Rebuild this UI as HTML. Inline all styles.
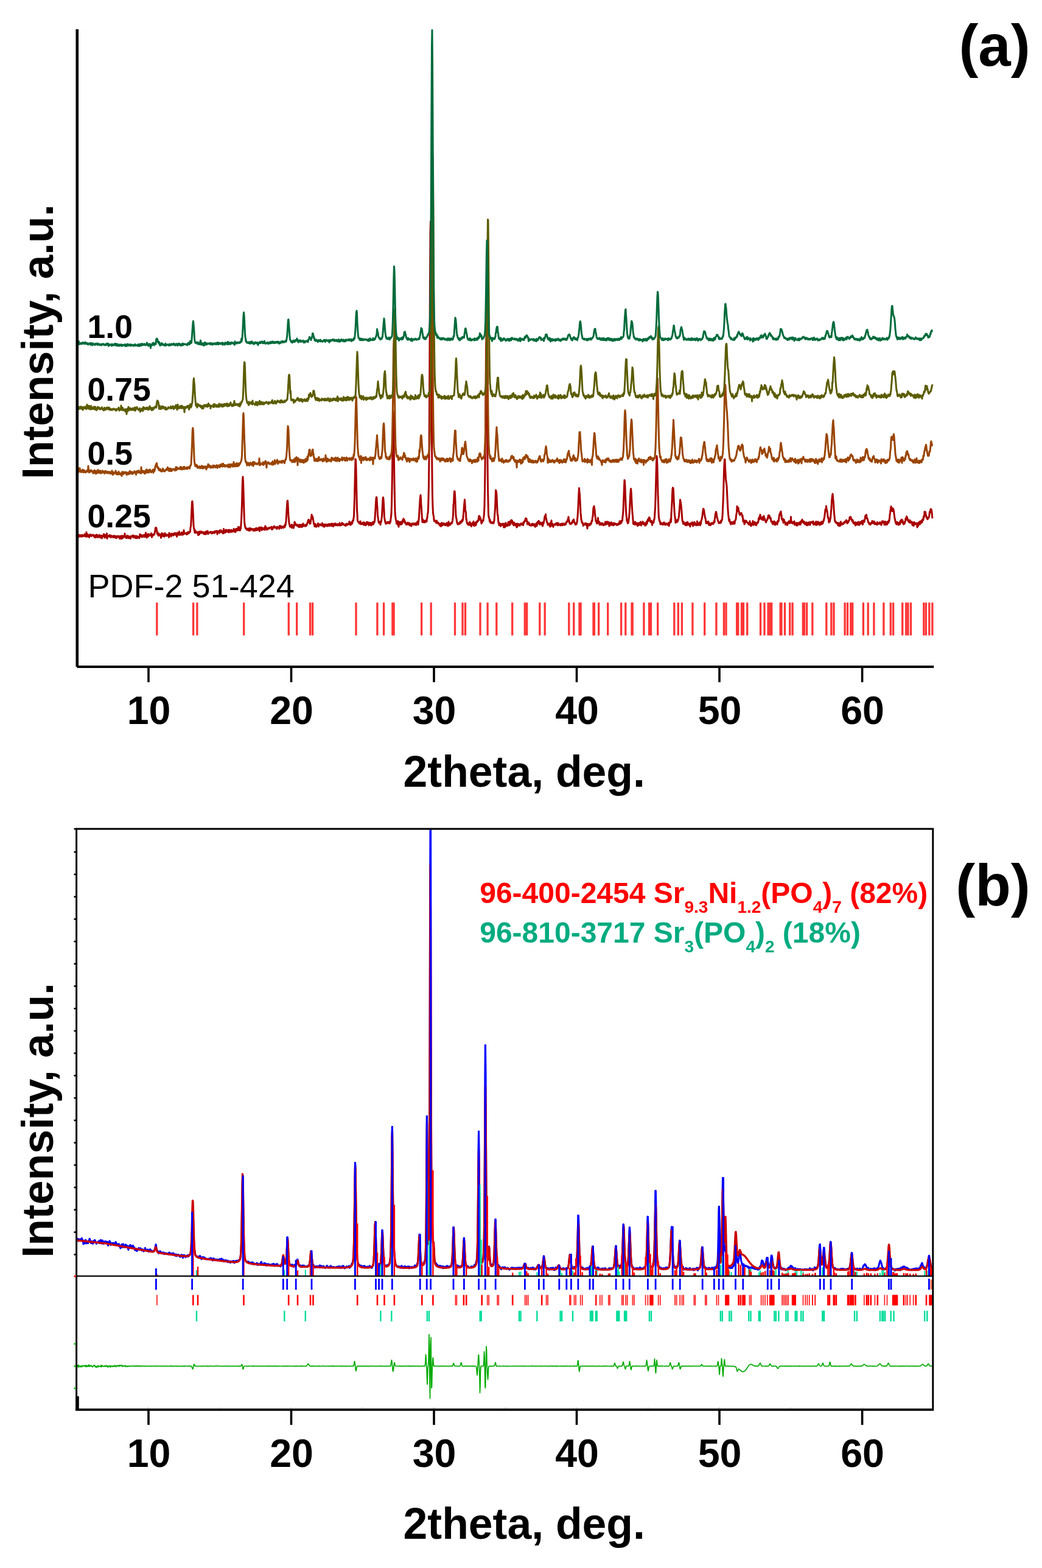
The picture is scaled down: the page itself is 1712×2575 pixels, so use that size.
<!DOCTYPE html>
<html><head><meta charset="utf-8"><title>XRD patterns</title>
<style>html,body{margin:0;padding:0;background:#fff;} svg{display:block;}</style>
</head><body>
<svg width="1712" height="2575" viewBox="0 0 1712 2575">
<rect x="0" y="0" width="1712" height="2575" fill="#ffffff"/>
<g stroke="#ff3535" stroke-width="3.3">
<line x1="257.8" y1="989.5" x2="257.8" y2="1043.5"/><line x1="317.6" y1="989.5" x2="317.6" y2="1043.5"/><line x1="323.9" y1="989.5" x2="323.9" y2="1043.5"/><line x1="400.7" y1="989.5" x2="400.7" y2="1043.5"/><line x1="474.3" y1="989.5" x2="474.3" y2="1043.5"/><line x1="487.7" y1="989.5" x2="487.7" y2="1043.5"/><line x1="509.6" y1="989.5" x2="509.6" y2="1043.5"/><line x1="513.6" y1="989.5" x2="513.6" y2="1043.5"/><line x1="585.0" y1="989.5" x2="585.0" y2="1043.5"/><line x1="619.9" y1="989.5" x2="619.9" y2="1043.5"/><line x1="630.6" y1="989.5" x2="630.6" y2="1043.5"/><line x1="644.9" y1="989.5" x2="644.9" y2="1043.5"/><line x1="647.1" y1="989.5" x2="647.1" y2="1043.5"/><line x1="692.6" y1="989.5" x2="692.6" y2="1043.5"/><line x1="708.2" y1="989.5" x2="708.2" y2="1043.5"/><line x1="747.5" y1="989.5" x2="747.5" y2="1043.5"/><line x1="760.0" y1="989.5" x2="760.0" y2="1043.5"/><line x1="764.5" y1="989.5" x2="764.5" y2="1043.5"/><line x1="789.0" y1="989.5" x2="789.0" y2="1043.5"/><line x1="801.1" y1="989.5" x2="801.1" y2="1043.5"/><line x1="815.8" y1="989.5" x2="815.8" y2="1043.5"/><line x1="841.7" y1="989.5" x2="841.7" y2="1043.5"/><line x1="862.3" y1="989.5" x2="862.3" y2="1043.5"/><line x1="865.7" y1="989.5" x2="865.7" y2="1043.5"/><line x1="886.8" y1="989.5" x2="886.8" y2="1043.5"/><line x1="895.2" y1="989.5" x2="895.2" y2="1043.5"/><line x1="934.8" y1="989.5" x2="934.8" y2="1043.5"/><line x1="942.8" y1="989.5" x2="942.8" y2="1043.5"/><line x1="952.0" y1="989.5" x2="952.0" y2="1043.5"/><line x1="954.1" y1="989.5" x2="954.1" y2="1043.5"/><line x1="975.0" y1="989.5" x2="975.0" y2="1043.5"/><line x1="976.4" y1="989.5" x2="976.4" y2="1043.5"/><line x1="983.7" y1="989.5" x2="983.7" y2="1043.5"/><line x1="998.7" y1="989.5" x2="998.7" y2="1043.5"/><line x1="1020.6" y1="989.5" x2="1020.6" y2="1043.5"/><line x1="1027.8" y1="989.5" x2="1027.8" y2="1043.5"/><line x1="1038.0" y1="989.5" x2="1038.0" y2="1043.5"/><line x1="1039.2" y1="989.5" x2="1039.2" y2="1043.5"/><line x1="1057.9" y1="989.5" x2="1057.9" y2="1043.5"/><line x1="1066.6" y1="989.5" x2="1066.6" y2="1043.5"/><line x1="1069.5" y1="989.5" x2="1069.5" y2="1043.5"/><line x1="1080.7" y1="989.5" x2="1080.7" y2="1043.5"/><line x1="1107.8" y1="989.5" x2="1107.8" y2="1043.5"/><line x1="1114.3" y1="989.5" x2="1114.3" y2="1043.5"/><line x1="1120.4" y1="989.5" x2="1120.4" y2="1043.5"/><line x1="1137.9" y1="989.5" x2="1137.9" y2="1043.5"/><line x1="1157.7" y1="989.5" x2="1157.7" y2="1043.5"/><line x1="1176.9" y1="989.5" x2="1176.9" y2="1043.5"/><line x1="1189.4" y1="989.5" x2="1189.4" y2="1043.5"/><line x1="1193.0" y1="989.5" x2="1193.0" y2="1043.5"/><line x1="1210.7" y1="989.5" x2="1210.7" y2="1043.5"/><line x1="1212.7" y1="989.5" x2="1212.7" y2="1043.5"/><line x1="1218.5" y1="989.5" x2="1218.5" y2="1043.5"/><line x1="1221.4" y1="989.5" x2="1221.4" y2="1043.5"/><line x1="1227.7" y1="989.5" x2="1227.7" y2="1043.5"/><line x1="1249.5" y1="989.5" x2="1249.5" y2="1043.5"/><line x1="1256.0" y1="989.5" x2="1256.0" y2="1043.5"/><line x1="1262.1" y1="989.5" x2="1262.1" y2="1043.5"/><line x1="1265.0" y1="989.5" x2="1265.0" y2="1043.5"/><line x1="1267.7" y1="989.5" x2="1267.7" y2="1043.5"/><line x1="1282.2" y1="989.5" x2="1282.2" y2="1043.5"/><line x1="1283.9" y1="989.5" x2="1283.9" y2="1043.5"/><line x1="1289.5" y1="989.5" x2="1289.5" y2="1043.5"/><line x1="1297.7" y1="989.5" x2="1297.7" y2="1043.5"/><line x1="1302.1" y1="989.5" x2="1302.1" y2="1043.5"/><line x1="1319.3" y1="989.5" x2="1319.3" y2="1043.5"/><line x1="1321.5" y1="989.5" x2="1321.5" y2="1043.5"/><line x1="1325.6" y1="989.5" x2="1325.6" y2="1043.5"/><line x1="1334.8" y1="989.5" x2="1334.8" y2="1043.5"/><line x1="1357.8" y1="989.5" x2="1357.8" y2="1043.5"/><line x1="1365.8" y1="989.5" x2="1365.8" y2="1043.5"/><line x1="1370.0" y1="989.5" x2="1370.0" y2="1043.5"/><line x1="1388.1" y1="989.5" x2="1388.1" y2="1043.5"/><line x1="1392.5" y1="989.5" x2="1392.5" y2="1043.5"/><line x1="1397.8" y1="989.5" x2="1397.8" y2="1043.5"/><line x1="1400.7" y1="989.5" x2="1400.7" y2="1043.5"/><line x1="1418.4" y1="989.5" x2="1418.4" y2="1043.5"/><line x1="1426.2" y1="989.5" x2="1426.2" y2="1043.5"/><line x1="1435.9" y1="989.5" x2="1435.9" y2="1043.5"/><line x1="1451.9" y1="989.5" x2="1451.9" y2="1043.5"/><line x1="1463.3" y1="989.5" x2="1463.3" y2="1043.5"/><line x1="1467.6" y1="989.5" x2="1467.6" y2="1043.5"/><line x1="1482.7" y1="989.5" x2="1482.7" y2="1043.5"/><line x1="1488.7" y1="989.5" x2="1488.7" y2="1043.5"/><line x1="1491.9" y1="989.5" x2="1491.9" y2="1043.5"/><line x1="1496.5" y1="989.5" x2="1496.5" y2="1043.5"/><line x1="1517.8" y1="989.5" x2="1517.8" y2="1043.5"/><line x1="1521.4" y1="989.5" x2="1521.4" y2="1043.5"/><line x1="1526.8" y1="989.5" x2="1526.8" y2="1043.5"/><line x1="1531.9" y1="989.5" x2="1531.9" y2="1043.5"/>
</g>
<polyline fill="none" stroke="#a80000" stroke-width="3" stroke-linejoin="round" points="127.0,881.0 127.5,876.6 128.0,878.3 128.5,879.0 129.0,878.5 129.5,881.5 130.0,879.8 130.5,880.9 131.0,878.6 131.5,879.2 132.0,880.6 132.5,879.1 133.0,879.1 133.5,881.2 134.0,879.0 134.5,881.1 135.0,878.4 135.5,878.8 136.0,880.3 136.5,880.1 137.0,880.7 137.5,879.4 138.0,879.3 138.5,878.7 139.0,877.2 139.5,878.9 140.0,880.9 140.5,879.4 141.0,879.8 141.5,881.3 142.0,874.0 142.5,880.1 143.0,878.8 143.5,881.2 144.0,877.6 144.5,879.2 145.0,878.9 145.5,879.2 146.0,878.9 146.5,882.4 147.0,879.4 147.5,879.6 148.0,877.8 148.5,877.9 149.0,878.8 149.5,878.1 150.0,880.6 150.5,879.1 151.0,879.3 151.5,879.7 152.0,878.7 152.5,878.2 153.0,879.0 153.5,879.8 154.0,879.9 154.5,878.9 155.0,882.3 155.5,880.6 156.0,881.1 156.5,882.3 157.0,878.9 157.5,882.7 158.0,880.5 158.5,881.5 159.0,878.1 159.5,879.1 160.0,880.3 160.5,880.2 161.0,882.5 161.5,879.8 162.0,880.7 162.5,879.9 163.0,878.6 163.5,879.9 164.0,880.6 164.5,882.9 165.0,882.2 165.5,879.7 166.0,879.3 166.5,880.5 167.0,879.8 167.5,884.0 168.0,881.8 168.5,880.5 169.0,879.9 169.5,879.2 170.0,880.6 170.5,877.1 171.0,880.2 171.5,880.1 172.0,882.9 172.5,878.3 173.0,882.1 173.5,880.4 174.0,881.9 174.5,879.8 175.0,881.5 175.5,876.0 176.0,884.5 176.5,879.8 177.0,880.8 177.5,880.8 178.0,880.2 178.5,880.9 179.0,881.1 179.5,880.6 180.0,878.7 180.5,881.5 181.0,879.1 181.5,881.0 182.0,882.6 182.5,879.4 183.0,881.0 183.5,881.5 184.0,881.2 184.5,880.6 185.0,881.3 185.5,882.3 186.0,879.9 186.5,881.1 187.0,882.4 187.5,880.6 188.0,879.7 188.5,882.5 189.0,882.4 189.5,882.8 190.0,881.5 190.5,880.6 191.0,883.7 191.5,883.3 192.0,882.7 192.5,880.9 193.0,881.8 193.5,880.4 194.0,880.2 194.5,881.8 195.0,882.2 195.5,882.5 196.0,881.9 196.5,884.6 197.0,880.4 197.5,883.6 198.0,881.3 198.5,883.2 199.0,880.6 199.5,885.0 200.0,883.9 200.5,879.7 201.0,883.8 201.5,882.2 202.0,883.3 202.5,882.0 203.0,881.8 203.5,880.0 204.0,881.2 204.5,881.8 205.0,876.3 205.5,880.4 206.0,881.8 206.5,882.4 207.0,881.1 207.5,883.7 208.0,881.0 208.5,882.5 209.0,879.6 209.5,880.5 210.0,883.2 210.5,881.4 211.0,880.4 211.5,883.8 212.0,883.8 212.5,881.1 213.0,883.0 213.5,882.8 214.0,881.4 214.5,884.5 215.0,881.2 215.5,880.4 216.0,881.4 216.5,881.1 217.0,880.7 217.5,880.8 218.0,879.3 218.5,882.0 219.0,879.3 219.5,882.7 220.0,882.1 220.5,880.5 221.0,880.5 221.5,880.1 222.0,881.0 222.5,883.5 223.0,881.4 223.5,880.3 224.0,883.4 224.5,880.3 225.0,880.4 225.5,883.8 226.0,881.8 226.5,882.5 227.0,881.6 227.5,881.5 228.0,881.7 228.5,881.8 229.0,883.8 229.5,879.0 230.0,877.3 230.5,880.2 231.0,878.5 231.5,880.7 232.0,878.8 232.5,880.5 233.0,882.0 233.5,879.7 234.0,879.4 234.5,881.5 235.0,879.3 235.5,880.2 236.0,880.1 236.5,878.5 237.0,881.6 237.5,878.7 238.0,881.4 238.5,880.7 239.0,878.6 239.5,874.8 240.0,881.3 240.5,879.6 241.0,883.1 241.5,878.6 242.0,881.6 242.5,877.6 243.0,879.5 243.5,881.3 244.0,877.1 244.5,880.2 245.0,878.2 245.5,877.8 246.0,878.6 246.5,878.9 247.0,878.9 247.5,878.7 248.0,878.3 248.5,875.8 249.0,881.2 249.5,882.3 250.0,879.9 250.5,878.8 251.0,877.7 251.5,879.4 252.0,879.2 252.5,877.2 253.0,877.6 253.5,877.9 254.0,875.6 254.5,872.9 255.0,870.5 255.5,866.8 256.0,866.3 256.5,866.7 257.0,867.5 257.5,870.9 258.0,874.9 258.5,877.1 259.0,873.9 259.5,875.8 260.0,879.6 260.5,879.1 261.0,879.2 261.5,876.6 262.0,878.7 262.5,879.5 263.0,879.3 263.5,877.6 264.0,877.8 264.5,883.3 265.0,878.9 265.5,880.5 266.0,875.4 266.5,877.8 267.0,880.3 267.5,876.9 268.0,878.7 268.5,880.6 269.0,877.1 269.5,878.9 270.0,881.2 270.5,876.6 271.0,875.6 271.5,879.9 272.0,877.7 272.5,878.3 273.0,878.4 273.5,880.0 274.0,877.9 274.5,879.6 275.0,879.3 275.5,878.2 276.0,879.7 276.5,878.6 277.0,878.0 277.5,882.4 278.0,875.2 278.5,876.4 279.0,876.6 279.5,877.4 280.0,878.2 280.5,877.6 281.0,881.1 281.5,877.1 282.0,876.3 282.5,877.8 283.0,877.2 283.5,877.1 284.0,879.1 284.5,878.2 285.0,879.3 285.5,876.1 286.0,878.5 286.5,877.6 287.0,876.7 287.5,875.3 288.0,877.4 288.5,875.8 289.0,878.5 289.5,878.1 290.0,878.1 290.5,881.3 291.0,879.2 291.5,874.7 292.0,878.1 292.5,877.6 293.0,877.5 293.5,876.5 294.0,878.5 294.5,873.1 295.0,875.2 295.5,878.0 296.0,877.3 296.5,878.3 297.0,876.4 297.5,876.2 298.0,878.0 298.5,874.5 299.0,874.4 299.5,878.2 300.0,875.2 300.5,878.0 301.0,877.0 301.5,877.5 302.0,870.7 302.5,875.2 303.0,875.6 303.5,876.4 304.0,876.1 304.5,876.4 305.0,875.6 305.5,876.4 306.0,876.6 306.5,875.3 307.0,877.7 307.5,877.2 308.0,874.4 308.5,876.5 309.0,876.4 309.5,873.5 310.0,875.8 310.5,874.6 311.0,875.2 311.5,874.2 312.0,874.2 312.5,872.5 313.0,866.2 313.5,864.5 314.0,857.1 314.5,846.4 315.0,835.1 315.5,824.2 316.0,823.2 316.5,828.8 317.0,838.1 317.5,849.6 318.0,862.1 318.5,867.8 319.0,868.0 319.5,870.9 320.0,874.9 320.5,873.8 321.0,871.2 321.5,874.3 322.0,875.1 322.5,874.7 323.0,873.9 323.5,873.9 324.0,873.7 324.5,873.9 325.0,875.3 325.5,878.6 326.0,878.8 326.5,874.9 327.0,873.1 327.5,877.7 328.0,874.8 328.5,874.8 329.0,872.8 329.5,875.1 330.0,874.2 330.5,875.2 331.0,872.9 331.5,875.2 332.0,873.4 332.5,873.9 333.0,874.2 333.5,874.3 334.0,874.3 334.5,876.7 335.0,874.1 335.5,874.0 336.0,874.1 336.5,874.5 337.0,877.6 337.5,876.2 338.0,874.0 338.5,872.9 339.0,876.4 339.5,874.8 340.0,875.2 340.5,876.4 341.0,871.9 341.5,873.8 342.0,874.9 342.5,876.6 343.0,874.4 343.5,874.6 344.0,874.4 344.5,874.4 345.0,874.6 345.5,873.5 346.0,873.3 346.5,873.7 347.0,875.1 347.5,875.9 348.0,874.4 348.5,873.7 349.0,875.9 349.5,874.9 350.0,875.1 350.5,873.8 351.0,873.4 351.5,874.6 352.0,873.7 352.5,875.5 353.0,872.5 353.5,874.2 354.0,873.8 354.5,872.2 355.0,873.1 355.5,872.1 356.0,873.1 356.5,873.2 357.0,877.3 357.5,872.0 358.0,874.4 358.5,872.7 359.0,873.9 359.5,872.8 360.0,872.1 360.5,875.3 361.0,874.8 361.5,870.7 362.0,872.9 362.5,872.6 363.0,870.8 363.5,873.3 364.0,873.7 364.5,873.0 365.0,873.6 365.5,875.4 366.0,872.2 366.5,874.6 367.0,875.9 367.5,868.6 368.0,872.3 368.5,874.6 369.0,873.1 369.5,874.9 370.0,874.6 370.5,873.7 371.0,870.1 371.5,873.6 372.0,872.1 372.5,872.6 373.0,870.6 373.5,873.0 374.0,872.4 374.5,870.8 375.0,871.6 375.5,874.1 376.0,874.2 376.5,869.9 377.0,872.7 377.5,871.5 378.0,871.1 378.5,872.2 379.0,873.9 379.5,872.5 380.0,870.3 380.5,871.7 381.0,872.2 381.5,873.1 382.0,871.4 382.5,871.6 383.0,871.7 383.5,872.3 384.0,868.6 384.5,873.2 385.0,871.6 385.5,871.1 386.0,869.5 386.5,871.3 387.0,873.8 387.5,870.0 388.0,868.4 388.5,871.3 389.0,870.6 389.5,870.4 390.0,868.2 390.5,870.9 391.0,871.0 391.5,865.3 392.0,870.0 392.5,870.7 393.0,868.0 393.5,865.9 394.0,868.7 394.5,871.1 395.0,867.5 395.5,868.3 396.0,861.9 396.5,854.3 397.0,842.1 397.5,829.1 398.0,806.1 398.5,790.1 399.0,782.9 399.5,790.2 400.0,806.2 400.5,823.0 401.0,840.0 401.5,855.8 402.0,860.6 402.5,864.3 403.0,865.8 403.5,867.7 404.0,866.7 404.5,867.6 405.0,869.5 405.5,868.6 406.0,870.1 406.5,868.6 407.0,868.3 407.5,870.4 408.0,868.9 408.5,867.9 409.0,871.4 409.5,868.9 410.0,869.8 410.5,871.3 411.0,867.3 411.5,868.7 412.0,870.5 412.5,868.7 413.0,868.5 413.5,868.9 414.0,868.6 414.5,868.6 415.0,869.6 415.5,869.1 416.0,871.4 416.5,869.4 417.0,871.3 417.5,869.1 418.0,871.4 418.5,868.6 419.0,870.6 419.5,869.0 420.0,871.1 420.5,867.6 421.0,868.0 421.5,869.2 422.0,867.2 422.5,870.7 423.0,868.3 423.5,869.3 424.0,870.0 424.5,869.3 425.0,867.4 425.5,866.5 426.0,866.0 426.5,872.4 427.0,867.2 427.5,867.1 428.0,868.9 428.5,866.2 429.0,865.8 429.5,868.4 430.0,870.6 430.5,866.7 431.0,867.8 431.5,867.9 432.0,869.5 432.5,869.1 433.0,867.2 433.5,869.2 434.0,867.9 434.5,868.9 435.0,870.3 435.5,864.6 436.0,863.9 436.5,865.7 437.0,865.8 437.5,867.7 438.0,867.7 438.5,870.0 439.0,869.5 439.5,867.9 440.0,867.3 440.5,868.4 441.0,868.0 441.5,866.7 442.0,868.3 442.5,866.6 443.0,867.1 443.5,867.0 444.0,866.3 444.5,866.2 445.0,867.2 445.5,866.9 446.0,865.3 446.5,869.4 447.0,869.4 447.5,869.3 448.0,868.6 448.5,866.7 449.0,865.5 449.5,865.4 450.0,864.3 450.5,866.3 451.0,864.3 451.5,866.8 452.0,866.8 452.5,865.8 453.0,865.8 453.5,866.4 454.0,867.3 454.5,866.0 455.0,868.8 455.5,865.1 456.0,865.5 456.5,865.6 457.0,866.0 457.5,866.5 458.0,867.0 458.5,865.7 459.0,868.4 459.5,863.4 460.0,866.4 460.5,866.0 461.0,864.0 461.5,863.8 462.0,866.0 462.5,867.4 463.0,866.2 463.5,865.5 464.0,865.1 464.5,864.7 465.0,864.8 465.5,866.1 466.0,866.6 466.5,865.7 467.0,863.8 467.5,865.3 468.0,865.6 468.5,860.9 469.0,862.7 469.5,859.2 470.0,855.9 470.5,847.4 471.0,838.9 471.5,830.8 472.0,823.2 472.5,822.1 473.0,827.0 473.5,837.9 474.0,847.9 474.5,852.3 475.0,858.9 475.5,860.7 476.0,863.1 476.5,865.0 477.0,864.2 477.5,863.8 478.0,862.7 478.5,865.8 479.0,866.6 479.5,861.6 480.0,865.2 480.5,864.1 481.0,862.6 481.5,866.8 482.0,865.0 482.5,867.1 483.0,862.8 483.5,862.9 484.0,857.0 484.5,862.4 485.0,859.1 485.5,860.4 486.0,862.0 486.5,861.2 487.0,862.4 487.5,861.9 488.0,863.5 488.5,862.9 489.0,861.7 489.5,864.4 490.0,863.8 490.5,862.8 491.0,862.4 491.5,865.7 492.0,861.7 492.5,862.8 493.0,864.4 493.5,864.8 494.0,864.2 494.5,861.7 495.0,865.4 495.5,863.6 496.0,861.7 496.5,865.2 497.0,863.6 497.5,861.1 498.0,859.9 498.5,863.3 499.0,862.6 499.5,863.9 500.0,863.6 500.5,862.3 501.0,863.9 501.5,863.5 502.0,861.7 502.5,864.1 503.0,863.2 503.5,862.3 504.0,862.6 504.5,860.2 505.0,859.0 505.5,858.2 506.0,855.0 506.5,856.4 507.0,853.3 507.5,853.9 508.0,856.6 508.5,857.8 509.0,860.1 509.5,856.6 510.0,859.8 510.5,855.4 511.0,853.2 511.5,850.9 512.0,845.3 512.5,846.7 513.0,847.7 513.5,851.7 514.0,849.4 514.5,853.4 515.0,856.1 515.5,860.2 516.0,861.0 516.5,862.1 517.0,864.6 517.5,862.2 518.0,860.3 518.5,862.9 519.0,865.0 519.5,865.2 520.0,862.4 520.5,862.7 521.0,863.0 521.5,863.4 522.0,862.3 522.5,859.5 523.0,864.7 523.5,864.7 524.0,862.6 524.5,861.7 525.0,861.6 525.5,860.9 526.0,860.8 526.5,862.1 527.0,861.5 527.5,862.9 528.0,861.8 528.5,861.2 529.0,861.9 529.5,858.9 530.0,863.0 530.5,862.1 531.0,864.4 531.5,861.8 532.0,862.2 532.5,861.1 533.0,865.3 533.5,862.8 534.0,864.1 534.5,861.9 535.0,863.2 535.5,861.0 536.0,861.4 536.5,861.9 537.0,863.9 537.5,863.3 538.0,863.4 538.5,863.9 539.0,861.0 539.5,861.4 540.0,862.2 540.5,863.1 541.0,860.4 541.5,861.8 542.0,863.6 542.5,862.3 543.0,862.0 543.5,860.5 544.0,861.6 544.5,863.1 545.0,863.5 545.5,859.7 546.0,862.6 546.5,861.5 547.0,860.7 547.5,864.6 548.0,862.9 548.5,860.4 549.0,860.5 549.5,862.2 550.0,859.8 550.5,861.6 551.0,862.6 551.5,860.0 552.0,862.1 552.5,862.4 553.0,860.9 553.5,862.3 554.0,862.7 554.5,862.4 555.0,860.8 555.5,862.9 556.0,861.3 556.5,862.0 557.0,861.8 557.5,861.7 558.0,858.8 558.5,863.1 559.0,862.3 559.5,861.8 560.0,862.4 560.5,861.0 561.0,861.3 561.5,862.2 562.0,858.5 562.5,860.4 563.0,860.6 563.5,861.0 564.0,860.7 564.5,860.3 565.0,861.7 565.5,862.4 566.0,862.0 566.5,862.7 567.0,862.0 567.5,863.3 568.0,863.4 568.5,860.5 569.0,860.0 569.5,860.3 570.0,860.6 570.5,862.1 571.0,861.7 571.5,861.2 572.0,860.0 572.5,860.3 573.0,860.5 573.5,861.0 574.0,856.4 574.5,860.9 575.0,861.1 575.5,859.3 576.0,862.2 576.5,861.1 577.0,860.9 577.5,857.4 578.0,860.5 578.5,859.3 579.0,858.9 579.5,854.8 580.0,855.0 580.5,855.0 581.0,850.3 581.5,847.7 582.0,833.0 582.5,818.2 583.0,794.9 583.5,774.5 584.0,753.9 584.5,755.0 585.0,767.7 585.5,790.2 586.0,815.4 586.5,836.9 587.0,844.0 587.5,855.3 588.0,855.9 588.5,856.8 589.0,858.0 589.5,858.5 590.0,857.9 590.5,859.2 591.0,859.9 591.5,858.4 592.0,855.9 592.5,860.7 593.0,858.9 593.5,860.7 594.0,858.8 594.5,860.6 595.0,859.8 595.5,859.7 596.0,860.1 596.5,860.7 597.0,857.8 597.5,862.1 598.0,861.8 598.5,860.8 599.0,858.1 599.5,861.6 600.0,860.4 600.5,862.7 601.0,859.8 601.5,860.2 602.0,861.8 602.5,857.4 603.0,859.9 603.5,860.2 604.0,857.2 604.5,859.1 605.0,860.8 605.5,860.9 606.0,862.7 606.5,861.7 607.0,858.5 607.5,861.5 608.0,860.9 608.5,860.4 609.0,858.6 609.5,862.9 610.0,862.7 610.5,860.5 611.0,858.9 611.5,858.3 612.0,858.2 612.5,861.0 613.0,857.1 613.5,860.9 614.0,858.6 614.5,858.6 615.0,857.8 615.5,856.2 616.0,851.0 616.5,843.2 617.0,835.5 617.5,826.0 618.0,818.3 618.5,816.4 619.0,817.6 619.5,827.3 620.0,834.1 620.5,845.8 621.0,849.8 621.5,852.6 622.0,857.5 622.5,858.7 623.0,856.6 623.5,857.6 624.0,856.8 624.5,859.4 625.0,861.7 625.5,858.4 626.0,857.6 626.5,856.1 627.0,850.6 627.5,847.6 628.0,837.0 628.5,828.5 629.0,819.2 629.5,816.8 630.0,819.9 630.5,828.0 631.0,838.2 631.5,848.9 632.0,852.7 632.5,854.8 633.0,857.9 633.5,857.4 634.0,860.2 634.5,859.9 635.0,858.4 635.5,858.9 636.0,859.1 636.5,857.5 637.0,857.3 637.5,858.6 638.0,857.3 638.5,858.4 639.0,859.4 639.5,857.5 640.0,858.2 640.5,859.4 641.0,855.5 641.5,857.1 642.0,852.0 642.5,848.1 643.0,843.0 643.5,829.3 644.0,805.0 644.5,775.1 645.0,735.1 645.5,694.6 646.0,675.3 646.5,684.3 647.0,715.3 647.5,758.3 648.0,792.7 648.5,819.0 649.0,839.9 649.5,846.5 650.0,851.1 650.5,854.2 651.0,854.9 651.5,859.8 652.0,858.1 652.5,859.1 653.0,859.6 653.5,861.7 654.0,855.7 654.5,860.2 655.0,865.2 655.5,859.6 656.0,861.2 656.5,860.6 657.0,857.3 657.5,860.3 658.0,859.6 658.5,861.5 659.0,856.9 659.5,860.7 660.0,859.8 660.5,860.1 661.0,859.0 661.5,854.3 662.0,856.8 662.5,854.2 663.0,851.8 663.5,853.9 664.0,853.2 664.5,857.1 665.0,857.9 665.5,856.2 666.0,860.0 666.5,859.6 667.0,860.0 667.5,860.0 668.0,861.8 668.5,859.3 669.0,861.1 669.5,858.3 670.0,861.0 670.5,859.8 671.0,858.8 671.5,860.5 672.0,859.0 672.5,862.2 673.0,859.0 673.5,862.9 674.0,861.8 674.5,860.7 675.0,861.5 675.5,860.9 676.0,863.9 676.5,861.3 677.0,859.7 677.5,861.1 678.0,860.0 678.5,860.4 679.0,859.6 679.5,861.3 680.0,861.6 680.5,860.3 681.0,861.4 681.5,859.8 682.0,860.1 682.5,859.4 683.0,861.9 683.5,862.3 684.0,859.7 684.5,861.0 685.0,857.5 685.5,857.5 686.0,860.0 686.5,856.0 687.0,861.5 687.5,857.3 688.0,853.3 688.5,847.7 689.0,838.7 689.5,830.3 690.0,821.0 690.5,816.8 691.0,812.9 691.5,818.2 692.0,830.2 692.5,835.4 693.0,844.1 693.5,852.5 694.0,857.6 694.5,853.6 695.0,853.4 695.5,856.2 696.0,857.7 696.5,856.2 697.0,856.4 697.5,855.2 698.0,858.0 698.5,855.7 699.0,855.0 699.5,855.5 700.0,856.8 700.5,854.2 701.0,856.6 701.5,851.0 702.0,850.6 702.5,844.2 703.0,842.6 703.5,836.6 704.0,817.5 704.5,795.7 705.0,748.7 705.5,673.1 706.0,573.0 706.5,464.5 707.0,381.6 707.5,363.6 708.0,426.1 708.5,529.5 709.0,639.1 709.5,726.2 710.0,780.7 710.5,815.6 711.0,832.2 711.5,842.2 712.0,846.0 712.5,847.3 713.0,853.9 713.5,855.9 714.0,854.8 714.5,854.8 715.0,856.3 715.5,856.4 716.0,856.2 716.5,858.4 717.0,858.0 717.5,854.9 718.0,857.9 718.5,859.5 719.0,859.4 719.5,858.9 720.0,858.1 720.5,859.8 721.0,859.8 721.5,860.5 722.0,862.4 722.5,860.0 723.0,861.6 723.5,860.8 724.0,864.2 724.5,861.0 725.0,864.1 725.5,858.9 726.0,858.6 726.5,861.1 727.0,860.3 727.5,862.4 728.0,861.8 728.5,861.8 729.0,859.5 729.5,860.6 730.0,861.9 730.5,859.9 731.0,860.8 731.5,862.5 732.0,860.7 732.5,861.1 733.0,862.6 733.5,861.5 734.0,858.7 734.5,861.0 735.0,860.8 735.5,861.3 736.0,864.1 736.5,862.4 737.0,856.8 737.5,859.7 738.0,861.9 738.5,860.8 739.0,862.4 739.5,860.9 740.0,861.8 740.5,859.0 741.0,859.7 741.5,859.8 742.0,858.2 742.5,859.3 743.0,857.1 743.5,855.0 744.0,850.7 744.5,845.3 745.0,828.3 745.5,826.5 746.0,814.4 746.5,806.7 747.0,806.7 747.5,811.8 748.0,821.9 748.5,835.8 749.0,846.8 749.5,850.7 750.0,851.6 750.5,856.4 751.0,858.4 751.5,860.1 752.0,860.3 752.5,861.2 753.0,859.1 753.5,859.2 754.0,860.4 754.5,859.0 755.0,859.5 755.5,860.1 756.0,856.8 756.5,856.9 757.0,859.0 757.5,856.4 758.0,857.5 758.5,855.0 759.0,854.1 759.5,856.6 760.0,854.8 760.5,854.0 761.0,849.0 761.5,843.6 762.0,837.6 762.5,830.1 763.0,825.6 763.5,820.5 764.0,827.5 764.5,836.4 765.0,840.7 765.5,840.8 766.0,853.5 766.5,852.8 767.0,857.9 767.5,859.0 768.0,860.7 768.5,859.0 769.0,859.5 769.5,862.0 770.0,862.1 770.5,859.1 771.0,860.2 771.5,859.6 772.0,857.0 772.5,862.4 773.0,859.9 773.5,860.9 774.0,861.2 774.5,864.4 775.0,862.2 775.5,859.9 776.0,858.8 776.5,861.4 777.0,861.1 777.5,860.1 778.0,856.3 778.5,863.3 779.0,861.8 779.5,860.8 780.0,862.7 780.5,863.3 781.0,860.0 781.5,857.7 782.0,862.2 782.5,859.6 783.0,857.0 783.5,857.8 784.0,857.4 784.5,855.3 785.0,856.1 785.5,854.4 786.0,855.3 786.5,850.2 787.0,847.3 787.5,848.8 788.0,847.8 788.5,850.6 789.0,853.4 789.5,850.8 790.0,853.2 790.5,856.4 791.0,859.7 791.5,856.3 792.0,858.4 792.5,855.5 793.0,854.8 793.5,854.3 794.0,855.4 794.5,850.8 795.0,848.2 795.5,842.1 796.0,830.2 796.5,804.9 797.0,766.1 797.5,709.9 798.0,640.4 798.5,577.4 799.0,549.5 799.5,571.4 800.0,628.8 800.5,696.1 801.0,756.0 801.5,799.2 802.0,823.3 802.5,844.5 803.0,848.7 803.5,850.3 804.0,852.1 804.5,856.4 805.0,853.6 805.5,854.9 806.0,858.5 806.5,857.4 807.0,859.0 807.5,858.3 808.0,858.4 808.5,857.6 809.0,859.3 809.5,858.9 810.0,858.8 810.5,857.6 811.0,859.4 811.5,856.6 812.0,855.1 812.5,848.4 813.0,841.0 813.5,835.1 814.0,821.9 814.5,804.9 815.0,806.2 815.5,808.5 816.0,814.0 816.5,825.1 817.0,837.3 817.5,846.4 818.0,845.6 818.5,853.0 819.0,858.9 819.5,857.8 820.0,862.6 820.5,858.9 821.0,860.5 821.5,860.3 822.0,860.9 822.5,864.3 823.0,860.4 823.5,862.4 824.0,861.0 824.5,860.6 825.0,862.2 825.5,861.7 826.0,861.0 826.5,859.9 827.0,861.9 827.5,865.9 828.0,863.4 828.5,862.3 829.0,860.6 829.5,866.0 830.0,859.4 830.5,864.6 831.0,858.8 831.5,862.5 832.0,861.7 832.5,862.1 833.0,861.5 833.5,863.8 834.0,863.5 834.5,863.2 835.0,857.5 835.5,860.0 836.0,861.4 836.5,862.3 837.0,856.6 837.5,862.4 838.0,859.7 838.5,860.5 839.0,856.1 839.5,855.0 840.0,854.1 840.5,854.8 841.0,855.3 841.5,854.9 842.0,860.4 842.5,860.3 843.0,859.1 843.5,857.8 844.0,862.8 844.5,858.0 845.0,859.8 845.5,859.7 846.0,860.5 846.5,862.2 847.0,862.8 847.5,862.1 848.0,859.9 848.5,863.5 849.0,866.0 849.5,862.8 850.0,865.1 850.5,860.1 851.0,860.5 851.5,860.5 852.0,860.7 852.5,862.6 853.0,861.9 853.5,861.0 854.0,863.3 854.5,861.5 855.0,860.7 855.5,860.6 856.0,859.6 856.5,861.1 857.0,860.1 857.5,861.0 858.0,861.5 858.5,861.3 859.0,859.6 859.5,862.5 860.0,857.4 860.5,859.5 861.0,857.8 861.5,857.5 862.0,855.4 862.5,854.3 863.0,855.5 863.5,851.3 864.0,853.6 864.5,851.6 865.0,851.9 865.5,855.8 866.0,856.2 866.5,861.1 867.0,856.7 867.5,860.2 868.0,860.7 868.5,858.8 869.0,860.5 869.5,858.9 870.0,862.5 870.5,862.5 871.0,862.0 871.5,861.9 872.0,863.3 872.5,863.0 873.0,862.6 873.5,860.6 874.0,863.0 874.5,860.3 875.0,862.1 875.5,860.1 876.0,861.3 876.5,862.7 877.0,861.1 877.5,862.9 878.0,860.9 878.5,864.0 879.0,861.3 879.5,865.3 880.0,862.5 880.5,861.3 881.0,859.7 881.5,860.5 882.0,863.7 882.5,858.5 883.0,857.4 883.5,859.3 884.0,859.8 884.5,856.5 885.0,855.3 885.5,856.2 886.0,856.7 886.5,859.4 887.0,861.4 887.5,859.3 888.0,858.9 888.5,858.8 889.0,858.3 889.5,860.9 890.0,858.8 890.5,862.0 891.0,860.6 891.5,864.0 892.0,862.4 892.5,857.1 893.0,859.9 893.5,857.1 894.0,855.1 894.5,852.1 895.0,847.8 895.5,848.3 896.0,848.4 896.5,844.5 897.0,849.7 897.5,852.0 898.0,854.4 898.5,857.6 899.0,858.3 899.5,859.1 900.0,862.1 900.5,859.4 901.0,860.4 901.5,860.5 902.0,860.1 902.5,860.5 903.0,863.4 903.5,860.1 904.0,865.0 904.5,859.1 905.0,857.9 905.5,860.4 906.0,854.7 906.5,863.3 907.0,862.1 907.5,859.9 908.0,861.2 908.5,861.0 909.0,865.3 909.5,861.7 910.0,861.9 910.5,862.3 911.0,861.8 911.5,861.5 912.0,860.3 912.5,861.6 913.0,861.8 913.5,859.5 914.0,861.6 914.5,859.7 915.0,859.1 915.5,858.5 916.0,862.3 916.5,862.9 917.0,860.7 917.5,859.3 918.0,860.2 918.5,861.1 919.0,861.3 919.5,862.1 920.0,861.2 920.5,863.0 921.0,860.5 921.5,862.1 922.0,862.4 922.5,862.0 923.0,862.2 923.5,859.8 924.0,862.7 924.5,860.6 925.0,861.1 925.5,859.8 926.0,861.8 926.5,860.6 927.0,860.2 927.5,862.2 928.0,860.0 928.5,861.5 929.0,861.0 929.5,861.2 930.0,859.8 930.5,857.1 931.0,857.8 931.5,856.4 932.0,856.8 932.5,855.2 933.0,852.7 933.5,852.9 934.0,848.7 934.5,853.3 935.0,854.3 935.5,858.3 936.0,859.5 936.5,860.3 937.0,860.8 937.5,860.6 938.0,859.8 938.5,858.8 939.0,860.0 939.5,858.2 940.0,858.8 940.5,855.7 941.0,855.4 941.5,854.6 942.0,857.2 942.5,853.0 943.0,854.4 943.5,857.5 944.0,858.2 944.5,859.6 945.0,859.2 945.5,861.6 946.0,860.1 946.5,860.8 947.0,860.9 947.5,859.5 948.0,857.6 948.5,852.6 949.0,849.0 949.5,840.7 950.0,832.1 950.5,818.7 951.0,809.9 951.5,801.5 952.0,808.8 952.5,811.3 953.0,822.1 953.5,831.0 954.0,843.4 954.5,846.2 955.0,853.8 955.5,854.4 956.0,858.1 956.5,857.3 957.0,859.5 957.5,858.8 958.0,862.0 958.5,863.4 959.0,861.7 959.5,862.0 960.0,861.3 960.5,860.6 961.0,860.4 961.5,859.1 962.0,859.7 962.5,862.0 963.0,860.3 963.5,862.1 964.0,859.6 964.5,864.3 965.0,868.0 965.5,860.8 966.0,863.7 966.5,861.7 967.0,863.2 967.5,860.6 968.0,860.1 968.5,862.8 969.0,861.7 969.5,861.8 970.0,861.9 970.5,860.3 971.0,859.1 971.5,859.6 972.0,855.4 972.5,856.3 973.0,855.1 973.5,849.4 974.0,847.8 974.5,839.5 975.0,833.8 975.5,833.0 976.0,831.2 976.5,834.6 977.0,836.9 977.5,843.7 978.0,847.8 978.5,852.1 979.0,856.0 979.5,855.4 980.0,857.4 980.5,859.6 981.0,859.8 981.5,858.9 982.0,856.2 982.5,850.4 983.0,857.8 983.5,858.5 984.0,857.2 984.5,856.9 985.0,861.8 985.5,861.8 986.0,858.7 986.5,860.4 987.0,861.1 987.5,860.2 988.0,861.8 988.5,860.5 989.0,859.1 989.5,860.5 990.0,861.8 990.5,859.8 991.0,862.2 991.5,862.7 992.0,862.0 992.5,861.9 993.0,860.9 993.5,861.7 994.0,859.7 994.5,857.0 995.0,859.0 995.5,861.6 996.0,860.4 996.5,856.9 997.0,857.8 997.5,857.1 998.0,856.8 998.5,858.6 999.0,860.8 999.5,860.2 1000.0,860.1 1000.5,857.6 1001.0,864.1 1001.5,859.3 1002.0,861.1 1002.5,862.3 1003.0,861.4 1003.5,862.3 1004.0,857.7 1004.5,859.8 1005.0,860.1 1005.5,859.4 1006.0,858.8 1006.5,862.4 1007.0,859.2 1007.5,862.7 1008.0,862.4 1008.5,860.5 1009.0,859.0 1009.5,860.2 1010.0,861.5 1010.5,860.0 1011.0,859.8 1011.5,861.0 1012.0,860.5 1012.5,860.8 1013.0,860.8 1013.5,862.5 1014.0,860.2 1014.5,860.7 1015.0,860.5 1015.5,860.2 1016.0,861.7 1016.5,861.1 1017.0,860.0 1017.5,859.3 1018.0,856.1 1018.5,860.4 1019.0,858.0 1019.5,859.1 1020.0,855.8 1020.5,857.3 1021.0,858.8 1021.5,855.4 1022.0,854.4 1022.5,855.0 1023.0,848.1 1023.5,844.4 1024.0,838.7 1024.5,824.2 1025.0,812.5 1025.5,799.5 1026.0,788.5 1026.5,789.9 1027.0,799.4 1027.5,813.4 1028.0,827.4 1028.5,838.0 1029.0,845.9 1029.5,849.4 1030.0,855.7 1030.5,855.0 1031.0,858.0 1031.5,859.5 1032.0,854.1 1032.5,857.9 1033.0,852.4 1033.5,850.3 1034.0,844.1 1034.5,837.2 1035.0,826.5 1035.5,815.0 1036.0,808.1 1036.5,802.5 1037.0,806.3 1037.5,815.4 1038.0,825.8 1038.5,834.6 1039.0,841.8 1039.5,847.4 1040.0,853.6 1040.5,860.5 1041.0,857.5 1041.5,857.8 1042.0,860.0 1042.5,860.5 1043.0,861.5 1043.5,856.9 1044.0,859.0 1044.5,859.2 1045.0,861.1 1045.5,859.4 1046.0,860.0 1046.5,858.8 1047.0,859.7 1047.5,863.7 1048.0,861.8 1048.5,861.2 1049.0,859.4 1049.5,858.9 1050.0,862.2 1050.5,860.7 1051.0,861.6 1051.5,861.1 1052.0,858.3 1052.5,857.0 1053.0,861.9 1053.5,863.0 1054.0,860.4 1054.5,859.8 1055.0,860.1 1055.5,859.1 1056.0,856.6 1056.5,858.7 1057.0,859.3 1057.5,861.1 1058.0,858.4 1058.5,859.6 1059.0,860.2 1059.5,861.0 1060.0,863.2 1060.5,861.2 1061.0,861.1 1061.5,858.2 1062.0,861.8 1062.5,856.3 1063.0,859.8 1063.5,857.9 1064.0,855.6 1064.5,852.7 1065.0,854.3 1065.5,852.5 1066.0,855.3 1066.5,849.4 1067.0,854.1 1067.5,850.5 1068.0,854.9 1068.5,855.0 1069.0,857.5 1069.5,855.4 1070.0,856.3 1070.5,855.2 1071.0,858.0 1071.5,862.3 1072.0,858.4 1072.5,857.2 1073.0,858.0 1073.5,858.7 1074.0,857.6 1074.5,853.3 1075.0,853.4 1075.5,849.3 1076.0,840.4 1076.5,835.2 1077.0,818.9 1077.5,798.7 1078.0,779.6 1078.5,760.2 1079.0,748.9 1079.5,753.1 1080.0,767.2 1080.5,787.3 1081.0,810.6 1081.5,824.3 1082.0,842.1 1082.5,850.8 1083.0,851.9 1083.5,855.8 1084.0,855.3 1084.5,857.0 1085.0,861.1 1085.5,859.3 1086.0,858.6 1086.5,858.9 1087.0,860.7 1087.5,860.8 1088.0,859.2 1088.5,861.5 1089.0,859.8 1089.5,859.9 1090.0,861.1 1090.5,859.0 1091.0,857.8 1091.5,859.9 1092.0,861.4 1092.5,859.7 1093.0,861.4 1093.5,861.9 1094.0,859.6 1094.5,860.1 1095.0,859.9 1095.5,861.0 1096.0,860.7 1096.5,860.2 1097.0,861.9 1097.5,860.4 1098.0,860.1 1098.5,858.5 1099.0,863.6 1099.5,861.1 1100.0,859.9 1100.5,858.5 1101.0,857.3 1101.5,854.7 1102.0,852.4 1102.5,857.2 1103.0,843.1 1103.5,834.6 1104.0,825.8 1104.5,812.2 1105.0,802.8 1105.5,800.9 1106.0,801.7 1106.5,806.1 1107.0,819.1 1107.5,828.9 1108.0,838.7 1108.5,846.2 1109.0,849.1 1109.5,853.3 1110.0,858.5 1110.5,856.2 1111.0,855.8 1111.5,857.6 1112.0,853.9 1112.5,855.1 1113.0,857.0 1113.5,854.8 1114.0,854.6 1114.5,852.4 1115.0,850.6 1115.5,847.2 1116.0,840.6 1116.5,834.7 1117.0,828.7 1117.5,820.7 1118.0,822.9 1118.5,826.0 1119.0,829.4 1119.5,834.9 1120.0,840.6 1120.5,847.4 1121.0,854.2 1121.5,856.8 1122.0,855.8 1122.5,860.3 1123.0,857.9 1123.5,857.5 1124.0,859.4 1124.5,860.7 1125.0,859.7 1125.5,861.5 1126.0,860.7 1126.5,862.6 1127.0,858.4 1127.5,860.6 1128.0,861.4 1128.5,862.7 1129.0,857.5 1129.5,860.2 1130.0,857.8 1130.5,861.2 1131.0,859.8 1131.5,861.1 1132.0,862.1 1132.5,861.9 1133.0,860.3 1133.5,861.3 1134.0,864.8 1134.5,859.4 1135.0,860.7 1135.5,859.0 1136.0,860.7 1136.5,859.9 1137.0,860.5 1137.5,857.7 1138.0,860.3 1138.5,863.9 1139.0,858.8 1139.5,859.7 1140.0,862.0 1140.5,859.1 1141.0,857.4 1141.5,858.4 1142.0,861.0 1142.5,862.3 1143.0,860.4 1143.5,860.8 1144.0,862.3 1144.5,860.6 1145.0,862.6 1145.5,856.1 1146.0,860.2 1146.5,862.4 1147.0,861.6 1147.5,860.3 1148.0,860.4 1148.5,861.9 1149.0,858.5 1149.5,857.9 1150.0,861.7 1150.5,862.6 1151.0,859.8 1151.5,860.2 1152.0,855.3 1152.5,854.1 1153.0,852.9 1153.5,850.0 1154.0,846.9 1154.5,841.9 1155.0,838.6 1155.5,835.5 1156.0,835.8 1156.5,837.7 1157.0,840.5 1157.5,845.2 1158.0,847.1 1158.5,850.4 1159.0,851.3 1159.5,853.8 1160.0,858.9 1160.5,859.4 1161.0,859.3 1161.5,859.2 1162.0,858.1 1162.5,856.8 1163.0,859.2 1163.5,859.7 1164.0,856.4 1164.5,862.1 1165.0,859.2 1165.5,860.9 1166.0,862.1 1166.5,862.4 1167.0,859.8 1167.5,862.4 1168.0,861.5 1168.5,860.2 1169.0,860.6 1169.5,858.8 1170.0,860.3 1170.5,858.9 1171.0,859.4 1171.5,859.6 1172.0,860.4 1172.5,858.0 1173.0,856.9 1173.5,855.1 1174.0,857.7 1174.5,850.5 1175.0,848.9 1175.5,843.2 1176.0,843.3 1176.5,840.5 1177.0,841.9 1177.5,845.7 1178.0,849.7 1178.5,850.2 1179.0,853.4 1179.5,854.9 1180.0,855.6 1180.5,857.4 1181.0,859.3 1181.5,858.5 1182.0,857.7 1182.5,857.6 1183.0,858.8 1183.5,857.4 1184.0,858.9 1184.5,855.1 1185.0,857.6 1185.5,854.3 1186.0,853.6 1186.5,853.7 1187.0,847.0 1187.5,836.5 1188.0,824.8 1188.5,811.2 1189.0,793.2 1189.5,773.9 1190.0,761.5 1190.5,754.3 1191.0,754.5 1191.5,769.2 1192.0,777.0 1192.5,786.4 1193.0,790.4 1193.5,793.9 1194.0,798.0 1194.5,808.1 1195.0,818.0 1195.5,828.9 1196.0,837.3 1196.5,844.4 1197.0,848.4 1197.5,852.9 1198.0,855.7 1198.5,852.8 1199.0,855.5 1199.5,857.5 1200.0,859.3 1200.5,860.4 1201.0,861.1 1201.5,857.6 1202.0,859.0 1202.5,858.2 1203.0,857.8 1203.5,858.5 1204.0,860.3 1204.5,860.2 1205.0,856.8 1205.5,858.6 1206.0,857.1 1206.5,860.2 1207.0,860.0 1207.5,855.9 1208.0,854.2 1208.5,854.2 1209.0,852.3 1209.5,846.5 1210.0,844.0 1210.5,841.5 1211.0,831.5 1211.5,837.1 1212.0,833.5 1212.5,833.8 1213.0,833.7 1213.5,839.8 1214.0,838.9 1214.5,842.3 1215.0,844.2 1215.5,845.6 1216.0,843.4 1216.5,843.5 1217.0,844.2 1217.5,842.4 1218.0,842.4 1218.5,844.5 1219.0,845.4 1219.5,848.6 1220.0,846.5 1220.5,850.7 1221.0,856.6 1221.5,853.3 1222.0,855.0 1222.5,856.1 1223.0,860.9 1223.5,858.3 1224.0,859.4 1224.5,855.1 1225.0,855.1 1225.5,856.6 1226.0,855.2 1226.5,856.2 1227.0,857.4 1227.5,857.4 1228.0,858.2 1228.5,859.0 1229.0,859.0 1229.5,860.1 1230.0,861.3 1230.5,858.7 1231.0,860.6 1231.5,860.8 1232.0,855.7 1232.5,860.2 1233.0,863.0 1233.5,862.0 1234.0,863.7 1234.5,863.1 1235.0,859.9 1235.5,859.3 1236.0,859.9 1236.5,861.6 1237.0,855.6 1237.5,860.4 1238.0,862.1 1238.5,860.4 1239.0,860.8 1239.5,860.0 1240.0,857.3 1240.5,861.6 1241.0,859.8 1241.5,858.7 1242.0,860.1 1242.5,862.8 1243.0,860.5 1243.5,860.2 1244.0,859.1 1244.5,857.5 1245.0,858.5 1245.5,858.4 1246.0,855.5 1246.5,850.7 1247.0,851.0 1247.5,853.2 1248.0,848.1 1248.5,848.4 1249.0,845.2 1249.5,847.8 1250.0,848.4 1250.5,851.9 1251.0,852.5 1251.5,852.8 1252.0,853.3 1252.5,850.5 1253.0,852.6 1253.5,848.7 1254.0,853.9 1254.5,850.9 1255.0,847.5 1255.5,849.9 1256.0,850.7 1256.5,852.7 1257.0,854.6 1257.5,855.3 1258.0,856.4 1258.5,857.9 1259.0,855.0 1259.5,855.4 1260.0,854.8 1260.5,852.3 1261.0,853.2 1261.5,850.4 1262.0,848.2 1262.5,846.2 1263.0,846.3 1263.5,848.3 1264.0,846.5 1264.5,850.6 1265.0,851.2 1265.5,851.8 1266.0,850.0 1266.5,852.6 1267.0,856.5 1267.5,855.7 1268.0,856.3 1268.5,857.2 1269.0,859.4 1269.5,856.7 1270.0,861.1 1270.5,860.1 1271.0,858.4 1271.5,858.3 1272.0,856.0 1272.5,858.2 1273.0,860.4 1273.5,862.1 1274.0,858.2 1274.5,857.8 1275.0,859.7 1275.5,859.9 1276.0,858.5 1276.5,858.2 1277.0,861.3 1277.5,857.1 1278.0,855.2 1278.5,856.4 1279.0,856.4 1279.5,853.3 1280.0,849.6 1280.5,845.3 1281.0,843.9 1281.5,846.0 1282.0,841.5 1282.5,842.3 1283.0,839.9 1283.5,844.0 1284.0,846.5 1284.5,852.6 1285.0,852.0 1285.5,854.2 1286.0,854.9 1286.5,852.3 1287.0,858.5 1287.5,854.3 1288.0,853.2 1288.5,855.4 1289.0,857.2 1289.5,857.9 1290.0,858.3 1290.5,861.5 1291.0,857.9 1291.5,859.3 1292.0,860.7 1292.5,859.3 1293.0,859.0 1293.5,862.4 1294.0,860.4 1294.5,857.7 1295.0,858.9 1295.5,856.8 1296.0,858.5 1296.5,855.8 1297.0,859.2 1297.5,858.8 1298.0,858.9 1298.5,858.5 1299.0,858.7 1299.5,848.7 1300.0,858.0 1300.5,858.6 1301.0,858.6 1301.5,856.9 1302.0,859.6 1302.5,857.4 1303.0,858.5 1303.5,858.6 1304.0,859.2 1304.5,860.0 1305.0,856.1 1305.5,861.9 1306.0,861.0 1306.5,859.3 1307.0,861.4 1307.5,861.8 1308.0,859.3 1308.5,858.6 1309.0,860.1 1309.5,863.2 1310.0,859.9 1310.5,860.1 1311.0,861.5 1311.5,858.6 1312.0,858.7 1312.5,860.1 1313.0,861.4 1313.5,859.6 1314.0,859.0 1314.5,857.2 1315.0,861.5 1315.5,856.7 1316.0,859.6 1316.5,855.6 1317.0,857.6 1317.5,857.4 1318.0,853.3 1318.5,855.6 1319.0,856.2 1319.5,857.5 1320.0,855.9 1320.5,858.9 1321.0,858.0 1321.5,856.9 1322.0,860.3 1322.5,860.9 1323.0,859.2 1323.5,859.0 1324.0,860.4 1324.5,861.8 1325.0,857.7 1325.5,861.2 1326.0,862.8 1326.5,858.7 1327.0,860.9 1327.5,860.2 1328.0,860.7 1328.5,862.0 1329.0,857.8 1329.5,859.3 1330.0,857.9 1330.5,859.3 1331.0,862.1 1331.5,857.5 1332.0,857.9 1332.5,857.3 1333.0,858.5 1333.5,857.4 1334.0,857.0 1334.5,857.4 1335.0,858.7 1335.5,857.6 1336.0,856.2 1336.5,861.6 1337.0,860.2 1337.5,859.2 1338.0,859.9 1338.5,861.2 1339.0,858.9 1339.5,861.2 1340.0,857.4 1340.5,862.0 1341.0,856.6 1341.5,858.1 1342.0,862.2 1342.5,858.4 1343.0,859.0 1343.5,858.3 1344.0,856.7 1344.5,859.9 1345.0,861.0 1345.5,860.5 1346.0,858.2 1346.5,859.2 1347.0,862.3 1347.5,859.6 1348.0,858.4 1348.5,861.0 1349.0,859.2 1349.5,856.8 1350.0,858.2 1350.5,860.7 1351.0,858.9 1351.5,858.7 1352.0,859.3 1352.5,856.5 1353.0,854.4 1353.5,855.1 1354.0,852.0 1354.5,850.1 1355.0,845.7 1355.5,841.8 1356.0,836.9 1356.5,836.0 1357.0,836.2 1357.5,831.1 1358.0,835.9 1358.5,838.0 1359.0,839.7 1359.5,842.9 1360.0,848.7 1360.5,850.3 1361.0,849.7 1361.5,853.8 1362.0,858.0 1362.5,853.0 1363.0,855.5 1363.5,856.4 1364.0,851.9 1364.5,851.8 1365.0,844.5 1365.5,839.2 1366.0,833.3 1366.5,823.7 1367.0,817.9 1367.5,814.0 1368.0,811.0 1368.5,815.5 1369.0,822.3 1369.5,826.5 1370.0,835.7 1370.5,843.2 1371.0,846.9 1371.5,853.4 1372.0,856.5 1372.5,855.6 1373.0,857.8 1373.5,857.2 1374.0,858.4 1374.5,859.5 1375.0,858.8 1375.5,859.4 1376.0,858.7 1376.5,861.2 1377.0,862.9 1377.5,858.7 1378.0,860.4 1378.5,863.5 1379.0,859.1 1379.5,861.8 1380.0,863.7 1380.5,859.5 1381.0,861.0 1381.5,856.7 1382.0,861.9 1382.5,860.8 1383.0,861.0 1383.5,860.0 1384.0,861.1 1384.5,861.1 1385.0,860.4 1385.5,858.7 1386.0,860.2 1386.5,858.9 1387.0,858.4 1387.5,857.5 1388.0,856.7 1388.5,858.2 1389.0,856.5 1389.5,856.8 1390.0,854.8 1390.5,854.2 1391.0,855.3 1391.5,855.7 1392.0,859.6 1392.5,856.8 1393.0,858.6 1393.5,857.7 1394.0,856.8 1394.5,854.9 1395.0,855.0 1395.5,853.4 1396.0,849.5 1396.5,851.9 1397.0,850.5 1397.5,848.7 1398.0,850.1 1398.5,852.5 1399.0,853.3 1399.5,852.6 1400.0,855.7 1400.5,856.4 1401.0,854.3 1401.5,856.0 1402.0,859.0 1402.5,857.7 1403.0,858.5 1403.5,860.1 1404.0,859.4 1404.5,858.8 1405.0,857.9 1405.5,862.9 1406.0,857.9 1406.5,859.4 1407.0,861.6 1407.5,859.9 1408.0,858.6 1408.5,858.3 1409.0,861.7 1409.5,861.1 1410.0,857.1 1410.5,858.0 1411.0,860.9 1411.5,862.3 1412.0,859.1 1412.5,861.3 1413.0,857.5 1413.5,857.2 1414.0,857.7 1414.5,859.9 1415.0,859.2 1415.5,859.5 1416.0,855.5 1416.5,860.2 1417.0,856.9 1417.5,861.4 1418.0,857.8 1418.5,854.7 1419.0,856.8 1419.5,854.9 1420.0,857.2 1420.5,853.7 1421.0,853.3 1421.5,848.4 1422.0,846.6 1422.5,846.7 1423.0,846.3 1423.5,845.4 1424.0,848.9 1424.5,851.7 1425.0,851.5 1425.5,853.2 1426.0,854.8 1426.5,857.7 1427.0,857.7 1427.5,859.2 1428.0,860.6 1428.5,858.8 1429.0,859.0 1429.5,859.0 1430.0,861.7 1430.5,859.3 1431.0,859.4 1431.5,858.5 1432.0,859.8 1432.5,858.5 1433.0,855.5 1433.5,858.0 1434.0,856.7 1434.5,859.0 1435.0,857.1 1435.5,856.8 1436.0,856.2 1436.5,859.8 1437.0,860.7 1437.5,858.0 1438.0,859.5 1438.5,860.4 1439.0,859.6 1439.5,860.5 1440.0,861.3 1440.5,859.0 1441.0,861.7 1441.5,857.4 1442.0,860.9 1442.5,858.8 1443.0,860.0 1443.5,859.0 1444.0,860.2 1444.5,859.0 1445.0,860.3 1445.5,857.8 1446.0,858.3 1446.5,859.6 1447.0,860.6 1447.5,858.3 1448.0,862.2 1448.5,858.5 1449.0,859.8 1449.5,855.7 1450.0,856.7 1450.5,856.6 1451.0,856.5 1451.5,856.1 1452.0,858.1 1452.5,857.8 1453.0,861.7 1453.5,859.3 1454.0,859.9 1454.5,856.5 1455.0,861.7 1455.5,861.8 1456.0,857.8 1456.5,857.8 1457.0,858.2 1457.5,861.3 1458.0,857.1 1458.5,857.4 1459.0,856.3 1459.5,858.6 1460.0,858.6 1460.5,854.5 1461.0,855.5 1461.5,850.9 1462.0,845.2 1462.5,842.4 1463.0,838.5 1463.5,834.6 1464.0,831.7 1464.5,833.4 1465.0,833.5 1465.5,836.1 1466.0,839.6 1466.5,837.0 1467.0,837.8 1467.5,835.1 1468.0,837.6 1468.5,838.5 1469.0,843.6 1469.5,847.1 1470.0,851.8 1470.5,852.6 1471.0,856.3 1471.5,857.6 1472.0,859.5 1472.5,860.2 1473.0,861.2 1473.5,858.7 1474.0,857.1 1474.5,860.4 1475.0,859.9 1475.5,858.7 1476.0,858.9 1476.5,862.2 1477.0,859.8 1477.5,858.5 1478.0,859.1 1478.5,857.0 1479.0,860.7 1479.5,855.2 1480.0,854.6 1480.5,856.9 1481.0,854.6 1481.5,853.2 1482.0,856.9 1482.5,858.0 1483.0,854.6 1483.5,858.7 1484.0,859.6 1484.5,861.1 1485.0,859.0 1485.5,859.0 1486.0,860.1 1486.5,857.3 1487.0,857.7 1487.5,854.8 1488.0,851.4 1488.5,850.9 1489.0,853.0 1489.5,848.0 1490.0,849.3 1490.5,850.2 1491.0,854.4 1491.5,852.4 1492.0,854.3 1492.5,855.7 1493.0,857.1 1493.5,857.4 1494.0,854.8 1494.5,854.8 1495.0,854.4 1495.5,858.5 1496.0,857.0 1496.5,858.2 1497.0,858.4 1497.5,856.7 1498.0,856.7 1498.5,857.7 1499.0,862.4 1499.5,859.0 1500.0,860.4 1500.5,858.2 1501.0,863.5 1501.5,859.9 1502.0,857.4 1502.5,859.0 1503.0,860.2 1503.5,861.2 1504.0,859.2 1504.5,860.7 1505.0,860.2 1505.5,860.0 1506.0,859.1 1506.5,860.3 1507.0,865.9 1507.5,859.7 1508.0,859.2 1508.5,863.7 1509.0,860.6 1509.5,860.5 1510.0,857.4 1510.5,861.1 1511.0,857.1 1511.5,861.1 1512.0,856.1 1512.5,858.4 1513.0,857.8 1513.5,858.7 1514.0,857.3 1514.5,854.7 1515.0,857.8 1515.5,853.0 1516.0,853.8 1516.5,852.2 1517.0,854.0 1517.5,848.0 1518.0,849.9 1518.5,847.2 1519.0,840.3 1519.5,840.8 1520.0,841.1 1520.5,840.9 1521.0,844.0 1521.5,846.4 1522.0,849.2 1522.5,848.5 1523.0,851.8 1523.5,851.5 1524.0,852.8 1524.5,851.6 1525.0,851.0 1525.5,849.7 1526.0,850.0 1526.5,848.0 1527.0,844.5 1527.5,840.4 1528.0,842.1 1528.5,839.1 1529.0,835.9 1529.5,837.1 1530.0,836.2 1530.5,838.4 1531.0,841.2 1531.5,847.2 1532.0,851.3"/>
<polyline fill="none" stroke="#9a4400" stroke-width="3" stroke-linejoin="round" points="127.0,771.3 127.5,778.5 128.0,771.9 128.5,775.9 129.0,769.5 129.5,770.3 130.0,774.4 130.5,773.4 131.0,768.6 131.5,772.6 132.0,772.8 132.5,775.2 133.0,772.6 133.5,772.5 134.0,775.1 134.5,774.6 135.0,772.0 135.5,773.0 136.0,771.2 136.5,775.7 137.0,772.9 137.5,775.6 138.0,774.9 138.5,772.3 139.0,773.4 139.5,774.7 140.0,774.4 140.5,776.1 141.0,775.5 141.5,774.3 142.0,774.9 142.5,772.7 143.0,773.0 143.5,774.8 144.0,774.5 144.5,772.2 145.0,765.3 145.5,772.8 146.0,773.2 146.5,776.1 147.0,772.6 147.5,773.1 148.0,775.0 148.5,774.3 149.0,774.5 149.5,772.0 150.0,774.2 150.5,773.7 151.0,773.1 151.5,773.5 152.0,773.9 152.5,775.7 153.0,777.3 153.5,774.6 154.0,776.8 154.5,774.7 155.0,772.2 155.5,774.7 156.0,776.6 156.5,776.8 157.0,773.3 157.5,778.1 158.0,773.6 158.5,773.6 159.0,773.9 159.5,777.0 160.0,775.4 160.5,776.2 161.0,771.4 161.5,774.8 162.0,774.7 162.5,776.0 163.0,774.2 163.5,776.8 164.0,774.0 164.5,772.9 165.0,776.4 165.5,777.1 166.0,776.3 166.5,774.0 167.0,776.9 167.5,775.0 168.0,775.1 168.5,773.0 169.0,774.4 169.5,775.5 170.0,775.7 170.5,774.5 171.0,776.9 171.5,777.7 172.0,774.2 172.5,776.1 173.0,773.2 173.5,776.2 174.0,774.1 174.5,775.4 175.0,775.9 175.5,775.3 176.0,777.3 176.5,774.5 177.0,775.0 177.5,776.3 178.0,775.7 178.5,776.2 179.0,777.2 179.5,774.6 180.0,776.9 180.5,776.0 181.0,777.3 181.5,778.0 182.0,775.5 182.5,774.9 183.0,775.4 183.5,775.1 184.0,773.0 184.5,778.7 185.0,776.8 185.5,779.8 186.0,775.4 186.5,777.2 187.0,776.7 187.5,776.2 188.0,777.8 188.5,776.4 189.0,776.3 189.5,776.7 190.0,773.0 190.5,775.4 191.0,775.4 191.5,779.1 192.0,777.4 192.5,777.8 193.0,777.6 193.5,776.3 194.0,779.2 194.5,776.4 195.0,774.5 195.5,777.7 196.0,778.6 196.5,776.9 197.0,777.4 197.5,778.3 198.0,779.2 198.5,777.8 199.0,779.5 199.5,777.4 200.0,781.8 200.5,774.9 201.0,778.5 201.5,777.5 202.0,777.3 202.5,775.1 203.0,778.7 203.5,776.7 204.0,775.4 204.5,775.9 205.0,776.5 205.5,777.0 206.0,775.4 206.5,775.3 207.0,777.3 207.5,776.6 208.0,779.7 208.5,775.9 209.0,777.7 209.5,779.2 210.0,776.2 210.5,778.0 211.0,776.9 211.5,776.5 212.0,778.8 212.5,774.8 213.0,775.3 213.5,773.5 214.0,776.0 214.5,777.7 215.0,775.7 215.5,777.3 216.0,775.0 216.5,777.8 217.0,775.8 217.5,775.2 218.0,778.4 218.5,775.8 219.0,776.7 219.5,776.0 220.0,776.8 220.5,775.9 221.0,773.8 221.5,776.1 222.0,776.3 222.5,776.2 223.0,775.2 223.5,779.7 224.0,774.3 224.5,775.6 225.0,775.7 225.5,773.7 226.0,773.5 226.5,776.3 227.0,776.3 227.5,775.4 228.0,772.7 228.5,774.7 229.0,775.4 229.5,776.0 230.0,776.8 230.5,775.7 231.0,776.4 231.5,777.4 232.0,767.2 232.5,776.3 233.0,774.1 233.5,775.5 234.0,775.0 234.5,773.1 235.0,773.2 235.5,775.9 236.0,774.3 236.5,775.6 237.0,773.9 237.5,777.7 238.0,774.0 238.5,777.5 239.0,773.1 239.5,775.1 240.0,776.0 240.5,772.2 241.0,770.9 241.5,774.7 242.0,775.8 242.5,776.1 243.0,774.8 243.5,775.6 244.0,772.1 244.5,773.2 245.0,776.0 245.5,772.9 246.0,773.4 246.5,771.0 247.0,773.4 247.5,773.8 248.0,774.4 248.5,775.8 249.0,773.9 249.5,773.6 250.0,772.7 250.5,774.1 251.0,771.5 251.5,772.4 252.0,776.3 252.5,770.9 253.0,771.8 253.5,770.1 254.0,773.5 254.5,770.1 255.0,766.8 255.5,764.5 256.0,765.4 256.5,762.3 257.0,761.3 257.5,760.5 258.0,763.9 258.5,767.2 259.0,768.6 259.5,767.1 260.0,767.8 260.5,769.3 261.0,772.3 261.5,769.8 262.0,770.5 262.5,772.3 263.0,770.9 263.5,770.3 264.0,773.7 264.5,773.0 265.0,773.4 265.5,773.6 266.0,774.4 266.5,772.1 267.0,771.8 267.5,769.4 268.0,771.7 268.5,771.1 269.0,773.6 269.5,773.0 270.0,774.2 270.5,773.6 271.0,773.7 271.5,772.6 272.0,772.0 272.5,771.2 273.0,771.7 273.5,770.2 274.0,772.2 274.5,771.5 275.0,768.4 275.5,767.4 276.0,770.4 276.5,770.7 277.0,770.9 277.5,773.4 278.0,770.4 278.5,769.3 279.0,771.8 279.5,772.8 280.0,773.7 280.5,769.6 281.0,770.7 281.5,770.4 282.0,773.4 282.5,772.1 283.0,771.0 283.5,772.0 284.0,770.3 284.5,770.5 285.0,770.8 285.5,770.0 286.0,770.3 286.5,771.2 287.0,771.0 287.5,772.9 288.0,771.9 288.5,770.4 289.0,767.1 289.5,768.2 290.0,772.1 290.5,767.2 291.0,768.3 291.5,769.7 292.0,770.4 292.5,769.2 293.0,769.9 293.5,770.0 294.0,769.0 294.5,768.7 295.0,769.8 295.5,770.4 296.0,768.3 296.5,766.7 297.0,768.4 297.5,770.6 298.0,767.1 298.5,771.1 299.0,768.7 299.5,769.8 300.0,768.4 300.5,770.4 301.0,769.5 301.5,770.0 302.0,766.4 302.5,770.4 303.0,766.7 303.5,768.7 304.0,769.9 304.5,768.8 305.0,769.8 305.5,769.2 306.0,769.0 306.5,767.6 307.0,770.2 307.5,770.3 308.0,767.7 308.5,767.1 309.0,768.6 309.5,767.0 310.0,768.2 310.5,769.0 311.0,768.6 311.5,769.5 312.0,767.6 312.5,764.8 313.0,764.0 313.5,764.2 314.0,762.5 314.5,752.4 315.0,741.1 315.5,730.7 316.0,713.5 316.5,703.8 317.0,702.8 317.5,708.5 318.0,723.7 318.5,737.8 319.0,750.9 319.5,758.6 320.0,761.2 320.5,764.9 321.0,762.4 321.5,766.0 322.0,766.1 322.5,765.7 323.0,763.5 323.5,765.6 324.0,764.4 324.5,768.4 325.0,766.1 325.5,766.4 326.0,766.8 326.5,767.9 327.0,767.2 327.5,768.0 328.0,765.8 328.5,768.9 329.0,766.5 329.5,768.3 330.0,767.5 330.5,768.8 331.0,767.0 331.5,764.9 332.0,765.4 332.5,766.8 333.0,769.2 333.5,766.4 334.0,767.1 334.5,768.9 335.0,766.1 335.5,768.0 336.0,767.3 336.5,766.0 337.0,767.2 337.5,768.4 338.0,768.4 338.5,766.3 339.0,771.1 339.5,767.2 340.0,766.3 340.5,765.6 341.0,765.1 341.5,767.8 342.0,762.2 342.5,763.6 343.0,764.4 343.5,766.2 344.0,766.4 344.5,764.4 345.0,764.9 345.5,768.3 346.0,765.5 346.5,766.3 347.0,765.8 347.5,767.5 348.0,768.0 348.5,767.5 349.0,767.0 349.5,766.9 350.0,764.3 350.5,768.0 351.0,765.2 351.5,764.6 352.0,765.4 352.5,764.7 353.0,766.5 353.5,766.9 354.0,767.7 354.5,765.6 355.0,764.9 355.5,765.3 356.0,763.9 356.5,764.6 357.0,768.6 357.5,764.4 358.0,764.9 358.5,766.5 359.0,765.9 359.5,766.6 360.0,764.1 360.5,763.8 361.0,767.4 361.5,764.3 362.0,765.2 362.5,765.6 363.0,762.5 363.5,764.9 364.0,764.2 364.5,765.9 365.0,764.6 365.5,761.7 366.0,766.2 366.5,761.2 367.0,764.4 367.5,763.9 368.0,764.0 368.5,764.9 369.0,766.3 369.5,763.5 370.0,763.9 370.5,765.9 371.0,765.5 371.5,765.7 372.0,765.1 372.5,764.2 373.0,763.8 373.5,763.8 374.0,765.9 374.5,766.7 375.0,767.4 375.5,762.8 376.0,764.0 376.5,764.3 377.0,764.0 377.5,762.6 378.0,767.5 378.5,766.4 379.0,763.9 379.5,763.4 380.0,764.0 380.5,762.2 381.0,763.5 381.5,765.1 382.0,766.4 382.5,765.2 383.0,765.8 383.5,762.2 384.0,758.8 384.5,765.8 385.0,763.9 385.5,763.5 386.0,766.0 386.5,762.0 387.0,762.0 387.5,762.2 388.0,765.7 388.5,764.7 389.0,760.5 389.5,765.6 390.0,763.0 390.5,763.5 391.0,761.6 391.5,765.5 392.0,763.2 392.5,764.4 393.0,760.7 393.5,763.1 394.0,761.9 394.5,761.1 395.0,759.8 395.5,759.4 396.0,757.6 396.5,756.4 397.0,753.5 397.5,747.4 398.0,732.6 398.5,717.2 399.0,699.4 399.5,682.2 400.0,678.5 400.5,686.2 401.0,702.8 401.5,722.1 402.0,730.7 402.5,748.8 403.0,754.4 403.5,758.3 404.0,757.9 404.5,758.5 405.0,761.4 405.5,761.7 406.0,764.4 406.5,760.9 407.0,759.8 407.5,761.9 408.0,760.9 408.5,760.2 409.0,763.7 409.5,764.6 410.0,762.3 410.5,760.7 411.0,762.1 411.5,761.7 412.0,759.6 412.5,763.0 413.0,762.3 413.5,763.7 414.0,760.9 414.5,761.7 415.0,761.5 415.5,759.1 416.0,765.5 416.5,758.5 417.0,759.9 417.5,761.1 418.0,759.2 418.5,762.2 419.0,759.8 419.5,761.6 420.0,761.9 420.5,761.6 421.0,761.6 421.5,761.2 422.0,762.1 422.5,762.6 423.0,761.0 423.5,760.6 424.0,760.7 424.5,761.7 425.0,760.7 425.5,760.6 426.0,752.7 426.5,764.1 427.0,759.2 427.5,763.7 428.0,762.3 428.5,762.6 429.0,761.4 429.5,761.7 430.0,761.4 430.5,761.8 431.0,762.2 431.5,763.2 432.0,759.3 432.5,761.6 433.0,763.3 433.5,762.9 434.0,759.2 434.5,761.2 435.0,761.1 435.5,761.0 436.0,757.1 436.5,761.9 437.0,758.1 437.5,763.9 438.0,768.0 438.5,760.3 439.0,761.4 439.5,760.6 440.0,759.6 440.5,760.2 441.0,760.9 441.5,759.1 442.0,761.4 442.5,762.0 443.0,761.9 443.5,762.0 444.0,762.1 444.5,761.2 445.0,762.1 445.5,760.1 446.0,760.6 446.5,762.2 447.0,763.0 447.5,759.4 448.0,757.6 448.5,763.2 449.0,761.6 449.5,762.6 450.0,761.2 450.5,760.1 451.0,758.7 451.5,755.5 452.0,761.9 452.5,761.1 453.0,760.1 453.5,757.8 454.0,758.7 454.5,758.5 455.0,758.9 455.5,754.9 456.0,759.7 456.5,761.7 457.0,758.4 457.5,759.3 458.0,759.6 458.5,757.6 459.0,759.8 459.5,757.8 460.0,758.3 460.5,759.3 461.0,758.8 461.5,759.0 462.0,757.4 462.5,759.9 463.0,757.0 463.5,759.9 464.0,757.8 464.5,756.6 465.0,758.2 465.5,756.6 466.0,757.3 466.5,757.7 467.0,759.0 467.5,760.8 468.0,758.1 468.5,756.6 469.0,754.1 469.5,755.2 470.0,753.2 470.5,749.9 471.0,743.1 471.5,737.4 472.0,723.1 472.5,706.7 473.0,699.8 473.5,701.5 474.0,706.8 474.5,719.3 475.0,733.0 475.5,742.6 476.0,749.9 476.5,755.2 477.0,754.7 477.5,756.7 478.0,755.4 478.5,755.9 479.0,757.3 479.5,755.9 480.0,758.9 480.5,756.5 481.0,756.9 481.5,755.5 482.0,756.5 482.5,758.6 483.0,756.3 483.5,754.1 484.0,756.2 484.5,758.9 485.0,752.5 485.5,757.3 486.0,753.4 486.5,754.1 487.0,750.8 487.5,755.7 488.0,751.5 488.5,754.0 489.0,763.9 489.5,753.8 490.0,752.6 490.5,756.5 491.0,755.6 491.5,755.3 492.0,755.5 492.5,754.6 493.0,759.1 493.5,758.8 494.0,754.7 494.5,756.7 495.0,756.1 495.5,758.5 496.0,755.5 496.5,759.3 497.0,756.7 497.5,755.4 498.0,756.5 498.5,755.7 499.0,760.1 499.5,756.7 500.0,755.7 500.5,756.5 501.0,758.7 501.5,754.7 502.0,753.5 502.5,758.2 503.0,756.9 503.5,755.1 504.0,755.4 504.5,756.9 505.0,749.7 505.5,755.1 506.0,750.7 506.5,749.3 507.0,744.8 507.5,746.7 508.0,738.9 508.5,741.9 509.0,738.2 509.5,745.3 510.0,749.0 510.5,746.7 511.0,746.1 511.5,748.2 512.0,747.4 512.5,744.9 513.0,739.5 513.5,740.1 514.0,738.1 514.5,745.5 515.0,744.9 515.5,750.8 516.0,750.7 516.5,756.5 517.0,756.5 517.5,753.2 518.0,757.0 518.5,754.5 519.0,753.8 519.5,754.0 520.0,757.1 520.5,755.3 521.0,754.8 521.5,753.0 522.0,757.3 522.5,757.1 523.0,756.0 523.5,756.7 524.0,750.4 524.5,754.6 525.0,755.7 525.5,755.7 526.0,754.6 526.5,755.9 527.0,754.3 527.5,754.4 528.0,753.5 528.5,755.7 529.0,754.3 529.5,754.6 530.0,757.7 530.5,755.4 531.0,755.4 531.5,753.0 532.0,754.6 532.5,757.0 533.0,756.3 533.5,755.5 534.0,755.1 534.5,755.5 535.0,747.5 535.5,754.8 536.0,751.3 536.5,758.5 537.0,757.1 537.5,755.0 538.0,757.5 538.5,753.2 539.0,757.3 539.5,755.5 540.0,756.6 540.5,754.7 541.0,755.4 541.5,756.1 542.0,756.9 542.5,756.0 543.0,755.9 543.5,754.2 544.0,757.9 544.5,755.4 545.0,751.4 545.5,754.6 546.0,753.2 546.5,753.9 547.0,752.6 547.5,755.4 548.0,754.9 548.5,755.4 549.0,753.0 549.5,754.3 550.0,753.9 550.5,756.5 551.0,752.6 551.5,751.3 552.0,757.0 552.5,755.5 553.0,752.4 553.5,757.0 554.0,757.2 554.5,756.7 555.0,751.5 555.5,755.0 556.0,753.4 556.5,754.4 557.0,756.5 557.5,757.5 558.0,753.6 558.5,755.2 559.0,756.0 559.5,755.7 560.0,755.3 560.5,754.0 561.0,755.0 561.5,754.3 562.0,751.0 562.5,756.2 563.0,753.6 563.5,753.7 564.0,753.9 564.5,752.3 565.0,752.5 565.5,751.6 566.0,755.2 566.5,756.3 567.0,754.5 567.5,752.5 568.0,756.4 568.5,753.8 569.0,751.7 569.5,751.2 570.0,754.5 570.5,756.5 571.0,753.5 571.5,753.1 572.0,753.6 572.5,752.7 573.0,753.1 573.5,754.3 574.0,752.7 574.5,755.3 575.0,752.2 575.5,754.8 576.0,754.1 576.5,752.8 577.0,752.8 577.5,752.6 578.0,755.7 578.5,751.5 579.0,754.4 579.5,753.8 580.0,751.3 580.5,753.8 581.0,746.5 581.5,749.0 582.0,745.4 582.5,738.8 583.0,728.9 583.5,709.9 584.0,688.5 584.5,668.7 585.0,652.5 585.5,652.3 586.0,670.7 586.5,692.0 587.0,712.5 587.5,730.4 588.0,738.6 588.5,744.1 589.0,748.3 589.5,749.9 590.0,751.1 590.5,749.6 591.0,754.7 591.5,755.5 592.0,752.7 592.5,753.0 593.0,748.7 593.5,760.4 594.0,751.3 594.5,753.8 595.0,751.2 595.5,754.7 596.0,752.4 596.5,752.9 597.0,755.8 597.5,754.9 598.0,751.2 598.5,752.3 599.0,753.8 599.5,753.1 600.0,754.8 600.5,752.4 601.0,750.6 601.5,752.1 602.0,753.3 602.5,755.9 603.0,754.8 603.5,755.6 604.0,754.0 604.5,753.3 605.0,754.8 605.5,753.5 606.0,752.9 606.5,752.9 607.0,755.1 607.5,756.0 608.0,755.7 608.5,751.1 609.0,755.3 609.5,751.8 610.0,753.0 610.5,754.5 611.0,751.4 611.5,751.5 612.0,752.2 612.5,756.0 613.0,762.3 613.5,751.7 614.0,753.2 614.5,753.0 615.0,752.9 615.5,750.7 616.0,753.0 616.5,747.9 617.0,746.3 617.5,737.1 618.0,733.7 618.5,726.2 619.0,722.6 619.5,714.7 620.0,723.0 620.5,729.7 621.0,735.1 621.5,743.8 622.0,749.6 622.5,750.5 623.0,752.0 623.5,753.7 624.0,752.6 624.5,753.9 625.0,752.9 625.5,750.7 626.0,749.8 626.5,752.6 627.0,750.3 627.5,745.4 628.0,741.2 628.5,735.0 629.0,718.2 629.5,706.3 630.0,698.2 630.5,695.2 631.0,698.3 631.5,710.7 632.0,725.6 632.5,738.3 633.0,743.4 633.5,744.0 634.0,751.6 634.5,751.0 635.0,750.9 635.5,750.1 636.0,754.0 636.5,752.6 637.0,752.9 637.5,752.8 638.0,752.9 638.5,753.4 639.0,754.7 639.5,750.0 640.0,751.4 640.5,750.4 641.0,753.4 641.5,749.6 642.0,746.7 642.5,748.0 643.0,744.8 643.5,740.7 644.0,733.2 644.5,716.7 645.0,690.6 645.5,660.6 646.0,614.3 646.5,574.2 647.0,558.6 647.5,573.0 648.0,604.7 648.5,650.1 649.0,689.0 649.5,714.3 650.0,732.9 650.5,739.2 651.0,744.7 651.5,747.9 652.0,750.2 652.5,750.4 653.0,749.9 653.5,751.0 654.0,748.6 654.5,755.7 655.0,751.9 655.5,752.3 656.0,753.4 656.5,754.1 657.0,753.9 657.5,752.3 658.0,750.9 658.5,753.3 659.0,752.3 659.5,752.8 660.0,753.6 660.5,753.9 661.0,755.3 661.5,752.4 662.0,749.1 662.5,751.1 663.0,749.8 663.5,743.7 664.0,745.8 664.5,744.8 665.0,750.7 665.5,747.7 666.0,750.1 666.5,752.2 667.0,754.4 667.5,753.4 668.0,753.9 668.5,758.0 669.0,752.6 669.5,753.9 670.0,753.9 670.5,755.7 671.0,756.3 671.5,752.4 672.0,756.6 672.5,756.9 673.0,758.8 673.5,753.6 674.0,756.4 674.5,754.2 675.0,755.8 675.5,753.5 676.0,754.9 676.5,754.7 677.0,754.8 677.5,756.0 678.0,754.0 678.5,754.2 679.0,752.6 679.5,754.5 680.0,753.9 680.5,756.1 681.0,755.7 681.5,753.4 682.0,755.3 682.5,756.6 683.0,754.2 683.5,752.6 684.0,758.3 684.5,755.2 685.0,755.3 685.5,758.1 686.0,752.7 686.5,754.3 687.0,750.5 687.5,753.8 688.0,752.8 688.5,749.4 689.0,738.9 689.5,743.0 690.0,736.4 690.5,731.3 691.0,720.5 691.5,715.2 692.0,714.9 692.5,717.5 693.0,727.0 693.5,733.6 694.0,740.3 694.5,743.9 695.0,748.1 695.5,751.9 696.0,748.9 696.5,750.1 697.0,754.3 697.5,750.7 698.0,752.8 698.5,753.2 699.0,750.9 699.5,749.7 700.0,754.6 700.5,751.0 701.0,752.4 701.5,749.9 702.0,751.2 702.5,747.8 703.0,746.9 703.5,746.4 704.0,745.7 704.5,743.8 705.0,741.3 705.5,737.2 706.0,725.2 706.5,707.0 707.0,667.4 707.5,609.6 708.0,534.3 708.5,450.6 709.0,381.0 709.5,375.9 710.0,418.5 710.5,504.4 711.0,584.6 711.5,651.1 712.0,693.2 712.5,721.9 713.0,734.9 713.5,739.7 714.0,743.3 714.5,747.8 715.0,749.7 715.5,750.4 716.0,749.5 716.5,750.9 717.0,753.0 717.5,753.3 718.0,754.2 718.5,753.0 719.0,752.0 719.5,753.8 720.0,754.3 720.5,753.0 721.0,754.7 721.5,752.8 722.0,754.7 722.5,753.5 723.0,757.9 723.5,756.5 724.0,755.2 724.5,752.7 725.0,752.9 725.5,756.1 726.0,754.8 726.5,755.6 727.0,752.6 727.5,752.8 728.0,755.4 728.5,754.9 729.0,753.2 729.5,754.1 730.0,756.6 730.5,754.7 731.0,756.4 731.5,758.1 732.0,756.0 732.5,755.7 733.0,754.6 733.5,757.5 734.0,753.2 734.5,753.8 735.0,755.5 735.5,753.2 736.0,757.8 736.5,754.6 737.0,756.4 737.5,755.0 738.0,755.1 738.5,755.5 739.0,752.3 739.5,753.7 740.0,754.6 740.5,758.8 741.0,756.5 741.5,756.2 742.0,753.2 742.5,756.1 743.0,756.3 743.5,755.0 744.0,756.9 744.5,748.6 745.0,745.4 745.5,740.9 746.0,731.6 746.5,723.2 747.0,714.2 747.5,707.0 748.0,707.2 748.5,707.5 749.0,724.5 749.5,732.2 750.0,740.4 750.5,749.1 751.0,750.2 751.5,751.4 752.0,754.2 752.5,753.7 753.0,754.8 753.5,754.6 754.0,755.9 754.5,756.4 755.0,753.6 755.5,752.8 756.0,757.1 756.5,752.8 757.0,750.2 757.5,747.3 758.0,746.8 758.5,741.5 759.0,735.7 759.5,735.5 760.0,736.9 760.5,745.4 761.0,745.1 761.5,745.7 762.0,742.3 762.5,740.4 763.0,736.6 763.5,730.3 764.0,727.7 764.5,725.3 765.0,729.1 765.5,734.0 766.0,738.3 766.5,746.8 767.0,749.4 767.5,750.4 768.0,751.7 768.5,752.7 769.0,754.8 769.5,754.1 770.0,756.6 770.5,756.4 771.0,757.8 771.5,756.9 772.0,754.2 772.5,757.6 773.0,755.1 773.5,755.0 774.0,756.3 774.5,756.2 775.0,757.9 775.5,760.8 776.0,757.0 776.5,758.6 777.0,756.0 777.5,756.8 778.0,755.5 778.5,755.6 779.0,758.4 779.5,757.0 780.0,757.0 780.5,755.0 781.0,759.0 781.5,755.9 782.0,755.1 782.5,756.1 783.0,757.1 783.5,757.1 784.0,758.1 784.5,753.9 785.0,751.6 785.5,757.0 786.0,757.0 786.5,750.9 787.0,749.9 787.5,745.6 788.0,745.1 788.5,744.3 789.0,746.1 789.5,745.8 790.0,750.9 790.5,751.0 791.0,751.9 791.5,754.5 792.0,753.0 792.5,751.5 793.0,753.3 793.5,750.9 794.0,752.4 794.5,752.3 795.0,750.1 795.5,748.4 796.0,746.7 796.5,736.0 797.0,727.1 797.5,707.5 798.0,674.1 798.5,629.3 799.0,576.0 799.5,526.1 800.0,507.8 800.5,530.1 801.0,580.3 801.5,631.0 802.0,678.0 802.5,711.5 803.0,731.1 803.5,738.1 804.0,747.0 804.5,746.6 805.0,751.9 805.5,753.1 806.0,748.9 806.5,753.9 807.0,753.9 807.5,753.0 808.0,755.8 808.5,757.7 809.0,755.4 809.5,753.0 810.0,752.4 810.5,752.9 811.0,753.0 811.5,757.2 812.0,754.2 812.5,753.3 813.0,751.5 813.5,745.8 814.0,739.1 814.5,728.3 815.0,717.8 815.5,708.8 816.0,701.4 816.5,711.0 817.0,713.4 817.5,723.3 818.0,736.2 818.5,741.3 819.0,748.0 819.5,752.2 820.0,757.0 820.5,754.1 821.0,755.0 821.5,754.6 822.0,756.0 822.5,756.8 823.0,754.9 823.5,757.2 824.0,755.8 824.5,758.6 825.0,752.9 825.5,757.7 826.0,757.2 826.5,757.1 827.0,756.2 827.5,760.0 828.0,756.6 828.5,758.0 829.0,756.9 829.5,756.8 830.0,757.5 830.5,758.5 831.0,755.6 831.5,756.7 832.0,755.2 832.5,758.1 833.0,756.1 833.5,756.2 834.0,758.5 834.5,757.4 835.0,758.0 835.5,757.1 836.0,757.9 836.5,757.3 837.0,755.2 837.5,757.0 838.0,755.5 838.5,754.8 839.0,754.4 839.5,751.6 840.0,749.2 840.5,751.5 841.0,751.8 841.5,748.6 842.0,752.1 842.5,752.4 843.0,752.3 843.5,753.4 844.0,750.6 844.5,755.8 845.0,756.4 845.5,757.0 846.0,755.5 846.5,758.8 847.0,755.7 847.5,755.8 848.0,759.0 848.5,758.8 849.0,767.8 849.5,757.8 850.0,756.6 850.5,759.4 851.0,757.5 851.5,757.4 852.0,756.3 852.5,758.3 853.0,758.2 853.5,758.5 854.0,754.4 854.5,759.0 855.0,755.1 855.5,758.7 856.0,761.5 856.5,757.1 857.0,755.6 857.5,760.5 858.0,756.6 858.5,755.3 859.0,758.8 859.5,751.8 860.0,753.4 860.5,753.0 861.0,753.2 861.5,750.3 862.0,754.2 862.5,753.8 863.0,751.2 863.5,749.7 864.0,746.9 864.5,749.4 865.0,747.3 865.5,749.8 866.0,751.5 866.5,751.3 867.0,749.3 867.5,752.5 868.0,757.3 868.5,756.4 869.0,758.8 869.5,753.4 870.0,757.0 870.5,757.0 871.0,754.8 871.5,756.4 872.0,759.1 872.5,758.4 873.0,756.7 873.5,758.1 874.0,759.5 874.5,755.9 875.0,758.1 875.5,759.3 876.0,756.5 876.5,759.7 877.0,757.5 877.5,759.4 878.0,759.4 878.5,758.0 879.0,757.1 879.5,756.5 880.0,757.8 880.5,757.8 881.0,759.7 881.5,757.2 882.0,757.8 882.5,759.6 883.0,757.0 883.5,756.6 884.0,757.5 884.5,753.9 885.0,753.1 885.5,752.5 886.0,750.4 886.5,748.9 887.0,749.0 887.5,752.2 888.0,755.6 888.5,756.5 889.0,758.3 889.5,757.8 890.0,755.6 890.5,754.5 891.0,756.0 891.5,756.4 892.0,755.5 892.5,757.8 893.0,754.4 893.5,755.5 894.0,754.0 894.5,747.4 895.0,746.0 895.5,744.7 896.0,740.0 896.5,735.9 897.0,733.0 897.5,735.2 898.0,739.9 898.5,745.9 899.0,748.6 899.5,750.9 900.0,760.1 900.5,756.3 901.0,753.2 901.5,755.0 902.0,756.9 902.5,759.0 903.0,758.9 903.5,756.1 904.0,757.4 904.5,756.2 905.0,756.8 905.5,758.9 906.0,757.0 906.5,756.7 907.0,755.7 907.5,755.1 908.0,757.3 908.5,757.9 909.0,758.6 909.5,756.4 910.0,756.5 910.5,759.7 911.0,758.4 911.5,759.1 912.0,756.8 912.5,756.6 913.0,755.9 913.5,757.2 914.0,755.9 914.5,754.9 915.0,756.5 915.5,752.8 916.0,755.1 916.5,758.1 917.0,757.9 917.5,757.6 918.0,757.4 918.5,755.5 919.0,760.4 919.5,757.4 920.0,759.6 920.5,755.2 921.0,758.5 921.5,755.8 922.0,755.6 922.5,758.1 923.0,759.3 923.5,759.8 924.0,759.7 924.5,757.1 925.0,758.8 925.5,756.6 926.0,756.6 926.5,754.1 927.0,757.2 927.5,758.7 928.0,754.4 928.5,759.0 929.0,756.1 929.5,759.2 930.0,758.3 930.5,754.0 931.0,754.7 931.5,754.2 932.0,749.5 932.5,746.8 933.0,744.4 933.5,743.4 934.0,742.2 934.5,740.3 935.0,744.2 935.5,748.1 936.0,750.2 936.5,750.2 937.0,752.1 937.5,755.2 938.0,756.8 938.5,756.5 939.0,755.1 939.5,753.8 940.0,756.5 940.5,753.2 941.0,755.2 941.5,749.4 942.0,750.0 942.5,747.5 943.0,754.2 943.5,754.3 944.0,752.7 944.5,751.5 945.0,757.1 945.5,756.0 946.0,754.3 946.5,753.8 947.0,756.7 947.5,755.5 948.0,755.7 948.5,755.3 949.0,752.5 949.5,750.0 950.0,747.1 950.5,739.4 951.0,727.8 951.5,722.6 952.0,709.8 952.5,710.0 953.0,709.7 953.5,720.5 954.0,724.3 954.5,735.9 955.0,742.8 955.5,744.9 956.0,749.9 956.5,754.1 957.0,757.9 957.5,757.0 958.0,755.8 958.5,757.3 959.0,756.6 959.5,756.3 960.0,757.5 960.5,753.5 961.0,758.9 961.5,757.9 962.0,756.4 962.5,755.8 963.0,755.2 963.5,757.6 964.0,757.4 964.5,757.5 965.0,759.9 965.5,753.7 966.0,756.0 966.5,755.9 967.0,758.6 967.5,756.7 968.0,755.5 968.5,757.3 969.0,757.5 969.5,759.3 970.0,757.0 970.5,755.8 971.0,755.4 971.5,754.5 972.0,756.0 972.5,763.6 973.0,752.0 973.5,749.3 974.0,747.6 974.5,739.9 975.0,733.7 975.5,723.7 976.0,717.7 976.5,711.0 977.0,711.8 977.5,718.2 978.0,726.0 978.5,730.9 979.0,736.4 979.5,744.1 980.0,749.8 980.5,750.1 981.0,753.0 981.5,751.6 982.0,749.4 982.5,749.4 983.0,750.2 983.5,754.6 984.0,752.8 984.5,752.6 985.0,754.6 985.5,755.5 986.0,755.2 986.5,756.2 987.0,756.3 987.5,758.1 988.0,759.6 988.5,759.3 989.0,763.6 989.5,758.2 990.0,756.2 990.5,755.6 991.0,757.5 991.5,758.3 992.0,757.3 992.5,758.7 993.0,758.7 993.5,758.5 994.0,756.9 994.5,754.8 995.0,759.5 995.5,755.4 996.0,756.6 996.5,755.4 997.0,753.2 997.5,755.9 998.0,753.7 998.5,752.7 999.0,752.7 999.5,752.7 1000.0,753.1 1000.5,756.8 1001.0,755.8 1001.5,756.2 1002.0,758.0 1002.5,756.8 1003.0,758.4 1003.5,756.4 1004.0,756.6 1004.5,758.9 1005.0,756.4 1005.5,758.5 1006.0,758.3 1006.5,757.2 1007.0,754.9 1007.5,755.4 1008.0,755.8 1008.5,755.4 1009.0,758.8 1009.5,756.1 1010.0,755.5 1010.5,756.6 1011.0,757.2 1011.5,754.7 1012.0,758.3 1012.5,758.5 1013.0,756.3 1013.5,758.5 1014.0,754.7 1014.5,756.3 1015.0,756.8 1015.5,757.1 1016.0,758.7 1016.5,756.2 1017.0,754.8 1017.5,756.4 1018.0,755.8 1018.5,755.7 1019.0,753.9 1019.5,754.2 1020.0,752.6 1020.5,754.3 1021.0,752.5 1021.5,752.6 1022.0,755.4 1022.5,751.9 1023.0,751.9 1023.5,750.3 1024.0,744.4 1024.5,738.8 1025.0,725.4 1025.5,713.5 1026.0,693.4 1026.5,679.4 1027.0,673.7 1027.5,677.9 1028.0,689.2 1028.5,700.8 1029.0,717.7 1029.5,730.0 1030.0,736.8 1030.5,747.4 1031.0,749.2 1031.5,753.7 1032.0,752.7 1032.5,751.5 1033.0,750.6 1033.5,749.7 1034.0,747.7 1034.5,741.1 1035.0,738.7 1035.5,724.4 1036.0,710.3 1036.5,700.3 1037.0,692.9 1037.5,688.8 1038.0,692.1 1038.5,701.5 1039.0,713.6 1039.5,724.9 1040.0,735.9 1040.5,744.4 1041.0,748.0 1041.5,754.4 1042.0,754.2 1042.5,754.0 1043.0,755.2 1043.5,758.0 1044.0,753.3 1044.5,756.5 1045.0,760.6 1045.5,758.1 1046.0,755.2 1046.5,756.9 1047.0,756.4 1047.5,761.3 1048.0,755.1 1048.5,756.6 1049.0,756.5 1049.5,754.8 1050.0,752.9 1050.5,756.8 1051.0,758.0 1051.5,756.5 1052.0,758.0 1052.5,758.4 1053.0,758.3 1053.5,754.5 1054.0,759.5 1054.5,758.4 1055.0,758.1 1055.5,756.7 1056.0,756.4 1056.5,755.3 1057.0,757.4 1057.5,763.4 1058.0,755.2 1058.5,757.6 1059.0,755.8 1059.5,757.7 1060.0,756.7 1060.5,758.3 1061.0,760.0 1061.5,757.3 1062.0,756.1 1062.5,756.0 1063.0,757.4 1063.5,755.3 1064.0,756.9 1064.5,755.2 1065.0,755.4 1065.5,752.4 1066.0,751.3 1066.5,751.5 1067.0,753.4 1067.5,751.7 1068.0,754.2 1068.5,750.1 1069.0,752.5 1069.5,753.7 1070.0,751.5 1070.5,753.8 1071.0,752.7 1071.5,755.2 1072.0,754.9 1072.5,756.4 1073.0,753.8 1073.5,752.2 1074.0,753.5 1074.5,754.0 1075.0,753.0 1075.5,751.7 1076.0,750.7 1076.5,743.5 1077.0,735.5 1077.5,721.3 1078.0,702.5 1078.5,680.6 1079.0,653.0 1079.5,625.7 1080.0,620.8 1080.5,621.7 1081.0,644.0 1081.5,672.3 1082.0,696.6 1082.5,718.2 1083.0,733.7 1083.5,742.5 1084.0,745.7 1084.5,751.4 1085.0,751.5 1085.5,749.8 1086.0,753.8 1086.5,755.6 1087.0,755.3 1087.5,755.5 1088.0,758.4 1088.5,756.3 1089.0,757.5 1089.5,756.7 1090.0,758.9 1090.5,755.8 1091.0,758.4 1091.5,759.5 1092.0,756.0 1092.5,758.3 1093.0,754.6 1093.5,757.2 1094.0,757.9 1094.5,755.5 1095.0,753.9 1095.5,760.2 1096.0,756.2 1096.5,757.0 1097.0,757.1 1097.5,757.9 1098.0,759.0 1098.5,757.1 1099.0,753.9 1099.5,757.3 1100.0,756.7 1100.5,756.0 1101.0,758.0 1101.5,755.4 1102.0,753.5 1102.5,753.3 1103.0,747.4 1103.5,747.1 1104.0,739.2 1104.5,733.0 1105.0,720.9 1105.5,709.6 1106.0,700.5 1106.5,689.5 1107.0,699.0 1107.5,707.7 1108.0,719.4 1108.5,729.1 1109.0,736.0 1109.5,748.7 1110.0,747.9 1110.5,751.8 1111.0,752.4 1111.5,751.2 1112.0,750.8 1112.5,754.1 1113.0,754.7 1113.5,754.2 1114.0,750.4 1114.5,753.7 1115.0,753.0 1115.5,747.8 1116.0,746.9 1116.5,744.6 1117.0,736.5 1117.5,731.7 1118.0,722.5 1118.5,718.3 1119.0,718.7 1119.5,719.4 1120.0,725.1 1120.5,731.7 1121.0,736.6 1121.5,746.3 1122.0,748.2 1122.5,751.1 1123.0,752.9 1123.5,755.0 1124.0,754.2 1124.5,757.5 1125.0,755.9 1125.5,757.9 1126.0,755.4 1126.5,755.3 1127.0,755.5 1127.5,757.4 1128.0,755.0 1128.5,758.5 1129.0,756.7 1129.5,758.7 1130.0,756.7 1130.5,758.6 1131.0,755.7 1131.5,755.7 1132.0,758.3 1132.5,756.5 1133.0,759.1 1133.5,756.3 1134.0,758.2 1134.5,760.6 1135.0,759.6 1135.5,759.3 1136.0,756.6 1136.5,758.3 1137.0,760.0 1137.5,754.7 1138.0,757.4 1138.5,758.6 1139.0,759.1 1139.5,759.8 1140.0,757.9 1140.5,757.2 1141.0,757.5 1141.5,755.6 1142.0,758.6 1142.5,758.6 1143.0,758.0 1143.5,756.2 1144.0,758.5 1144.5,756.6 1145.0,759.4 1145.5,756.4 1146.0,756.5 1146.5,756.8 1147.0,755.7 1147.5,755.8 1148.0,756.8 1148.5,753.3 1149.0,760.2 1149.5,757.6 1150.0,757.3 1150.5,755.3 1151.0,756.8 1151.5,756.2 1152.0,755.8 1152.5,752.5 1153.0,753.2 1153.5,748.3 1154.0,748.0 1154.5,742.9 1155.0,738.6 1155.5,733.9 1156.0,731.1 1156.5,728.4 1157.0,725.8 1157.5,725.9 1158.0,733.9 1158.5,734.3 1159.0,743.1 1159.5,745.7 1160.0,748.4 1160.5,754.3 1161.0,754.6 1161.5,756.8 1162.0,755.3 1162.5,757.5 1163.0,754.2 1163.5,756.3 1164.0,757.2 1164.5,757.4 1165.0,757.7 1165.5,756.5 1166.0,754.5 1166.5,756.4 1167.0,752.7 1167.5,756.4 1168.0,755.6 1168.5,758.2 1169.0,752.5 1169.5,760.0 1170.0,756.2 1170.5,754.1 1171.0,757.2 1171.5,757.2 1172.0,756.8 1172.5,759.2 1173.0,753.9 1173.5,754.7 1174.0,753.0 1174.5,749.6 1175.0,748.3 1175.5,746.3 1176.0,739.1 1176.5,737.5 1177.0,735.6 1177.5,733.9 1178.0,731.3 1178.5,736.9 1179.0,739.5 1179.5,745.7 1180.0,747.0 1180.5,753.0 1181.0,749.9 1181.5,754.0 1182.0,752.6 1182.5,757.2 1183.0,757.0 1183.5,753.0 1184.0,755.5 1184.5,750.0 1185.0,751.1 1185.5,751.5 1186.0,752.5 1186.5,750.6 1187.0,748.1 1187.5,745.2 1188.0,738.5 1188.5,728.0 1189.0,710.7 1189.5,693.5 1190.0,672.1 1190.5,647.6 1191.0,637.0 1191.5,631.7 1192.0,635.2 1192.5,649.9 1193.0,657.4 1193.5,666.4 1194.0,672.8 1194.5,677.2 1195.0,687.6 1195.5,694.5 1196.0,706.3 1196.5,719.2 1197.0,732.0 1197.5,738.4 1198.0,743.8 1198.5,749.0 1199.0,753.1 1199.5,752.3 1200.0,755.8 1200.5,754.6 1201.0,754.3 1201.5,755.7 1202.0,758.2 1202.5,754.9 1203.0,757.6 1203.5,756.5 1204.0,755.9 1204.5,755.8 1205.0,757.0 1205.5,756.7 1206.0,756.2 1206.5,756.4 1207.0,753.7 1207.5,753.4 1208.0,752.0 1208.5,751.8 1209.0,750.3 1209.5,748.0 1210.0,747.0 1210.5,742.0 1211.0,740.2 1211.5,738.9 1212.0,737.4 1212.5,732.7 1213.0,733.3 1213.5,734.1 1214.0,731.9 1214.5,736.2 1215.0,736.3 1215.5,738.9 1216.0,740.2 1216.5,737.5 1217.0,738.7 1217.5,735.4 1218.0,732.9 1218.5,732.5 1219.0,730.0 1219.5,729.9 1220.0,735.2 1220.5,732.3 1221.0,742.0 1221.5,744.0 1222.0,747.3 1222.5,749.5 1223.0,750.8 1223.5,752.7 1224.0,753.4 1224.5,754.9 1225.0,759.7 1225.5,753.4 1226.0,756.7 1226.5,754.4 1227.0,751.3 1227.5,752.1 1228.0,753.4 1228.5,754.7 1229.0,755.4 1229.5,756.3 1230.0,756.2 1230.5,758.4 1231.0,758.2 1231.5,756.2 1232.0,756.7 1232.5,755.0 1233.0,758.2 1233.5,756.9 1234.0,760.2 1234.5,756.2 1235.0,759.6 1235.5,755.8 1236.0,754.6 1236.5,755.9 1237.0,757.8 1237.5,758.8 1238.0,755.8 1238.5,758.7 1239.0,756.4 1239.5,756.3 1240.0,756.6 1240.5,753.9 1241.0,757.3 1241.5,757.5 1242.0,754.5 1242.5,757.1 1243.0,757.1 1243.5,759.1 1244.0,754.9 1244.5,754.7 1245.0,753.8 1245.5,753.2 1246.0,754.0 1246.5,749.8 1247.0,750.8 1247.5,746.1 1248.0,741.7 1248.5,739.2 1249.0,735.8 1249.5,734.5 1250.0,738.6 1250.5,739.4 1251.0,738.3 1251.5,741.0 1252.0,745.7 1252.5,742.8 1253.0,744.2 1253.5,743.7 1254.0,741.1 1254.5,739.5 1255.0,738.1 1255.5,738.4 1256.0,736.6 1256.5,740.9 1257.0,743.5 1257.5,743.6 1258.0,748.7 1258.5,748.4 1259.0,747.0 1259.5,748.6 1260.0,751.6 1260.5,751.4 1261.0,748.1 1261.5,744.2 1262.0,743.4 1262.5,742.2 1263.0,738.0 1263.5,733.8 1264.0,736.1 1264.5,735.7 1265.0,737.3 1265.5,737.0 1266.0,742.9 1266.5,744.1 1267.0,744.9 1267.5,748.4 1268.0,750.7 1268.5,754.1 1269.0,751.7 1269.5,754.5 1270.0,754.1 1270.5,756.4 1271.0,755.4 1271.5,751.7 1272.0,758.1 1272.5,755.7 1273.0,755.0 1273.5,756.7 1274.0,755.1 1274.5,754.7 1275.0,756.5 1275.5,756.9 1276.0,756.5 1276.5,758.1 1277.0,752.7 1277.5,756.9 1278.0,755.2 1278.5,755.3 1279.0,754.3 1279.5,751.0 1280.0,751.1 1280.5,747.3 1281.0,741.8 1281.5,741.3 1282.0,737.5 1282.5,729.6 1283.0,727.1 1283.5,730.1 1284.0,734.0 1284.5,738.0 1285.0,741.4 1285.5,744.0 1286.0,748.8 1286.5,750.9 1287.0,750.9 1287.5,753.0 1288.0,755.0 1288.5,752.7 1289.0,753.1 1289.5,753.2 1290.0,758.9 1290.5,756.6 1291.0,757.3 1291.5,755.8 1292.0,756.6 1292.5,758.8 1293.0,756.5 1293.5,758.8 1294.0,756.9 1294.5,756.7 1295.0,757.4 1295.5,757.6 1296.0,758.6 1296.5,755.1 1297.0,758.1 1297.5,754.3 1298.0,754.2 1298.5,752.3 1299.0,757.1 1299.5,758.0 1300.0,753.6 1300.5,754.7 1301.0,754.6 1301.5,752.4 1302.0,755.2 1302.5,755.2 1303.0,755.1 1303.5,754.8 1304.0,757.0 1304.5,758.0 1305.0,755.1 1305.5,757.3 1306.0,758.4 1306.5,753.2 1307.0,758.1 1307.5,760.3 1308.0,755.6 1308.5,759.7 1309.0,757.2 1309.5,757.1 1310.0,757.4 1310.5,755.8 1311.0,754.9 1311.5,761.3 1312.0,755.5 1312.5,757.2 1313.0,759.8 1313.5,758.0 1314.0,757.8 1314.5,754.3 1315.0,756.3 1315.5,754.9 1316.0,753.8 1316.5,756.7 1317.0,760.9 1317.5,753.4 1318.0,752.8 1318.5,753.9 1319.0,754.2 1319.5,751.1 1320.0,750.1 1320.5,754.6 1321.0,753.6 1321.5,755.0 1322.0,755.7 1322.5,756.3 1323.0,758.3 1323.5,754.7 1324.0,758.1 1324.5,755.0 1325.0,756.4 1325.5,755.5 1326.0,756.1 1326.5,758.7 1327.0,755.1 1327.5,758.3 1328.0,756.8 1328.5,757.3 1329.0,756.3 1329.5,757.7 1330.0,754.2 1330.5,756.9 1331.0,758.7 1331.5,758.1 1332.0,753.8 1332.5,754.1 1333.0,754.6 1333.5,757.6 1334.0,753.7 1334.5,754.4 1335.0,754.4 1335.5,755.8 1336.0,754.5 1336.5,756.8 1337.0,757.6 1337.5,758.7 1338.0,755.9 1338.5,758.8 1339.0,760.5 1339.5,758.7 1340.0,758.6 1340.5,753.6 1341.0,759.6 1341.5,754.6 1342.0,759.4 1342.5,758.2 1343.0,758.7 1343.5,762.1 1344.0,756.3 1344.5,756.7 1345.0,759.1 1345.5,757.7 1346.0,753.9 1346.5,757.6 1347.0,757.7 1347.5,755.7 1348.0,757.7 1348.5,757.4 1349.0,754.1 1349.5,757.6 1350.0,752.6 1350.5,759.3 1351.0,754.6 1351.5,754.1 1352.0,756.0 1352.5,755.8 1353.0,752.5 1353.5,752.3 1354.0,754.0 1354.5,749.7 1355.0,747.5 1355.5,741.3 1356.0,737.6 1356.5,729.1 1357.0,723.2 1357.5,717.4 1358.0,712.7 1358.5,714.7 1359.0,715.6 1359.5,721.6 1360.0,728.3 1360.5,734.2 1361.0,739.9 1361.5,743.0 1362.0,746.9 1362.5,751.0 1363.0,750.0 1363.5,750.5 1364.0,745.8 1364.5,746.3 1365.0,747.0 1365.5,739.8 1366.0,733.7 1366.5,729.3 1367.0,716.7 1367.5,710.4 1368.0,699.9 1368.5,693.2 1369.0,690.1 1369.5,699.9 1370.0,702.5 1370.5,714.3 1371.0,727.5 1371.5,733.1 1372.0,742.9 1372.5,752.8 1373.0,750.1 1373.5,751.1 1374.0,749.5 1374.5,755.4 1375.0,753.9 1375.5,756.8 1376.0,756.4 1376.5,757.1 1377.0,756.8 1377.5,757.4 1378.0,757.3 1378.5,758.1 1379.0,757.4 1379.5,757.4 1380.0,755.5 1380.5,754.3 1381.0,757.1 1381.5,758.6 1382.0,755.7 1382.5,754.6 1383.0,756.3 1383.5,757.7 1384.0,758.4 1384.5,756.5 1385.0,755.0 1385.5,756.5 1386.0,757.4 1386.5,756.0 1387.0,757.4 1387.5,754.9 1388.0,757.0 1388.5,758.2 1389.0,754.0 1389.5,754.0 1390.0,756.0 1390.5,759.3 1391.0,754.5 1391.5,753.2 1392.0,755.1 1392.5,753.1 1393.0,751.2 1393.5,752.7 1394.0,756.7 1394.5,751.8 1395.0,751.7 1395.5,754.3 1396.0,752.1 1396.5,752.5 1397.0,747.7 1397.5,747.5 1398.0,747.8 1398.5,746.2 1399.0,747.6 1399.5,747.6 1400.0,749.5 1400.5,748.8 1401.0,749.6 1401.5,752.7 1402.0,755.2 1402.5,756.4 1403.0,756.1 1403.5,755.8 1404.0,756.0 1404.5,754.8 1405.0,757.3 1405.5,757.3 1406.0,760.0 1406.5,757.7 1407.0,758.6 1407.5,759.5 1408.0,754.5 1408.5,756.4 1409.0,757.1 1409.5,757.7 1410.0,755.7 1410.5,759.1 1411.0,758.9 1411.5,758.2 1412.0,758.5 1412.5,755.6 1413.0,759.2 1413.5,756.3 1414.0,751.6 1414.5,757.2 1415.0,757.4 1415.5,755.3 1416.0,753.3 1416.5,753.6 1417.0,754.7 1417.5,750.5 1418.0,756.0 1418.5,755.8 1419.0,753.8 1419.5,755.5 1420.0,752.8 1420.5,750.1 1421.0,751.1 1421.5,748.6 1422.0,743.5 1422.5,739.9 1423.0,738.2 1423.5,740.0 1424.0,737.2 1424.5,743.2 1425.0,739.8 1425.5,744.5 1426.0,747.0 1426.5,748.8 1427.0,752.7 1427.5,751.8 1428.0,754.5 1428.5,753.6 1429.0,752.6 1429.5,756.5 1430.0,754.8 1430.5,754.7 1431.0,757.6 1431.5,756.3 1432.0,756.9 1432.5,758.4 1433.0,755.1 1433.5,754.5 1434.0,750.6 1434.5,752.7 1435.0,751.9 1435.5,748.8 1436.0,752.2 1436.5,752.8 1437.0,753.2 1437.5,754.9 1438.0,759.6 1438.5,755.4 1439.0,756.3 1439.5,757.3 1440.0,757.0 1440.5,754.4 1441.0,758.5 1441.5,758.9 1442.0,760.2 1442.5,756.6 1443.0,755.5 1443.5,758.6 1444.0,755.9 1444.5,757.5 1445.0,756.9 1445.5,757.8 1446.0,756.8 1446.5,758.6 1447.0,756.0 1447.5,761.2 1448.0,754.0 1448.5,756.2 1449.0,755.4 1449.5,756.4 1450.0,755.6 1450.5,754.8 1451.0,758.1 1451.5,757.4 1452.0,754.3 1452.5,757.1 1453.0,756.5 1453.5,757.9 1454.0,755.8 1454.5,760.4 1455.0,757.2 1455.5,760.3 1456.0,756.3 1456.5,759.1 1457.0,756.7 1457.5,759.5 1458.0,756.4 1458.5,754.8 1459.0,754.6 1459.5,755.0 1460.0,756.6 1460.5,755.5 1461.0,753.9 1461.5,753.4 1462.0,751.2 1462.5,742.4 1463.0,739.7 1463.5,734.9 1464.0,723.4 1464.5,718.1 1465.0,717.2 1465.5,717.3 1466.0,718.0 1466.5,720.1 1467.0,722.6 1467.5,719.7 1468.0,714.9 1468.5,712.9 1469.0,716.5 1469.5,724.1 1470.0,729.5 1470.5,736.4 1471.0,745.0 1471.5,748.0 1472.0,751.0 1472.5,754.0 1473.0,757.2 1473.5,756.0 1474.0,757.1 1474.5,756.4 1475.0,758.9 1475.5,754.6 1476.0,754.9 1476.5,755.9 1477.0,760.0 1477.5,759.3 1478.0,755.0 1478.5,755.9 1479.0,757.3 1479.5,756.1 1480.0,756.9 1480.5,754.0 1481.0,751.4 1481.5,754.4 1482.0,760.2 1482.5,750.7 1483.0,750.7 1483.5,753.6 1484.0,752.0 1484.5,756.1 1485.0,753.8 1485.5,756.8 1486.0,754.7 1486.5,754.7 1487.0,754.4 1487.5,751.4 1488.0,748.2 1488.5,749.0 1489.0,742.9 1489.5,745.5 1490.0,741.0 1490.5,740.8 1491.0,743.0 1491.5,744.7 1492.0,746.9 1492.5,745.9 1493.0,748.8 1493.5,752.2 1494.0,752.9 1494.5,753.1 1495.0,755.6 1495.5,753.4 1496.0,755.4 1496.5,756.0 1497.0,755.4 1497.5,755.2 1498.0,757.2 1498.5,757.2 1499.0,757.8 1499.5,755.7 1500.0,758.0 1500.5,759.9 1501.0,756.9 1501.5,757.6 1502.0,757.1 1502.5,758.9 1503.0,754.2 1503.5,760.0 1504.0,758.3 1504.5,757.1 1505.0,757.9 1505.5,759.3 1506.0,752.6 1506.5,758.6 1507.0,759.4 1507.5,757.7 1508.0,758.6 1508.5,759.8 1509.0,758.3 1509.5,756.4 1510.0,758.6 1510.5,760.6 1511.0,756.7 1511.5,757.9 1512.0,757.8 1512.5,758.4 1513.0,756.3 1513.5,756.7 1514.0,759.5 1514.5,757.1 1515.0,754.4 1515.5,755.9 1516.0,753.7 1516.5,754.7 1517.0,748.2 1517.5,749.2 1518.0,748.6 1518.5,742.5 1519.0,740.4 1519.5,739.2 1520.0,735.4 1520.5,733.4 1521.0,732.4 1521.5,730.3 1522.0,733.2 1522.5,740.2 1523.0,739.6 1523.5,744.2 1524.0,745.6 1524.5,748.4 1525.0,748.0 1525.5,747.9 1526.0,748.4 1526.5,746.0 1527.0,741.3 1527.5,740.9 1528.0,741.4 1528.5,736.5 1529.0,731.5 1529.5,725.8 1530.0,724.7 1530.5,728.5 1531.0,728.6 1531.5,731.9 1532.0,731.8"/>
<polyline fill="none" stroke="#5c5c00" stroke-width="3" stroke-linejoin="round" points="127.0,669.6 127.5,669.3 128.0,668.1 128.5,671.9 129.0,668.5 129.5,670.5 130.0,671.7 130.5,668.3 131.0,669.3 131.5,668.1 132.0,670.7 132.5,668.8 133.0,667.8 133.5,671.2 134.0,670.6 134.5,668.2 135.0,671.1 135.5,669.7 136.0,673.2 136.5,671.9 137.0,668.8 137.5,669.2 138.0,668.4 138.5,669.8 139.0,669.7 139.5,670.7 140.0,669.8 140.5,667.7 141.0,668.6 141.5,671.7 142.0,671.4 142.5,669.6 143.0,664.4 143.5,669.6 144.0,669.9 144.5,666.6 145.0,671.2 145.5,669.1 146.0,670.2 146.5,666.5 147.0,670.4 147.5,671.9 148.0,667.0 148.5,672.3 149.0,670.8 149.5,669.2 150.0,666.8 150.5,671.9 151.0,670.6 151.5,671.1 152.0,670.0 152.5,669.3 153.0,671.6 153.5,669.1 154.0,671.7 154.5,668.1 155.0,669.2 155.5,668.5 156.0,672.4 156.5,668.1 157.0,669.0 157.5,671.5 158.0,671.0 158.5,673.7 159.0,673.3 159.5,671.6 160.0,671.7 160.5,668.3 161.0,669.6 161.5,670.4 162.0,670.6 162.5,669.0 163.0,669.6 163.5,669.8 164.0,672.4 164.5,671.6 165.0,670.6 165.5,670.7 166.0,671.5 166.5,670.1 167.0,670.8 167.5,668.8 168.0,672.1 168.5,672.5 169.0,671.7 169.5,671.9 170.0,671.8 170.5,674.1 171.0,671.6 171.5,669.5 172.0,669.9 172.5,672.4 173.0,672.9 173.5,672.5 174.0,672.7 174.5,671.8 175.0,669.5 175.5,670.6 176.0,669.1 176.5,671.1 177.0,669.8 177.5,671.8 178.0,671.5 178.5,669.0 179.0,672.8 179.5,672.8 180.0,669.9 180.5,672.0 181.0,672.9 181.5,671.5 182.0,673.1 182.5,672.2 183.0,673.5 183.5,672.3 184.0,671.8 184.5,672.8 185.0,673.2 185.5,672.4 186.0,671.5 186.5,671.1 187.0,671.7 187.5,671.4 188.0,672.5 188.5,672.5 189.0,672.2 189.5,672.3 190.0,672.6 190.5,674.5 191.0,674.1 191.5,671.6 192.0,673.0 192.5,672.0 193.0,672.4 193.5,672.2 194.0,671.7 194.5,670.7 195.0,669.2 195.5,672.9 196.0,674.3 196.5,671.4 197.0,673.4 197.5,672.2 198.0,673.1 198.5,671.7 199.0,665.9 199.5,672.7 200.0,669.5 200.5,673.2 201.0,672.7 201.5,669.5 202.0,673.9 202.5,672.9 203.0,673.2 203.5,673.4 204.0,672.3 204.5,674.3 205.0,672.2 205.5,672.2 206.0,675.9 206.5,675.4 207.0,672.1 207.5,672.1 208.0,680.1 208.5,673.5 209.0,671.7 209.5,671.2 210.0,675.3 210.5,674.1 211.0,668.2 211.5,670.1 212.0,671.4 212.5,672.8 213.0,673.3 213.5,672.0 214.0,670.2 214.5,672.7 215.0,673.3 215.5,672.4 216.0,671.7 216.5,673.2 217.0,672.3 217.5,670.7 218.0,672.4 218.5,670.4 219.0,673.3 219.5,672.9 220.0,670.8 220.5,672.5 221.0,673.9 221.5,669.1 222.0,671.9 222.5,674.4 223.0,669.9 223.5,671.8 224.0,670.0 224.5,669.7 225.0,668.6 225.5,669.7 226.0,671.2 226.5,672.1 227.0,672.5 227.5,672.5 228.0,673.5 228.5,672.8 229.0,672.9 229.5,670.4 230.0,671.6 230.5,676.3 231.0,675.0 231.5,672.9 232.0,672.8 232.5,673.1 233.0,671.1 233.5,674.4 234.0,671.1 234.5,671.5 235.0,674.7 235.5,668.6 236.0,672.1 236.5,669.1 237.0,669.3 237.5,671.3 238.0,671.0 238.5,672.2 239.0,670.3 239.5,671.2 240.0,669.7 240.5,670.8 241.0,669.3 241.5,672.2 242.0,669.4 242.5,672.2 243.0,670.6 243.5,670.8 244.0,672.9 244.5,671.3 245.0,668.4 245.5,671.8 246.0,666.9 246.5,671.4 247.0,670.5 247.5,669.0 248.0,671.1 248.5,670.5 249.0,673.8 249.5,670.3 250.0,673.6 250.5,672.8 251.0,669.9 251.5,669.6 252.0,672.6 252.5,670.4 253.0,670.8 253.5,670.1 254.0,668.6 254.5,668.7 255.0,668.6 255.5,667.2 256.0,668.1 256.5,669.6 257.0,667.2 257.5,662.0 258.0,659.4 258.5,657.9 259.0,658.7 259.5,658.6 260.0,660.1 260.5,663.0 261.0,667.6 261.5,671.5 262.0,667.9 262.5,666.5 263.0,670.9 263.5,669.8 264.0,670.2 264.5,671.9 265.0,670.2 265.5,668.2 266.0,667.3 266.5,670.1 267.0,667.2 267.5,670.6 268.0,668.3 268.5,669.6 269.0,668.0 269.5,669.6 270.0,669.4 270.5,670.9 271.0,672.0 271.5,669.8 272.0,668.8 272.5,672.8 273.0,670.5 273.5,670.9 274.0,670.8 274.5,672.1 275.0,671.4 275.5,670.9 276.0,671.0 276.5,668.6 277.0,669.0 277.5,669.7 278.0,670.0 278.5,669.8 279.0,670.2 279.5,669.8 280.0,669.1 280.5,667.4 281.0,670.9 281.5,670.5 282.0,668.4 282.5,670.4 283.0,670.2 283.5,669.7 284.0,666.9 284.5,667.8 285.0,668.7 285.5,671.9 286.0,668.3 286.5,669.0 287.0,667.9 287.5,668.7 288.0,669.9 288.5,666.4 289.0,665.3 289.5,670.3 290.0,669.4 290.5,668.4 291.0,672.9 291.5,670.7 292.0,664.2 292.5,669.0 293.0,670.8 293.5,668.2 294.0,668.7 294.5,670.5 295.0,668.7 295.5,667.4 296.0,668.1 296.5,667.1 297.0,669.8 297.5,666.5 298.0,670.4 298.5,666.6 299.0,669.0 299.5,666.8 300.0,668.4 300.5,670.3 301.0,670.4 301.5,670.7 302.0,668.6 302.5,668.9 303.0,677.0 303.5,669.6 304.0,668.1 304.5,670.2 305.0,669.1 305.5,670.2 306.0,669.2 306.5,669.5 307.0,667.4 307.5,667.8 308.0,666.5 308.5,667.9 309.0,668.0 309.5,669.4 310.0,666.3 310.5,672.7 311.0,667.8 311.5,669.7 312.0,669.3 312.5,663.9 313.0,667.1 313.5,669.3 314.0,663.4 314.5,667.5 315.0,664.1 315.5,662.8 316.0,660.3 316.5,651.3 317.0,645.6 317.5,633.9 318.0,624.1 318.5,621.3 319.0,627.6 319.5,632.1 320.0,642.9 320.5,651.3 321.0,657.1 321.5,662.6 322.0,666.6 322.5,665.6 323.0,666.9 323.5,665.3 324.0,669.2 324.5,663.0 325.0,666.3 325.5,666.4 326.0,666.2 326.5,664.6 327.0,666.3 327.5,666.5 328.0,667.2 328.5,665.5 329.0,665.8 329.5,668.2 330.0,668.9 330.5,666.6 331.0,666.4 331.5,666.4 332.0,671.0 332.5,668.1 333.0,667.3 333.5,668.9 334.0,670.7 334.5,669.1 335.0,665.3 335.5,667.3 336.0,666.8 336.5,666.9 337.0,665.6 337.5,665.0 338.0,665.7 338.5,667.8 339.0,667.3 339.5,665.2 340.0,664.7 340.5,666.5 341.0,668.1 341.5,667.8 342.0,667.0 342.5,662.5 343.0,666.3 343.5,665.9 344.0,666.5 344.5,665.2 345.0,666.3 345.5,665.9 346.0,670.8 346.5,667.9 347.0,666.5 347.5,666.7 348.0,666.6 348.5,667.0 349.0,666.1 349.5,666.7 350.0,668.1 350.5,667.8 351.0,663.7 351.5,668.5 352.0,666.9 352.5,665.1 353.0,663.9 353.5,665.4 354.0,666.3 354.5,667.0 355.0,667.9 355.5,665.5 356.0,665.1 356.5,667.4 357.0,668.0 357.5,665.5 358.0,666.7 358.5,668.2 359.0,666.6 359.5,666.0 360.0,663.1 360.5,668.0 361.0,667.0 361.5,666.2 362.0,665.3 362.5,664.1 363.0,665.8 363.5,665.7 364.0,667.4 364.5,664.0 365.0,667.9 365.5,665.8 366.0,667.4 366.5,664.3 367.0,666.2 367.5,667.4 368.0,665.8 368.5,663.4 369.0,665.1 369.5,666.3 370.0,663.4 370.5,663.3 371.0,665.8 371.5,664.0 372.0,666.3 372.5,663.6 373.0,662.6 373.5,664.1 374.0,667.4 374.5,663.9 375.0,665.2 375.5,665.5 376.0,663.7 376.5,666.7 377.0,665.3 377.5,665.6 378.0,662.5 378.5,662.4 379.0,660.9 379.5,664.6 380.0,664.5 380.5,665.9 381.0,666.9 381.5,664.4 382.0,664.3 382.5,665.3 383.0,666.8 383.5,663.4 384.0,665.5 384.5,664.2 385.0,658.5 385.5,665.6 386.0,663.2 386.5,662.8 387.0,665.3 387.5,664.2 388.0,663.8 388.5,664.0 389.0,664.8 389.5,663.5 390.0,665.1 390.5,664.5 391.0,666.0 391.5,665.6 392.0,666.4 392.5,663.4 393.0,663.7 393.5,662.6 394.0,667.5 394.5,662.9 395.0,663.8 395.5,664.8 396.0,660.6 396.5,661.1 397.0,661.3 397.5,659.8 398.0,658.2 398.5,657.0 399.0,655.2 399.5,646.6 400.0,633.9 400.5,618.9 401.0,601.2 401.5,594.8 402.0,595.2 402.5,603.9 403.0,621.1 403.5,635.1 404.0,645.8 404.5,652.3 405.0,656.8 405.5,658.4 406.0,661.5 406.5,661.9 407.0,662.2 407.5,661.7 408.0,661.5 408.5,665.2 409.0,659.7 409.5,664.2 410.0,663.0 410.5,662.6 411.0,661.8 411.5,662.3 412.0,660.9 412.5,660.6 413.0,662.5 413.5,660.2 414.0,663.8 414.5,664.2 415.0,658.0 415.5,661.4 416.0,663.0 416.5,662.9 417.0,662.7 417.5,663.2 418.0,663.6 418.5,663.8 419.0,665.1 419.5,662.5 420.0,663.7 420.5,660.1 421.0,662.2 421.5,660.6 422.0,664.4 422.5,665.7 423.0,665.5 423.5,660.4 424.0,662.1 424.5,662.3 425.0,662.5 425.5,663.8 426.0,663.5 426.5,658.2 427.0,664.1 427.5,661.4 428.0,661.2 428.5,664.1 429.0,661.6 429.5,660.0 430.0,660.0 430.5,662.0 431.0,663.2 431.5,664.0 432.0,661.6 432.5,661.1 433.0,664.1 433.5,661.1 434.0,663.8 434.5,662.0 435.0,662.0 435.5,661.3 436.0,662.0 436.5,660.9 437.0,660.6 437.5,659.8 438.0,660.5 438.5,661.9 439.0,661.5 439.5,661.0 440.0,661.1 440.5,661.0 441.0,663.8 441.5,661.3 442.0,660.4 442.5,660.8 443.0,662.1 443.5,660.9 444.0,660.9 444.5,660.7 445.0,661.3 445.5,661.6 446.0,661.6 446.5,658.6 447.0,659.4 447.5,657.1 448.0,662.0 448.5,662.4 449.0,662.7 449.5,661.0 450.0,662.4 450.5,662.2 451.0,660.5 451.5,658.4 452.0,659.5 452.5,659.7 453.0,661.9 453.5,662.9 454.0,659.8 454.5,661.0 455.0,660.8 455.5,659.2 456.0,657.8 456.5,659.2 457.0,658.2 457.5,659.8 458.0,660.0 458.5,659.9 459.0,659.9 459.5,660.8 460.0,658.7 460.5,661.3 461.0,657.5 461.5,660.0 462.0,660.4 462.5,658.7 463.0,657.5 463.5,660.7 464.0,658.7 464.5,660.8 465.0,660.7 465.5,659.5 466.0,659.4 466.5,660.8 467.0,659.8 467.5,657.8 468.0,659.3 468.5,659.8 469.0,659.1 469.5,658.9 470.0,658.2 470.5,657.9 471.0,656.2 471.5,656.4 472.0,656.3 472.5,650.2 473.0,645.5 473.5,634.6 474.0,627.2 474.5,616.9 475.0,615.4 475.5,616.0 476.0,624.6 476.5,637.2 477.0,646.0 477.5,642.2 478.0,654.4 478.5,657.3 479.0,655.2 479.5,657.2 480.0,657.0 480.5,656.5 481.0,657.5 481.5,657.4 482.0,656.1 482.5,661.4 483.0,657.5 483.5,657.1 484.0,659.4 484.5,658.0 485.0,659.9 485.5,657.4 486.0,658.0 486.5,657.2 487.0,656.6 487.5,656.4 488.0,654.7 488.5,656.8 489.0,653.3 489.5,653.8 490.0,654.8 490.5,656.8 491.0,657.2 491.5,658.5 492.0,655.6 492.5,658.1 493.0,657.5 493.5,657.4 494.0,658.1 494.5,655.0 495.0,658.2 495.5,658.0 496.0,655.7 496.5,657.6 497.0,659.9 497.5,657.1 498.0,658.5 498.5,657.3 499.0,656.4 499.5,656.2 500.0,656.9 500.5,655.6 501.0,658.6 501.5,656.4 502.0,658.8 502.5,657.1 503.0,656.3 503.5,657.8 504.0,655.8 504.5,654.8 505.0,658.8 505.5,654.2 506.0,657.4 506.5,654.0 507.0,655.5 507.5,648.0 508.0,652.3 508.5,647.9 509.0,648.7 509.5,647.2 510.0,645.3 510.5,647.3 511.0,650.3 511.5,649.5 512.0,651.9 512.5,649.9 513.0,651.0 513.5,649.3 514.0,649.2 514.5,644.1 515.0,641.5 515.5,642.8 516.0,642.0 516.5,646.8 517.0,647.5 517.5,652.8 518.0,654.6 518.5,654.7 519.0,657.1 519.5,653.6 520.0,656.3 520.5,655.3 521.0,655.8 521.5,653.5 522.0,657.6 522.5,656.6 523.0,654.9 523.5,654.4 524.0,655.1 524.5,658.4 525.0,656.2 525.5,655.9 526.0,657.1 526.5,656.4 527.0,656.7 527.5,657.4 528.0,656.8 528.5,657.6 529.0,654.6 529.5,656.4 530.0,655.8 530.5,656.5 531.0,656.2 531.5,655.4 532.0,655.8 532.5,657.6 533.0,655.5 533.5,654.5 534.0,657.1 534.5,657.6 535.0,655.8 535.5,656.4 536.0,655.0 536.5,655.9 537.0,657.7 537.5,657.3 538.0,656.3 538.5,655.7 539.0,653.8 539.5,656.5 540.0,656.7 540.5,657.6 541.0,658.9 541.5,656.6 542.0,659.0 542.5,654.4 543.0,657.7 543.5,657.2 544.0,657.9 544.5,656.9 545.0,656.6 545.5,658.0 546.0,655.0 546.5,656.8 547.0,657.4 547.5,654.7 548.0,654.2 548.5,656.4 549.0,656.0 549.5,656.7 550.0,656.7 550.5,654.7 551.0,657.6 551.5,657.3 552.0,655.2 552.5,655.3 553.0,654.1 553.5,656.8 554.0,658.4 554.5,651.0 555.0,655.1 555.5,658.8 556.0,654.8 556.5,655.1 557.0,654.1 557.5,654.4 558.0,655.8 558.5,656.4 559.0,655.7 559.5,656.7 560.0,655.8 560.5,653.8 561.0,657.5 561.5,657.1 562.0,654.4 562.5,657.9 563.0,656.0 563.5,655.5 564.0,658.0 564.5,651.8 565.0,653.0 565.5,656.3 566.0,654.9 566.5,653.9 567.0,657.3 567.5,655.9 568.0,653.3 568.5,654.2 569.0,656.3 569.5,657.6 570.0,652.2 570.5,655.4 571.0,656.7 571.5,651.8 572.0,654.7 572.5,652.6 573.0,654.1 573.5,657.1 574.0,653.1 574.5,655.9 575.0,655.6 575.5,655.2 576.0,656.0 576.5,652.9 577.0,654.0 577.5,655.6 578.0,653.3 578.5,653.6 579.0,658.1 579.5,656.2 580.0,653.7 580.5,652.6 581.0,654.3 581.5,653.6 582.0,651.9 582.5,653.2 583.0,652.2 583.5,649.8 584.0,650.4 584.5,641.8 585.0,630.7 585.5,616.5 586.0,602.5 586.5,585.6 587.0,577.7 587.5,585.9 588.0,600.4 588.5,616.1 589.0,631.3 589.5,641.1 590.0,646.5 590.5,649.1 591.0,652.5 591.5,649.9 592.0,653.8 592.5,652.9 593.0,653.5 593.5,650.0 594.0,655.8 594.5,651.1 595.0,652.4 595.5,654.6 596.0,652.9 596.5,651.8 597.0,650.7 597.5,656.5 598.0,654.3 598.5,655.0 599.0,653.6 599.5,654.3 600.0,654.7 600.5,653.1 601.0,653.0 601.5,656.9 602.0,652.9 602.5,655.8 603.0,654.2 603.5,655.8 604.0,653.2 604.5,654.8 605.0,654.6 605.5,653.8 606.0,654.5 606.5,653.0 607.0,654.0 607.5,653.5 608.0,655.1 608.5,653.9 609.0,652.1 609.5,653.5 610.0,653.9 610.5,652.7 611.0,655.9 611.5,654.5 612.0,655.1 612.5,652.8 613.0,652.9 613.5,655.2 614.0,651.7 614.5,654.2 615.0,653.7 615.5,652.8 616.0,653.5 616.5,651.7 617.0,653.2 617.5,650.6 618.0,649.5 618.5,651.5 619.0,645.6 619.5,639.6 620.0,639.3 620.5,632.5 621.0,626.3 621.5,631.5 622.0,636.2 622.5,640.0 623.0,646.4 623.5,647.3 624.0,650.7 624.5,649.8 625.0,652.2 625.5,654.5 626.0,654.0 626.5,648.9 627.0,649.5 627.5,651.6 628.0,649.9 628.5,652.1 629.0,648.4 629.5,646.9 630.0,639.8 630.5,636.1 631.0,621.9 631.5,614.1 632.0,611.8 632.5,609.6 633.0,615.5 633.5,627.7 634.0,637.5 634.5,644.3 635.0,644.6 635.5,650.2 636.0,648.1 636.5,654.4 637.0,652.1 637.5,652.7 638.0,653.2 638.5,653.0 639.0,650.6 639.5,654.6 640.0,651.9 640.5,649.6 641.0,654.0 641.5,654.0 642.0,653.3 642.5,652.0 643.0,649.5 643.5,651.6 644.0,652.2 644.5,649.5 645.0,648.4 645.5,640.7 646.0,634.9 646.5,619.8 647.0,592.9 647.5,562.0 648.0,530.7 648.5,508.3 649.0,506.5 649.5,525.8 650.0,557.9 650.5,589.5 651.0,614.8 651.5,632.0 652.0,641.4 652.5,645.5 653.0,648.4 653.5,648.8 654.0,651.4 654.5,650.1 655.0,653.6 655.5,651.5 656.0,652.2 656.5,651.0 657.0,651.8 657.5,652.6 658.0,652.6 658.5,651.7 659.0,651.0 659.5,652.8 660.0,653.0 660.5,653.6 661.0,654.7 661.5,652.4 662.0,649.9 662.5,652.4 663.0,649.6 663.5,649.8 664.0,652.1 664.5,650.1 665.0,646.8 665.5,645.3 666.0,645.3 666.5,643.2 667.0,647.6 667.5,648.0 668.0,652.7 668.5,649.8 669.0,653.6 669.5,651.7 670.0,654.4 670.5,651.7 671.0,654.2 671.5,652.6 672.0,652.0 672.5,653.0 673.0,654.0 673.5,653.9 674.0,655.6 674.5,656.3 675.0,649.5 675.5,652.7 676.0,650.4 676.5,652.7 677.0,654.2 677.5,651.3 678.0,651.6 678.5,653.5 679.0,652.8 679.5,655.5 680.0,653.7 680.5,653.9 681.0,655.7 681.5,652.4 682.0,653.1 682.5,648.7 683.0,653.4 683.5,654.5 684.0,654.9 684.5,652.8 685.0,651.8 685.5,651.6 686.0,650.7 686.5,652.8 687.0,654.4 687.5,648.9 688.0,649.0 688.5,653.9 689.0,649.2 689.5,651.4 690.0,647.9 690.5,648.8 691.0,645.2 691.5,638.7 692.0,632.3 692.5,621.3 693.0,616.7 693.5,615.4 694.0,616.7 694.5,620.8 695.0,628.7 695.5,636.9 696.0,642.6 696.5,646.7 697.0,647.9 697.5,650.8 698.0,650.5 698.5,651.2 699.0,650.7 699.5,651.6 700.0,648.9 700.5,652.8 701.0,650.9 701.5,650.8 702.0,650.8 702.5,651.1 703.0,650.2 703.5,649.0 704.0,647.7 704.5,644.8 705.0,646.6 705.5,644.6 706.0,642.9 706.5,644.5 707.0,634.2 707.5,626.0 708.0,615.8 708.5,586.7 709.0,538.4 709.5,463.5 710.0,377.3 710.5,297.2 711.0,254.2 711.5,277.2 712.0,345.9 712.5,433.8 713.0,512.7 713.5,569.1 714.0,605.3 714.5,623.7 715.0,634.6 715.5,639.0 716.0,643.0 716.5,642.5 717.0,643.7 717.5,647.6 718.0,648.1 718.5,647.1 719.0,648.8 719.5,648.0 720.0,652.9 720.5,648.0 721.0,653.1 721.5,649.6 722.0,648.8 722.5,650.9 723.0,650.9 723.5,652.9 724.0,652.9 724.5,651.4 725.0,650.6 725.5,655.0 726.0,654.1 726.5,652.3 727.0,651.8 727.5,652.7 728.0,652.4 728.5,654.1 729.0,651.0 729.5,652.4 730.0,651.3 730.5,650.0 731.0,655.1 731.5,652.4 732.0,653.3 732.5,654.6 733.0,652.1 733.5,651.2 734.0,654.1 734.5,653.3 735.0,652.3 735.5,654.7 736.0,652.9 736.5,650.0 737.0,653.1 737.5,652.5 738.0,655.2 738.5,652.5 739.0,652.2 739.5,653.1 740.0,652.7 740.5,650.3 741.0,652.4 741.5,651.7 742.0,654.1 742.5,655.4 743.0,650.2 743.5,650.2 744.0,650.2 744.5,650.1 745.0,649.5 745.5,649.6 746.0,649.3 746.5,642.5 747.0,636.5 747.5,627.4 748.0,620.2 748.5,607.8 749.0,593.0 749.5,588.5 750.0,595.3 750.5,607.3 751.0,619.8 751.5,630.1 752.0,639.5 752.5,644.7 753.0,646.8 753.5,652.2 754.0,650.4 754.5,649.3 755.0,647.1 755.5,649.2 756.0,651.6 756.5,653.2 757.0,649.9 757.5,653.4 758.0,654.7 758.5,652.1 759.0,649.4 759.5,649.2 760.0,649.1 760.5,646.7 761.0,646.0 761.5,647.2 762.0,647.6 762.5,648.9 763.0,645.7 763.5,648.3 764.0,644.1 764.5,639.5 765.0,632.4 765.5,631.5 766.0,626.2 766.5,630.1 767.0,632.5 767.5,634.5 768.0,640.0 768.5,647.4 769.0,649.1 769.5,649.3 770.0,651.0 770.5,651.6 771.0,650.5 771.5,651.6 772.0,651.0 772.5,650.3 773.0,652.8 773.5,650.8 774.0,653.3 774.5,652.4 775.0,653.4 775.5,653.6 776.0,654.1 776.5,653.2 777.0,653.3 777.5,652.1 778.0,653.1 778.5,651.0 779.0,651.9 779.5,653.4 780.0,652.2 780.5,652.9 781.0,650.7 781.5,654.2 782.0,651.3 782.5,652.7 783.0,652.0 783.5,653.3 784.0,651.4 784.5,650.4 785.0,649.0 785.5,651.2 786.0,649.7 786.5,651.9 787.0,652.6 787.5,646.4 788.0,646.5 788.5,647.1 789.0,646.4 789.5,643.2 790.0,642.0 790.5,642.1 791.0,643.1 791.5,646.3 792.0,646.5 792.5,645.2 793.0,647.3 793.5,648.8 794.0,647.4 794.5,648.1 795.0,647.3 795.5,645.9 796.0,647.6 796.5,645.0 797.0,642.4 797.5,640.4 798.0,636.7 798.5,630.4 799.0,609.6 799.5,579.7 800.0,529.9 800.5,464.0 801.0,404.3 801.5,360.6 802.0,361.8 802.5,406.8 803.0,474.9 803.5,531.3 804.0,579.7 804.5,612.8 805.0,629.2 805.5,632.8 806.0,641.5 806.5,643.3 807.0,645.3 807.5,647.8 808.0,641.7 808.5,647.7 809.0,650.8 809.5,646.4 810.0,648.8 810.5,650.3 811.0,648.0 811.5,649.0 812.0,648.1 812.5,650.3 813.0,649.1 813.5,651.0 814.0,650.8 814.5,648.4 815.0,645.9 815.5,643.5 816.0,638.3 816.5,630.1 817.0,626.9 817.5,620.6 818.0,620.1 818.5,620.2 819.0,629.6 819.5,638.2 820.0,641.8 820.5,643.1 821.0,648.1 821.5,649.5 822.0,650.8 822.5,650.6 823.0,651.9 823.5,650.7 824.0,651.8 824.5,650.6 825.0,651.8 825.5,653.2 826.0,651.1 826.5,652.9 827.0,650.6 827.5,651.4 828.0,651.6 828.5,653.8 829.0,650.9 829.5,653.8 830.0,649.9 830.5,651.9 831.0,653.5 831.5,653.2 832.0,650.7 832.5,650.4 833.0,653.5 833.5,650.3 834.0,653.0 834.5,651.4 835.0,652.2 835.5,655.6 836.0,654.5 836.5,653.4 837.0,650.2 837.5,652.6 838.0,652.2 838.5,651.9 839.0,653.9 839.5,649.2 840.0,651.9 840.5,651.1 841.0,649.2 841.5,652.2 842.0,647.1 842.5,648.5 843.0,648.5 843.5,645.5 844.0,647.2 844.5,648.6 845.0,651.9 845.5,652.6 846.0,652.5 846.5,652.2 847.0,648.8 847.5,652.5 848.0,651.4 848.5,653.9 849.0,654.2 849.5,655.5 850.0,653.3 850.5,653.5 851.0,650.8 851.5,652.4 852.0,650.5 852.5,653.6 853.0,650.5 853.5,652.0 854.0,651.1 854.5,651.6 855.0,652.9 855.5,651.4 856.0,652.6 856.5,650.7 857.0,654.3 857.5,651.2 858.0,653.6 858.5,655.2 859.0,648.5 859.5,650.5 860.0,651.4 860.5,653.2 861.0,650.3 861.5,651.0 862.0,648.7 862.5,649.8 863.0,646.3 863.5,648.5 864.0,642.2 864.5,643.2 865.0,647.8 865.5,644.5 866.0,642.1 866.5,646.2 867.0,644.6 867.5,645.5 868.0,644.4 868.5,647.4 869.0,648.7 869.5,646.7 870.0,651.0 870.5,650.6 871.0,653.3 871.5,653.6 872.0,650.9 872.5,651.1 873.0,652.3 873.5,653.1 874.0,651.5 874.5,652.0 875.0,653.1 875.5,652.8 876.0,653.9 876.5,652.6 877.0,650.9 877.5,649.6 878.0,653.4 878.5,651.7 879.0,651.7 879.5,651.8 880.0,649.9 880.5,651.6 881.0,648.3 881.5,651.6 882.0,650.8 882.5,654.9 883.0,652.7 883.5,651.7 884.0,652.1 884.5,652.7 885.0,650.1 885.5,650.3 886.0,649.4 886.5,652.7 887.0,648.3 887.5,644.6 888.0,648.4 888.5,651.4 889.0,646.8 889.5,653.6 890.0,649.8 890.5,652.1 891.0,650.3 891.5,651.0 892.0,649.7 892.5,650.1 893.0,648.4 893.5,653.2 894.0,649.6 894.5,651.5 895.0,650.8 895.5,648.2 896.0,647.6 896.5,645.0 897.0,641.4 897.5,639.0 898.0,636.2 898.5,632.9 899.0,632.8 899.5,635.5 900.0,639.9 900.5,645.0 901.0,648.0 901.5,648.5 902.0,651.0 902.5,650.8 903.0,652.8 903.5,651.7 904.0,652.3 904.5,651.4 905.0,651.9 905.5,654.8 906.0,650.2 906.5,652.0 907.0,651.2 907.5,653.5 908.0,654.8 908.5,651.7 909.0,648.0 909.5,653.1 910.0,653.1 910.5,649.7 911.0,651.8 911.5,652.1 912.0,648.7 912.5,653.2 913.0,652.9 913.5,652.6 914.0,650.6 914.5,651.1 915.0,651.3 915.5,652.9 916.0,650.7 916.5,654.4 917.0,652.8 917.5,648.9 918.0,654.7 918.5,652.4 919.0,651.4 919.5,652.3 920.0,649.4 920.5,652.5 921.0,648.5 921.5,650.6 922.0,654.2 922.5,654.0 923.0,651.6 923.5,650.7 924.0,653.2 924.5,652.0 925.0,652.4 925.5,653.0 926.0,650.4 926.5,653.2 927.0,648.8 927.5,654.1 928.0,649.5 928.5,650.9 929.0,650.8 929.5,652.8 930.0,652.7 930.5,652.0 931.0,652.1 931.5,651.6 932.0,650.2 932.5,646.4 933.0,644.1 933.5,641.7 934.0,641.9 934.5,638.0 935.0,634.4 935.5,632.3 936.0,630.7 936.5,630.7 937.0,633.3 937.5,636.4 938.0,644.7 938.5,647.1 939.0,645.8 939.5,648.8 940.0,650.5 940.5,652.5 941.0,649.0 941.5,649.6 942.0,650.3 942.5,644.9 943.0,645.4 943.5,645.6 944.0,644.3 944.5,648.9 945.0,647.9 945.5,647.9 946.0,647.2 946.5,650.8 947.0,651.0 947.5,649.6 948.0,649.8 948.5,648.3 949.0,650.2 949.5,651.3 950.0,650.9 950.5,649.1 951.0,647.3 951.5,641.5 952.0,636.0 952.5,630.6 953.0,619.7 953.5,607.9 954.0,602.2 954.5,600.4 955.0,604.3 955.5,612.0 956.0,621.2 956.5,631.9 957.0,641.2 957.5,643.9 958.0,645.9 958.5,649.2 959.0,647.8 959.5,650.6 960.0,650.1 960.5,652.3 961.0,651.1 961.5,652.7 962.0,654.7 962.5,653.8 963.0,650.1 963.5,651.7 964.0,651.3 964.5,651.7 965.0,650.6 965.5,652.4 966.0,651.7 966.5,648.3 967.0,651.2 967.5,652.0 968.0,653.3 968.5,650.6 969.0,650.2 969.5,653.1 970.0,650.4 970.5,651.4 971.0,651.9 971.5,652.2 972.0,651.0 972.5,649.1 973.0,652.0 973.5,649.4 974.0,648.5 974.5,651.0 975.0,647.1 975.5,640.9 976.0,637.1 976.5,631.5 977.0,623.8 977.5,615.1 978.0,613.7 978.5,611.2 979.0,612.0 979.5,616.0 980.0,623.6 980.5,631.2 981.0,634.8 981.5,640.6 982.0,643.4 982.5,647.0 983.0,645.9 983.5,644.7 984.0,645.4 984.5,648.7 985.0,644.7 985.5,646.9 986.0,646.6 986.5,650.4 987.0,649.3 987.5,649.5 988.0,648.9 988.5,650.7 989.0,652.6 989.5,652.5 990.0,649.6 990.5,654.0 991.0,651.3 991.5,650.1 992.0,651.9 992.5,650.8 993.0,650.9 993.5,650.8 994.0,651.7 994.5,651.0 995.0,649.2 995.5,652.5 996.0,650.9 996.5,653.4 997.0,652.2 997.5,652.1 998.0,651.1 998.5,652.4 999.0,649.6 999.5,648.3 1000.0,650.3 1000.5,645.8 1001.0,649.7 1001.5,651.0 1002.0,650.4 1002.5,653.2 1003.0,652.6 1003.5,651.9 1004.0,651.2 1004.5,653.5 1005.0,650.8 1005.5,651.3 1006.0,653.0 1006.5,652.8 1007.0,654.9 1007.5,651.6 1008.0,649.1 1008.5,652.9 1009.0,653.8 1009.5,656.0 1010.0,654.2 1010.5,654.5 1011.0,650.8 1011.5,651.1 1012.0,649.9 1012.5,652.6 1013.0,652.9 1013.5,652.7 1014.0,654.3 1014.5,650.6 1015.0,649.5 1015.5,649.2 1016.0,649.6 1016.5,649.2 1017.0,651.3 1017.5,652.1 1018.0,652.3 1018.5,651.2 1019.0,650.1 1019.5,650.8 1020.0,651.4 1020.5,649.8 1021.0,650.0 1021.5,649.2 1022.0,648.7 1022.5,649.4 1023.0,647.7 1023.5,650.8 1024.0,646.6 1024.5,649.0 1025.0,644.8 1025.5,646.5 1026.0,641.0 1026.5,631.3 1027.0,621.9 1027.5,608.6 1028.0,598.3 1028.5,589.9 1029.0,590.6 1029.5,590.0 1030.0,604.6 1030.5,614.2 1031.0,626.8 1031.5,636.5 1032.0,642.0 1032.5,645.4 1033.0,646.5 1033.5,647.8 1034.0,648.3 1034.5,649.7 1035.0,645.0 1035.5,645.0 1036.0,641.2 1036.5,637.4 1037.0,631.5 1037.5,626.7 1038.0,620.0 1038.5,611.3 1039.0,603.2 1039.5,605.5 1040.0,608.8 1040.5,619.0 1041.0,628.7 1041.5,635.2 1042.0,641.6 1042.5,644.2 1043.0,644.1 1043.5,645.7 1044.0,649.4 1044.5,650.9 1045.0,652.3 1045.5,650.1 1046.0,650.9 1046.5,651.3 1047.0,652.6 1047.5,651.0 1048.0,649.6 1048.5,652.9 1049.0,652.0 1049.5,652.0 1050.0,649.5 1050.5,651.5 1051.0,648.9 1051.5,648.5 1052.0,651.2 1052.5,650.9 1053.0,652.4 1053.5,653.7 1054.0,651.5 1054.5,654.2 1055.0,650.7 1055.5,652.7 1056.0,649.6 1056.5,651.5 1057.0,650.7 1057.5,650.7 1058.0,651.7 1058.5,647.9 1059.0,650.8 1059.5,649.4 1060.0,651.0 1060.5,651.5 1061.0,650.6 1061.5,650.7 1062.0,649.6 1062.5,652.2 1063.0,650.4 1063.5,652.0 1064.0,649.1 1064.5,653.1 1065.0,649.3 1065.5,649.6 1066.0,649.3 1066.5,650.2 1067.0,648.6 1067.5,649.4 1068.0,648.1 1068.5,649.9 1069.0,649.1 1069.5,649.2 1070.0,650.7 1070.5,647.3 1071.0,650.5 1071.5,649.0 1072.0,647.0 1072.5,650.3 1073.0,649.5 1073.5,655.4 1074.0,649.2 1074.5,649.9 1075.0,650.0 1075.5,646.5 1076.0,649.7 1076.5,646.9 1077.0,649.5 1077.5,648.3 1078.0,642.9 1078.5,635.4 1079.0,629.3 1079.5,616.0 1080.0,598.6 1080.5,575.6 1081.0,553.1 1081.5,539.9 1082.0,536.3 1082.5,551.5 1083.0,567.6 1083.5,589.7 1084.0,610.1 1084.5,623.3 1085.0,634.7 1085.5,641.3 1086.0,644.3 1086.5,646.6 1087.0,650.0 1087.5,649.4 1088.0,647.3 1088.5,649.0 1089.0,651.0 1089.5,649.2 1090.0,650.4 1090.5,650.4 1091.0,651.4 1091.5,650.5 1092.0,650.6 1092.5,649.6 1093.0,651.5 1093.5,649.6 1094.0,653.6 1094.5,651.1 1095.0,650.8 1095.5,652.3 1096.0,651.0 1096.5,651.3 1097.0,651.1 1097.5,650.1 1098.0,649.8 1098.5,650.1 1099.0,652.8 1099.5,650.1 1100.0,650.4 1100.5,650.3 1101.0,651.9 1101.5,653.7 1102.0,649.3 1102.5,651.3 1103.0,650.4 1103.5,649.4 1104.0,649.9 1104.5,646.0 1105.0,647.1 1105.5,642.9 1106.0,636.5 1106.5,636.4 1107.0,626.7 1107.5,621.0 1108.0,613.0 1108.5,614.4 1109.0,617.4 1109.5,625.0 1110.0,632.6 1110.5,633.8 1111.0,641.4 1111.5,644.6 1112.0,648.3 1112.5,647.7 1113.0,646.2 1113.5,647.7 1114.0,646.0 1114.5,645.8 1115.0,646.4 1115.5,645.1 1116.0,645.8 1116.5,641.2 1117.0,646.9 1117.5,642.9 1118.0,638.1 1118.5,629.5 1119.0,621.3 1119.5,615.8 1120.0,610.3 1120.5,610.2 1121.0,609.2 1121.5,610.9 1122.0,620.4 1122.5,628.0 1123.0,633.3 1123.5,640.9 1124.0,646.8 1124.5,645.3 1125.0,646.3 1125.5,649.0 1126.0,651.3 1126.5,648.2 1127.0,648.1 1127.5,651.5 1128.0,646.8 1128.5,653.6 1129.0,650.4 1129.5,652.2 1130.0,652.1 1130.5,649.1 1131.0,649.7 1131.5,654.7 1132.0,651.0 1132.5,648.9 1133.0,651.8 1133.5,653.0 1134.0,653.4 1134.5,651.6 1135.0,654.5 1135.5,651.4 1136.0,651.8 1136.5,653.2 1137.0,651.3 1137.5,653.6 1138.0,649.5 1138.5,651.4 1139.0,653.1 1139.5,652.5 1140.0,651.2 1140.5,649.6 1141.0,650.0 1141.5,651.0 1142.0,651.8 1142.5,651.1 1143.0,649.4 1143.5,650.4 1144.0,652.3 1144.5,652.8 1145.0,649.5 1145.5,651.0 1146.0,649.0 1146.5,650.7 1147.0,656.1 1147.5,651.6 1148.0,650.9 1148.5,650.5 1149.0,649.6 1149.5,648.6 1150.0,651.2 1150.5,650.8 1151.0,653.4 1151.5,648.7 1152.0,651.6 1152.5,652.8 1153.0,644.4 1153.5,651.2 1154.0,647.2 1154.5,649.4 1155.0,649.3 1155.5,644.8 1156.0,642.0 1156.5,636.6 1157.0,633.5 1157.5,630.2 1158.0,624.5 1158.5,622.7 1159.0,626.1 1159.5,627.3 1160.0,627.9 1160.5,635.0 1161.0,638.2 1161.5,643.7 1162.0,647.2 1162.5,648.1 1163.0,650.9 1163.5,648.3 1164.0,649.7 1164.5,649.1 1165.0,650.8 1165.5,651.0 1166.0,650.7 1166.5,649.2 1167.0,650.9 1167.5,650.4 1168.0,652.0 1168.5,650.7 1169.0,652.9 1169.5,651.5 1170.0,648.4 1170.5,650.9 1171.0,649.0 1171.5,650.4 1172.0,653.1 1172.5,650.9 1173.0,651.5 1173.5,648.6 1174.0,647.2 1174.5,649.3 1175.0,649.2 1175.5,646.5 1176.0,647.5 1176.5,646.0 1177.0,644.1 1177.5,642.7 1178.0,638.7 1178.5,634.4 1179.0,633.6 1179.5,634.3 1180.0,633.2 1180.5,639.2 1181.0,641.3 1181.5,642.4 1182.0,644.1 1182.5,651.4 1183.0,649.3 1183.5,650.2 1184.0,652.0 1184.5,651.0 1185.0,649.9 1185.5,650.5 1186.0,648.0 1186.5,650.2 1187.0,646.5 1187.5,649.0 1188.0,648.5 1188.5,644.1 1189.0,647.1 1189.5,638.9 1190.0,636.2 1190.5,624.9 1191.0,613.9 1191.5,597.6 1192.0,586.5 1192.5,570.9 1193.0,564.9 1193.5,564.5 1194.0,568.0 1194.5,582.3 1195.0,591.7 1195.5,600.7 1196.0,606.2 1196.5,607.4 1197.0,613.0 1197.5,620.9 1198.0,628.8 1198.5,633.4 1199.0,639.7 1199.5,642.8 1200.0,644.1 1200.5,646.0 1201.0,647.3 1201.5,648.6 1202.0,649.1 1202.5,651.4 1203.0,648.3 1203.5,647.0 1204.0,651.2 1204.5,649.6 1205.0,650.2 1205.5,654.2 1206.0,652.6 1206.5,651.3 1207.0,651.8 1207.5,650.5 1208.0,651.6 1208.5,649.1 1209.0,646.7 1209.5,648.4 1210.0,650.7 1210.5,649.6 1211.0,645.0 1211.5,645.9 1212.0,642.0 1212.5,641.7 1213.0,637.4 1213.5,637.0 1214.0,633.5 1214.5,631.9 1215.0,632.0 1215.5,633.0 1216.0,633.3 1216.5,633.7 1217.0,639.5 1217.5,636.9 1218.0,634.4 1218.5,632.5 1219.0,629.7 1219.5,630.8 1220.0,631.8 1220.5,626.3 1221.0,628.6 1221.5,628.1 1222.0,635.1 1222.5,637.2 1223.0,640.3 1223.5,644.7 1224.0,647.5 1224.5,648.4 1225.0,647.2 1225.5,646.9 1226.0,647.6 1226.5,646.6 1227.0,651.6 1227.5,648.2 1228.0,648.2 1228.5,648.0 1229.0,650.7 1229.5,647.2 1230.0,650.4 1230.5,651.9 1231.0,649.6 1231.5,647.5 1232.0,652.1 1232.5,649.8 1233.0,650.4 1233.5,651.5 1234.0,651.4 1234.5,653.0 1235.0,650.3 1235.5,658.9 1236.0,651.8 1236.5,651.4 1237.0,652.4 1237.5,651.0 1238.0,653.2 1238.5,650.3 1239.0,649.2 1239.5,653.1 1240.0,653.1 1240.5,650.6 1241.0,650.4 1241.5,650.8 1242.0,651.5 1242.5,651.0 1243.0,651.6 1243.5,648.6 1244.0,653.3 1244.5,651.9 1245.0,649.7 1245.5,652.7 1246.0,651.1 1246.5,652.2 1247.0,647.6 1247.5,650.9 1248.0,647.3 1248.5,642.5 1249.0,644.6 1249.5,640.7 1250.0,637.3 1250.5,636.4 1251.0,632.4 1251.5,635.6 1252.0,634.8 1252.5,635.9 1253.0,639.8 1253.5,639.0 1254.0,638.6 1254.5,638.0 1255.0,638.4 1255.5,638.6 1256.0,634.4 1256.5,632.1 1257.0,634.1 1257.5,633.0 1258.0,634.1 1258.5,639.4 1259.0,637.0 1259.5,641.6 1260.0,640.9 1260.5,644.8 1261.0,647.3 1261.5,648.6 1262.0,645.0 1262.5,647.5 1263.0,646.2 1263.5,643.3 1264.0,641.7 1264.5,639.9 1265.0,637.1 1265.5,638.0 1266.0,634.3 1266.5,639.7 1267.0,639.5 1267.5,638.3 1268.0,640.6 1268.5,641.5 1269.0,644.8 1269.5,642.5 1270.0,643.2 1270.5,643.7 1271.0,647.6 1271.5,646.7 1272.0,649.5 1272.5,650.9 1273.0,645.7 1273.5,649.3 1274.0,652.6 1274.5,650.6 1275.0,651.2 1275.5,652.3 1276.0,648.9 1276.5,649.5 1277.0,654.6 1277.5,650.5 1278.0,649.1 1278.5,650.1 1279.0,649.4 1279.5,648.1 1280.0,648.7 1280.5,648.3 1281.0,647.0 1281.5,645.8 1282.0,638.4 1282.5,637.1 1283.0,637.1 1283.5,631.6 1284.0,631.0 1284.5,627.6 1285.0,624.5 1285.5,628.7 1286.0,628.9 1286.5,634.2 1287.0,639.1 1287.5,643.6 1288.0,642.9 1288.5,645.9 1289.0,646.5 1289.5,647.8 1290.0,643.1 1290.5,646.6 1291.0,648.0 1291.5,648.8 1292.0,647.6 1292.5,650.6 1293.0,651.6 1293.5,650.5 1294.0,650.4 1294.5,650.4 1295.0,651.2 1295.5,652.7 1296.0,653.1 1296.5,650.0 1297.0,649.1 1297.5,649.1 1298.0,651.4 1298.5,650.1 1299.0,650.1 1299.5,650.5 1300.0,650.4 1300.5,649.8 1301.0,648.3 1301.5,648.8 1302.0,649.6 1302.5,649.6 1303.0,648.3 1303.5,648.3 1304.0,651.2 1304.5,648.9 1305.0,650.4 1305.5,650.1 1306.0,649.6 1306.5,648.9 1307.0,650.5 1307.5,650.2 1308.0,652.7 1308.5,649.8 1309.0,656.2 1309.5,652.5 1310.0,651.4 1310.5,652.3 1311.0,652.8 1311.5,649.1 1312.0,650.9 1312.5,650.1 1313.0,653.5 1313.5,651.3 1314.0,652.2 1314.5,654.0 1315.0,650.9 1315.5,651.5 1316.0,651.9 1316.5,650.7 1317.0,652.7 1317.5,651.6 1318.0,651.1 1318.5,648.8 1319.0,647.1 1319.5,645.9 1320.0,644.9 1320.5,642.4 1321.0,645.4 1321.5,646.5 1322.0,643.9 1322.5,646.1 1323.0,647.8 1323.5,648.9 1324.0,649.7 1324.5,652.4 1325.0,648.9 1325.5,650.8 1326.0,651.4 1326.5,650.6 1327.0,650.4 1327.5,649.2 1328.0,650.0 1328.5,652.1 1329.0,653.3 1329.5,650.3 1330.0,652.1 1330.5,652.2 1331.0,651.2 1331.5,651.8 1332.0,649.6 1332.5,652.7 1333.0,649.6 1333.5,651.2 1334.0,648.3 1334.5,647.7 1335.0,649.2 1335.5,647.9 1336.0,650.9 1336.5,651.7 1337.0,650.0 1337.5,653.2 1338.0,650.6 1338.5,650.7 1339.0,651.5 1339.5,651.9 1340.0,650.7 1340.5,650.3 1341.0,650.7 1341.5,652.6 1342.0,650.8 1342.5,653.6 1343.0,651.1 1343.5,653.4 1344.0,649.7 1344.5,650.4 1345.0,652.1 1345.5,652.1 1346.0,651.1 1346.5,654.3 1347.0,651.4 1347.5,651.7 1348.0,650.4 1348.5,653.7 1349.0,652.5 1349.5,651.8 1350.0,648.7 1350.5,651.6 1351.0,650.3 1351.5,651.5 1352.0,652.2 1352.5,649.7 1353.0,651.0 1353.5,651.8 1354.0,650.5 1354.5,649.4 1355.0,647.7 1355.5,647.4 1356.0,645.3 1356.5,645.9 1357.0,643.0 1357.5,638.0 1358.0,636.2 1358.5,630.5 1359.0,627.5 1359.5,627.9 1360.0,626.7 1360.5,623.5 1361.0,626.8 1361.5,631.3 1362.0,634.1 1362.5,636.9 1363.0,640.4 1363.5,639.9 1364.0,644.3 1364.5,646.3 1365.0,645.9 1365.5,644.7 1366.0,644.6 1366.5,640.0 1367.0,641.1 1367.5,627.9 1368.0,628.7 1368.5,619.3 1369.0,609.7 1369.5,599.9 1370.0,593.7 1370.5,586.7 1371.0,589.9 1371.5,596.6 1372.0,605.0 1372.5,614.9 1373.0,627.1 1373.5,632.0 1374.0,638.2 1374.5,640.2 1375.0,645.5 1375.5,647.7 1376.0,648.2 1376.5,649.7 1377.0,649.8 1377.5,650.6 1378.0,652.1 1378.5,646.6 1379.0,652.8 1379.5,649.9 1380.0,651.6 1380.5,650.9 1381.0,650.4 1381.5,648.0 1382.0,653.2 1382.5,649.9 1383.0,649.8 1383.5,652.6 1384.0,651.2 1384.5,653.8 1385.0,653.5 1385.5,652.1 1386.0,651.3 1386.5,652.7 1387.0,648.8 1387.5,650.8 1388.0,650.5 1388.5,649.4 1389.0,650.3 1389.5,647.8 1390.0,651.2 1390.5,651.8 1391.0,648.0 1391.5,649.9 1392.0,651.5 1392.5,649.5 1393.0,647.0 1393.5,646.8 1394.0,649.5 1394.5,651.2 1395.0,647.4 1395.5,649.4 1396.0,648.9 1396.5,649.0 1397.0,649.6 1397.5,648.5 1398.0,646.9 1398.5,650.3 1399.0,646.6 1399.5,646.4 1400.0,648.2 1400.5,646.7 1401.0,646.4 1401.5,648.2 1402.0,645.6 1402.5,648.7 1403.0,649.9 1403.5,650.1 1404.0,649.5 1404.5,650.3 1405.0,648.2 1405.5,650.8 1406.0,651.5 1406.5,652.5 1407.0,651.5 1407.5,650.7 1408.0,650.1 1408.5,651.3 1409.0,651.5 1409.5,653.1 1410.0,651.4 1410.5,650.6 1411.0,651.2 1411.5,650.6 1412.0,651.0 1412.5,648.2 1413.0,649.0 1413.5,649.6 1414.0,651.9 1414.5,651.1 1415.0,651.4 1415.5,652.8 1416.0,649.6 1416.5,652.6 1417.0,651.4 1417.5,649.6 1418.0,652.5 1418.5,648.1 1419.0,648.3 1419.5,649.3 1420.0,650.0 1420.5,649.0 1421.0,645.8 1421.5,647.8 1422.0,647.1 1422.5,649.4 1423.0,645.7 1423.5,641.6 1424.0,637.3 1424.5,640.2 1425.0,632.8 1425.5,633.8 1426.0,634.3 1426.5,634.7 1427.0,637.8 1427.5,639.6 1428.0,641.8 1428.5,647.0 1429.0,647.5 1429.5,647.7 1430.0,648.0 1430.5,650.0 1431.0,651.0 1431.5,651.7 1432.0,652.8 1432.5,651.4 1433.0,649.1 1433.5,653.5 1434.0,652.0 1434.5,651.2 1435.0,651.3 1435.5,646.6 1436.0,647.5 1436.5,646.7 1437.0,648.9 1437.5,645.7 1438.0,647.5 1438.5,650.8 1439.0,650.3 1439.5,649.4 1440.0,653.2 1440.5,648.9 1441.0,651.6 1441.5,650.8 1442.0,651.9 1442.5,650.8 1443.0,650.0 1443.5,651.6 1444.0,649.4 1444.5,652.0 1445.0,650.8 1445.5,652.6 1446.0,650.6 1446.5,650.3 1447.0,651.8 1447.5,653.0 1448.0,648.3 1448.5,651.4 1449.0,652.1 1449.5,649.0 1450.0,649.7 1450.5,651.7 1451.0,649.3 1451.5,649.3 1452.0,652.4 1452.5,648.3 1453.0,651.8 1453.5,646.2 1454.0,648.2 1454.5,648.2 1455.0,652.7 1455.5,652.2 1456.0,648.8 1456.5,653.5 1457.0,651.9 1457.5,650.5 1458.0,651.9 1458.5,651.2 1459.0,649.5 1459.5,647.9 1460.0,649.0 1460.5,650.1 1461.0,649.4 1461.5,648.5 1462.0,650.4 1462.5,646.6 1463.0,647.9 1463.5,643.4 1464.0,640.4 1464.5,633.4 1465.0,628.5 1465.5,620.5 1466.0,612.8 1466.5,611.3 1467.0,610.5 1467.5,609.6 1468.0,614.8 1468.5,614.0 1469.0,614.1 1469.5,609.8 1470.0,610.6 1470.5,616.6 1471.0,619.2 1471.5,624.1 1472.0,630.1 1472.5,636.7 1473.0,641.5 1473.5,641.9 1474.0,645.5 1474.5,649.9 1475.0,650.8 1475.5,649.9 1476.0,649.4 1476.5,648.4 1477.0,649.5 1477.5,649.0 1478.0,647.7 1478.5,650.7 1479.0,649.9 1479.5,650.2 1480.0,652.9 1480.5,651.1 1481.0,648.9 1481.5,652.4 1482.0,646.6 1482.5,649.5 1483.0,647.7 1483.5,646.5 1484.0,647.5 1484.5,649.1 1485.0,647.0 1485.5,647.0 1486.0,652.2 1486.5,649.7 1487.0,652.1 1487.5,649.2 1488.0,650.6 1488.5,648.8 1489.0,650.2 1489.5,648.2 1490.0,646.9 1490.5,649.2 1491.0,646.7 1491.5,642.6 1492.0,644.9 1492.5,644.0 1493.0,644.0 1493.5,645.6 1494.0,646.5 1494.5,648.0 1495.0,647.3 1495.5,646.1 1496.0,648.1 1496.5,650.1 1497.0,646.7 1497.5,649.6 1498.0,649.4 1498.5,648.5 1499.0,650.0 1499.5,648.9 1500.0,649.8 1500.5,649.2 1501.0,651.5 1501.5,653.0 1502.0,650.1 1502.5,652.9 1503.0,648.1 1503.5,649.9 1504.0,649.7 1504.5,653.7 1505.0,650.4 1505.5,652.3 1506.0,648.3 1506.5,651.4 1507.0,652.0 1507.5,651.1 1508.0,647.3 1508.5,651.4 1509.0,652.3 1509.5,653.1 1510.0,651.7 1510.5,648.7 1511.0,650.8 1511.5,652.4 1512.0,649.3 1512.5,651.8 1513.0,650.3 1513.5,651.1 1514.0,651.9 1514.5,649.7 1515.0,654.7 1515.5,650.5 1516.0,650.3 1516.5,648.1 1517.0,648.4 1517.5,646.8 1518.0,643.9 1518.5,642.6 1519.0,644.2 1519.5,642.9 1520.0,638.5 1520.5,633.2 1521.0,640.1 1521.5,639.3 1522.0,639.2 1522.5,635.8 1523.0,633.9 1523.5,638.0 1524.0,639.0 1524.5,641.2 1525.0,644.5 1525.5,645.2 1526.0,646.6 1526.5,644.7 1527.0,645.3 1527.5,643.7 1528.0,644.0 1528.5,643.4 1529.0,642.1 1529.5,642.1 1530.0,639.6 1530.5,637.7 1531.0,634.3 1531.5,633.7 1532.0,631.2"/>
<polyline fill="none" stroke="#006b3c" stroke-width="3" stroke-linejoin="round" points="127.0,564.0 127.5,564.3 128.0,563.8 128.5,563.2 129.0,563.6 129.5,560.5 130.0,564.2 130.5,565.5 131.0,563.7 131.5,563.6 132.0,564.7 132.5,564.6 133.0,564.3 133.5,563.3 134.0,564.2 134.5,565.0 135.0,563.0 135.5,563.9 136.0,562.5 136.5,563.1 137.0,562.6 137.5,564.2 138.0,563.2 138.5,564.7 139.0,564.6 139.5,564.3 140.0,562.0 140.5,564.0 141.0,564.5 141.5,564.7 142.0,563.1 142.5,564.1 143.0,563.7 143.5,563.8 144.0,565.7 144.5,563.9 145.0,564.7 145.5,565.6 146.0,564.2 146.5,564.7 147.0,564.9 147.5,564.9 148.0,563.6 148.5,564.9 149.0,566.2 149.5,563.3 150.0,565.8 150.5,565.1 151.0,564.3 151.5,567.0 152.0,565.8 152.5,563.8 153.0,565.1 153.5,565.6 154.0,564.9 154.5,565.8 155.0,565.0 155.5,565.8 156.0,566.6 156.5,564.5 157.0,565.4 157.5,564.8 158.0,565.4 158.5,564.1 159.0,564.7 159.5,565.1 160.0,566.2 160.5,566.5 161.0,564.0 161.5,564.6 162.0,566.0 162.5,565.7 163.0,566.0 163.5,565.4 164.0,566.7 164.5,566.2 165.0,565.2 165.5,565.2 166.0,565.3 166.5,567.1 167.0,565.2 167.5,565.3 168.0,566.0 168.5,565.5 169.0,565.5 169.5,564.6 170.0,565.7 170.5,565.3 171.0,566.9 171.5,566.4 172.0,565.8 172.5,566.5 173.0,565.5 173.5,566.9 174.0,565.9 174.5,566.5 175.0,564.6 175.5,566.3 176.0,564.3 176.5,563.9 177.0,565.7 177.5,564.4 178.0,566.2 178.5,568.3 179.0,565.2 179.5,565.5 180.0,566.3 180.5,566.6 181.0,566.0 181.5,566.0 182.0,566.9 182.5,566.7 183.0,565.2 183.5,567.9 184.0,566.3 184.5,565.2 185.0,566.6 185.5,565.5 186.0,567.3 186.5,566.6 187.0,566.5 187.5,565.8 188.0,566.3 188.5,564.5 189.0,565.5 189.5,566.9 190.0,564.4 190.5,567.4 191.0,564.8 191.5,567.3 192.0,565.7 192.5,567.4 193.0,566.8 193.5,565.1 194.0,567.9 194.5,568.1 195.0,566.6 195.5,566.5 196.0,566.6 196.5,565.8 197.0,567.9 197.5,566.3 198.0,566.8 198.5,566.1 199.0,566.2 199.5,565.6 200.0,568.2 200.5,566.8 201.0,567.9 201.5,567.0 202.0,566.3 202.5,566.7 203.0,566.4 203.5,567.0 204.0,566.6 204.5,566.7 205.0,565.6 205.5,566.1 206.0,568.6 206.5,566.3 207.0,565.9 207.5,567.2 208.0,568.3 208.5,565.4 209.0,566.7 209.5,566.2 210.0,565.1 210.5,567.6 211.0,566.8 211.5,566.9 212.0,566.1 212.5,567.3 213.0,566.3 213.5,566.7 214.0,565.7 214.5,565.6 215.0,568.1 215.5,566.3 216.0,567.1 216.5,566.7 217.0,566.3 217.5,566.2 218.0,567.4 218.5,566.4 219.0,567.7 219.5,566.7 220.0,567.9 220.5,567.4 221.0,567.1 221.5,566.1 222.0,565.3 222.5,567.6 223.0,567.6 223.5,566.5 224.0,567.2 224.5,567.4 225.0,567.5 225.5,567.6 226.0,566.2 226.5,568.1 227.0,565.4 227.5,567.5 228.0,567.1 228.5,567.5 229.0,568.5 229.5,568.1 230.0,565.4 230.5,564.9 231.0,567.4 231.5,565.5 232.0,566.5 232.5,567.4 233.0,564.9 233.5,564.4 234.0,566.8 234.5,566.5 235.0,566.2 235.5,566.5 236.0,565.6 236.5,564.9 237.0,566.3 237.5,565.5 238.0,564.8 238.5,566.9 239.0,566.4 239.5,566.8 240.0,566.6 240.5,565.7 241.0,565.4 241.5,562.7 242.0,566.6 242.5,565.6 243.0,566.7 243.5,566.7 244.0,568.3 244.5,564.9 245.0,567.2 245.5,566.2 246.0,566.3 246.5,564.8 247.0,565.8 247.5,571.6 248.0,566.1 248.5,566.3 249.0,565.9 249.5,567.3 250.0,566.1 250.5,563.9 251.0,565.4 251.5,564.1 252.0,562.8 252.5,565.4 253.0,567.2 253.5,565.8 254.0,564.3 254.5,564.0 255.0,565.2 255.5,562.9 256.0,565.3 256.5,558.6 257.0,556.6 257.5,556.1 258.0,556.0 258.5,557.2 259.0,558.2 259.5,561.9 260.0,562.4 260.5,562.8 261.0,563.7 261.5,561.5 262.0,565.6 262.5,564.4 263.0,567.5 263.5,567.3 264.0,565.4 264.5,566.7 265.0,566.3 265.5,563.3 266.0,566.2 266.5,565.9 267.0,566.0 267.5,564.9 268.0,565.7 268.5,565.7 269.0,567.1 269.5,566.3 270.0,565.9 270.5,567.4 271.0,565.4 271.5,565.5 272.0,564.1 272.5,567.5 273.0,566.9 273.5,566.8 274.0,566.6 274.5,566.0 275.0,566.1 275.5,565.6 276.0,565.7 276.5,565.9 277.0,567.4 277.5,566.4 278.0,565.8 278.5,565.2 279.0,565.2 279.5,567.4 280.0,566.3 280.5,565.9 281.0,565.4 281.5,564.7 282.0,565.7 282.5,566.6 283.0,565.4 283.5,565.5 284.0,565.5 284.5,565.8 285.0,564.1 285.5,565.5 286.0,564.9 286.5,566.6 287.0,564.9 287.5,566.3 288.0,567.2 288.5,565.4 289.0,565.1 289.5,565.9 290.0,565.6 290.5,564.6 291.0,566.1 291.5,567.6 292.0,565.4 292.5,565.4 293.0,564.6 293.5,565.9 294.0,564.3 294.5,564.5 295.0,566.8 295.5,564.6 296.0,566.6 296.5,567.1 297.0,565.8 297.5,566.1 298.0,567.5 298.5,565.3 299.0,564.9 299.5,564.1 300.0,565.5 300.5,566.9 301.0,566.4 301.5,564.5 302.0,564.5 302.5,564.9 303.0,565.7 303.5,565.2 304.0,565.6 304.5,565.6 305.0,565.0 305.5,565.2 306.0,565.5 306.5,565.4 307.0,565.7 307.5,567.0 308.0,565.7 308.5,565.2 309.0,563.4 309.5,565.4 310.0,563.0 310.5,563.5 311.0,565.6 311.5,565.4 312.0,564.4 312.5,559.9 313.0,563.7 313.5,562.9 314.0,563.3 314.5,563.1 315.0,557.8 315.5,551.4 316.0,543.8 316.5,536.7 317.0,530.1 317.5,527.2 318.0,532.4 318.5,538.7 319.0,545.6 319.5,555.4 320.0,559.9 320.5,561.0 321.0,563.3 321.5,563.2 322.0,563.1 322.5,563.2 323.0,562.2 323.5,562.0 324.0,564.3 324.5,563.5 325.0,564.1 325.5,565.1 326.0,562.6 326.5,563.8 327.0,564.8 327.5,565.2 328.0,564.4 328.5,565.9 329.0,561.7 329.5,558.9 330.0,564.0 330.5,565.7 331.0,565.4 331.5,563.0 332.0,566.3 332.5,565.5 333.0,566.3 333.5,564.6 334.0,564.6 334.5,563.8 335.0,567.5 335.5,564.8 336.0,566.5 336.5,562.2 337.0,565.1 337.5,563.2 338.0,564.5 338.5,565.9 339.0,563.6 339.5,566.0 340.0,565.2 340.5,563.8 341.0,564.4 341.5,564.4 342.0,564.8 342.5,564.3 343.0,564.0 343.5,564.5 344.0,563.8 344.5,563.5 345.0,564.7 345.5,565.7 346.0,563.2 346.5,564.8 347.0,564.1 347.5,563.8 348.0,565.6 348.5,564.2 349.0,566.2 349.5,563.9 350.0,565.1 350.5,564.5 351.0,563.9 351.5,565.2 352.0,564.5 352.5,565.2 353.0,564.6 353.5,563.5 354.0,564.5 354.5,564.6 355.0,565.5 355.5,563.7 356.0,564.5 356.5,562.8 357.0,565.2 357.5,563.5 358.0,562.7 358.5,564.5 359.0,565.6 359.5,563.0 360.0,563.4 360.5,563.7 361.0,563.3 361.5,564.8 362.0,563.6 362.5,563.7 363.0,565.0 363.5,563.6 364.0,564.8 364.5,563.4 365.0,563.2 365.5,562.5 366.0,566.2 366.5,564.0 367.0,564.6 367.5,563.8 368.0,564.5 368.5,564.3 369.0,566.2 369.5,563.2 370.0,562.7 370.5,563.2 371.0,562.9 371.5,565.0 372.0,565.0 372.5,563.2 373.0,562.8 373.5,563.8 374.0,565.5 374.5,561.3 375.0,564.7 375.5,563.0 376.0,565.1 376.5,563.0 377.0,563.8 377.5,562.6 378.0,563.1 378.5,565.4 379.0,564.8 379.5,563.6 380.0,563.1 380.5,562.1 381.0,563.6 381.5,563.9 382.0,563.9 382.5,563.8 383.0,562.8 383.5,563.8 384.0,563.8 384.5,565.1 385.0,565.7 385.5,566.3 386.0,560.8 386.5,563.7 387.0,563.1 387.5,563.0 388.0,563.6 388.5,562.6 389.0,564.2 389.5,563.5 390.0,562.1 390.5,563.3 391.0,562.7 391.5,562.5 392.0,563.1 392.5,562.7 393.0,563.4 393.5,563.1 394.0,561.6 394.5,562.9 395.0,561.4 395.5,561.9 396.0,561.9 396.5,556.6 397.0,560.7 397.5,558.7 398.0,554.5 398.5,547.9 399.0,538.8 399.5,527.3 400.0,518.1 400.5,513.1 401.0,517.0 401.5,525.0 402.0,537.4 402.5,546.9 403.0,553.5 403.5,555.9 404.0,560.7 404.5,559.6 405.0,562.3 405.5,562.5 406.0,562.7 406.5,563.0 407.0,562.1 407.5,562.5 408.0,563.5 408.5,563.4 409.0,563.2 409.5,561.5 410.0,563.6 410.5,564.3 411.0,564.1 411.5,563.4 412.0,561.6 412.5,564.1 413.0,563.0 413.5,560.6 414.0,563.5 414.5,561.7 415.0,561.9 415.5,562.5 416.0,564.4 416.5,562.8 417.0,565.3 417.5,564.9 418.0,564.7 418.5,563.0 419.0,562.9 419.5,561.9 420.0,562.4 420.5,563.5 421.0,563.5 421.5,563.2 422.0,564.1 422.5,562.3 423.0,563.0 423.5,563.8 424.0,566.7 424.5,564.1 425.0,563.4 425.5,562.7 426.0,563.4 426.5,562.0 427.0,561.4 427.5,563.6 428.0,562.9 428.5,563.3 429.0,561.3 429.5,562.6 430.0,562.4 430.5,562.1 431.0,560.7 431.5,562.6 432.0,563.8 432.5,563.3 433.0,562.3 433.5,562.9 434.0,563.6 434.5,560.1 435.0,562.7 435.5,563.4 436.0,563.5 436.5,564.5 437.0,563.9 437.5,563.1 438.0,563.0 438.5,563.5 439.0,562.2 439.5,562.7 440.0,563.7 440.5,564.6 441.0,562.5 441.5,562.6 442.0,562.8 442.5,563.9 443.0,562.6 443.5,564.0 444.0,561.6 444.5,562.3 445.0,562.3 445.5,563.3 446.0,563.5 446.5,561.0 447.0,561.5 447.5,562.8 448.0,561.8 448.5,560.9 449.0,563.4 449.5,562.9 450.0,562.8 450.5,561.9 451.0,563.3 451.5,562.1 452.0,563.4 452.5,561.4 453.0,561.4 453.5,562.4 454.0,561.5 454.5,562.9 455.0,562.4 455.5,561.2 456.0,562.2 456.5,560.9 457.0,563.0 457.5,561.4 458.0,561.6 458.5,564.2 459.0,564.2 459.5,564.0 460.0,562.0 460.5,562.7 461.0,563.4 461.5,561.8 462.0,560.9 462.5,561.9 463.0,562.2 463.5,560.9 464.0,560.1 464.5,560.2 465.0,562.3 465.5,560.8 466.0,561.4 466.5,561.6 467.0,562.0 467.5,560.9 468.0,561.6 468.5,560.1 469.0,560.4 469.5,559.5 470.0,561.1 470.5,558.9 471.0,556.3 471.5,553.1 472.0,547.7 472.5,541.2 473.0,530.8 473.5,525.1 474.0,524.6 474.5,532.0 475.0,538.1 475.5,544.9 476.0,552.1 476.5,557.7 477.0,557.9 477.5,559.0 478.0,561.3 478.5,560.9 479.0,561.2 479.5,560.2 480.0,562.7 480.5,562.6 481.0,561.5 481.5,561.6 482.0,558.9 482.5,561.6 483.0,560.8 483.5,561.4 484.0,561.5 484.5,560.3 485.0,558.7 485.5,560.4 486.0,558.8 486.5,558.6 487.0,557.8 487.5,557.8 488.0,555.9 488.5,559.8 489.0,559.4 489.5,560.8 490.0,562.1 490.5,560.5 491.0,558.9 491.5,559.9 492.0,559.6 492.5,560.4 493.0,561.0 493.5,558.9 494.0,561.2 494.5,559.4 495.0,561.2 495.5,560.8 496.0,560.5 496.5,560.8 497.0,560.3 497.5,560.2 498.0,559.1 498.5,560.7 499.0,562.6 499.5,562.7 500.0,562.0 500.5,561.4 501.0,560.0 501.5,562.1 502.0,560.5 502.5,560.5 503.0,560.2 503.5,560.6 504.0,560.0 504.5,560.2 505.0,559.1 505.5,559.5 506.0,561.7 506.5,558.6 507.0,557.4 507.5,557.0 508.0,555.9 508.5,553.3 509.0,554.1 509.5,555.8 510.0,556.2 510.5,556.8 511.0,558.5 511.5,555.9 512.0,555.5 512.5,553.0 513.0,552.8 513.5,547.4 514.0,547.7 514.5,548.2 515.0,551.0 515.5,553.1 516.0,556.2 516.5,555.0 517.0,558.7 517.5,558.5 518.0,558.7 518.5,560.2 519.0,558.9 519.5,557.8 520.0,559.5 520.5,558.4 521.0,559.3 521.5,560.4 522.0,559.4 522.5,561.6 523.0,559.8 523.5,558.5 524.0,559.2 524.5,559.1 525.0,558.8 525.5,560.4 526.0,559.3 526.5,558.0 527.0,560.7 527.5,559.8 528.0,560.3 528.5,560.0 529.0,560.5 529.5,559.9 530.0,561.1 530.5,560.3 531.0,560.3 531.5,560.3 532.0,558.4 532.5,559.7 533.0,559.6 533.5,560.0 534.0,558.4 534.5,561.4 535.0,559.9 535.5,558.5 536.0,558.0 536.5,559.4 537.0,559.6 537.5,559.0 538.0,559.8 538.5,559.0 539.0,560.2 539.5,558.9 540.0,559.6 540.5,560.6 541.0,562.2 541.5,558.6 542.0,559.1 542.5,558.7 543.0,560.3 543.5,558.4 544.0,559.0 544.5,559.4 545.0,558.5 545.5,558.5 546.0,559.0 546.5,557.3 547.0,558.0 547.5,559.0 548.0,559.5 548.5,559.2 549.0,557.6 549.5,558.9 550.0,560.1 550.5,559.8 551.0,559.2 551.5,558.4 552.0,559.9 552.5,558.6 553.0,558.0 553.5,558.4 554.0,560.6 554.5,559.4 555.0,560.3 555.5,558.6 556.0,560.0 556.5,557.4 557.0,558.9 557.5,561.5 558.0,559.8 558.5,558.5 559.0,558.9 559.5,559.3 560.0,560.2 560.5,558.5 561.0,557.2 561.5,558.6 562.0,558.9 562.5,559.0 563.0,560.2 563.5,559.2 564.0,559.6 564.5,557.7 565.0,559.7 565.5,560.9 566.0,559.5 566.5,559.0 567.0,558.9 567.5,560.5 568.0,557.7 568.5,558.5 569.0,559.1 569.5,559.3 570.0,558.1 570.5,558.9 571.0,558.3 571.5,557.9 572.0,558.3 572.5,557.3 573.0,558.4 573.5,559.3 574.0,557.4 574.5,558.1 575.0,558.9 575.5,557.2 576.0,558.4 576.5,557.1 577.0,559.2 577.5,560.3 578.0,560.0 578.5,557.6 579.0,558.5 579.5,557.7 580.0,557.6 580.5,558.8 581.0,555.7 581.5,557.7 582.0,555.8 582.5,555.9 583.0,552.0 583.5,546.3 584.0,539.8 584.5,530.3 585.0,519.2 585.5,512.1 586.0,510.3 586.5,515.2 587.0,530.7 587.5,538.3 588.0,545.8 588.5,550.9 589.0,554.9 589.5,555.0 590.0,555.5 590.5,556.5 591.0,558.1 591.5,555.7 592.0,558.4 592.5,556.6 593.0,556.3 593.5,558.7 594.0,557.4 594.5,556.2 595.0,557.2 595.5,558.5 596.0,558.8 596.5,557.2 597.0,558.0 597.5,558.4 598.0,557.0 598.5,558.0 599.0,557.6 599.5,557.2 600.0,557.2 600.5,557.8 601.0,557.7 601.5,557.2 602.0,557.3 602.5,558.8 603.0,557.9 603.5,558.6 604.0,558.9 604.5,558.3 605.0,560.0 605.5,556.9 606.0,558.5 606.5,557.4 607.0,559.6 607.5,559.4 608.0,555.8 608.5,556.7 609.0,558.4 609.5,558.5 610.0,558.4 610.5,557.6 611.0,558.1 611.5,558.3 612.0,557.5 612.5,558.6 613.0,555.3 613.5,558.1 614.0,556.4 614.5,558.3 615.0,557.1 615.5,556.3 616.0,557.3 616.5,555.6 617.0,554.8 617.5,552.9 618.0,552.4 618.5,550.3 619.0,548.0 619.5,540.5 620.0,544.7 620.5,544.6 621.0,546.9 621.5,550.4 622.0,553.4 622.5,553.9 623.0,555.3 623.5,556.0 624.0,556.6 624.5,555.8 625.0,557.7 625.5,556.3 626.0,557.0 626.5,555.5 627.0,556.4 627.5,555.7 628.0,553.4 628.5,553.1 629.0,546.9 629.5,540.8 630.0,533.7 630.5,527.9 631.0,523.1 631.5,526.7 632.0,532.8 632.5,540.2 633.0,546.2 633.5,549.2 634.0,553.5 634.5,552.9 635.0,556.2 635.5,555.5 636.0,555.6 636.5,556.2 637.0,556.8 637.5,555.0 638.0,554.8 638.5,555.4 639.0,554.4 639.5,555.3 640.0,557.8 640.5,555.0 641.0,556.5 641.5,554.2 642.0,555.5 642.5,554.4 643.0,553.9 643.5,553.4 644.0,552.4 644.5,546.4 645.0,538.0 645.5,522.6 646.0,503.0 646.5,476.1 647.0,452.2 647.5,437.4 648.0,444.0 648.5,461.0 649.0,488.1 649.5,514.4 650.0,531.1 650.5,541.8 651.0,548.5 651.5,550.6 652.0,553.9 652.5,556.9 653.0,556.2 653.5,554.3 654.0,554.9 654.5,555.6 655.0,557.2 655.5,559.3 656.0,555.8 656.5,557.5 657.0,557.6 657.5,556.4 658.0,555.7 658.5,555.3 659.0,556.2 659.5,554.7 660.0,557.6 660.5,556.2 661.0,557.1 661.5,553.8 662.0,556.8 662.5,553.4 663.0,553.7 663.5,551.7 664.0,547.4 664.5,545.2 665.0,545.4 665.5,544.9 666.0,550.1 666.5,548.6 667.0,552.1 667.5,554.6 668.0,555.7 668.5,556.7 669.0,557.2 669.5,556.9 670.0,558.3 670.5,555.1 671.0,557.3 671.5,556.6 672.0,557.5 672.5,557.6 673.0,556.5 673.5,556.8 674.0,558.2 674.5,557.8 675.0,556.7 675.5,559.5 676.0,559.7 676.5,555.9 677.0,557.7 677.5,559.9 678.0,558.2 678.5,557.6 679.0,557.2 679.5,556.8 680.0,557.1 680.5,556.8 681.0,558.1 681.5,556.9 682.0,556.8 682.5,556.0 683.0,557.2 683.5,556.3 684.0,557.0 684.5,558.1 685.0,557.4 685.5,557.5 686.0,557.3 686.5,556.9 687.0,556.6 687.5,556.3 688.0,557.2 688.5,554.9 689.0,556.7 689.5,554.2 690.0,551.5 690.5,548.9 691.0,545.2 691.5,542.4 692.0,538.7 692.5,540.0 693.0,539.9 693.5,541.7 694.0,546.8 694.5,548.6 695.0,552.7 695.5,555.1 696.0,555.4 696.5,553.7 697.0,554.4 697.5,556.9 698.0,555.4 698.5,554.9 699.0,555.7 699.5,556.9 700.0,555.5 700.5,554.0 701.0,553.8 701.5,553.5 702.0,551.7 702.5,550.5 703.0,550.8 703.5,548.7 704.0,548.3 704.5,546.7 705.0,546.6 705.5,539.8 706.0,534.1 706.5,521.7 707.0,498.0 707.5,454.0 708.0,380.4 708.5,280.7 709.0,167.8 709.5,76.6 710.0,49.4 710.5,100.8 711.0,202.4 711.5,313.9 712.0,406.1 712.5,469.7 713.0,506.1 713.5,526.4 714.0,534.9 714.5,540.8 715.0,546.7 715.5,545.1 716.0,548.5 716.5,550.3 717.0,550.7 717.5,548.7 718.0,552.6 718.5,555.0 719.0,553.6 719.5,552.2 720.0,554.3 720.5,553.9 721.0,554.5 721.5,555.5 722.0,556.1 722.5,556.6 723.0,555.3 723.5,556.9 724.0,557.3 724.5,557.4 725.0,557.7 725.5,555.2 726.0,556.3 726.5,557.4 727.0,555.3 727.5,556.9 728.0,556.2 728.5,556.5 729.0,555.1 729.5,556.0 730.0,556.9 730.5,557.9 731.0,558.0 731.5,557.0 732.0,556.9 732.5,556.3 733.0,557.5 733.5,556.9 734.0,557.8 734.5,558.9 735.0,557.2 735.5,555.7 736.0,556.3 736.5,555.7 737.0,556.0 737.5,558.5 738.0,557.4 738.5,555.7 739.0,557.8 739.5,558.8 740.0,556.7 740.5,556.4 741.0,556.7 741.5,555.7 742.0,557.5 742.5,557.9 743.0,557.8 743.5,557.6 744.0,557.4 744.5,556.0 745.0,552.5 745.5,551.6 746.0,552.3 746.5,541.8 747.0,536.1 747.5,527.6 748.0,521.8 748.5,523.3 749.0,526.5 749.5,532.9 750.0,540.9 750.5,547.2 751.0,551.0 751.5,551.0 752.0,554.3 752.5,555.4 753.0,555.3 753.5,556.7 754.0,557.9 754.5,556.3 755.0,555.7 755.5,559.0 756.0,556.5 756.5,555.7 757.0,557.1 757.5,557.1 758.0,555.6 758.5,556.6 759.0,554.5 759.5,553.4 760.0,554.0 760.5,554.6 761.0,553.5 761.5,554.4 762.0,553.3 762.5,554.6 763.0,548.5 763.5,547.2 764.0,542.3 764.5,539.4 765.0,539.3 765.5,540.8 766.0,544.2 766.5,546.9 767.0,549.4 767.5,552.1 768.0,555.2 768.5,556.3 769.0,557.8 769.5,557.2 770.0,558.0 770.5,558.6 771.0,557.4 771.5,555.8 772.0,556.1 772.5,555.9 773.0,559.0 773.5,556.6 774.0,558.7 774.5,558.0 775.0,559.2 775.5,558.5 776.0,557.4 776.5,557.3 777.0,557.5 777.5,557.6 778.0,556.9 778.5,557.4 779.0,559.0 779.5,555.7 780.0,557.7 780.5,556.5 781.0,557.6 781.5,558.2 782.0,557.3 782.5,558.0 783.0,555.6 783.5,558.3 784.0,556.5 784.5,557.6 785.0,557.0 785.5,553.9 786.0,555.1 786.5,555.2 787.0,555.3 787.5,552.4 788.0,550.6 788.5,547.3 789.0,552.5 789.5,550.1 790.0,549.5 790.5,550.8 791.0,550.9 791.5,554.6 792.0,557.2 792.5,555.7 793.0,556.3 793.5,555.5 794.0,555.6 794.5,555.6 795.0,552.4 795.5,552.4 796.0,551.3 796.5,548.8 797.0,542.1 797.5,530.4 798.0,509.5 798.5,480.0 799.0,446.3 799.5,412.7 800.0,394.9 800.5,403.3 801.0,432.3 801.5,467.1 802.0,502.4 802.5,522.3 803.0,538.5 803.5,546.6 804.0,552.2 804.5,550.8 805.0,552.7 805.5,555.1 806.0,554.7 806.5,554.8 807.0,557.2 807.5,555.4 808.0,554.8 808.5,560.2 809.0,556.6 809.5,556.6 810.0,555.0 810.5,555.5 811.0,557.0 811.5,557.0 812.0,555.7 812.5,556.8 813.0,556.3 813.5,553.1 814.0,553.0 814.5,546.5 815.0,546.5 815.5,540.6 816.0,538.2 816.5,536.6 817.0,537.6 817.5,536.8 818.0,546.0 818.5,546.6 819.0,552.3 819.5,555.1 820.0,556.3 820.5,556.4 821.0,555.5 821.5,557.6 822.0,556.4 822.5,554.7 823.0,560.1 823.5,558.1 824.0,559.2 824.5,556.5 825.0,559.0 825.5,559.1 826.0,559.1 826.5,557.6 827.0,556.4 827.5,557.4 828.0,555.4 828.5,556.0 829.0,557.8 829.5,556.7 830.0,557.5 830.5,557.6 831.0,559.6 831.5,559.0 832.0,557.7 832.5,558.9 833.0,557.0 833.5,557.4 834.0,558.6 834.5,556.5 835.0,557.5 835.5,556.4 836.0,557.8 836.5,559.3 837.0,560.0 837.5,557.9 838.0,556.6 838.5,556.2 839.0,555.9 839.5,558.3 840.0,558.8 840.5,556.4 841.0,554.8 841.5,556.0 842.0,555.0 842.5,556.4 843.0,556.3 843.5,556.8 844.0,557.5 844.5,556.6 845.0,557.0 845.5,555.9 846.0,557.2 846.5,556.3 847.0,557.6 847.5,556.8 848.0,557.9 848.5,558.2 849.0,556.4 849.5,557.0 850.0,556.9 850.5,558.6 851.0,559.5 851.5,558.7 852.0,557.5 852.5,559.3 853.0,556.3 853.5,559.3 854.0,557.1 854.5,555.0 855.0,560.4 855.5,559.3 856.0,556.7 856.5,557.9 857.0,557.5 857.5,557.8 858.0,556.2 858.5,556.9 859.0,557.9 859.5,557.5 860.0,558.2 860.5,556.7 861.0,558.5 861.5,554.9 862.0,555.3 862.5,552.7 863.0,552.9 863.5,554.9 864.0,552.1 864.5,552.9 865.0,551.8 865.5,550.6 866.0,551.5 866.5,551.9 867.0,552.9 867.5,555.1 868.0,555.9 868.5,560.3 869.0,555.7 869.5,557.3 870.0,557.2 870.5,558.5 871.0,557.7 871.5,558.5 872.0,557.7 872.5,557.5 873.0,556.9 873.5,556.8 874.0,556.8 874.5,557.4 875.0,557.4 875.5,558.5 876.0,557.4 876.5,557.6 877.0,556.6 877.5,559.4 878.0,558.3 878.5,559.6 879.0,558.6 879.5,559.3 880.0,557.5 880.5,558.5 881.0,560.5 881.5,556.5 882.0,558.9 882.5,559.3 883.0,557.9 883.5,558.1 884.0,558.2 884.5,555.8 885.0,556.3 885.5,554.4 886.0,553.9 886.5,553.6 887.0,554.0 887.5,554.7 888.0,555.5 888.5,554.3 889.0,558.4 889.5,558.0 890.0,557.9 890.5,557.0 891.0,557.4 891.5,558.1 892.0,557.9 892.5,556.4 893.0,556.8 893.5,560.1 894.0,554.8 894.5,557.1 895.0,555.5 895.5,553.7 896.0,553.7 896.5,549.5 897.0,549.6 897.5,550.4 898.0,549.1 898.5,550.1 899.0,552.3 899.5,553.3 900.0,556.6 900.5,555.1 901.0,557.6 901.5,555.9 902.0,558.1 902.5,557.4 903.0,555.0 903.5,559.1 904.0,556.6 904.5,560.9 905.0,559.3 905.5,556.6 906.0,556.7 906.5,559.3 907.0,557.9 907.5,559.4 908.0,558.2 908.5,556.9 909.0,557.8 909.5,559.1 910.0,558.8 910.5,557.9 911.0,557.9 911.5,557.7 912.0,557.3 912.5,559.9 913.0,557.9 913.5,556.7 914.0,557.4 914.5,558.6 915.0,558.5 915.5,557.7 916.0,557.2 916.5,557.9 917.0,556.1 917.5,556.5 918.0,558.7 918.5,557.4 919.0,558.2 919.5,559.1 920.0,558.5 920.5,557.9 921.0,560.0 921.5,558.5 922.0,557.5 922.5,558.6 923.0,558.2 923.5,556.9 924.0,557.9 924.5,557.6 925.0,555.8 925.5,557.6 926.0,557.5 926.5,557.3 927.0,556.0 927.5,557.3 928.0,557.6 928.5,557.8 929.0,556.4 929.5,558.2 930.0,556.2 930.5,557.0 931.0,558.3 931.5,555.7 932.0,555.1 932.5,555.5 933.0,552.6 933.5,551.0 934.0,550.1 934.5,550.0 935.0,549.4 935.5,549.0 936.0,550.2 936.5,551.7 937.0,553.4 937.5,554.6 938.0,556.5 938.5,555.8 939.0,558.2 939.5,557.3 940.0,556.0 940.5,558.9 941.0,557.6 941.5,555.7 942.0,554.2 942.5,554.5 943.0,553.6 943.5,555.0 944.0,556.1 944.5,554.9 945.0,556.0 945.5,557.7 946.0,556.3 946.5,557.1 947.0,555.9 947.5,556.1 948.0,556.3 948.5,558.7 949.0,555.7 949.5,554.7 950.0,553.2 950.5,551.1 951.0,548.1 951.5,542.5 952.0,538.6 952.5,531.2 953.0,528.8 953.5,527.6 954.0,531.4 954.5,534.9 955.0,542.1 955.5,547.2 956.0,550.9 956.5,551.6 957.0,556.1 957.5,555.7 958.0,556.2 958.5,556.6 959.0,556.8 959.5,557.6 960.0,556.0 960.5,556.4 961.0,557.7 961.5,557.6 962.0,557.1 962.5,556.9 963.0,556.7 963.5,557.5 964.0,558.8 964.5,556.5 965.0,559.1 965.5,558.4 966.0,557.1 966.5,558.4 967.0,556.1 967.5,555.9 968.0,556.3 968.5,557.1 969.0,557.2 969.5,557.0 970.0,557.6 970.5,555.3 971.0,557.9 971.5,555.9 972.0,556.5 972.5,556.5 973.0,555.4 973.5,554.6 974.0,553.9 974.5,553.4 975.0,551.9 975.5,549.3 976.0,544.9 976.5,542.4 977.0,540.4 977.5,541.3 978.0,540.0 978.5,545.6 979.0,546.7 979.5,549.1 980.0,552.5 980.5,554.9 981.0,555.3 981.5,556.5 982.0,555.8 982.5,556.8 983.0,556.6 983.5,555.2 984.0,556.8 984.5,556.5 985.0,555.0 985.5,555.6 986.0,556.6 986.5,557.9 987.0,556.0 987.5,558.1 988.0,557.9 988.5,557.9 989.0,555.4 989.5,557.6 990.0,558.3 990.5,556.9 991.0,557.8 991.5,555.3 992.0,558.4 992.5,557.1 993.0,558.6 993.5,555.9 994.0,558.4 994.5,557.4 995.0,558.4 995.5,556.6 996.0,556.7 996.5,559.3 997.0,555.9 997.5,555.7 998.0,555.9 998.5,555.0 999.0,557.2 999.5,557.9 1000.0,555.8 1000.5,555.1 1001.0,558.3 1001.5,558.5 1002.0,558.3 1002.5,558.8 1003.0,556.8 1003.5,556.1 1004.0,556.4 1004.5,556.3 1005.0,558.7 1005.5,557.1 1006.0,560.0 1006.5,557.8 1007.0,557.1 1007.5,558.5 1008.0,559.5 1008.5,558.2 1009.0,556.5 1009.5,558.1 1010.0,559.1 1010.5,557.2 1011.0,556.9 1011.5,558.7 1012.0,557.8 1012.5,556.6 1013.0,557.3 1013.5,556.9 1014.0,557.9 1014.5,558.4 1015.0,558.7 1015.5,558.2 1016.0,555.9 1016.5,557.8 1017.0,558.2 1017.5,557.6 1018.0,558.0 1018.5,556.2 1019.0,555.5 1019.5,557.1 1020.0,554.8 1020.5,553.5 1021.0,556.6 1021.5,554.9 1022.0,555.3 1022.5,554.2 1023.0,554.0 1023.5,553.6 1024.0,553.1 1024.5,551.4 1025.0,544.7 1025.5,541.6 1026.0,531.3 1026.5,522.4 1027.0,515.4 1027.5,509.2 1028.0,507.9 1028.5,517.0 1029.0,523.1 1029.5,533.4 1030.0,541.3 1030.5,548.4 1031.0,550.4 1031.5,554.2 1032.0,553.6 1032.5,556.1 1033.0,554.3 1033.5,554.6 1034.0,556.2 1034.5,553.4 1035.0,551.1 1035.5,550.1 1036.0,543.8 1036.5,537.4 1037.0,533.5 1037.5,527.2 1038.0,527.6 1038.5,529.2 1039.0,531.5 1039.5,536.9 1040.0,543.2 1040.5,547.7 1041.0,550.2 1041.5,554.1 1042.0,553.0 1042.5,555.4 1043.0,556.0 1043.5,556.4 1044.0,557.2 1044.5,555.8 1045.0,557.7 1045.5,557.0 1046.0,556.6 1046.5,555.9 1047.0,556.2 1047.5,557.8 1048.0,556.5 1048.5,557.5 1049.0,558.6 1049.5,558.6 1050.0,559.1 1050.5,557.3 1051.0,556.5 1051.5,558.6 1052.0,557.9 1052.5,558.7 1053.0,557.6 1053.5,558.8 1054.0,558.4 1054.5,558.3 1055.0,558.0 1055.5,557.8 1056.0,560.8 1056.5,557.5 1057.0,558.1 1057.5,556.5 1058.0,558.8 1058.5,557.0 1059.0,558.1 1059.5,557.1 1060.0,556.8 1060.5,559.4 1061.0,557.1 1061.5,556.2 1062.0,556.7 1062.5,557.0 1063.0,559.4 1063.5,557.3 1064.0,557.7 1064.5,555.4 1065.0,556.2 1065.5,556.0 1066.0,556.6 1066.5,553.7 1067.0,554.8 1067.5,554.4 1068.0,553.1 1068.5,554.1 1069.0,553.8 1069.5,551.9 1070.0,555.1 1070.5,555.5 1071.0,554.9 1071.5,554.4 1072.0,557.5 1072.5,556.5 1073.0,557.3 1073.5,556.3 1074.0,555.6 1074.5,556.7 1075.0,555.4 1075.5,555.1 1076.0,554.3 1076.5,553.1 1077.0,551.8 1077.5,546.5 1078.0,539.2 1078.5,528.8 1079.0,515.9 1079.5,499.6 1080.0,486.5 1080.5,479.3 1081.0,480.5 1081.5,491.2 1082.0,505.2 1082.5,522.6 1083.0,534.4 1083.5,542.6 1084.0,548.1 1084.5,553.9 1085.0,554.0 1085.5,554.7 1086.0,555.7 1086.5,556.1 1087.0,557.5 1087.5,556.3 1088.0,558.6 1088.5,555.8 1089.0,557.5 1089.5,555.9 1090.0,558.8 1090.5,556.7 1091.0,557.0 1091.5,558.1 1092.0,557.6 1092.5,556.1 1093.0,556.9 1093.5,555.9 1094.0,557.4 1094.5,557.2 1095.0,557.0 1095.5,556.6 1096.0,556.9 1096.5,556.6 1097.0,557.9 1097.5,558.8 1098.0,555.4 1098.5,557.2 1099.0,556.8 1099.5,557.7 1100.0,556.2 1100.5,557.0 1101.0,556.0 1101.5,557.6 1102.0,556.8 1102.5,556.3 1103.0,556.3 1103.5,554.8 1104.0,552.1 1104.5,552.0 1105.0,548.7 1105.5,544.5 1106.0,541.7 1106.5,538.6 1107.0,534.5 1107.5,535.4 1108.0,540.4 1108.5,544.0 1109.0,545.7 1109.5,548.6 1110.0,551.7 1110.5,553.6 1111.0,553.5 1111.5,555.5 1112.0,554.3 1112.5,554.1 1113.0,555.9 1113.5,554.0 1114.0,554.2 1114.5,554.7 1115.0,554.8 1115.5,553.4 1116.0,553.1 1116.5,551.0 1117.0,551.5 1117.5,547.7 1118.0,542.6 1118.5,540.3 1119.0,538.7 1119.5,537.0 1120.0,539.2 1120.5,541.3 1121.0,542.8 1121.5,546.8 1122.0,548.8 1122.5,552.7 1123.0,554.4 1123.5,558.1 1124.0,556.3 1124.5,554.5 1125.0,556.2 1125.5,557.1 1126.0,555.9 1126.5,556.3 1127.0,556.9 1127.5,557.7 1128.0,557.2 1128.5,558.4 1129.0,558.2 1129.5,556.9 1130.0,557.0 1130.5,556.1 1131.0,556.9 1131.5,558.2 1132.0,555.9 1132.5,557.4 1133.0,558.2 1133.5,557.1 1134.0,557.7 1134.5,556.3 1135.0,558.7 1135.5,558.4 1136.0,557.4 1136.5,555.2 1137.0,555.8 1137.5,557.7 1138.0,558.4 1138.5,557.0 1139.0,558.1 1139.5,556.4 1140.0,557.0 1140.5,557.3 1141.0,557.9 1141.5,556.0 1142.0,558.5 1142.5,558.9 1143.0,556.4 1143.5,556.2 1144.0,557.9 1144.5,556.9 1145.0,555.2 1145.5,558.3 1146.0,557.7 1146.5,557.0 1147.0,559.6 1147.5,558.3 1148.0,556.7 1148.5,557.5 1149.0,556.4 1149.5,556.6 1150.0,557.7 1150.5,556.8 1151.0,556.8 1151.5,558.8 1152.0,557.9 1152.5,557.6 1153.0,557.0 1153.5,556.4 1154.0,556.5 1154.5,553.8 1155.0,554.0 1155.5,549.1 1156.0,547.6 1156.5,544.4 1157.0,543.8 1157.5,544.2 1158.0,545.7 1158.5,545.2 1159.0,548.0 1159.5,549.9 1160.0,551.5 1160.5,552.7 1161.0,555.1 1161.5,554.2 1162.0,556.6 1162.5,556.8 1163.0,556.3 1163.5,556.1 1164.0,555.8 1164.5,559.1 1165.0,555.9 1165.5,558.8 1166.0,557.9 1166.5,556.9 1167.0,556.2 1167.5,558.4 1168.0,559.0 1168.5,556.4 1169.0,557.0 1169.5,558.3 1170.0,557.6 1170.5,559.3 1171.0,556.7 1171.5,559.5 1172.0,555.9 1172.5,559.2 1173.0,556.2 1173.5,554.6 1174.0,556.4 1174.5,555.9 1175.0,557.3 1175.5,554.1 1176.0,553.3 1176.5,552.6 1177.0,552.4 1177.5,549.7 1178.0,550.3 1178.5,550.0 1179.0,550.0 1179.5,551.5 1180.0,552.7 1180.5,552.9 1181.0,556.0 1181.5,554.0 1182.0,557.1 1182.5,557.1 1183.0,556.2 1183.5,555.5 1184.0,556.1 1184.5,556.7 1185.0,556.8 1185.5,556.2 1186.0,556.6 1186.5,554.7 1187.0,554.9 1187.5,552.0 1188.0,552.8 1188.5,549.3 1189.0,544.1 1189.5,539.0 1190.0,529.7 1190.5,515.9 1191.0,508.6 1191.5,499.4 1192.0,499.0 1192.5,502.9 1193.0,506.1 1193.5,513.8 1194.0,519.7 1194.5,524.8 1195.0,528.3 1195.5,532.1 1196.0,533.6 1196.5,540.4 1197.0,542.3 1197.5,547.4 1198.0,551.3 1198.5,553.2 1199.0,553.1 1199.5,554.3 1200.0,555.1 1200.5,555.9 1201.0,557.3 1201.5,555.0 1202.0,556.9 1202.5,557.1 1203.0,557.2 1203.5,557.1 1204.0,558.2 1204.5,557.2 1205.0,557.6 1205.5,557.3 1206.0,558.5 1206.5,554.8 1207.0,557.9 1207.5,556.3 1208.0,556.0 1208.5,555.0 1209.0,553.7 1209.5,554.5 1210.0,553.4 1210.5,553.5 1211.0,550.3 1211.5,551.9 1212.0,548.4 1212.5,547.4 1213.0,545.8 1213.5,545.1 1214.0,544.8 1214.5,546.1 1215.0,547.8 1215.5,548.8 1216.0,548.5 1216.5,550.3 1217.0,549.9 1217.5,550.8 1218.0,552.0 1218.5,550.1 1219.0,548.7 1219.5,547.2 1220.0,547.8 1220.5,548.3 1221.0,551.8 1221.5,551.5 1222.0,553.5 1222.5,553.8 1223.0,555.3 1223.5,557.1 1224.0,555.4 1224.5,555.9 1225.0,555.4 1225.5,556.8 1226.0,554.6 1226.5,554.1 1227.0,553.5 1227.5,553.2 1228.0,555.2 1228.5,557.6 1229.0,554.5 1229.5,556.9 1230.0,556.6 1230.5,555.6 1231.0,556.7 1231.5,556.9 1232.0,556.5 1232.5,559.2 1233.0,555.4 1233.5,557.7 1234.0,557.6 1234.5,556.7 1235.0,557.5 1235.5,558.2 1236.0,557.5 1236.5,557.8 1237.0,560.9 1237.5,555.3 1238.0,558.8 1238.5,559.6 1239.0,558.3 1239.5,558.3 1240.0,555.9 1240.5,557.2 1241.0,556.5 1241.5,556.7 1242.0,558.2 1242.5,556.5 1243.0,557.1 1243.5,555.3 1244.0,557.0 1244.5,557.2 1245.0,556.3 1245.5,556.1 1246.0,558.5 1246.5,555.1 1247.0,554.8 1247.5,554.5 1248.0,555.8 1248.5,556.0 1249.0,553.5 1249.5,551.8 1250.0,551.7 1250.5,553.1 1251.0,550.4 1251.5,554.1 1252.0,554.4 1252.5,553.3 1253.0,553.8 1253.5,553.6 1254.0,553.9 1254.5,550.6 1255.0,552.0 1255.5,549.9 1256.0,549.2 1256.5,550.3 1257.0,548.0 1257.5,550.7 1258.0,551.0 1258.5,552.6 1259.0,555.7 1259.5,556.8 1260.0,555.7 1260.5,556.1 1261.0,554.0 1261.5,553.8 1262.0,553.1 1262.5,550.6 1263.0,549.4 1263.5,549.3 1264.0,547.9 1264.5,546.7 1265.0,548.1 1265.5,547.9 1266.0,549.9 1266.5,551.8 1267.0,550.1 1267.5,551.3 1268.0,551.9 1268.5,552.4 1269.0,553.7 1269.5,555.7 1270.0,556.2 1270.5,557.4 1271.0,554.7 1271.5,556.3 1272.0,556.4 1272.5,557.0 1273.0,556.4 1273.5,556.4 1274.0,557.7 1274.5,557.1 1275.0,555.7 1275.5,558.2 1276.0,557.8 1276.5,556.2 1277.0,557.5 1277.5,555.9 1278.0,557.5 1278.5,555.9 1279.0,552.9 1279.5,554.5 1280.0,553.0 1280.5,552.5 1281.0,550.7 1281.5,548.3 1282.0,545.3 1282.5,540.2 1283.0,541.6 1283.5,540.9 1284.0,540.8 1284.5,542.8 1285.0,544.0 1285.5,545.7 1286.0,548.2 1286.5,550.3 1287.0,551.4 1287.5,552.5 1288.0,552.8 1288.5,555.3 1289.0,554.2 1289.5,555.4 1290.0,554.5 1290.5,555.2 1291.0,555.4 1291.5,556.4 1292.0,557.1 1292.5,556.8 1293.0,556.1 1293.5,556.0 1294.0,558.5 1294.5,556.5 1295.0,556.3 1295.5,557.8 1296.0,557.1 1296.5,556.2 1297.0,554.9 1297.5,557.5 1298.0,555.5 1298.5,555.8 1299.0,555.3 1299.5,554.3 1300.0,554.4 1300.5,556.1 1301.0,555.9 1301.5,557.5 1302.0,554.2 1302.5,554.0 1303.0,555.4 1303.5,554.6 1304.0,557.3 1304.5,556.6 1305.0,559.7 1305.5,557.9 1306.0,556.5 1306.5,554.9 1307.0,554.9 1307.5,556.6 1308.0,557.1 1308.5,558.2 1309.0,557.9 1309.5,557.9 1310.0,557.5 1310.5,557.9 1311.0,558.7 1311.5,556.2 1312.0,556.8 1312.5,555.9 1313.0,558.9 1313.5,558.5 1314.0,557.9 1314.5,556.0 1315.0,557.3 1315.5,556.7 1316.0,556.8 1316.5,556.2 1317.0,556.5 1317.5,555.0 1318.0,555.5 1318.5,554.2 1319.0,553.2 1319.5,553.2 1320.0,553.0 1320.5,554.6 1321.0,554.0 1321.5,555.1 1322.0,554.9 1322.5,554.2 1323.0,557.0 1323.5,555.2 1324.0,557.1 1324.5,556.9 1325.0,554.8 1325.5,555.5 1326.0,556.0 1326.5,555.8 1327.0,555.6 1327.5,557.6 1328.0,556.8 1328.5,557.5 1329.0,556.7 1329.5,557.5 1330.0,556.4 1330.5,557.1 1331.0,557.7 1331.5,557.1 1332.0,556.5 1332.5,555.7 1333.0,556.7 1333.5,556.7 1334.0,555.9 1334.5,555.2 1335.0,556.5 1335.5,558.6 1336.0,556.0 1336.5,556.9 1337.0,557.1 1337.5,554.3 1338.0,557.2 1338.5,556.4 1339.0,558.5 1339.5,556.9 1340.0,556.4 1340.5,557.0 1341.0,557.4 1341.5,556.6 1342.0,557.1 1342.5,555.8 1343.0,557.0 1343.5,558.0 1344.0,559.1 1344.5,557.9 1345.0,557.4 1345.5,558.3 1346.0,558.2 1346.5,558.8 1347.0,558.2 1347.5,557.0 1348.0,557.3 1348.5,557.2 1349.0,557.3 1349.5,557.2 1350.0,556.2 1350.5,554.8 1351.0,556.2 1351.5,554.8 1352.0,556.8 1352.5,556.7 1353.0,554.9 1353.5,557.0 1354.0,556.9 1354.5,555.6 1355.0,556.4 1355.5,555.6 1356.0,551.2 1356.5,551.8 1357.0,549.4 1357.5,547.5 1358.0,546.3 1358.5,543.5 1359.0,543.4 1359.5,543.7 1360.0,545.1 1360.5,547.5 1361.0,547.9 1361.5,550.0 1362.0,553.0 1362.5,553.4 1363.0,554.5 1363.5,552.5 1364.0,553.5 1364.5,553.4 1365.0,553.2 1365.5,551.3 1366.0,553.7 1366.5,547.5 1367.0,544.3 1367.5,540.3 1368.0,536.6 1368.5,531.3 1369.0,529.9 1369.5,528.5 1370.0,529.8 1370.5,533.2 1371.0,538.2 1371.5,543.3 1372.0,546.8 1372.5,550.1 1373.0,553.0 1373.5,553.9 1374.0,556.1 1374.5,555.5 1375.0,553.8 1375.5,557.5 1376.0,556.5 1376.5,555.3 1377.0,556.4 1377.5,555.7 1378.0,558.8 1378.5,557.2 1379.0,555.2 1379.5,557.4 1380.0,556.4 1380.5,558.8 1381.0,555.8 1381.5,554.7 1382.0,557.0 1382.5,556.6 1383.0,554.9 1383.5,554.8 1384.0,557.4 1384.5,558.6 1385.0,555.0 1385.5,558.0 1386.0,556.2 1386.5,559.0 1387.0,557.0 1387.5,556.2 1388.0,557.5 1388.5,556.8 1389.0,555.7 1389.5,556.9 1390.0,555.5 1390.5,553.9 1391.0,557.4 1391.5,554.6 1392.0,554.0 1392.5,554.8 1393.0,553.0 1393.5,553.8 1394.0,554.7 1394.5,555.0 1395.0,555.7 1395.5,556.6 1396.0,554.7 1396.5,555.3 1397.0,554.8 1397.5,552.6 1398.0,553.5 1398.5,552.1 1399.0,553.8 1399.5,552.9 1400.0,552.3 1400.5,550.9 1401.0,552.6 1401.5,552.4 1402.0,554.6 1402.5,554.6 1403.0,554.6 1403.5,556.9 1404.0,557.1 1404.5,556.0 1405.0,557.9 1405.5,556.6 1406.0,556.6 1406.5,557.1 1407.0,556.2 1407.5,556.5 1408.0,556.8 1408.5,558.5 1409.0,558.5 1409.5,556.7 1410.0,558.6 1410.5,556.9 1411.0,557.3 1411.5,557.8 1412.0,557.2 1412.5,559.3 1413.0,557.1 1413.5,555.7 1414.0,558.1 1414.5,556.4 1415.0,556.4 1415.5,553.6 1416.0,557.4 1416.5,557.0 1417.0,556.8 1417.5,556.7 1418.0,557.2 1418.5,555.3 1419.0,556.1 1419.5,554.2 1420.0,554.3 1420.5,555.1 1421.0,553.5 1421.5,550.4 1422.0,550.3 1422.5,547.8 1423.0,545.0 1423.5,544.3 1424.0,542.1 1424.5,542.7 1425.0,541.5 1425.5,545.9 1426.0,544.6 1426.5,550.0 1427.0,550.9 1427.5,552.7 1428.0,552.3 1428.5,554.2 1429.0,555.4 1429.5,556.6 1430.0,555.4 1430.5,555.1 1431.0,557.4 1431.5,557.5 1432.0,556.7 1432.5,555.6 1433.0,556.3 1433.5,555.6 1434.0,555.7 1434.5,552.9 1435.0,553.6 1435.5,552.9 1436.0,553.0 1436.5,553.4 1437.0,555.6 1437.5,554.1 1438.0,555.6 1438.5,554.4 1439.0,556.1 1439.5,556.9 1440.0,556.9 1440.5,557.8 1441.0,555.6 1441.5,555.3 1442.0,557.1 1442.5,557.3 1443.0,559.0 1443.5,557.5 1444.0,556.0 1444.5,557.6 1445.0,556.0 1445.5,555.3 1446.0,559.4 1446.5,557.1 1447.0,557.5 1447.5,557.3 1448.0,558.5 1448.5,556.9 1449.0,557.6 1449.5,555.4 1450.0,554.9 1450.5,557.5 1451.0,557.3 1451.5,556.2 1452.0,556.9 1452.5,555.9 1453.0,556.0 1453.5,557.5 1454.0,556.8 1454.5,556.7 1455.0,556.6 1455.5,557.3 1456.0,556.7 1456.5,556.9 1457.0,554.9 1457.5,556.5 1458.0,558.1 1458.5,555.2 1459.0,555.4 1459.5,556.2 1460.0,555.9 1460.5,555.1 1461.0,551.9 1461.5,552.5 1462.0,548.3 1462.5,544.6 1463.0,540.0 1463.5,531.2 1464.0,523.0 1464.5,515.9 1465.0,506.0 1465.5,502.6 1466.0,502.4 1466.5,507.3 1467.0,512.2 1467.5,516.7 1468.0,518.2 1468.5,519.3 1469.0,520.7 1469.5,522.5 1470.0,526.6 1470.5,532.4 1471.0,540.1 1471.5,544.7 1472.0,549.6 1472.5,552.4 1473.0,552.8 1473.5,554.9 1474.0,553.4 1474.5,557.6 1475.0,556.7 1475.5,555.5 1476.0,554.7 1476.5,556.4 1477.0,554.2 1477.5,555.3 1478.0,556.9 1478.5,556.3 1479.0,555.7 1479.5,557.0 1480.0,554.9 1480.5,555.9 1481.0,554.8 1481.5,554.1 1482.0,555.1 1482.5,553.4 1483.0,556.4 1483.5,557.3 1484.0,557.0 1484.5,554.3 1485.0,556.3 1485.5,554.7 1486.0,554.6 1486.5,556.0 1487.0,556.3 1487.5,554.0 1488.0,555.9 1488.5,553.2 1489.0,553.3 1489.5,552.7 1490.0,552.1 1490.5,549.2 1491.0,552.4 1491.5,551.6 1492.0,551.1 1492.5,551.3 1493.0,553.5 1493.5,552.4 1494.0,554.8 1494.5,554.2 1495.0,553.5 1495.5,554.1 1496.0,556.1 1496.5,554.2 1497.0,554.2 1497.5,556.4 1498.0,555.9 1498.5,555.9 1499.0,555.5 1499.5,554.8 1500.0,555.4 1500.5,556.2 1501.0,556.5 1501.5,557.1 1502.0,557.3 1502.5,557.0 1503.0,557.0 1503.5,555.8 1504.0,554.6 1504.5,553.9 1505.0,555.9 1505.5,556.2 1506.0,556.5 1506.5,555.6 1507.0,555.7 1507.5,556.7 1508.0,556.9 1508.5,556.1 1509.0,557.3 1509.5,556.6 1510.0,555.7 1510.5,556.8 1511.0,558.6 1511.5,556.0 1512.0,557.9 1512.5,558.0 1513.0,558.7 1513.5,555.7 1514.0,558.1 1514.5,556.4 1515.0,555.8 1515.5,555.6 1516.0,556.0 1516.5,554.9 1517.0,554.9 1517.5,555.0 1518.0,552.4 1518.5,551.6 1519.0,552.8 1519.5,552.0 1520.0,551.5 1520.5,548.5 1521.0,549.9 1521.5,549.0 1522.0,550.4 1522.5,548.0 1523.0,550.3 1523.5,550.9 1524.0,550.5 1524.5,552.1 1525.0,554.4 1525.5,553.0 1526.0,552.6 1526.5,553.8 1527.0,553.5 1527.5,552.7 1528.0,550.0 1528.5,547.7 1529.0,548.9 1529.5,545.4 1530.0,543.7 1530.5,544.0 1531.0,544.3 1531.5,542.0 1532.0,541.9"/>
<line x1="126.8" y1="48" x2="126.8" y2="1095" stroke="#000" stroke-width="4.6"/>
<line x1="126.5" y1="1095" x2="1534.2" y2="1095" stroke="#000" stroke-width="3.8"/>
<g stroke="#000" stroke-width="3.6"><line x1="244.0" y1="1095" x2="244.0" y2="1120.3"/><line x1="478.5" y1="1095" x2="478.5" y2="1120.3"/><line x1="713.0" y1="1095" x2="713.0" y2="1120.3"/><line x1="947.5" y1="1095" x2="947.5" y2="1120.3"/><line x1="1182.0" y1="1095" x2="1182.0" y2="1120.3"/><line x1="1416.6" y1="1095" x2="1416.6" y2="1120.3"/></g>
<g font-family="'Liberation Sans', Arial, sans-serif" font-weight="bold" font-size="64.5" text-anchor="middle" fill="#000"><text x="244.5" y="1188.5">10</text><text x="479.0" y="1188.5">20</text><text x="713.5" y="1188.5">30</text><text x="948.0" y="1188.5">40</text><text x="1182.5" y="1188.5">50</text><text x="1417.1" y="1188.5">60</text></g>
<text x="662.6" y="1291.6" font-family="'Liberation Sans', Arial, sans-serif" font-weight="bold" font-size="71.5" fill="#000">2theta, deg.</text>
<text transform="translate(86.6,787) rotate(-90)" font-family="'Liberation Sans', Arial, sans-serif" font-weight="bold" font-size="71.5" fill="#000">Intensity, a.u.</text>
<text x="1575.4" y="108.4" font-family="'Liberation Sans', Arial, sans-serif" font-weight="bold" font-size="96" fill="#000">(a)</text>
<text x="143.6" y="555.2" font-family="'Liberation Sans', Arial, sans-serif" font-weight="bold" font-size="53.5" fill="#000">1.0</text>
<text x="143.6" y="657.8" font-family="'Liberation Sans', Arial, sans-serif" font-weight="bold" font-size="53.5" fill="#000">0.75</text>
<text x="143.6" y="762.6" font-family="'Liberation Sans', Arial, sans-serif" font-weight="bold" font-size="53.5" fill="#000">0.5</text>
<text x="143.6" y="865.8" font-family="'Liberation Sans', Arial, sans-serif" font-weight="bold" font-size="53.5" fill="#000">0.25</text>
<text x="144.6" y="980.5" font-family="'Liberation Sans', Arial, sans-serif" font-size="54" fill="#000">PDF-2 51-424</text>
<polyline fill="none" stroke="#0000ff" stroke-width="3" stroke-linejoin="round" points="127.0,2037.7 127.5,2034.6 128.0,2034.4 128.5,2038.0 129.0,2038.1 129.5,2035.8 130.0,2035.9 130.5,2036.9 131.0,2035.6 131.5,2034.8 132.0,2036.7 132.5,2037.1 133.0,2034.9 133.5,2035.3 134.0,2035.6 134.5,2033.4 135.0,2035.3 135.5,2037.4 136.0,2036.6 136.5,2039.7 137.0,2043.0 137.5,2039.8 138.0,2038.1 138.5,2041.5 139.0,2042.1 139.5,2040.5 140.0,2038.3 140.5,2036.1 141.0,2036.2 141.5,2038.7 142.0,2042.1 142.5,2041.5 143.0,2038.5 143.5,2038.5 144.0,2040.4 144.5,2041.8 145.0,2039.8 145.5,2037.8 146.0,2038.1 146.5,2036.5 147.0,2034.6 147.5,2034.4 148.0,2036.7 148.5,2039.4 149.0,2040.1 149.5,2041.4 150.0,2041.2 150.5,2038.5 151.0,2038.5 151.5,2041.2 152.0,2042.2 152.5,2042.5 153.0,2041.8 153.5,2038.8 154.0,2037.5 154.5,2038.2 155.0,2037.6 155.5,2036.5 156.0,2036.7 156.5,2037.7 157.0,2038.9 157.5,2040.3 158.0,2041.9 158.5,2042.5 159.0,2041.3 159.5,2040.6 160.0,2040.7 160.5,2040.6 161.0,2039.9 161.5,2039.1 162.0,2038.2 162.5,2038.5 163.0,2040.8 163.5,2041.6 164.0,2039.7 164.5,2037.0 165.0,2036.5 165.5,2036.3 166.0,2036.8 166.5,2040.7 167.0,2042.2 167.5,2041.8 168.0,2040.6 168.5,2037.1 169.0,2037.9 169.5,2042.1 170.0,2042.7 170.5,2041.4 171.0,2041.4 171.5,2040.9 172.0,2039.5 172.5,2038.6 173.0,2038.6 173.5,2039.8 174.0,2041.3 174.5,2040.9 175.0,2039.0 175.5,2039.3 176.0,2039.8 176.5,2039.4 177.0,2041.6 177.5,2045.4 178.0,2044.1 178.5,2040.4 179.0,2040.3 179.5,2039.0 180.0,2037.9 180.5,2038.3 181.0,2040.0 181.5,2044.4 182.0,2044.5 182.5,2041.3 183.0,2042.4 183.5,2043.4 184.0,2041.9 184.5,2041.5 185.0,2041.8 185.5,2041.3 186.0,2041.0 186.5,2042.1 187.0,2043.4 187.5,2042.7 188.0,2042.2 188.5,2042.6 189.0,2041.3 189.5,2040.4 190.0,2039.6 190.5,2039.8 191.0,2041.9 191.5,2043.8 192.0,2045.2 192.5,2045.4 193.0,2044.7 193.5,2043.1 194.0,2043.1 194.5,2044.4 195.0,2043.5 195.5,2042.9 196.0,2045.0 196.5,2047.1 197.0,2047.0 197.5,2048.1 198.0,2050.0 198.5,2048.0 199.0,2045.4 199.5,2044.4 200.0,2043.6 200.5,2045.4 201.0,2048.2 201.5,2046.9 202.0,2044.0 202.5,2042.9 203.0,2045.1 203.5,2048.2 204.0,2046.4 204.5,2045.4 205.0,2048.0 205.5,2047.2 206.0,2044.5 206.5,2043.8 207.0,2044.3 207.5,2045.7 208.0,2046.9 208.5,2047.0 209.0,2045.8 209.5,2046.1 210.0,2048.5 210.5,2051.2 211.0,2052.4 211.5,2050.0 212.0,2046.6 212.5,2047.0 213.0,2048.0 213.5,2046.3 214.0,2044.4 214.5,2044.9 215.0,2046.6 215.5,2047.1 216.0,2046.5 216.5,2046.8 217.0,2047.7 217.5,2047.0 218.0,2045.7 218.5,2045.5 219.0,2046.8 219.5,2049.5 220.0,2050.1 220.5,2048.3 221.0,2049.2 221.5,2052.4 222.0,2053.2 222.5,2052.7 223.0,2051.6 223.5,2050.6 224.0,2051.5 224.5,2053.9 225.0,2054.6 225.5,2052.4 226.0,2051.5 226.5,2052.5 227.0,2052.3 227.5,2050.7 228.0,2049.5 228.5,2050.7 229.0,2052.4 229.5,2051.5 230.0,2050.3 230.5,2049.8 231.0,2049.9 231.5,2051.3 232.0,2052.2 232.5,2053.2 233.0,2053.8 233.5,2052.6 234.0,2051.5 234.5,2051.8 235.0,2053.1 235.5,2054.1 236.0,2055.0 236.5,2054.3 237.0,2052.9 237.5,2053.0 238.0,2051.4 238.5,2049.4 239.0,2050.7 239.5,2053.3 240.0,2053.7 240.5,2053.1 241.0,2053.8 241.5,2054.2 242.0,2052.8 242.5,2051.9 243.0,2052.0 243.5,2053.5 244.0,2055.4 244.5,2055.2 245.0,2054.9 245.5,2054.8 246.0,2053.1 246.5,2051.6 247.0,2051.8 247.5,2053.7 248.0,2055.5 248.5,2054.8 249.0,2053.9 249.5,2053.9 250.0,2054.3 250.5,2055.7 251.0,2055.6 251.5,2055.2 252.0,2055.3 252.5,2054.2 253.0,2053.5 253.5,2053.4 254.0,2052.9 254.5,2051.3 255.0,2048.5 255.5,2045.8 256.0,2043.8 256.5,2045.0 257.0,2049.0 257.5,2051.8 258.0,2053.4 258.5,2055.6 259.0,2055.9 259.5,2054.6 260.0,2056.4 260.5,2058.4 261.0,2057.2 261.5,2056.3 262.0,2056.8 262.5,2055.8 263.0,2054.6 263.5,2055.8 264.0,2057.1 264.5,2057.1 265.0,2056.7 265.5,2056.9 266.0,2058.1 266.5,2058.4 267.0,2057.9 267.5,2057.2 268.0,2056.6 268.5,2057.2 269.0,2059.0 269.5,2059.5 270.0,2058.0 270.5,2057.3 271.0,2057.8 271.5,2058.0 272.0,2058.0 272.5,2058.1 273.0,2058.4 273.5,2059.5 274.0,2059.2 274.5,2058.3 275.0,2058.6 275.5,2059.1 276.0,2059.7 276.5,2060.0 277.0,2059.1 277.5,2057.5 278.0,2056.9 278.5,2057.3 279.0,2058.3 279.5,2059.0 280.0,2058.3 280.5,2058.3 281.0,2060.1 281.5,2060.3 282.0,2058.6 282.5,2059.1 283.0,2059.7 283.5,2058.9 284.0,2058.6 284.5,2057.9 285.0,2058.2 285.5,2058.7 286.0,2059.3 286.5,2061.0 287.0,2061.4 287.5,2061.0 288.0,2062.3 288.5,2062.1 289.0,2059.8 289.5,2060.1 290.0,2061.9 290.5,2062.8 291.0,2062.0 291.5,2060.5 292.0,2060.5 292.5,2061.0 293.0,2060.7 293.5,2060.9 294.0,2060.8 294.5,2061.5 295.0,2063.2 295.5,2063.6 296.0,2064.1 296.5,2064.1 297.0,2062.7 297.5,2061.1 298.0,2060.7 298.5,2061.3 299.0,2060.9 299.5,2061.5 300.0,2064.6 300.5,2065.6 301.0,2063.7 301.5,2062.2 302.0,2061.2 302.5,2061.0 303.0,2061.9 303.5,2062.5 304.0,2063.1 304.5,2064.4 305.0,2064.7 305.5,2063.3 306.0,2062.3 306.5,2062.2 307.0,2061.9 307.5,2062.1 308.0,2063.5 308.5,2062.7 309.0,2061.0 309.5,2061.8 310.0,2063.2 310.5,2062.5 311.0,2061.3 311.5,2061.4 312.0,2060.7 312.5,2059.3 313.0,2057.7 313.5,2054.5 314.0,2049.6 314.5,2042.4 315.0,2032.5 315.5,2017.8 316.0,2000.9 316.5,1991.0 317.0,1992.4 317.5,2002.9 318.0,2019.4 318.5,2035.5 319.0,2046.3 319.5,2051.8 320.0,2054.6 320.5,2058.3 321.0,2061.2 321.5,2061.7 322.0,2062.1 322.5,2063.1 323.0,2063.6 323.5,2063.4 324.0,2063.8 324.5,2063.8 325.0,2063.4 325.5,2064.6 326.0,2065.7 326.5,2065.1 327.0,2063.9 327.5,2063.3 328.0,2062.8 328.5,2062.3 329.0,2062.8 329.5,2064.6 330.0,2065.5 330.5,2066.6 331.0,2067.9 331.5,2067.2 332.0,2065.8 332.5,2064.7 333.0,2064.5 333.5,2065.2 334.0,2065.3 334.5,2064.7 335.0,2064.6 335.5,2065.3 336.0,2065.5 336.5,2065.3 337.0,2066.2 337.5,2067.1 338.0,2067.4 338.5,2067.8 339.0,2067.4 339.5,2067.1 340.0,2067.5 340.5,2068.1 341.0,2067.8 341.5,2067.6 342.0,2067.4 342.5,2067.1 343.0,2067.0 343.5,2067.1 344.0,2067.7 344.5,2067.3 345.0,2066.8 345.5,2067.4 346.0,2067.0 346.5,2065.8 347.0,2066.7 347.5,2068.3 348.0,2067.9 348.5,2067.5 349.0,2069.4 349.5,2069.9 350.0,2067.9 350.5,2066.7 351.0,2066.5 351.5,2067.0 352.0,2068.8 352.5,2069.6 353.0,2069.0 353.5,2069.6 354.0,2069.2 354.5,2068.0 355.0,2068.3 355.5,2068.9 356.0,2068.6 356.5,2068.4 357.0,2068.6 357.5,2069.0 358.0,2069.1 358.5,2068.5 359.0,2068.5 359.5,2069.4 360.0,2069.7 360.5,2068.5 361.0,2067.5 361.5,2068.1 362.0,2068.2 362.5,2067.9 363.0,2068.2 363.5,2067.6 364.0,2066.8 364.5,2068.1 365.0,2069.9 365.5,2069.6 366.0,2069.0 366.5,2068.6 367.0,2068.8 367.5,2070.9 368.0,2071.7 368.5,2070.7 369.0,2070.1 369.5,2069.6 370.0,2069.4 370.5,2069.6 371.0,2070.0 371.5,2070.2 372.0,2069.9 372.5,2070.1 373.0,2070.0 373.5,2070.9 374.0,2072.7 374.5,2072.3 375.0,2070.6 375.5,2071.5 376.0,2072.6 376.5,2072.3 377.0,2071.9 377.5,2071.0 378.0,2071.8 378.5,2073.6 379.0,2073.4 379.5,2072.4 380.0,2071.5 380.5,2071.5 381.0,2072.2 381.5,2072.7 382.0,2072.7 382.5,2071.2 383.0,2070.6 383.5,2070.9 384.0,2070.7 384.5,2072.1 385.0,2074.0 385.5,2073.4 386.0,2071.2 386.5,2071.1 387.0,2072.0 387.5,2071.8 388.0,2071.0 388.5,2070.2 389.0,2070.9 389.5,2071.5 390.0,2071.1 390.5,2071.2 391.0,2071.1 391.5,2070.0 392.0,2069.3 392.5,2069.5 393.0,2069.6 393.5,2069.0 394.0,2068.6 394.5,2066.8 395.0,2063.7 395.5,2060.5 396.0,2054.2 396.5,2040.1 397.0,2016.2 397.5,1984.8 398.0,1952.3 398.5,1931.4 399.0,1936.4 399.5,1963.3 400.0,1996.8 400.5,2026.1 401.0,2046.6 401.5,2058.7 402.0,2064.6 402.5,2066.9 403.0,2068.7 403.5,2070.5 404.0,2071.3 404.5,2071.4 405.0,2072.1 405.5,2072.3 406.0,2071.7 406.5,2072.0 407.0,2072.4 407.5,2072.2 408.0,2071.8 408.5,2072.0 409.0,2073.3 409.5,2074.0 410.0,2073.9 410.5,2074.0 411.0,2074.0 411.5,2073.3 412.0,2073.3 412.5,2074.4 413.0,2075.1 413.5,2075.2 414.0,2074.6 414.5,2073.2 415.0,2072.8 415.5,2074.4 416.0,2076.3 416.5,2075.7 417.0,2074.6 417.5,2075.7 418.0,2075.9 418.5,2075.3 419.0,2075.6 419.5,2075.6 420.0,2075.4 420.5,2076.0 421.0,2076.7 421.5,2075.7 422.0,2074.0 422.5,2074.8 423.0,2077.3 423.5,2077.5 424.0,2076.1 424.5,2075.5 425.0,2075.5 425.5,2076.1 426.0,2076.6 426.5,2077.0 427.0,2076.5 427.5,2075.1 428.0,2074.3 428.5,2073.8 429.0,2072.6 429.5,2072.1 430.0,2073.9 430.5,2075.6 431.0,2076.1 431.5,2076.3 432.0,2076.4 432.5,2076.8 433.0,2076.8 433.5,2075.7 434.0,2074.4 434.5,2074.6 435.0,2076.2 435.5,2076.0 436.0,2074.7 436.5,2075.0 437.0,2076.6 437.5,2078.3 438.0,2078.2 438.5,2077.3 439.0,2076.6 439.5,2075.7 440.0,2075.7 440.5,2075.8 441.0,2076.1 441.5,2077.3 442.0,2077.7 442.5,2077.3 443.0,2076.7 443.5,2077.6 444.0,2077.8 444.5,2076.8 445.0,2077.1 445.5,2077.9 446.0,2077.8 446.5,2076.9 447.0,2076.0 447.5,2076.2 448.0,2076.9 448.5,2077.0 449.0,2076.2 449.5,2075.4 450.0,2075.6 450.5,2076.0 451.0,2077.5 451.5,2078.9 452.0,2078.3 452.5,2077.9 453.0,2077.5 453.5,2076.2 454.0,2076.9 454.5,2078.2 455.0,2077.0 455.5,2075.6 456.0,2076.4 456.5,2078.0 457.0,2078.5 457.5,2078.5 458.0,2078.7 458.5,2078.4 459.0,2078.4 459.5,2077.9 460.0,2077.7 460.5,2079.2 461.0,2079.8 461.5,2079.3 462.0,2078.4 462.5,2077.4 463.0,2075.8 463.5,2073.2 464.0,2069.7 464.5,2066.6 465.0,2064.6 465.5,2064.1 466.0,2064.9 466.5,2065.6 467.0,2068.2 467.5,2072.9 468.0,2075.2 468.5,2074.0 469.0,2072.8 469.5,2071.9 470.0,2070.2 470.5,2065.7 471.0,2057.3 471.5,2046.2 472.0,2035.3 472.5,2031.8 473.0,2038.7 473.5,2049.3 474.0,2058.9 474.5,2066.8 475.0,2072.2 475.5,2074.8 476.0,2075.8 476.5,2077.2 477.0,2078.3 477.5,2077.5 478.0,2077.0 478.5,2077.7 479.0,2078.2 479.5,2077.4 480.0,2076.7 480.5,2076.8 481.0,2077.2 481.5,2079.0 482.0,2080.5 482.5,2080.1 483.0,2079.6 483.5,2079.1 484.0,2077.9 484.5,2076.8 485.0,2077.3 485.5,2077.9 486.0,2077.6 486.5,2077.1 487.0,2075.0 487.5,2072.4 488.0,2070.0 488.5,2068.2 489.0,2068.5 489.5,2070.3 490.0,2072.7 490.5,2075.2 491.0,2077.3 491.5,2078.6 492.0,2078.1 492.5,2077.5 493.0,2077.9 493.5,2079.1 494.0,2080.1 494.5,2079.6 495.0,2079.1 495.5,2078.8 496.0,2078.3 496.5,2078.3 497.0,2078.3 497.5,2078.5 498.0,2079.1 498.5,2078.7 499.0,2078.1 499.5,2078.4 500.0,2078.8 500.5,2079.5 501.0,2080.3 501.5,2079.8 502.0,2079.9 502.5,2080.5 503.0,2080.4 503.5,2079.4 504.0,2079.4 504.5,2080.7 505.0,2079.8 505.5,2078.8 506.0,2079.5 506.5,2078.9 507.0,2078.1 507.5,2078.1 508.0,2077.4 508.5,2075.6 509.0,2072.7 509.5,2068.7 510.0,2062.9 510.5,2056.9 511.0,2054.4 511.5,2056.4 512.0,2060.5 512.5,2065.5 513.0,2070.9 513.5,2075.0 514.0,2076.6 514.5,2076.5 515.0,2077.0 515.5,2078.6 516.0,2079.8 516.5,2080.5 517.0,2081.4 517.5,2081.8 518.0,2081.1 518.5,2080.2 519.0,2079.5 519.5,2079.3 520.0,2079.4 520.5,2079.6 521.0,2079.7 521.5,2079.6 522.0,2080.4 522.5,2080.2 523.0,2079.6 523.5,2080.1 524.0,2080.5 524.5,2079.9 525.0,2078.2 525.5,2078.0 526.0,2080.0 526.5,2081.1 527.0,2080.0 527.5,2078.7 528.0,2078.8 528.5,2079.6 529.0,2080.6 529.5,2080.8 530.0,2080.2 530.5,2080.6 531.0,2080.3 531.5,2079.1 532.0,2079.7 532.5,2080.4 533.0,2080.5 533.5,2081.4 534.0,2082.1 534.5,2082.2 535.0,2082.2 535.5,2081.8 536.0,2080.7 536.5,2079.7 537.0,2078.8 537.5,2078.5 538.0,2079.6 538.5,2080.7 539.0,2080.7 539.5,2081.0 540.0,2081.8 540.5,2081.7 541.0,2080.9 541.5,2080.0 542.0,2080.0 542.5,2081.0 543.0,2080.1 543.5,2078.7 544.0,2079.7 544.5,2081.0 545.0,2081.3 545.5,2081.3 546.0,2081.0 546.5,2080.9 547.0,2080.9 547.5,2080.3 548.0,2080.4 548.5,2080.8 549.0,2081.0 549.5,2081.6 550.0,2081.6 550.5,2081.3 551.0,2081.3 551.5,2081.6 552.0,2081.2 552.5,2080.4 553.0,2080.4 553.5,2080.6 554.0,2080.6 554.5,2080.8 555.0,2080.4 555.5,2079.8 556.0,2080.6 556.5,2081.8 557.0,2081.1 557.5,2079.5 558.0,2079.8 558.5,2080.4 559.0,2080.1 559.5,2081.1 560.0,2082.3 560.5,2081.5 561.0,2080.5 561.5,2080.1 562.0,2079.6 562.5,2079.3 563.0,2079.0 563.5,2078.9 564.0,2078.8 564.5,2079.3 565.0,2080.6 565.5,2081.5 566.0,2082.1 566.5,2082.8 567.0,2082.4 567.5,2081.5 568.0,2080.8 568.5,2080.1 569.0,2080.0 569.5,2079.8 570.0,2079.9 570.5,2080.5 571.0,2080.4 571.5,2080.2 572.0,2080.4 572.5,2080.9 573.0,2080.1 573.5,2078.9 574.0,2080.4 574.5,2082.1 575.0,2081.4 575.5,2080.5 576.0,2080.3 576.5,2079.7 577.0,2078.0 577.5,2076.6 578.0,2075.7 578.5,2074.4 579.0,2074.0 579.5,2073.5 580.0,2070.3 580.5,2065.6 581.0,2057.9 581.5,2041.3 582.0,2013.5 582.5,1976.2 583.0,1936.2 583.5,1909.5 584.0,1914.3 584.5,1946.3 585.0,1986.0 585.5,2020.4 586.0,2044.1 586.5,2059.4 587.0,2068.0 587.5,2070.9 588.0,2073.2 588.5,2075.8 589.0,2076.7 589.5,2076.7 590.0,2076.8 590.5,2077.6 591.0,2078.9 591.5,2079.3 592.0,2079.8 592.5,2079.6 593.0,2078.2 593.5,2078.2 594.0,2080.1 594.5,2081.1 595.0,2081.0 595.5,2080.4 596.0,2079.5 596.5,2079.5 597.0,2079.9 597.5,2080.2 598.0,2079.8 598.5,2078.7 599.0,2079.8 599.5,2081.3 600.0,2080.5 600.5,2080.0 601.0,2080.1 601.5,2080.3 602.0,2080.7 602.5,2081.2 603.0,2081.8 603.5,2081.2 604.0,2080.0 604.5,2080.2 605.0,2080.9 605.5,2080.6 606.0,2080.2 606.5,2080.5 607.0,2079.5 607.5,2078.7 608.0,2079.3 608.5,2079.7 609.0,2080.6 609.5,2081.2 610.0,2081.0 610.5,2081.6 611.0,2082.3 611.5,2081.3 612.0,2079.8 612.5,2079.1 613.0,2078.1 613.5,2074.9 614.0,2069.3 614.5,2060.9 615.0,2047.5 615.5,2029.3 616.0,2012.6 616.5,2006.5 617.0,2014.0 617.5,2029.1 618.0,2046.3 618.5,2060.6 619.0,2069.1 619.5,2073.6 620.0,2075.1 620.5,2075.4 621.0,2075.6 621.5,2076.0 622.0,2077.0 622.5,2078.1 623.0,2078.9 623.5,2078.1 624.0,2076.9 624.5,2075.4 625.0,2073.6 625.5,2071.2 626.0,2066.9 626.5,2058.9 627.0,2044.6 627.5,2029.0 628.0,2020.3 628.5,2022.2 629.0,2033.2 629.5,2047.0 630.0,2058.4 630.5,2066.7 631.0,2072.7 631.5,2075.8 632.0,2076.9 632.5,2078.1 633.0,2079.1 633.5,2078.4 634.0,2078.6 634.5,2079.9 635.0,2079.4 635.5,2078.1 636.0,2077.5 636.5,2077.6 637.0,2077.7 637.5,2078.3 638.0,2078.0 638.5,2076.4 639.0,2076.0 639.5,2076.0 640.0,2074.6 640.5,2071.8 641.0,2068.5 641.5,2063.9 642.0,2052.8 642.5,2028.2 643.0,1985.1 643.5,1924.2 644.0,1864.5 644.5,1850.4 645.0,1894.6 645.5,1954.5 646.0,2000.3 646.5,2027.4 647.0,2042.1 647.5,2051.7 648.0,2060.1 648.5,2066.5 649.0,2070.9 649.5,2073.9 650.0,2076.0 650.5,2077.6 651.0,2077.8 651.5,2078.4 652.0,2079.6 652.5,2080.1 653.0,2080.9 653.5,2080.7 654.0,2079.3 654.5,2079.5 655.0,2080.5 655.5,2080.5 656.0,2080.4 656.5,2080.4 657.0,2079.9 657.5,2080.3 658.0,2081.5 658.5,2082.0 659.0,2081.2 659.5,2079.3 660.0,2078.6 660.5,2079.6 661.0,2081.3 661.5,2081.8 662.0,2080.5 662.5,2080.9 663.0,2081.7 663.5,2081.6 664.0,2082.0 664.5,2080.7 665.0,2079.3 665.5,2079.6 666.0,2080.2 666.5,2080.0 667.0,2080.5 667.5,2080.9 668.0,2080.5 668.5,2080.4 669.0,2080.8 669.5,2081.0 670.0,2080.3 670.5,2079.7 671.0,2080.3 671.5,2082.0 672.0,2082.8 672.5,2081.4 673.0,2080.0 673.5,2080.6 674.0,2081.8 674.5,2081.9 675.0,2081.0 675.5,2081.1 676.0,2082.2 676.5,2081.4 677.0,2080.4 677.5,2081.3 678.0,2081.7 678.5,2081.1 679.0,2081.0 679.5,2080.9 680.0,2080.3 680.5,2080.2 681.0,2079.3 681.5,2078.0 682.0,2078.3 682.5,2078.4 683.0,2078.5 683.5,2079.1 684.0,2078.9 684.5,2078.3 685.0,2077.2 685.5,2075.0 686.0,2074.0 686.5,2072.5 687.0,2066.5 687.5,2057.6 688.0,2046.7 688.5,2034.7 689.0,2027.3 689.5,2029.6 690.0,2040.6 690.5,2053.8 691.0,2064.2 691.5,2071.0 692.0,2074.1 692.5,2075.1 693.0,2075.6 693.5,2076.0 694.0,2076.3 694.5,2076.1 695.0,2076.2 695.5,2076.6 696.0,2075.9 696.5,2074.1 697.0,2072.3 697.5,2071.1 698.0,2070.0 698.5,2067.0 699.0,2060.9 699.5,2049.0 700.0,2020.6 700.5,1962.1 701.0,1880.0 701.5,1833.0 702.0,1879.0 702.5,1956.7 703.0,2009.1 703.5,2032.5 704.0,2037.8 704.5,2028.2 705.0,1999.0 705.5,1924.2 706.0,1753.1 706.5,1481.7 707.0,1362.0 707.5,1362.0 708.0,1636.1 708.5,1851.3 709.0,1950.1 709.5,1974.8 710.0,1985.2 710.5,2009.4 711.0,2031.6 711.5,2043.2 712.0,2046.7 712.5,2047.0 713.0,2053.4 713.5,2063.7 714.0,2070.2 714.5,2072.6 715.0,2073.5 715.5,2073.9 716.0,2074.5 716.5,2074.5 717.0,2076.0 717.5,2078.5 718.0,2078.1 718.5,2076.8 719.0,2077.7 719.5,2079.2 720.0,2079.3 720.5,2079.2 721.0,2078.9 721.5,2079.1 722.0,2079.6 722.5,2078.9 723.0,2078.5 723.5,2078.8 724.0,2079.4 724.5,2080.1 725.0,2080.2 725.5,2080.7 726.0,2080.3 726.5,2079.3 727.0,2080.3 727.5,2082.2 728.0,2082.7 728.5,2081.5 729.0,2079.7 729.5,2080.0 730.0,2081.6 730.5,2081.9 731.0,2080.8 731.5,2080.7 732.0,2081.7 732.5,2081.8 733.0,2080.5 733.5,2079.2 734.0,2078.8 734.5,2078.9 735.0,2078.9 735.5,2079.9 736.0,2081.4 736.5,2081.2 737.0,2080.7 737.5,2080.4 738.0,2079.8 738.5,2079.7 739.0,2079.9 739.5,2080.3 740.0,2080.1 740.5,2078.8 741.0,2078.4 741.5,2077.6 742.0,2075.0 742.5,2071.4 743.0,2066.4 743.5,2057.5 744.0,2043.9 744.5,2027.6 745.0,2015.4 745.5,2015.4 746.0,2026.7 746.5,2042.3 747.0,2055.7 747.5,2065.7 748.0,2073.3 748.5,2076.8 749.0,2077.5 749.5,2078.4 750.0,2078.8 750.5,2078.2 751.0,2077.9 751.5,2078.4 752.0,2079.2 752.5,2078.9 753.0,2078.8 753.5,2079.2 754.0,2079.6 754.5,2079.9 755.0,2080.0 755.5,2080.3 756.0,2080.4 756.5,2080.7 757.0,2080.0 757.5,2078.8 758.0,2078.6 758.5,2078.9 759.0,2078.8 759.5,2077.0 760.0,2072.7 760.5,2066.3 761.0,2057.2 761.5,2045.7 762.0,2035.4 762.5,2033.1 763.0,2041.1 763.5,2052.5 764.0,2062.2 764.5,2069.4 765.0,2074.2 765.5,2077.3 766.0,2078.9 766.5,2078.8 767.0,2079.7 767.5,2080.8 768.0,2079.9 768.5,2079.2 769.0,2079.7 769.5,2080.9 770.0,2081.5 770.5,2081.2 771.0,2081.3 771.5,2081.6 772.0,2081.4 772.5,2081.5 773.0,2081.6 773.5,2081.0 774.0,2080.0 774.5,2079.5 775.0,2080.4 775.5,2081.5 776.0,2080.7 776.5,2080.2 777.0,2080.9 777.5,2080.5 778.0,2080.0 778.5,2079.7 779.0,2078.4 779.5,2077.2 780.0,2077.7 780.5,2078.4 781.0,2078.0 781.5,2076.6 782.0,2073.8 782.5,2071.6 783.0,2070.3 783.5,2065.8 784.0,2056.6 784.5,2040.0 785.0,2006.5 785.5,1951.1 786.0,1888.8 786.5,1858.0 787.0,1886.6 787.5,1946.1 788.0,2000.5 788.5,2036.2 789.0,2055.0 789.5,2063.7 790.0,2068.1 790.5,2070.4 791.0,2071.2 791.5,2070.8 792.0,2070.2 792.5,2069.9 793.0,2070.2 793.5,2069.1 794.0,2064.2 794.5,2056.9 795.0,2043.8 795.5,2013.4 796.0,1955.2 796.5,1866.6 797.0,1767.5 797.5,1716.4 798.0,1761.8 798.5,1860.0 799.0,1951.6 799.5,2012.6 800.0,2043.8 800.5,2057.2 801.0,2062.9 801.5,2065.3 802.0,2064.8 802.5,2060.9 803.0,2053.6 803.5,2046.9 804.0,2050.2 804.5,2060.2 805.0,2068.3 805.5,2072.1 806.0,2074.0 806.5,2076.2 807.0,2078.1 807.5,2079.4 808.0,2079.5 808.5,2078.6 809.0,2077.4 809.5,2076.2 810.0,2077.1 810.5,2077.3 811.0,2074.1 811.5,2068.2 812.0,2058.2 812.5,2043.4 813.0,2024.6 813.5,2007.1 814.0,2002.6 814.5,2013.7 815.0,2031.5 815.5,2048.8 816.0,2061.3 816.5,2068.9 817.0,2074.0 817.5,2077.4 818.0,2078.0 818.5,2077.0 819.0,2077.4 819.5,2078.9 820.0,2080.5 820.5,2080.4 821.0,2079.8 821.5,2081.2 822.0,2082.4 822.5,2082.1 823.0,2083.4 823.5,2084.7 824.0,2083.0 824.5,2081.7 825.0,2082.1 825.5,2081.6 826.0,2080.9 826.5,2080.9 827.0,2081.7 827.5,2082.5 828.0,2082.6 828.5,2082.9 829.0,2081.9 829.5,2080.8 830.0,2082.1 830.5,2083.5 831.0,2083.7 831.5,2084.0 832.0,2083.8 832.5,2082.8 833.0,2082.4 833.5,2083.0 834.0,2082.7 834.5,2082.1 835.0,2082.5 835.5,2083.2 836.0,2083.6 836.5,2084.6 837.0,2085.1 837.5,2084.3 838.0,2083.8 838.5,2083.8 839.0,2083.4 839.5,2082.6 840.0,2082.0 840.5,2081.8 841.0,2082.1 841.5,2082.4 842.0,2082.0 842.5,2081.9 843.0,2081.8 843.5,2082.1 844.0,2083.1 844.5,2083.6 845.0,2083.3 845.5,2082.3 846.0,2082.1 846.5,2083.0 847.0,2083.6 847.5,2084.1 848.0,2083.6 848.5,2082.4 849.0,2082.0 849.5,2083.0 850.0,2083.3 850.5,2082.0 851.0,2082.0 851.5,2083.0 852.0,2081.9 852.5,2081.7 853.0,2083.6 853.5,2083.8 854.0,2082.3 854.5,2081.8 855.0,2082.0 855.5,2081.9 856.0,2082.2 856.5,2082.7 857.0,2082.2 857.5,2081.8 858.0,2082.1 858.5,2082.5 859.0,2082.5 859.5,2081.6 860.0,2079.5 860.5,2077.9 861.0,2077.0 861.5,2075.5 862.0,2075.0 862.5,2075.4 863.0,2075.2 863.5,2075.5 864.0,2076.9 864.5,2079.7 865.0,2082.5 865.5,2082.3 866.0,2081.9 866.5,2082.7 867.0,2083.0 867.5,2082.6 868.0,2081.9 868.5,2082.5 869.0,2083.9 869.5,2083.7 870.0,2083.4 870.5,2083.8 871.0,2083.7 871.5,2082.6 872.0,2082.0 872.5,2082.9 873.0,2083.6 873.5,2083.6 874.0,2083.2 874.5,2082.0 875.0,2081.6 875.5,2081.3 876.0,2082.0 876.5,2083.9 877.0,2084.6 877.5,2084.8 878.0,2083.8 878.5,2082.9 879.0,2083.9 879.5,2084.7 880.0,2085.0 880.5,2084.1 881.0,2082.9 881.5,2082.5 882.0,2081.4 882.5,2080.0 883.0,2079.7 883.5,2079.0 884.0,2077.5 884.5,2077.3 885.0,2077.6 885.5,2077.3 886.0,2078.1 886.5,2079.5 887.0,2080.5 887.5,2081.8 888.0,2082.4 888.5,2081.8 889.0,2081.1 889.5,2080.7 890.0,2080.3 890.5,2079.2 891.0,2078.1 891.5,2076.0 892.0,2072.6 892.5,2069.3 893.0,2065.5 893.5,2062.8 894.0,2063.9 894.5,2067.2 895.0,2071.2 895.5,2075.7 896.0,2079.6 896.5,2081.4 897.0,2081.4 897.5,2081.7 898.0,2082.2 898.5,2083.0 899.0,2084.4 899.5,2083.6 900.0,2082.2 900.5,2083.0 901.0,2083.4 901.5,2083.2 902.0,2084.3 902.5,2085.2 903.0,2084.5 903.5,2082.9 904.0,2082.4 904.5,2082.5 905.0,2082.4 905.5,2082.2 906.0,2082.2 906.5,2082.4 907.0,2082.7 907.5,2084.0 908.0,2083.6 908.5,2081.7 909.0,2082.1 909.5,2084.4 910.0,2085.5 910.5,2084.8 911.0,2085.3 911.5,2085.7 912.0,2083.9 912.5,2082.1 913.0,2081.2 913.5,2081.5 914.0,2082.6 914.5,2082.7 915.0,2082.4 915.5,2082.2 916.0,2080.7 916.5,2079.6 917.0,2079.2 917.5,2078.3 918.0,2077.8 918.5,2078.2 919.0,2079.5 919.5,2081.4 920.0,2082.0 920.5,2081.8 921.0,2082.6 921.5,2083.1 922.0,2083.6 922.5,2084.4 923.0,2084.2 923.5,2084.2 924.0,2084.1 924.5,2083.0 925.0,2082.6 925.5,2082.7 926.0,2082.7 926.5,2083.0 927.0,2083.0 927.5,2083.4 928.0,2083.6 928.5,2083.7 929.0,2083.6 929.5,2083.5 930.0,2083.5 930.5,2083.1 931.0,2082.8 931.5,2083.0 932.0,2083.1 932.5,2082.1 933.0,2081.3 933.5,2081.3 934.0,2079.1 934.5,2074.8 935.0,2069.8 935.5,2064.7 936.0,2061.0 936.5,2060.0 937.0,2062.6 937.5,2066.6 938.0,2070.8 938.5,2075.3 939.0,2078.2 939.5,2079.7 940.0,2081.3 940.5,2082.5 941.0,2082.4 941.5,2081.8 942.0,2081.7 942.5,2081.3 943.0,2080.6 943.5,2080.6 944.0,2080.4 944.5,2080.6 945.0,2081.8 945.5,2081.8 946.0,2080.8 946.5,2078.9 947.0,2076.1 947.5,2071.1 948.0,2061.8 948.5,2048.8 949.0,2031.2 949.5,2010.5 950.0,1996.0 950.5,1997.0 951.0,2012.1 951.5,2032.7 952.0,2050.7 952.5,2063.0 953.0,2071.1 953.5,2076.7 954.0,2080.2 954.5,2081.8 955.0,2081.6 955.5,2080.8 956.0,2081.5 956.5,2083.1 957.0,2082.9 957.5,2081.7 958.0,2082.6 958.5,2084.5 959.0,2084.5 959.5,2083.7 960.0,2083.4 960.5,2083.5 961.0,2084.2 961.5,2084.8 962.0,2084.1 962.5,2082.9 963.0,2083.4 963.5,2084.2 964.0,2084.4 964.5,2083.4 965.0,2082.1 965.5,2083.1 966.0,2084.7 966.5,2084.0 967.0,2082.0 967.5,2081.7 968.0,2083.0 968.5,2083.2 969.0,2082.3 969.5,2081.6 970.0,2081.0 970.5,2079.1 971.0,2075.4 971.5,2070.7 972.0,2065.3 972.5,2058.2 973.0,2050.5 973.5,2046.8 974.0,2048.3 974.5,2053.8 975.0,2061.9 975.5,2069.5 976.0,2073.8 976.5,2076.5 977.0,2079.7 977.5,2082.1 978.0,2082.0 978.5,2081.8 979.0,2083.0 979.5,2084.1 980.0,2084.9 980.5,2085.2 981.0,2084.4 981.5,2082.8 982.0,2081.2 982.5,2081.3 983.0,2082.6 983.5,2083.2 984.0,2083.1 984.5,2082.7 985.0,2083.1 985.5,2084.4 986.0,2084.5 986.5,2084.7 987.0,2084.9 987.5,2084.2 988.0,2083.6 988.5,2083.2 989.0,2083.3 989.5,2083.8 990.0,2083.6 990.5,2083.2 991.0,2083.8 991.5,2084.2 992.0,2083.2 992.5,2083.3 993.0,2084.1 993.5,2083.4 994.0,2082.7 994.5,2082.5 995.0,2083.1 995.5,2084.6 996.0,2084.7 996.5,2084.5 997.0,2084.7 997.5,2084.5 998.0,2084.6 998.5,2084.9 999.0,2084.8 999.5,2084.3 1000.0,2084.0 1000.5,2082.9 1001.0,2082.6 1001.5,2084.6 1002.0,2084.9 1002.5,2083.8 1003.0,2083.2 1003.5,2082.6 1004.0,2082.6 1004.5,2083.4 1005.0,2083.9 1005.5,2083.6 1006.0,2083.3 1006.5,2082.9 1007.0,2082.3 1007.5,2082.0 1008.0,2081.1 1008.5,2079.5 1009.0,2077.1 1009.5,2073.2 1010.0,2067.7 1010.5,2061.3 1011.0,2053.4 1011.5,2047.0 1012.0,2046.0 1012.5,2050.3 1013.0,2057.4 1013.5,2064.9 1014.0,2071.7 1014.5,2075.2 1015.0,2076.7 1015.5,2079.3 1016.0,2081.1 1016.5,2081.2 1017.0,2080.8 1017.5,2080.0 1018.0,2078.7 1018.5,2078.2 1019.0,2078.1 1019.5,2078.7 1020.0,2080.2 1020.5,2080.4 1021.0,2078.2 1021.5,2073.8 1022.0,2067.6 1022.5,2058.2 1023.0,2045.1 1023.5,2029.2 1024.0,2015.3 1024.5,2010.7 1025.0,2017.2 1025.5,2031.2 1026.0,2046.6 1026.5,2058.5 1027.0,2066.8 1027.5,2073.0 1028.0,2077.0 1028.5,2078.5 1029.0,2079.2 1029.5,2079.6 1030.0,2078.6 1030.5,2076.5 1031.0,2075.3 1031.5,2074.8 1032.0,2071.1 1032.5,2061.8 1033.0,2048.8 1033.5,2034.2 1034.0,2021.0 1034.5,2015.7 1035.0,2020.8 1035.5,2033.3 1036.0,2048.1 1036.5,2061.0 1037.0,2070.8 1037.5,2075.6 1038.0,2077.5 1038.5,2078.7 1039.0,2079.7 1039.5,2081.4 1040.0,2081.8 1040.5,2081.5 1041.0,2083.0 1041.5,2084.4 1042.0,2084.0 1042.5,2083.2 1043.0,2083.2 1043.5,2083.3 1044.0,2083.5 1044.5,2082.9 1045.0,2082.6 1045.5,2083.3 1046.0,2084.1 1046.5,2083.8 1047.0,2082.7 1047.5,2082.5 1048.0,2083.4 1048.5,2083.6 1049.0,2083.4 1049.5,2083.4 1050.0,2083.6 1050.5,2083.1 1051.0,2081.6 1051.5,2081.3 1052.0,2081.9 1052.5,2082.2 1053.0,2083.1 1053.5,2083.9 1054.0,2084.3 1054.5,2084.3 1055.0,2083.5 1055.5,2082.7 1056.0,2083.1 1056.5,2083.8 1057.0,2083.6 1057.5,2082.8 1058.0,2081.7 1058.5,2080.9 1059.0,2080.5 1059.5,2080.6 1060.0,2081.0 1060.5,2079.9 1061.0,2076.6 1061.5,2072.2 1062.0,2065.8 1062.5,2054.0 1063.0,2035.4 1063.5,2013.3 1064.0,1998.1 1064.5,1999.4 1065.0,2014.1 1065.5,2033.1 1066.0,2050.8 1066.5,2063.7 1067.0,2071.1 1067.5,2075.2 1068.0,2077.7 1068.5,2078.2 1069.0,2078.7 1069.5,2080.2 1070.0,2080.8 1070.5,2080.9 1071.0,2080.7 1071.5,2080.8 1072.0,2080.6 1072.5,2079.4 1073.0,2077.8 1073.5,2075.3 1074.0,2070.7 1074.5,2062.9 1075.0,2050.6 1075.5,2030.2 1076.0,2002.3 1076.5,1973.7 1077.0,1955.4 1077.5,1960.0 1078.0,1984.7 1078.5,2016.2 1079.0,2042.9 1079.5,2059.0 1080.0,2067.9 1080.5,2073.9 1081.0,2076.8 1081.5,2077.6 1082.0,2078.6 1082.5,2079.2 1083.0,2079.6 1083.5,2081.5 1084.0,2082.7 1084.5,2082.8 1085.0,2083.3 1085.5,2083.0 1086.0,2081.9 1086.5,2082.4 1087.0,2083.5 1087.5,2083.4 1088.0,2082.8 1088.5,2083.0 1089.0,2083.7 1089.5,2084.4 1090.0,2084.0 1090.5,2082.5 1091.0,2082.4 1091.5,2083.0 1092.0,2083.2 1092.5,2083.0 1093.0,2082.7 1093.5,2082.4 1094.0,2081.6 1094.5,2081.2 1095.0,2081.6 1095.5,2082.6 1096.0,2083.5 1096.5,2082.9 1097.0,2081.3 1097.5,2081.4 1098.0,2082.0 1098.5,2081.6 1099.0,2081.4 1099.5,2079.8 1100.0,2075.9 1100.5,2071.2 1101.0,2064.5 1101.5,2054.3 1102.0,2041.5 1102.5,2028.4 1103.0,2018.2 1103.5,2014.7 1104.0,2021.0 1104.5,2034.4 1105.0,2047.7 1105.5,2058.0 1106.0,2066.2 1106.5,2072.2 1107.0,2076.5 1107.5,2078.8 1108.0,2078.8 1108.5,2079.2 1109.0,2080.6 1109.5,2081.0 1110.0,2081.3 1110.5,2082.1 1111.0,2082.0 1111.5,2080.8 1112.0,2079.5 1112.5,2078.7 1113.0,2078.2 1113.5,2078.3 1114.0,2076.6 1114.5,2070.5 1115.0,2061.8 1115.5,2052.9 1116.0,2043.6 1116.5,2037.3 1117.0,2038.5 1117.5,2045.5 1118.0,2054.3 1118.5,2062.6 1119.0,2069.6 1119.5,2074.5 1120.0,2077.1 1120.5,2078.9 1121.0,2080.9 1121.5,2080.9 1122.0,2080.1 1122.5,2081.6 1123.0,2084.3 1123.5,2085.1 1124.0,2084.1 1124.5,2083.7 1125.0,2083.6 1125.5,2084.1 1126.0,2084.4 1126.5,2083.3 1127.0,2082.4 1127.5,2082.9 1128.0,2084.7 1128.5,2085.2 1129.0,2084.1 1129.5,2083.4 1130.0,2083.3 1130.5,2083.5 1131.0,2084.0 1131.5,2084.9 1132.0,2085.2 1132.5,2084.3 1133.0,2082.9 1133.5,2082.4 1134.0,2083.6 1134.5,2085.1 1135.0,2085.0 1135.5,2084.5 1136.0,2084.9 1136.5,2084.5 1137.0,2084.1 1137.5,2085.2 1138.0,2085.0 1138.5,2083.4 1139.0,2083.6 1139.5,2085.1 1140.0,2086.0 1140.5,2085.2 1141.0,2083.5 1141.5,2083.7 1142.0,2084.4 1142.5,2083.9 1143.0,2083.7 1143.5,2083.9 1144.0,2083.6 1144.5,2082.5 1145.0,2081.8 1145.5,2083.1 1146.0,2085.4 1146.5,2086.3 1147.0,2085.2 1147.5,2083.0 1148.0,2082.2 1148.5,2082.6 1149.0,2081.9 1149.5,2081.1 1150.0,2080.6 1150.5,2079.3 1151.0,2077.4 1151.5,2073.2 1152.0,2066.3 1152.5,2058.7 1153.0,2052.1 1153.5,2048.0 1154.0,2048.5 1154.5,2053.3 1155.0,2059.8 1155.5,2066.1 1156.0,2072.1 1156.5,2077.0 1157.0,2079.7 1157.5,2080.4 1158.0,2080.2 1158.5,2080.7 1159.0,2082.0 1159.5,2083.0 1160.0,2082.6 1160.5,2082.1 1161.0,2082.7 1161.5,2083.6 1162.0,2084.3 1162.5,2083.7 1163.0,2083.0 1163.5,2083.4 1164.0,2083.1 1164.5,2082.1 1165.0,2082.1 1165.5,2082.3 1166.0,2082.5 1166.5,2083.5 1167.0,2084.6 1167.5,2084.6 1168.0,2083.5 1168.5,2082.8 1169.0,2083.4 1169.5,2083.2 1170.0,2081.6 1170.5,2081.8 1171.0,2083.8 1171.5,2084.3 1172.0,2083.7 1172.5,2083.9 1173.0,2084.6 1173.5,2083.6 1174.0,2081.3 1174.5,2081.8 1175.0,2083.0 1175.5,2082.0 1176.0,2080.3 1176.5,2079.9 1177.0,2081.2 1177.5,2080.3 1178.0,2076.6 1178.5,2073.9 1179.0,2070.6 1179.5,2060.5 1180.0,2040.5 1180.5,2013.5 1181.0,1988.8 1181.5,1981.5 1182.0,1998.6 1182.5,2026.3 1183.0,2048.8 1183.5,2061.4 1184.0,2066.6 1184.5,2065.5 1185.0,2059.1 1185.5,2045.2 1186.0,2023.0 1186.5,1992.8 1187.0,1957.9 1187.5,1934.2 1188.0,1938.6 1188.5,1966.1 1189.0,1998.8 1189.5,2026.4 1190.0,2045.6 1190.5,2053.8 1191.0,2051.7 1191.5,2046.9 1192.0,2048.1 1192.5,2056.0 1193.0,2064.8 1193.5,2070.9 1194.0,2074.1 1194.5,2075.9 1195.0,2077.6 1195.5,2080.0 1196.0,2080.3 1196.5,2079.4 1197.0,2081.0 1197.5,2082.0 1198.0,2081.1 1198.5,2081.6 1199.0,2082.1 1199.5,2081.3 1200.0,2081.8 1200.5,2082.6 1201.0,2082.0 1201.5,2081.4 1202.0,2081.6 1202.5,2081.9 1203.0,2082.4 1203.5,2081.7 1204.0,2079.8 1204.5,2079.2 1205.0,2079.4 1205.5,2078.1 1206.0,2075.3 1206.5,2071.7 1207.0,2065.3 1207.5,2057.4 1208.0,2050.3 1208.5,2045.9 1209.0,2046.0 1209.5,2050.5 1210.0,2057.3 1210.5,2064.2 1211.0,2068.4 1211.5,2070.8 1212.0,2073.6 1212.5,2074.1 1213.0,2072.0 1213.5,2069.2 1214.0,2065.4 1214.5,2060.5 1215.0,2055.6 1215.5,2053.2 1216.0,2055.7 1216.5,2059.9 1217.0,2063.9 1217.5,2068.6 1218.0,2071.7 1218.5,2073.4 1219.0,2075.4 1219.5,2076.7 1220.0,2077.3 1220.5,2078.5 1221.0,2078.7 1221.5,2077.0 1222.0,2076.5 1222.5,2078.0 1223.0,2079.0 1223.5,2079.5 1224.0,2080.0 1224.5,2079.4 1225.0,2078.3 1225.5,2078.7 1226.0,2079.2 1226.5,2079.1 1227.0,2079.3 1227.5,2080.2 1228.0,2080.4 1228.5,2079.6 1229.0,2080.2 1229.5,2082.0 1230.0,2082.7 1230.5,2081.8 1231.0,2080.8 1231.5,2081.2 1232.0,2082.3 1232.5,2082.4 1233.0,2083.2 1233.5,2083.3 1234.0,2081.3 1234.5,2080.9 1235.0,2081.7 1235.5,2081.4 1236.0,2081.6 1236.5,2082.6 1237.0,2082.8 1237.5,2082.3 1238.0,2082.9 1238.5,2083.2 1239.0,2082.1 1239.5,2082.4 1240.0,2083.9 1240.5,2083.6 1241.0,2081.9 1241.5,2082.3 1242.0,2084.1 1242.5,2083.9 1243.0,2083.0 1243.5,2083.2 1244.0,2083.5 1244.5,2084.2 1245.0,2085.2 1245.5,2084.6 1246.0,2083.0 1246.5,2082.3 1247.0,2083.1 1247.5,2084.2 1248.0,2083.0 1248.5,2080.5 1249.0,2079.5 1249.5,2079.3 1250.0,2078.8 1250.5,2076.8 1251.0,2073.1 1251.5,2070.5 1252.0,2069.9 1252.5,2070.3 1253.0,2070.6 1253.5,2071.6 1254.0,2074.2 1254.5,2077.0 1255.0,2078.8 1255.5,2079.5 1256.0,2079.2 1256.5,2079.1 1257.0,2077.8 1257.5,2075.2 1258.0,2074.1 1258.5,2072.9 1259.0,2069.6 1259.5,2066.4 1260.0,2065.4 1260.5,2066.6 1261.0,2068.2 1261.5,2070.7 1262.0,2073.7 1262.5,2075.6 1263.0,2078.2 1263.5,2081.1 1264.0,2081.3 1264.5,2080.5 1265.0,2079.4 1265.5,2077.2 1266.0,2074.2 1266.5,2070.7 1267.0,2066.3 1267.5,2062.6 1268.0,2061.8 1268.5,2063.6 1269.0,2067.3 1269.5,2071.7 1270.0,2074.8 1270.5,2076.7 1271.0,2079.6 1271.5,2081.8 1272.0,2081.6 1272.5,2081.3 1273.0,2081.7 1273.5,2081.8 1274.0,2082.6 1274.5,2083.5 1275.0,2083.0 1275.5,2082.0 1276.0,2082.0 1276.5,2081.8 1277.0,2079.0 1277.5,2076.2 1278.0,2074.4 1278.5,2071.4 1279.0,2069.9 1279.5,2070.2 1280.0,2071.7 1280.5,2075.0 1281.0,2076.5 1281.5,2077.4 1282.0,2080.2 1282.5,2081.5 1283.0,2082.7 1283.5,2084.5 1284.0,2083.4 1284.5,2082.1 1285.0,2083.4 1285.5,2084.9 1286.0,2084.9 1286.5,2084.0 1287.0,2083.5 1287.5,2083.2 1288.0,2083.2 1288.5,2084.1 1289.0,2085.0 1289.5,2084.9 1290.0,2084.5 1290.5,2085.4 1291.0,2085.9 1291.5,2085.1 1292.0,2084.4 1292.5,2084.3 1293.0,2084.3 1293.5,2084.3 1294.0,2083.6 1294.5,2082.6 1295.0,2082.2 1295.5,2082.0 1296.0,2082.2 1296.5,2081.3 1297.0,2081.0 1297.5,2081.7 1298.0,2080.9 1298.5,2079.7 1299.0,2078.8 1299.5,2078.5 1300.0,2078.8 1300.5,2079.6 1301.0,2081.2 1301.5,2081.5 1302.0,2080.3 1302.5,2081.6 1303.0,2082.9 1303.5,2082.4 1304.0,2083.2 1304.5,2084.0 1305.0,2083.8 1305.5,2083.4 1306.0,2082.8 1306.5,2082.4 1307.0,2083.1 1307.5,2083.6 1308.0,2084.2 1308.5,2085.2 1309.0,2085.5 1309.5,2085.4 1310.0,2084.7 1310.5,2083.7 1311.0,2083.8 1311.5,2084.1 1312.0,2084.4 1312.5,2085.2 1313.0,2085.2 1313.5,2084.7 1314.0,2084.4 1314.5,2083.8 1315.0,2084.3 1315.5,2085.7 1316.0,2086.1 1316.5,2086.2 1317.0,2086.0 1317.5,2085.0 1318.0,2084.5 1318.5,2085.0 1319.0,2085.9 1319.5,2086.0 1320.0,2085.1 1320.5,2084.9 1321.0,2085.6 1321.5,2085.5 1322.0,2084.6 1322.5,2084.0 1323.0,2084.2 1323.5,2084.6 1324.0,2084.7 1324.5,2085.0 1325.0,2085.4 1325.5,2084.9 1326.0,2084.3 1326.5,2084.3 1327.0,2084.8 1327.5,2085.2 1328.0,2085.3 1328.5,2084.9 1329.0,2084.7 1329.5,2084.7 1330.0,2083.3 1330.5,2082.7 1331.0,2084.4 1331.5,2084.8 1332.0,2083.9 1332.5,2084.0 1333.0,2085.1 1333.5,2085.1 1334.0,2083.9 1334.5,2083.7 1335.0,2084.8 1335.5,2086.1 1336.0,2086.2 1336.5,2085.0 1337.0,2084.0 1337.5,2083.3 1338.0,2082.4 1338.5,2081.1 1339.0,2081.7 1339.5,2083.7 1340.0,2083.7 1340.5,2083.1 1341.0,2083.4 1341.5,2082.7 1342.0,2081.4 1342.5,2080.7 1343.0,2080.7 1343.5,2079.8 1344.0,2077.2 1344.5,2073.7 1345.0,2068.2 1345.5,2060.6 1346.0,2051.9 1346.5,2045.2 1347.0,2043.5 1347.5,2046.5 1348.0,2053.6 1348.5,2061.1 1349.0,2066.3 1349.5,2070.1 1350.0,2073.1 1350.5,2074.3 1351.0,2071.6 1351.5,2067.0 1352.0,2063.4 1352.5,2059.6 1353.0,2053.7 1353.5,2048.9 1354.0,2049.0 1354.5,2054.4 1355.0,2061.3 1355.5,2066.0 1356.0,2070.5 1356.5,2075.3 1357.0,2078.2 1357.5,2079.7 1358.0,2080.9 1358.5,2081.0 1359.0,2080.4 1359.5,2080.2 1360.0,2080.3 1360.5,2080.1 1361.0,2079.6 1361.5,2077.8 1362.0,2074.0 1362.5,2069.1 1363.0,2062.1 1363.5,2052.3 1364.0,2043.4 1364.5,2039.3 1365.0,2040.7 1365.5,2045.6 1366.0,2052.6 1366.5,2061.4 1367.0,2069.0 1367.5,2074.6 1368.0,2078.7 1368.5,2080.7 1369.0,2081.8 1369.5,2081.9 1370.0,2081.8 1370.5,2082.4 1371.0,2083.0 1371.5,2082.7 1372.0,2082.5 1372.5,2083.5 1373.0,2084.1 1373.5,2083.6 1374.0,2083.9 1374.5,2084.6 1375.0,2084.9 1375.5,2084.9 1376.0,2084.5 1376.5,2084.1 1377.0,2084.6 1377.5,2084.8 1378.0,2084.4 1378.5,2084.5 1379.0,2085.1 1379.5,2085.3 1380.0,2084.8 1380.5,2084.0 1381.0,2083.6 1381.5,2083.8 1382.0,2084.9 1382.5,2084.8 1383.0,2083.4 1383.5,2083.5 1384.0,2084.6 1384.5,2084.6 1385.0,2083.7 1385.5,2083.3 1386.0,2084.1 1386.5,2084.9 1387.0,2084.8 1387.5,2084.3 1388.0,2084.3 1388.5,2084.1 1389.0,2084.3 1389.5,2084.8 1390.0,2084.8 1390.5,2084.9 1391.0,2084.6 1391.5,2083.8 1392.0,2083.5 1392.5,2083.8 1393.0,2084.4 1393.5,2084.9 1394.0,2084.4 1394.5,2083.1 1395.0,2082.0 1395.5,2081.7 1396.0,2080.9 1396.5,2078.0 1397.0,2075.2 1397.5,2072.7 1398.0,2068.1 1398.5,2062.5 1399.0,2058.4 1399.5,2057.3 1400.0,2060.1 1400.5,2065.5 1401.0,2071.3 1401.5,2076.5 1402.0,2079.6 1402.5,2080.8 1403.0,2081.9 1403.5,2083.2 1404.0,2083.7 1404.5,2084.0 1405.0,2084.3 1405.5,2083.8 1406.0,2083.7 1406.5,2084.0 1407.0,2083.8 1407.5,2083.7 1408.0,2084.0 1408.5,2083.2 1409.0,2083.6 1409.5,2085.4 1410.0,2085.4 1410.5,2084.4 1411.0,2084.4 1411.5,2084.1 1412.0,2083.5 1412.5,2083.0 1413.0,2083.2 1413.5,2084.4 1414.0,2085.6 1414.5,2085.4 1415.0,2084.8 1415.5,2084.6 1416.0,2084.1 1416.5,2083.9 1417.0,2083.2 1417.5,2081.5 1418.0,2080.3 1418.5,2079.1 1419.0,2077.9 1419.5,2077.7 1420.0,2078.0 1420.5,2077.3 1421.0,2076.0 1421.5,2076.6 1422.0,2077.9 1422.5,2077.8 1423.0,2079.0 1423.5,2080.9 1424.0,2081.4 1424.5,2081.9 1425.0,2081.8 1425.5,2081.8 1426.0,2082.4 1426.5,2082.0 1427.0,2082.6 1427.5,2084.6 1428.0,2085.0 1428.5,2084.7 1429.0,2085.4 1429.5,2085.7 1430.0,2084.7 1430.5,2083.3 1431.0,2083.6 1431.5,2084.8 1432.0,2085.3 1432.5,2085.0 1433.0,2084.5 1433.5,2083.9 1434.0,2083.6 1434.5,2084.4 1435.0,2085.4 1435.5,2084.7 1436.0,2083.0 1436.5,2082.5 1437.0,2083.5 1437.5,2085.0 1438.0,2086.0 1438.5,2085.1 1439.0,2083.4 1439.5,2083.7 1440.0,2084.9 1440.5,2084.2 1441.0,2082.9 1441.5,2083.2 1442.0,2083.3 1442.5,2082.3 1443.0,2080.8 1443.5,2079.4 1444.0,2077.9 1444.5,2075.8 1445.0,2073.9 1445.5,2072.2 1446.0,2070.6 1446.5,2070.1 1447.0,2071.7 1447.5,2073.4 1448.0,2074.4 1448.5,2076.2 1449.0,2078.9 1449.5,2080.5 1450.0,2081.1 1450.5,2082.9 1451.0,2083.6 1451.5,2082.6 1452.0,2083.0 1452.5,2083.8 1453.0,2083.6 1453.5,2083.7 1454.0,2083.7 1454.5,2083.3 1455.0,2083.2 1455.5,2084.1 1456.0,2084.3 1456.5,2082.9 1457.0,2081.9 1457.5,2080.0 1458.0,2076.0 1458.5,2071.5 1459.0,2066.6 1459.5,2061.7 1460.0,2057.4 1460.5,2055.1 1461.0,2057.9 1461.5,2062.7 1462.0,2066.9 1462.5,2072.0 1463.0,2076.3 1463.5,2077.8 1464.0,2079.1 1464.5,2081.1 1465.0,2082.2 1465.5,2082.7 1466.0,2082.8 1466.5,2082.9 1467.0,2083.3 1467.5,2084.2 1468.0,2084.8 1468.5,2084.8 1469.0,2084.2 1469.5,2084.2 1470.0,2085.5 1470.5,2086.4 1471.0,2086.0 1471.5,2084.8 1472.0,2084.1 1472.5,2084.2 1473.0,2083.9 1473.5,2084.0 1474.0,2084.3 1474.5,2083.7 1475.0,2083.6 1475.5,2084.0 1476.0,2083.8 1476.5,2083.9 1477.0,2083.6 1477.5,2083.1 1478.0,2084.0 1478.5,2085.0 1479.0,2085.9 1479.5,2085.4 1480.0,2082.9 1480.5,2081.5 1481.0,2082.5 1481.5,2083.2 1482.0,2083.0 1482.5,2083.0 1483.0,2081.7 1483.5,2080.2 1484.0,2080.0 1484.5,2080.5 1485.0,2080.5 1485.5,2079.8 1486.0,2080.0 1486.5,2080.6 1487.0,2080.7 1487.5,2081.3 1488.0,2082.4 1488.5,2083.0 1489.0,2083.0 1489.5,2082.2 1490.0,2081.6 1490.5,2082.2 1491.0,2083.3 1491.5,2084.0 1492.0,2083.7 1492.5,2083.3 1493.0,2083.8 1493.5,2084.3 1494.0,2084.6 1494.5,2085.3 1495.0,2085.4 1495.5,2084.7 1496.0,2084.8 1496.5,2085.7 1497.0,2085.8 1497.5,2085.6 1498.0,2085.2 1498.5,2084.4 1499.0,2084.1 1499.5,2084.5 1500.0,2085.3 1500.5,2084.7 1501.0,2083.8 1501.5,2083.9 1502.0,2083.5 1502.5,2084.1 1503.0,2085.3 1503.5,2085.0 1504.0,2083.4 1504.5,2082.8 1505.0,2083.9 1505.5,2084.5 1506.0,2083.8 1506.5,2083.1 1507.0,2083.2 1507.5,2083.2 1508.0,2083.1 1508.5,2084.2 1509.0,2084.4 1509.5,2083.1 1510.0,2082.7 1510.5,2083.1 1511.0,2082.6 1511.5,2081.6 1512.0,2080.6 1512.5,2078.9 1513.0,2077.7 1513.5,2077.7 1514.0,2076.3 1514.5,2074.3 1515.0,2074.1 1515.5,2075.4 1516.0,2077.2 1516.5,2078.8 1517.0,2079.5 1517.5,2080.1 1518.0,2080.9 1518.5,2080.9 1519.0,2081.8 1519.5,2083.3 1520.0,2083.2 1520.5,2083.0 1521.0,2082.3 1521.5,2082.0 1522.0,2081.7 1522.5,2079.4 1523.0,2078.1 1523.5,2076.7 1524.0,2073.4 1524.5,2069.9 1525.0,2068.1 1525.5,2066.3 1526.0,2063.1 1526.5,2062.1 1527.0,2063.8 1527.5,2066.5 1528.0,2070.0 1528.5,2072.6 1529.0,2075.2 1529.5,2077.6 1530.0,2079.3 1530.5,2080.6 1531.0,2081.1 1531.5,2082.4 1532.0,2083.7"/>
<polyline fill="none" stroke="#cc0000" stroke-width="3.3" stroke-linejoin="round" points="127.0,2037.0 127.5,2037.0 128.0,2037.1 128.5,2037.1 129.0,2037.2 129.5,2037.3 130.0,2037.3 130.5,2037.4 131.0,2037.4 131.5,2037.5 132.0,2037.5 132.5,2037.6 133.0,2037.6 133.5,2037.7 134.0,2037.7 134.5,2037.8 135.0,2037.8 135.5,2037.9 136.0,2037.9 136.5,2038.0 137.0,2038.1 137.5,2038.1 138.0,2038.2 138.5,2038.2 139.0,2038.3 139.5,2038.3 140.0,2038.4 140.5,2038.4 141.0,2038.5 141.5,2038.5 142.0,2038.6 142.5,2038.6 143.0,2038.7 143.5,2038.7 144.0,2038.8 144.5,2038.9 145.0,2038.9 145.5,2039.0 146.0,2039.0 146.5,2039.1 147.0,2039.1 147.5,2039.2 148.0,2039.2 148.5,2039.3 149.0,2039.3 149.5,2039.4 150.0,2039.4 150.5,2039.5 151.0,2039.5 151.5,2039.6 152.0,2039.7 152.5,2039.7 153.0,2039.8 153.5,2039.8 154.0,2039.9 154.5,2039.9 155.0,2040.0 155.5,2040.0 156.0,2040.1 156.5,2040.1 157.0,2040.2 157.5,2040.2 158.0,2040.3 158.5,2040.3 159.0,2040.4 159.5,2040.5 160.0,2040.5 160.5,2040.6 161.0,2040.6 161.5,2040.7 162.0,2040.7 162.5,2040.8 163.0,2040.8 163.5,2040.9 164.0,2040.9 164.5,2041.0 165.0,2041.0 165.5,2041.1 166.0,2041.1 166.5,2041.2 167.0,2041.3 167.5,2041.3 168.0,2041.4 168.5,2041.4 169.0,2041.5 169.5,2041.5 170.0,2041.6 170.5,2041.6 171.0,2041.7 171.5,2041.7 172.0,2041.8 172.5,2041.8 173.0,2041.9 173.5,2041.9 174.0,2042.0 174.5,2042.1 175.0,2042.2 175.5,2042.3 176.0,2042.4 176.5,2042.5 177.0,2042.6 177.5,2042.7 178.0,2042.7 178.5,2042.8 179.0,2042.9 179.5,2043.0 180.0,2043.1 180.5,2043.2 181.0,2043.3 181.5,2043.4 182.0,2043.5 182.5,2043.6 183.0,2043.7 183.5,2043.7 184.0,2043.8 184.5,2043.9 185.0,2044.0 185.5,2044.1 186.0,2044.2 186.5,2044.3 187.0,2044.4 187.5,2044.5 188.0,2044.6 188.5,2044.7 189.0,2044.8 189.5,2044.8 190.0,2044.9 190.5,2045.0 191.0,2045.1 191.5,2045.2 192.0,2045.3 192.5,2045.4 193.0,2045.5 193.5,2045.6 194.0,2045.7 194.5,2045.8 195.0,2045.9 195.5,2045.9 196.0,2046.0 196.5,2046.1 197.0,2046.2 197.5,2046.3 198.0,2046.4 198.5,2046.5 199.0,2046.6 199.5,2046.7 200.0,2046.8 200.5,2046.9 201.0,2046.9 201.5,2047.0 202.0,2047.1 202.5,2047.2 203.0,2047.3 203.5,2047.4 204.0,2047.5 204.5,2047.6 205.0,2047.7 205.5,2047.8 206.0,2047.9 206.5,2048.0 207.0,2048.0 207.5,2048.1 208.0,2048.2 208.5,2048.3 209.0,2048.4 209.5,2048.5 210.0,2048.6 210.5,2048.7 211.0,2048.8 211.5,2048.9 212.0,2049.0 212.5,2049.0 213.0,2049.1 213.5,2049.2 214.0,2049.3 214.5,2049.4 215.0,2049.5 215.5,2049.6 216.0,2049.7 216.5,2049.8 217.0,2049.9 217.5,2050.0 218.0,2050.0 218.5,2050.1 219.0,2050.2 219.5,2050.3 220.0,2050.4 220.5,2050.5 221.0,2050.6 221.5,2050.7 222.0,2050.8 222.5,2050.9 223.0,2051.0 223.5,2051.1 224.0,2051.1 224.5,2051.2 225.0,2051.3 225.5,2051.4 226.0,2051.5 226.5,2051.6 227.0,2051.7 227.5,2051.8 228.0,2051.9 228.5,2052.0 229.0,2052.1 229.5,2052.1 230.0,2052.2 230.5,2052.3 231.0,2052.4 231.5,2052.5 232.0,2052.6 232.5,2052.7 233.0,2052.8 233.5,2052.9 234.0,2053.0 234.5,2053.0 235.0,2053.1 235.5,2053.2 236.0,2053.3 236.5,2053.4 237.0,2053.5 237.5,2053.6 238.0,2053.7 238.5,2053.8 239.0,2053.9 239.5,2053.9 240.0,2054.0 240.5,2054.1 241.0,2054.2 241.5,2054.3 242.0,2054.4 242.5,2054.5 243.0,2054.6 243.5,2054.7 244.0,2054.7 244.5,2054.8 245.0,2054.9 245.5,2055.0 246.0,2055.1 246.5,2055.2 247.0,2055.2 247.5,2055.3 248.0,2055.4 248.5,2055.5 249.0,2055.5 249.5,2055.6 250.0,2055.6 250.5,2055.7 251.0,2055.7 251.5,2055.7 252.0,2055.6 252.5,2055.5 253.0,2055.1 253.5,2054.3 254.0,2053.1 254.5,2051.4 255.0,2049.6 255.5,2048.2 256.0,2048.1 256.5,2049.4 257.0,2051.4 257.5,2053.3 258.0,2054.8 258.5,2055.8 259.0,2056.4 259.5,2056.8 260.0,2057.0 260.5,2057.2 261.0,2057.3 261.5,2057.5 262.0,2057.6 262.5,2057.7 263.0,2057.8 263.5,2057.8 264.0,2057.9 264.5,2058.0 265.0,2058.1 265.5,2058.2 266.0,2058.2 266.5,2058.3 267.0,2058.4 267.5,2058.5 268.0,2058.5 268.5,2058.6 269.0,2058.7 269.5,2058.8 270.0,2058.8 270.5,2058.9 271.0,2059.0 271.5,2059.0 272.0,2059.1 272.5,2059.2 273.0,2059.2 273.5,2059.3 274.0,2059.4 274.5,2059.4 275.0,2059.5 275.5,2059.6 276.0,2059.7 276.5,2059.7 277.0,2059.8 277.5,2059.9 278.0,2059.9 278.5,2060.0 279.0,2060.1 279.5,2060.1 280.0,2060.2 280.5,2060.3 281.0,2060.3 281.5,2060.4 282.0,2060.5 282.5,2060.5 283.0,2060.6 283.5,2060.7 284.0,2060.7 284.5,2060.8 285.0,2060.9 285.5,2060.9 286.0,2061.0 286.5,2061.0 287.0,2061.1 287.5,2061.2 288.0,2061.2 288.5,2061.3 289.0,2061.4 289.5,2061.4 290.0,2061.5 290.5,2061.6 291.0,2061.6 291.5,2061.7 292.0,2061.7 292.5,2061.8 293.0,2061.9 293.5,2061.9 294.0,2062.0 294.5,2062.1 295.0,2062.1 295.5,2062.2 296.0,2062.2 296.5,2062.3 297.0,2062.3 297.5,2062.4 298.0,2062.4 298.5,2062.5 299.0,2062.6 299.5,2062.6 300.0,2062.7 300.5,2062.7 301.0,2062.7 301.5,2062.8 302.0,2062.8 302.5,2062.9 303.0,2062.9 303.5,2062.9 304.0,2062.9 304.5,2063.0 305.0,2063.0 305.5,2063.0 306.0,2063.0 306.5,2063.0 307.0,2062.9 307.5,2062.9 308.0,2062.8 308.5,2062.7 309.0,2062.6 309.5,2062.5 310.0,2062.3 310.5,2062.0 311.0,2061.7 311.5,2061.2 312.0,2060.5 312.5,2059.5 313.0,2057.7 313.5,2054.5 314.0,2048.7 314.5,2038.9 315.0,2024.1 315.5,2004.8 316.0,1984.8 316.5,1971.6 317.0,1973.2 317.5,1988.6 318.0,2009.1 318.5,2027.7 319.0,2041.7 319.5,2050.8 320.0,2056.1 320.5,2059.1 321.0,2060.8 321.5,2061.8 322.0,2062.6 322.5,2063.2 323.0,2063.6 323.5,2064.0 324.0,2064.3 324.5,2064.6 325.0,2064.8 325.5,2065.0 326.0,2065.2 326.5,2065.4 327.0,2065.5 327.5,2065.7 328.0,2065.8 328.5,2065.9 329.0,2066.0 329.5,2066.2 330.0,2066.3 330.5,2066.4 331.0,2066.4 331.5,2066.5 332.0,2066.6 332.5,2066.7 333.0,2066.8 333.5,2066.9 334.0,2066.9 334.5,2067.0 335.0,2067.1 335.5,2067.2 336.0,2067.2 336.5,2067.3 337.0,2067.4 337.5,2067.5 338.0,2067.5 338.5,2067.6 339.0,2067.7 339.5,2067.7 340.0,2067.8 340.5,2067.9 341.0,2067.9 341.5,2068.0 342.0,2068.1 342.5,2068.1 343.0,2068.2 343.5,2068.3 344.0,2068.3 344.5,2068.4 345.0,2068.4 345.5,2068.5 346.0,2068.6 346.5,2068.6 347.0,2068.7 347.5,2068.8 348.0,2068.8 348.5,2068.9 349.0,2068.9 349.5,2069.0 350.0,2069.1 350.5,2069.1 351.0,2069.2 351.5,2069.2 352.0,2069.3 352.5,2069.4 353.0,2069.4 353.5,2069.5 354.0,2069.5 354.5,2069.6 355.0,2069.7 355.5,2069.7 356.0,2069.8 356.5,2069.8 357.0,2069.9 357.5,2070.0 358.0,2070.0 358.5,2070.1 359.0,2070.1 359.5,2070.2 360.0,2070.2 360.5,2070.3 361.0,2070.4 361.5,2070.4 362.0,2070.5 362.5,2070.5 363.0,2070.6 363.5,2070.7 364.0,2070.7 364.5,2070.8 365.0,2070.8 365.5,2070.9 366.0,2070.9 366.5,2071.0 367.0,2071.0 367.5,2071.1 368.0,2071.2 368.5,2071.2 369.0,2071.3 369.5,2071.3 370.0,2071.4 370.5,2071.4 371.0,2071.5 371.5,2071.5 372.0,2071.6 372.5,2071.6 373.0,2071.7 373.5,2071.7 374.0,2071.8 374.5,2071.8 375.0,2071.9 375.5,2071.9 376.0,2072.0 376.5,2072.0 377.0,2072.1 377.5,2072.1 378.0,2072.2 378.5,2072.2 379.0,2072.3 379.5,2072.3 380.0,2072.4 380.5,2072.4 381.0,2072.4 381.5,2072.5 382.0,2072.5 382.5,2072.5 383.0,2072.6 383.5,2072.6 384.0,2072.6 384.5,2072.6 385.0,2072.6 385.5,2072.6 386.0,2072.6 386.5,2072.6 387.0,2072.6 387.5,2072.6 388.0,2072.5 388.5,2072.5 389.0,2072.4 389.5,2072.3 390.0,2072.2 390.5,2072.1 391.0,2071.9 391.5,2071.6 392.0,2071.3 392.5,2070.9 393.0,2070.4 393.5,2069.7 394.0,2068.8 394.5,2067.4 395.0,2065.2 395.5,2061.2 396.0,2053.4 396.5,2039.3 397.0,2016.3 397.5,1984.7 398.0,1950.4 398.5,1927.8 399.0,1932.5 399.5,1960.8 400.0,1995.5 400.5,2024.8 401.0,2045.0 401.5,2056.9 402.0,2063.4 402.5,2066.8 403.0,2068.8 403.5,2070.0 404.0,2071.0 404.5,2071.7 405.0,2072.3 405.5,2072.7 406.0,2073.1 406.5,2073.4 407.0,2073.7 407.5,2073.9 408.0,2074.1 408.5,2074.3 409.0,2074.5 409.5,2074.6 410.0,2074.8 410.5,2074.9 411.0,2075.0 411.5,2075.1 412.0,2075.2 412.5,2075.3 413.0,2075.4 413.5,2075.4 414.0,2075.5 414.5,2075.6 415.0,2075.6 415.5,2075.7 416.0,2075.8 416.5,2075.8 417.0,2075.9 417.5,2076.0 418.0,2076.0 418.5,2076.1 419.0,2076.1 419.5,2076.2 420.0,2076.2 420.5,2076.3 421.0,2076.3 421.5,2076.4 422.0,2076.4 422.5,2076.5 423.0,2076.5 423.5,2076.5 424.0,2076.6 424.5,2076.6 425.0,2076.7 425.5,2076.7 426.0,2076.8 426.5,2076.8 427.0,2076.8 427.5,2076.9 428.0,2076.9 428.5,2077.0 429.0,2077.0 429.5,2077.1 430.0,2077.1 430.5,2077.1 431.0,2077.2 431.5,2077.2 432.0,2077.2 432.5,2077.3 433.0,2077.3 433.5,2077.4 434.0,2077.4 434.5,2077.4 435.0,2077.5 435.5,2077.5 436.0,2077.6 436.5,2077.6 437.0,2077.6 437.5,2077.7 438.0,2077.7 438.5,2077.7 439.0,2077.8 439.5,2077.8 440.0,2077.9 440.5,2077.9 441.0,2077.9 441.5,2078.0 442.0,2078.0 442.5,2078.0 443.0,2078.1 443.5,2078.1 444.0,2078.1 444.5,2078.2 445.0,2078.2 445.5,2078.2 446.0,2078.3 446.5,2078.3 447.0,2078.3 447.5,2078.4 448.0,2078.4 448.5,2078.4 449.0,2078.5 449.5,2078.5 450.0,2078.5 450.5,2078.5 451.0,2078.6 451.5,2078.6 452.0,2078.6 452.5,2078.7 453.0,2078.7 453.5,2078.7 454.0,2078.7 454.5,2078.7 455.0,2078.7 455.5,2078.8 456.0,2078.8 456.5,2078.8 457.0,2078.8 457.5,2078.8 458.0,2078.8 458.5,2078.7 459.0,2078.7 459.5,2078.6 460.0,2078.6 460.5,2078.5 461.0,2078.3 461.5,2078.0 462.0,2077.6 462.5,2076.7 463.0,2075.2 463.5,2072.8 464.0,2069.4 464.5,2065.5 465.0,2062.2 465.5,2061.1 466.0,2062.9 466.5,2066.5 467.0,2070.1 467.5,2072.9 468.0,2074.6 468.5,2075.4 469.0,2075.2 469.5,2074.0 470.0,2071.1 470.5,2065.8 471.0,2057.7 471.5,2047.5 472.0,2038.1 472.5,2034.7 473.0,2040.0 473.5,2050.1 474.0,2060.1 474.5,2067.8 475.0,2072.7 475.5,2075.4 476.0,2076.9 476.5,2077.7 477.0,2078.2 477.5,2078.5 478.0,2078.8 478.5,2079.0 479.0,2079.1 479.5,2079.3 480.0,2079.4 480.5,2079.4 481.0,2079.5 481.5,2079.6 482.0,2079.6 482.5,2079.6 483.0,2079.6 483.5,2079.6 484.0,2079.6 484.5,2079.5 485.0,2079.4 485.5,2079.1 486.0,2078.6 486.5,2077.8 487.0,2076.4 487.5,2074.5 488.0,2072.3 488.5,2070.7 489.0,2070.4 489.5,2071.7 490.0,2073.8 490.5,2075.9 491.0,2077.5 491.5,2078.6 492.0,2079.3 492.5,2079.7 493.0,2079.9 493.5,2080.0 494.0,2080.1 494.5,2080.2 495.0,2080.2 495.5,2080.3 496.0,2080.3 496.5,2080.3 497.0,2080.4 497.5,2080.4 498.0,2080.4 498.5,2080.4 499.0,2080.4 499.5,2080.4 500.0,2080.4 500.5,2080.5 501.0,2080.4 501.5,2080.4 502.0,2080.4 502.5,2080.4 503.0,2080.4 503.5,2080.4 504.0,2080.3 504.5,2080.2 505.0,2080.2 505.5,2080.1 506.0,2079.9 506.5,2079.7 507.0,2079.4 507.5,2078.8 508.0,2077.8 508.5,2076.0 509.0,2073.0 509.5,2068.7 510.0,2063.2 510.5,2058.0 511.0,2055.1 511.5,2056.6 512.0,2061.3 512.5,2066.9 513.0,2071.8 513.5,2075.3 514.0,2077.5 514.5,2078.8 515.0,2079.5 515.5,2079.9 516.0,2080.1 516.5,2080.3 517.0,2080.5 517.5,2080.6 518.0,2080.7 518.5,2080.8 519.0,2080.8 519.5,2080.9 520.0,2081.0 520.5,2081.0 521.0,2081.1 521.5,2081.1 522.0,2081.1 522.5,2081.2 523.0,2081.2 523.5,2081.2 524.0,2081.2 524.5,2081.3 525.0,2081.3 525.5,2081.3 526.0,2081.3 526.5,2081.4 527.0,2081.4 527.5,2081.4 528.0,2081.4 528.5,2081.4 529.0,2081.4 529.5,2081.5 530.0,2081.5 530.5,2081.5 531.0,2081.5 531.5,2081.5 532.0,2081.5 532.5,2081.6 533.0,2081.6 533.5,2081.6 534.0,2081.6 534.5,2081.6 535.0,2081.6 535.5,2081.6 536.0,2081.7 536.5,2081.7 537.0,2081.7 537.5,2081.7 538.0,2081.7 538.5,2081.7 539.0,2081.7 539.5,2081.7 540.0,2081.8 540.5,2081.8 541.0,2081.8 541.5,2081.8 542.0,2081.8 542.5,2081.8 543.0,2081.8 543.5,2081.8 544.0,2081.8 544.5,2081.8 545.0,2081.8 545.5,2081.8 546.0,2081.8 546.5,2081.9 547.0,2081.9 547.5,2081.9 548.0,2081.9 548.5,2081.9 549.0,2081.9 549.5,2081.9 550.0,2081.9 550.5,2081.9 551.0,2081.9 551.5,2081.9 552.0,2081.9 552.5,2081.9 553.0,2081.9 553.5,2081.9 554.0,2081.9 554.5,2081.9 555.0,2081.9 555.5,2081.9 556.0,2081.9 556.5,2081.9 557.0,2081.9 557.5,2081.9 558.0,2081.9 558.5,2081.9 559.0,2081.9 559.5,2081.9 560.0,2081.9 560.5,2081.9 561.0,2081.9 561.5,2081.9 562.0,2081.9 562.5,2081.9 563.0,2081.9 563.5,2081.8 564.0,2081.8 564.5,2081.8 565.0,2081.8 565.5,2081.8 566.0,2081.8 566.5,2081.7 567.0,2081.7 567.5,2081.7 568.0,2081.7 568.5,2081.6 569.0,2081.6 569.5,2081.5 570.0,2081.5 570.5,2081.4 571.0,2081.4 571.5,2081.3 572.0,2081.2 572.5,2081.1 573.0,2081.0 573.5,2080.9 574.0,2080.8 574.5,2080.6 575.0,2080.4 575.5,2080.2 576.0,2079.9 576.5,2079.6 577.0,2079.1 577.5,2078.6 578.0,2078.0 578.5,2077.2 579.0,2076.1 579.5,2074.5 580.0,2071.9 580.5,2067.4 581.0,2058.6 581.5,2042.8 582.0,2016.9 582.5,1981.0 583.0,1941.7 583.5,1915.0 584.0,1919.1 584.5,1950.8 585.0,1990.3 585.5,2024.1 586.0,2047.4 586.5,2061.3 587.0,2068.8 587.5,2072.7 588.0,2075.0 588.5,2076.4 589.0,2077.5 589.5,2078.3 590.0,2078.9 590.5,2079.4 591.0,2079.8 591.5,2080.1 592.0,2080.4 592.5,2080.6 593.0,2080.8 593.5,2081.0 594.0,2081.1 594.5,2081.2 595.0,2081.3 595.5,2081.4 596.0,2081.5 596.5,2081.6 597.0,2081.6 597.5,2081.7 598.0,2081.7 598.5,2081.8 599.0,2081.8 599.5,2081.8 600.0,2081.9 600.5,2081.9 601.0,2081.9 601.5,2081.9 602.0,2081.9 602.5,2081.9 603.0,2081.9 603.5,2081.9 604.0,2081.9 604.5,2081.9 605.0,2081.9 605.5,2081.8 606.0,2081.8 606.5,2081.7 607.0,2081.7 607.5,2081.6 608.0,2081.5 608.5,2081.4 609.0,2081.3 609.5,2081.1 610.0,2080.9 610.5,2080.6 611.0,2080.3 611.5,2079.9 612.0,2079.3 612.5,2078.5 613.0,2077.0 613.5,2074.4 614.0,2069.3 614.5,2060.5 615.0,2047.1 615.5,2030.0 616.0,2013.9 616.5,2007.2 617.0,2015.0 617.5,2031.4 618.0,2048.2 618.5,2061.2 619.0,2069.5 619.5,2074.2 620.0,2076.6 620.5,2077.8 621.0,2078.5 621.5,2078.9 622.0,2079.1 622.5,2079.2 623.0,2079.1 623.5,2078.9 624.0,2078.5 624.5,2077.7 625.0,2076.2 625.5,2073.2 626.0,2067.6 626.5,2058.5 627.0,2045.9 627.5,2032.0 628.0,2022.6 628.5,2024.1 629.0,2035.3 629.5,2049.3 630.0,2061.2 630.5,2069.4 631.0,2074.2 631.5,2076.8 632.0,2078.1 632.5,2078.8 633.0,2079.3 633.5,2079.5 634.0,2079.7 634.5,2079.8 635.0,2079.8 635.5,2079.8 636.0,2079.7 636.5,2079.5 637.0,2079.3 637.5,2079.0 638.0,2078.6 638.5,2078.0 639.0,2077.3 639.5,2076.4 640.0,2075.1 640.5,2073.3 641.0,2070.4 641.5,2065.1 642.0,2053.9 642.5,2030.6 643.0,1988.4 643.5,1928.5 644.0,1870.8 644.5,1857.0 645.0,1899.3 645.5,1958.0 646.0,2003.1 646.5,2028.9 647.0,2042.6 647.5,2052.0 648.0,2060.0 648.5,2066.5 649.0,2071.3 649.5,2074.5 650.0,2076.5 650.5,2077.7 651.0,2078.6 651.5,2079.2 652.0,2079.6 652.5,2080.0 653.0,2080.3 653.5,2080.6 654.0,2080.8 654.5,2081.0 655.0,2081.1 655.5,2081.3 656.0,2081.4 656.5,2081.5 657.0,2081.6 657.5,2081.7 658.0,2081.7 658.5,2081.8 659.0,2081.8 659.5,2081.9 660.0,2081.9 660.5,2082.0 661.0,2082.0 661.5,2082.0 662.0,2082.1 662.5,2082.1 663.0,2082.1 663.5,2082.1 664.0,2082.1 664.5,2082.2 665.0,2082.2 665.5,2082.2 666.0,2082.2 666.5,2082.2 667.0,2082.2 667.5,2082.2 668.0,2082.2 668.5,2082.2 669.0,2082.2 669.5,2082.2 670.0,2082.2 670.5,2082.2 671.0,2082.2 671.5,2082.2 672.0,2082.2 672.5,2082.2 673.0,2082.1 673.5,2082.1 674.0,2082.1 674.5,2082.1 675.0,2082.1 675.5,2082.0 676.0,2082.0 676.5,2082.0 677.0,2081.9 677.5,2081.9 678.0,2081.9 678.5,2081.8 679.0,2081.8 679.5,2081.7 680.0,2081.6 680.5,2081.5 681.0,2081.4 681.5,2081.3 682.0,2081.2 682.5,2081.0 683.0,2080.8 683.5,2080.6 684.0,2080.3 684.5,2079.9 685.0,2079.3 685.5,2078.4 686.0,2076.7 686.5,2073.6 687.0,2068.1 687.5,2059.3 688.0,2047.8 688.5,2036.0 689.0,2029.5 689.5,2032.9 690.0,2043.5 690.5,2055.4 691.0,2064.9 691.5,2071.2 692.0,2074.7 692.5,2076.5 693.0,2077.3 693.5,2077.7 694.0,2077.8 694.5,2077.7 695.0,2077.5 695.5,2077.2 696.0,2076.7 696.5,2076.0 697.0,2075.1 697.5,2073.8 698.0,2071.9 698.5,2069.2 699.0,2064.4 699.5,2053.4 700.0,2026.0 700.5,1969.4 701.0,1889.7 701.5,1844.0 702.0,1889.1 702.5,1965.4 703.0,2017.4 703.5,2039.3 704.0,2043.2 704.5,2036.7 705.0,2014.8 705.5,1953.8 706.0,1815.6 706.5,1596.5 707.0,1420.8 707.5,1496.1 708.0,1719.2 708.5,1891.7 709.0,1968.6 709.5,1985.1 710.0,1991.0 710.5,2012.2 711.0,2033.9 711.5,2043.3 712.0,2041.6 712.5,2039.9 713.0,2048.3 713.5,2060.3 714.0,2068.8 714.5,2073.3 715.0,2075.4 715.5,2076.6 716.0,2077.5 716.5,2078.2 717.0,2078.7 717.5,2079.1 718.0,2079.5 718.5,2079.8 719.0,2080.1 719.5,2080.3 720.0,2080.5 720.5,2080.7 721.0,2080.8 721.5,2081.0 722.0,2081.1 722.5,2081.2 723.0,2081.3 723.5,2081.4 724.0,2081.5 724.5,2081.5 725.0,2081.6 725.5,2081.7 726.0,2081.7 726.5,2081.8 727.0,2081.8 727.5,2081.8 728.0,2081.9 728.5,2081.9 729.0,2081.9 729.5,2081.9 730.0,2082.0 730.5,2082.0 731.0,2082.0 731.5,2082.0 732.0,2082.0 732.5,2082.0 733.0,2082.0 733.5,2082.0 734.0,2082.0 734.5,2081.9 735.0,2081.9 735.5,2081.9 736.0,2081.8 736.5,2081.8 737.0,2081.7 737.5,2081.6 738.0,2081.5 738.5,2081.3 739.0,2081.1 739.5,2080.9 740.0,2080.6 740.5,2080.2 741.0,2079.6 741.5,2078.7 742.0,2077.1 742.5,2074.0 743.0,2068.3 743.5,2058.8 744.0,2045.1 744.5,2029.3 745.0,2017.0 745.5,2015.9 746.0,2027.0 746.5,2042.8 747.0,2057.0 747.5,2067.1 748.0,2073.3 748.5,2076.7 749.0,2078.5 749.5,2079.5 750.0,2080.1 750.5,2080.5 751.0,2080.8 751.5,2081.0 752.0,2081.2 752.5,2081.3 753.0,2081.4 753.5,2081.5 754.0,2081.5 754.5,2081.5 755.0,2081.5 755.5,2081.5 756.0,2081.4 756.5,2081.3 757.0,2081.1 757.5,2080.8 758.0,2080.5 758.5,2079.9 759.0,2078.9 759.5,2077.0 760.0,2073.5 760.5,2067.3 761.0,2058.2 761.5,2047.1 762.0,2037.5 762.5,2034.9 763.0,2041.4 763.5,2052.3 764.0,2062.8 764.5,2070.6 765.0,2075.4 765.5,2078.1 766.0,2079.5 766.5,2080.3 767.0,2080.8 767.5,2081.1 768.0,2081.3 768.5,2081.5 769.0,2081.6 769.5,2081.7 770.0,2081.8 770.5,2081.9 771.0,2081.9 771.5,2081.9 772.0,2081.9 772.5,2081.9 773.0,2081.9 773.5,2081.9 774.0,2081.9 774.5,2081.8 775.0,2081.7 775.5,2081.7 776.0,2081.6 776.5,2081.5 777.0,2081.4 777.5,2081.2 778.0,2081.0 778.5,2080.8 779.0,2080.5 779.5,2080.2 780.0,2079.8 780.5,2079.4 781.0,2078.8 781.5,2078.0 782.0,2076.9 782.5,2075.5 783.0,2073.4 783.5,2069.7 784.0,2062.2 784.5,2046.1 785.0,2015.4 785.5,1967.9 786.0,1914.7 786.5,1887.8 787.0,1913.1 787.5,1965.8 788.0,2013.4 788.5,2044.3 789.0,2060.4 789.5,2067.7 790.0,2071.0 790.5,2072.7 791.0,2073.5 791.5,2073.8 792.0,2073.6 792.5,2073.1 793.0,2072.0 793.5,2070.2 794.0,2067.3 794.5,2062.0 795.0,2050.7 795.5,2026.4 796.0,1979.6 796.5,1906.7 797.0,1824.5 797.5,1782.1 798.0,1820.4 798.5,1902.0 799.0,1976.1 799.5,2024.5 800.0,2049.9 800.5,2061.7 801.0,2067.0 801.5,2069.1 802.0,2068.4 802.5,2063.6 803.0,2054.8 803.5,2047.9 804.0,2052.3 804.5,2063.0 805.0,2071.5 805.5,2075.9 806.0,2077.8 806.5,2078.6 807.0,2079.0 807.5,2079.2 808.0,2079.3 808.5,2079.2 809.0,2079.0 809.5,2078.5 810.0,2077.8 810.5,2076.3 811.0,2073.3 811.5,2067.7 812.0,2057.9 812.5,2043.2 813.0,2025.1 813.5,2009.0 814.0,2004.1 814.5,2014.2 815.0,2032.1 815.5,2049.5 816.0,2062.6 816.5,2070.9 817.0,2075.5 817.5,2077.9 818.0,2079.3 818.5,2080.1 819.0,2080.7 819.5,2081.1 820.0,2081.5 820.5,2081.8 821.0,2082.0 821.5,2082.2 822.0,2082.3 822.5,2082.5 823.0,2082.6 823.5,2082.7 824.0,2082.8 824.5,2082.9 825.0,2082.9 825.5,2083.0 826.0,2083.1 826.5,2083.1 827.0,2083.2 827.5,2083.2 828.0,2083.2 828.5,2083.3 829.0,2083.3 829.5,2083.3 830.0,2083.4 830.5,2083.4 831.0,2083.4 831.5,2083.5 832.0,2083.5 832.5,2083.5 833.0,2083.5 833.5,2083.5 834.0,2083.6 834.5,2083.6 835.0,2083.6 835.5,2083.6 836.0,2083.6 836.5,2083.7 837.0,2083.7 837.5,2083.7 838.0,2083.7 838.5,2083.7 839.0,2083.7 839.5,2083.7 840.0,2083.8 840.5,2083.8 841.0,2083.8 841.5,2083.8 842.0,2083.8 842.5,2083.8 843.0,2083.8 843.5,2083.8 844.0,2083.8 844.5,2083.9 845.0,2083.9 845.5,2083.9 846.0,2083.9 846.5,2083.9 847.0,2083.9 847.5,2083.9 848.0,2083.9 848.5,2083.9 849.0,2083.9 849.5,2083.9 850.0,2083.9 850.5,2083.9 851.0,2083.9 851.5,2083.9 852.0,2083.9 852.5,2083.9 853.0,2083.9 853.5,2083.9 854.0,2083.9 854.5,2083.9 855.0,2083.9 855.5,2083.8 856.0,2083.8 856.5,2083.8 857.0,2083.7 857.5,2083.6 858.0,2083.5 858.5,2083.3 859.0,2082.9 859.5,2082.3 860.0,2081.4 860.5,2080.1 861.0,2078.5 861.5,2076.8 862.0,2075.5 862.5,2075.2 863.0,2076.0 863.5,2077.6 864.0,2079.3 864.5,2080.7 865.0,2081.9 865.5,2082.7 866.0,2083.2 866.5,2083.5 867.0,2083.7 867.5,2083.8 868.0,2083.9 868.5,2083.9 869.0,2084.0 869.5,2084.0 870.0,2084.1 870.5,2084.1 871.0,2084.1 871.5,2084.1 872.0,2084.1 872.5,2084.2 873.0,2084.2 873.5,2084.2 874.0,2084.2 874.5,2084.2 875.0,2084.2 875.5,2084.2 876.0,2084.2 876.5,2084.2 877.0,2084.2 877.5,2084.1 878.0,2084.1 878.5,2084.1 879.0,2084.1 879.5,2084.0 880.0,2083.9 880.5,2083.8 881.0,2083.6 881.5,2083.3 882.0,2082.8 882.5,2082.1 883.0,2081.1 883.5,2079.8 884.0,2078.5 884.5,2077.5 885.0,2077.2 885.5,2077.9 886.0,2079.0 886.5,2080.3 887.0,2081.4 887.5,2082.2 888.0,2082.7 888.5,2082.9 889.0,2082.9 889.5,2082.7 890.0,2082.2 890.5,2081.3 891.0,2079.6 891.5,2077.1 892.0,2073.7 892.5,2069.7 893.0,2066.2 893.5,2064.5 894.0,2065.8 894.5,2069.2 895.0,2073.2 895.5,2076.8 896.0,2079.5 896.5,2081.4 897.0,2082.5 897.5,2083.1 898.0,2083.5 898.5,2083.7 899.0,2083.9 899.5,2084.0 900.0,2084.1 900.5,2084.2 901.0,2084.3 901.5,2084.3 902.0,2084.4 902.5,2084.4 903.0,2084.4 903.5,2084.5 904.0,2084.5 904.5,2084.5 905.0,2084.5 905.5,2084.5 906.0,2084.6 906.5,2084.6 907.0,2084.6 907.5,2084.6 908.0,2084.6 908.5,2084.6 909.0,2084.6 909.5,2084.6 910.0,2084.6 910.5,2084.6 911.0,2084.6 911.5,2084.5 912.0,2084.5 912.5,2084.5 913.0,2084.4 913.5,2084.3 914.0,2084.1 914.5,2083.8 915.0,2083.4 915.5,2082.6 916.0,2081.6 916.5,2080.4 917.0,2079.1 917.5,2078.1 918.0,2077.8 918.5,2078.5 919.0,2079.6 919.5,2080.9 920.0,2082.1 920.5,2083.0 921.0,2083.6 921.5,2084.0 922.0,2084.2 922.5,2084.4 923.0,2084.4 923.5,2084.5 924.0,2084.5 924.5,2084.6 925.0,2084.6 925.5,2084.6 926.0,2084.6 926.5,2084.6 927.0,2084.5 927.5,2084.5 928.0,2084.5 928.5,2084.4 929.0,2084.4 929.5,2084.3 930.0,2084.2 930.5,2084.1 931.0,2084.0 931.5,2083.8 932.0,2083.5 932.5,2083.0 933.0,2082.2 933.5,2080.8 934.0,2078.4 934.5,2075.0 935.0,2070.6 935.5,2065.8 936.0,2062.0 936.5,2060.9 937.0,2063.3 937.5,2067.7 938.0,2072.4 938.5,2076.4 939.0,2079.3 939.5,2081.2 940.0,2082.3 940.5,2082.9 941.0,2083.2 941.5,2083.3 942.0,2083.4 942.5,2083.4 943.0,2083.4 943.5,2083.3 944.0,2083.1 944.5,2082.9 945.0,2082.5 945.5,2082.1 946.0,2081.4 946.5,2080.3 947.0,2078.3 947.5,2074.4 948.0,2067.3 948.5,2055.7 949.0,2039.4 949.5,2021.3 950.0,2008.6 950.5,2009.8 951.0,2023.9 951.5,2042.1 952.0,2057.8 952.5,2068.7 953.0,2075.2 953.5,2078.8 954.0,2080.6 954.5,2081.7 955.0,2082.4 955.5,2082.8 956.0,2083.2 956.5,2083.5 957.0,2083.7 957.5,2083.9 958.0,2084.0 958.5,2084.1 959.0,2084.2 959.5,2084.3 960.0,2084.4 960.5,2084.4 961.0,2084.5 961.5,2084.5 962.0,2084.5 962.5,2084.5 963.0,2084.5 963.5,2084.5 964.0,2084.5 964.5,2084.5 965.0,2084.4 965.5,2084.4 966.0,2084.3 966.5,2084.2 967.0,2084.1 967.5,2084.0 968.0,2083.8 968.5,2083.6 969.0,2083.2 969.5,2082.6 970.0,2081.7 970.5,2080.0 971.0,2077.1 971.5,2072.7 972.0,2066.6 972.5,2059.3 973.0,2052.4 973.5,2048.4 974.0,2049.7 974.5,2055.4 975.0,2062.8 975.5,2069.7 976.0,2075.0 976.5,2078.7 977.0,2080.9 977.5,2082.3 978.0,2083.0 978.5,2083.5 979.0,2083.8 979.5,2084.0 980.0,2084.2 980.5,2084.3 981.0,2084.5 981.5,2084.5 982.0,2084.6 982.5,2084.7 983.0,2084.7 983.5,2084.8 984.0,2084.8 984.5,2084.9 985.0,2084.9 985.5,2084.9 986.0,2084.9 986.5,2085.0 987.0,2085.0 987.5,2085.0 988.0,2085.0 988.5,2085.0 989.0,2085.0 989.5,2085.0 990.0,2085.0 990.5,2085.0 991.0,2085.0 991.5,2085.0 992.0,2085.0 992.5,2085.0 993.0,2085.0 993.5,2085.0 994.0,2085.0 994.5,2085.0 995.0,2085.0 995.5,2085.0 996.0,2085.0 996.5,2085.0 997.0,2085.0 997.5,2085.0 998.0,2084.9 998.5,2084.9 999.0,2084.9 999.5,2084.9 1000.0,2084.8 1000.5,2084.8 1001.0,2084.8 1001.5,2084.7 1002.0,2084.7 1002.5,2084.6 1003.0,2084.6 1003.5,2084.5 1004.0,2084.4 1004.5,2084.3 1005.0,2084.2 1005.5,2084.0 1006.0,2083.8 1006.5,2083.6 1007.0,2083.2 1007.5,2082.7 1008.0,2081.9 1008.5,2080.5 1009.0,2078.1 1009.5,2074.2 1010.0,2068.6 1010.5,2061.6 1011.0,2054.2 1011.5,2048.9 1012.0,2048.2 1012.5,2052.6 1013.0,2059.7 1013.5,2066.8 1014.0,2072.7 1014.5,2076.8 1015.0,2079.4 1015.5,2080.9 1016.0,2081.7 1016.5,2082.1 1017.0,2082.3 1017.5,2082.4 1018.0,2082.3 1018.5,2082.2 1019.0,2081.9 1019.5,2081.5 1020.0,2080.9 1020.5,2079.9 1021.0,2078.0 1021.5,2074.7 1022.0,2068.8 1022.5,2059.3 1023.0,2046.1 1023.5,2030.4 1024.0,2016.6 1024.5,2011.5 1025.0,2018.6 1025.5,2033.1 1026.0,2048.5 1026.5,2061.0 1027.0,2069.7 1027.5,2074.9 1028.0,2077.7 1028.5,2079.2 1029.0,2079.9 1029.5,2080.2 1030.0,2080.1 1030.5,2079.6 1031.0,2078.5 1031.5,2076.2 1032.0,2071.8 1032.5,2064.7 1033.0,2054.3 1033.5,2041.6 1034.0,2029.9 1034.5,2024.5 1035.0,2029.1 1035.5,2040.6 1036.0,2053.5 1036.5,2064.4 1037.0,2072.1 1037.5,2076.8 1038.0,2079.6 1038.5,2081.1 1039.0,2082.0 1039.5,2082.5 1040.0,2082.9 1040.5,2083.3 1041.0,2083.5 1041.5,2083.7 1042.0,2083.9 1042.5,2084.0 1043.0,2084.1 1043.5,2084.2 1044.0,2084.3 1044.5,2084.3 1045.0,2084.4 1045.5,2084.4 1046.0,2084.5 1046.5,2084.5 1047.0,2084.5 1047.5,2084.5 1048.0,2084.6 1048.5,2084.6 1049.0,2084.6 1049.5,2084.6 1050.0,2084.6 1050.5,2084.6 1051.0,2084.5 1051.5,2084.5 1052.0,2084.5 1052.5,2084.5 1053.0,2084.4 1053.5,2084.4 1054.0,2084.3 1054.5,2084.3 1055.0,2084.2 1055.5,2084.1 1056.0,2084.0 1056.5,2083.8 1057.0,2083.7 1057.5,2083.5 1058.0,2083.2 1058.5,2082.9 1059.0,2082.6 1059.5,2082.0 1060.0,2081.3 1060.5,2080.2 1061.0,2078.2 1061.5,2074.5 1062.0,2067.6 1062.5,2056.2 1063.0,2039.9 1063.5,2021.3 1064.0,2007.1 1064.5,2006.5 1065.0,2019.9 1065.5,2038.4 1066.0,2054.9 1066.5,2066.6 1067.0,2073.6 1067.5,2077.4 1068.0,2079.4 1068.5,2080.4 1069.0,2081.0 1069.5,2081.3 1070.0,2081.4 1070.5,2081.5 1071.0,2081.4 1071.5,2081.1 1072.0,2080.8 1072.5,2080.2 1073.0,2079.2 1073.5,2077.6 1074.0,2074.7 1074.5,2068.9 1075.0,2058.4 1075.5,2041.4 1076.0,2018.3 1076.5,1993.5 1077.0,1977.8 1077.5,1982.2 1078.0,2003.2 1078.5,2028.3 1079.0,2049.3 1079.5,2063.6 1080.0,2072.0 1080.5,2076.5 1081.0,2078.9 1081.5,2080.3 1082.0,2081.2 1082.5,2081.8 1083.0,2082.3 1083.5,2082.7 1084.0,2083.0 1084.5,2083.3 1085.0,2083.5 1085.5,2083.6 1086.0,2083.8 1086.5,2083.9 1087.0,2084.0 1087.5,2084.0 1088.0,2084.1 1088.5,2084.2 1089.0,2084.2 1089.5,2084.2 1090.0,2084.2 1090.5,2084.2 1091.0,2084.2 1091.5,2084.2 1092.0,2084.2 1092.5,2084.2 1093.0,2084.2 1093.5,2084.1 1094.0,2084.0 1094.5,2084.0 1095.0,2083.9 1095.5,2083.7 1096.0,2083.6 1096.5,2083.4 1097.0,2083.2 1097.5,2082.9 1098.0,2082.5 1098.5,2081.9 1099.0,2081.1 1099.5,2079.8 1100.0,2077.5 1100.5,2073.6 1101.0,2067.3 1101.5,2058.0 1102.0,2046.0 1102.5,2033.0 1103.0,2022.7 1103.5,2020.2 1104.0,2026.9 1104.5,2039.1 1105.0,2051.9 1105.5,2062.7 1106.0,2070.5 1106.5,2075.5 1107.0,2078.5 1107.5,2080.2 1108.0,2081.2 1108.5,2081.7 1109.0,2082.1 1109.5,2082.3 1110.0,2082.4 1110.5,2082.5 1111.0,2082.4 1111.5,2082.3 1112.0,2082.0 1112.5,2081.4 1113.0,2080.4 1113.5,2078.6 1114.0,2075.4 1114.5,2070.4 1115.0,2063.2 1115.5,2054.4 1116.0,2045.5 1116.5,2039.6 1117.0,2039.9 1117.5,2046.3 1118.0,2055.3 1118.5,2064.1 1119.0,2071.2 1119.5,2076.1 1120.0,2079.3 1120.5,2081.1 1121.0,2082.2 1121.5,2082.8 1122.0,2083.2 1122.5,2083.5 1123.0,2083.8 1123.5,2083.9 1124.0,2084.1 1124.5,2084.2 1125.0,2084.3 1125.5,2084.4 1126.0,2084.5 1126.5,2084.6 1127.0,2084.6 1127.5,2084.7 1128.0,2084.7 1128.5,2084.7 1129.0,2084.8 1129.5,2084.8 1130.0,2084.8 1130.5,2084.8 1131.0,2084.9 1131.5,2084.9 1132.0,2084.9 1132.5,2084.9 1133.0,2084.9 1133.5,2084.9 1134.0,2084.9 1134.5,2084.9 1135.0,2084.9 1135.5,2084.9 1136.0,2084.9 1136.5,2084.9 1137.0,2084.9 1137.5,2084.9 1138.0,2084.9 1138.5,2084.9 1139.0,2084.9 1139.5,2084.9 1140.0,2084.9 1140.5,2084.9 1141.0,2084.8 1141.5,2084.8 1142.0,2084.8 1142.5,2084.8 1143.0,2084.7 1143.5,2084.7 1144.0,2084.7 1144.5,2084.6 1145.0,2084.5 1145.5,2084.5 1146.0,2084.4 1146.5,2084.3 1147.0,2084.2 1147.5,2084.0 1148.0,2083.8 1148.5,2083.6 1149.0,2083.2 1149.5,2082.7 1150.0,2081.8 1150.5,2080.3 1151.0,2077.7 1151.5,2073.6 1152.0,2067.8 1152.5,2060.7 1153.0,2053.5 1153.5,2048.7 1154.0,2048.8 1154.5,2053.9 1155.0,2061.1 1155.5,2068.2 1156.0,2073.9 1156.5,2077.8 1157.0,2080.3 1157.5,2081.8 1158.0,2082.6 1158.5,2083.1 1159.0,2083.5 1159.5,2083.7 1160.0,2083.8 1160.5,2084.0 1161.0,2084.1 1161.5,2084.2 1162.0,2084.2 1162.5,2084.3 1163.0,2084.3 1163.5,2084.3 1164.0,2084.4 1164.5,2084.4 1165.0,2084.4 1165.5,2084.4 1166.0,2084.4 1166.5,2084.4 1167.0,2084.4 1167.5,2084.4 1168.0,2084.3 1168.5,2084.3 1169.0,2084.3 1169.5,2084.3 1170.0,2084.2 1170.5,2084.2 1171.0,2084.2 1171.5,2084.1 1172.0,2084.1 1172.5,2084.0 1173.0,2083.9 1173.5,2083.8 1174.0,2083.7 1174.5,2083.6 1175.0,2083.5 1175.5,2083.4 1176.0,2083.2 1176.5,2083.0 1177.0,2082.7 1177.5,2082.4 1178.0,2082.0 1178.5,2081.2 1179.0,2079.9 1179.5,2077.1 1180.0,2072.3 1180.5,2065.4 1181.0,2058.6 1181.5,2056.5 1182.0,2060.7 1182.5,2066.9 1183.0,2071.6 1183.5,2073.7 1184.0,2073.4 1184.5,2070.5 1185.0,2064.1 1185.5,2052.0 1186.0,2032.2 1186.5,2004.6 1187.0,1974.3 1187.5,1953.4 1188.0,1955.8 1188.5,1979.0 1189.0,2007.5 1189.5,2029.7 1190.0,2040.0 1190.5,2036.5 1191.0,2021.5 1191.5,2003.4 1192.0,1998.1 1192.5,2013.2 1193.0,2036.0 1193.5,2055.0 1194.0,2066.8 1194.5,2072.9 1195.0,2075.7 1195.5,2077.2 1196.0,2078.0 1196.5,2078.5 1197.0,2078.9 1197.5,2079.0 1198.0,2079.1 1198.5,2079.2 1199.0,2079.1 1199.5,2079.0 1200.0,2078.8 1200.5,2078.5 1201.0,2078.2 1201.5,2077.9 1202.0,2077.5 1202.5,2077.0 1203.0,2076.4 1203.5,2075.7 1204.0,2074.9 1204.5,2073.8 1205.0,2072.2 1205.5,2069.8 1206.0,2065.9 1206.5,2060.0 1207.0,2051.8 1207.5,2041.7 1208.0,2031.3 1208.5,2023.8 1209.0,2022.9 1209.5,2028.6 1210.0,2037.7 1210.5,2046.6 1211.0,2053.7 1211.5,2058.4 1212.0,2060.9 1212.5,2061.8 1213.0,2061.6 1213.5,2060.4 1214.0,2058.5 1214.5,2056.2 1215.0,2054.1 1215.5,2052.8 1216.0,2053.0 1216.5,2054.4 1217.0,2056.0 1217.5,2057.6 1218.0,2058.7 1218.5,2059.5 1219.0,2059.9 1219.5,2060.2 1220.0,2060.4 1220.5,2060.6 1221.0,2060.8 1221.5,2061.1 1222.0,2061.4 1222.5,2061.8 1223.0,2062.2 1223.5,2062.7 1224.0,2063.2 1224.5,2063.8 1225.0,2064.4 1225.5,2065.0 1226.0,2065.6 1226.5,2066.3 1227.0,2067.0 1227.5,2067.6 1228.0,2068.3 1228.5,2069.0 1229.0,2069.7 1229.5,2070.4 1230.0,2071.1 1230.5,2071.8 1231.0,2072.4 1231.5,2073.1 1232.0,2073.7 1232.5,2074.3 1233.0,2074.9 1233.5,2075.5 1234.0,2076.0 1234.5,2076.5 1235.0,2077.1 1235.5,2077.5 1236.0,2078.0 1236.5,2078.4 1237.0,2078.8 1237.5,2079.2 1238.0,2079.6 1238.5,2080.0 1239.0,2080.3 1239.5,2080.6 1240.0,2080.9 1240.5,2081.1 1241.0,2081.4 1241.5,2081.6 1242.0,2081.8 1242.5,2082.0 1243.0,2082.2 1243.5,2082.3 1244.0,2082.5 1244.5,2082.6 1245.0,2082.7 1245.5,2082.8 1246.0,2082.9 1246.5,2082.9 1247.0,2083.0 1247.5,2082.9 1248.0,2082.8 1248.5,2082.6 1249.0,2082.3 1249.5,2081.8 1250.0,2081.1 1250.5,2080.3 1251.0,2079.4 1251.5,2078.6 1252.0,2078.0 1252.5,2077.9 1253.0,2078.3 1253.5,2079.1 1254.0,2080.0 1254.5,2080.8 1255.0,2081.5 1255.5,2081.9 1256.0,2082.1 1256.5,2081.9 1257.0,2081.3 1257.5,2080.3 1258.0,2078.8 1258.5,2076.8 1259.0,2074.8 1259.5,2073.0 1260.0,2072.2 1260.5,2072.7 1261.0,2074.3 1261.5,2076.4 1262.0,2078.3 1262.5,2080.0 1263.0,2081.1 1263.5,2081.8 1264.0,2082.0 1264.5,2081.7 1265.0,2081.0 1265.5,2079.7 1266.0,2077.9 1266.5,2075.7 1267.0,2073.3 1267.5,2071.3 1268.0,2070.5 1268.5,2071.2 1269.0,2073.2 1269.5,2075.6 1270.0,2078.0 1270.5,2079.9 1271.0,2081.3 1271.5,2082.3 1272.0,2082.9 1272.5,2083.2 1273.0,2083.4 1273.5,2083.4 1274.0,2083.3 1274.5,2083.2 1275.0,2082.8 1275.5,2082.2 1276.0,2081.1 1276.5,2079.2 1277.0,2076.1 1277.5,2071.7 1278.0,2066.2 1278.5,2060.5 1279.0,2056.6 1279.5,2056.5 1280.0,2060.3 1280.5,2066.0 1281.0,2071.6 1281.5,2076.2 1282.0,2079.4 1282.5,2081.4 1283.0,2082.6 1283.5,2083.3 1284.0,2083.7 1284.5,2084.0 1285.0,2084.2 1285.5,2084.4 1286.0,2084.5 1286.5,2084.6 1287.0,2084.7 1287.5,2084.7 1288.0,2084.8 1288.5,2084.9 1289.0,2084.9 1289.5,2084.9 1290.0,2085.0 1290.5,2085.0 1291.0,2085.0 1291.5,2085.0 1292.0,2085.0 1292.5,2085.0 1293.0,2085.0 1293.5,2085.0 1294.0,2084.9 1294.5,2084.8 1295.0,2084.7 1295.5,2084.6 1296.0,2084.5 1296.5,2084.3 1297.0,2084.1 1297.5,2083.9 1298.0,2083.7 1298.5,2083.5 1299.0,2083.4 1299.5,2083.4 1300.0,2083.4 1300.5,2083.6 1301.0,2083.8 1301.5,2084.0 1302.0,2084.2 1302.5,2084.5 1303.0,2084.6 1303.5,2084.8 1304.0,2084.9 1304.5,2085.1 1305.0,2085.1 1305.5,2085.2 1306.0,2085.2 1306.5,2085.3 1307.0,2085.3 1307.5,2085.3 1308.0,2085.3 1308.5,2085.4 1309.0,2085.4 1309.5,2085.4 1310.0,2085.4 1310.5,2085.4 1311.0,2085.4 1311.5,2085.4 1312.0,2085.4 1312.5,2085.4 1313.0,2085.4 1313.5,2085.4 1314.0,2085.4 1314.5,2085.4 1315.0,2085.4 1315.5,2085.4 1316.0,2085.4 1316.5,2085.4 1317.0,2085.4 1317.5,2085.4 1318.0,2085.4 1318.5,2085.4 1319.0,2085.4 1319.5,2085.4 1320.0,2085.4 1320.5,2085.4 1321.0,2085.4 1321.5,2085.4 1322.0,2085.4 1322.5,2085.4 1323.0,2085.4 1323.5,2085.4 1324.0,2085.4 1324.5,2085.4 1325.0,2085.4 1325.5,2085.4 1326.0,2085.4 1326.5,2085.4 1327.0,2085.4 1327.5,2085.4 1328.0,2085.4 1328.5,2085.4 1329.0,2085.4 1329.5,2085.4 1330.0,2085.3 1330.5,2085.3 1331.0,2085.3 1331.5,2085.3 1332.0,2085.3 1332.5,2085.3 1333.0,2085.2 1333.5,2085.2 1334.0,2085.2 1334.5,2085.2 1335.0,2085.1 1335.5,2085.1 1336.0,2085.1 1336.5,2085.0 1337.0,2085.0 1337.5,2084.9 1338.0,2084.8 1338.5,2084.8 1339.0,2084.7 1339.5,2084.6 1340.0,2084.4 1340.5,2084.3 1341.0,2084.1 1341.5,2083.8 1342.0,2083.4 1342.5,2082.9 1343.0,2082.0 1343.5,2080.6 1344.0,2078.3 1344.5,2074.7 1345.0,2069.8 1345.5,2063.6 1346.0,2057.0 1346.5,2051.6 1347.0,2049.7 1347.5,2052.3 1348.0,2057.8 1348.5,2064.1 1349.0,2069.7 1349.5,2073.9 1350.0,2076.3 1350.5,2077.0 1351.0,2076.1 1351.5,2073.7 1352.0,2069.9 1352.5,2065.2 1353.0,2060.6 1353.5,2057.6 1354.0,2057.7 1354.5,2061.0 1355.0,2065.9 1355.5,2070.9 1356.0,2075.1 1356.5,2078.1 1357.0,2080.2 1357.5,2081.4 1358.0,2082.0 1358.5,2082.3 1359.0,2082.4 1359.5,2082.3 1360.0,2081.9 1360.5,2081.3 1361.0,2080.1 1361.5,2078.0 1362.0,2074.6 1362.5,2069.4 1363.0,2062.5 1363.5,2054.2 1364.0,2046.2 1364.5,2041.0 1365.0,2041.0 1365.5,2046.4 1366.0,2054.5 1366.5,2062.8 1367.0,2069.8 1367.5,2075.0 1368.0,2078.6 1368.5,2080.8 1369.0,2082.1 1369.5,2082.9 1370.0,2083.4 1370.5,2083.7 1371.0,2084.0 1371.5,2084.2 1372.0,2084.4 1372.5,2084.5 1373.0,2084.7 1373.5,2084.8 1374.0,2084.8 1374.5,2084.9 1375.0,2085.0 1375.5,2085.0 1376.0,2085.1 1376.5,2085.1 1377.0,2085.2 1377.5,2085.2 1378.0,2085.2 1378.5,2085.2 1379.0,2085.3 1379.5,2085.3 1380.0,2085.3 1380.5,2085.3 1381.0,2085.3 1381.5,2085.3 1382.0,2085.4 1382.5,2085.4 1383.0,2085.4 1383.5,2085.4 1384.0,2085.4 1384.5,2085.4 1385.0,2085.4 1385.5,2085.4 1386.0,2085.4 1386.5,2085.4 1387.0,2085.3 1387.5,2085.3 1388.0,2085.3 1388.5,2085.3 1389.0,2085.3 1389.5,2085.2 1390.0,2085.2 1390.5,2085.2 1391.0,2085.1 1391.5,2085.1 1392.0,2085.0 1392.5,2084.9 1393.0,2084.8 1393.5,2084.7 1394.0,2084.5 1394.5,2084.2 1395.0,2083.8 1395.5,2083.2 1396.0,2082.0 1396.5,2080.2 1397.0,2077.4 1397.5,2073.6 1398.0,2068.8 1398.5,2063.8 1399.0,2059.9 1399.5,2058.8 1400.0,2061.1 1400.5,2065.6 1401.0,2070.6 1401.5,2075.1 1402.0,2078.6 1402.5,2081.0 1403.0,2082.5 1403.5,2083.5 1404.0,2084.0 1404.5,2084.4 1405.0,2084.6 1405.5,2084.8 1406.0,2084.9 1406.5,2085.0 1407.0,2085.1 1407.5,2085.2 1408.0,2085.2 1408.5,2085.3 1409.0,2085.3 1409.5,2085.3 1410.0,2085.4 1410.5,2085.4 1411.0,2085.4 1411.5,2085.4 1412.0,2085.4 1412.5,2085.4 1413.0,2085.4 1413.5,2085.4 1414.0,2085.4 1414.5,2085.4 1415.0,2085.4 1415.5,2085.3 1416.0,2085.2 1416.5,2085.1 1417.0,2085.0 1417.5,2084.8 1418.0,2084.7 1418.5,2084.5 1419.0,2084.2 1419.5,2084.0 1420.0,2083.8 1420.5,2083.7 1421.0,2083.7 1421.5,2083.7 1422.0,2083.9 1422.5,2084.1 1423.0,2084.3 1423.5,2084.5 1424.0,2084.7 1424.5,2084.9 1425.0,2085.1 1425.5,2085.2 1426.0,2085.3 1426.5,2085.4 1427.0,2085.5 1427.5,2085.5 1428.0,2085.5 1428.5,2085.6 1429.0,2085.6 1429.5,2085.6 1430.0,2085.6 1430.5,2085.6 1431.0,2085.6 1431.5,2085.6 1432.0,2085.6 1432.5,2085.6 1433.0,2085.6 1433.5,2085.6 1434.0,2085.6 1434.5,2085.6 1435.0,2085.6 1435.5,2085.6 1436.0,2085.6 1436.5,2085.6 1437.0,2085.6 1437.5,2085.6 1438.0,2085.6 1438.5,2085.6 1439.0,2085.5 1439.5,2085.5 1440.0,2085.5 1440.5,2085.4 1441.0,2085.4 1441.5,2085.3 1442.0,2085.2 1442.5,2085.0 1443.0,2084.7 1443.5,2084.4 1444.0,2084.0 1444.5,2083.6 1445.0,2083.2 1445.5,2082.8 1446.0,2082.6 1446.5,2082.6 1447.0,2082.7 1447.5,2083.1 1448.0,2083.5 1448.5,2083.9 1449.0,2084.2 1449.5,2084.5 1450.0,2084.7 1450.5,2084.8 1451.0,2084.8 1451.5,2084.9 1452.0,2084.8 1452.5,2084.8 1453.0,2084.7 1453.5,2084.6 1454.0,2084.4 1454.5,2084.2 1455.0,2084.0 1455.5,2083.6 1456.0,2083.1 1456.5,2082.2 1457.0,2080.6 1457.5,2078.1 1458.0,2074.2 1458.5,2068.6 1459.0,2061.5 1459.5,2053.6 1460.0,2046.8 1460.5,2043.8 1461.0,2046.1 1461.5,2052.6 1462.0,2060.4 1462.5,2067.7 1463.0,2073.5 1463.5,2077.7 1464.0,2080.4 1464.5,2082.0 1465.0,2083.0 1465.5,2083.6 1466.0,2084.0 1466.5,2084.3 1467.0,2084.5 1467.5,2084.7 1468.0,2084.8 1468.5,2084.9 1469.0,2085.0 1469.5,2085.1 1470.0,2085.2 1470.5,2085.2 1471.0,2085.3 1471.5,2085.3 1472.0,2085.4 1472.5,2085.4 1473.0,2085.4 1473.5,2085.4 1474.0,2085.5 1474.5,2085.5 1475.0,2085.5 1475.5,2085.5 1476.0,2085.5 1476.5,2085.5 1477.0,2085.5 1477.5,2085.5 1478.0,2085.5 1478.5,2085.4 1479.0,2085.4 1479.5,2085.3 1480.0,2085.2 1480.5,2085.1 1481.0,2085.0 1481.5,2084.8 1482.0,2084.7 1482.5,2084.5 1483.0,2084.3 1483.5,2084.1 1484.0,2084.0 1484.5,2083.9 1485.0,2083.8 1485.5,2083.8 1486.0,2083.8 1486.5,2083.9 1487.0,2084.1 1487.5,2084.3 1488.0,2084.5 1488.5,2084.7 1489.0,2084.8 1489.5,2085.0 1490.0,2085.1 1490.5,2085.3 1491.0,2085.4 1491.5,2085.4 1492.0,2085.5 1492.5,2085.6 1493.0,2085.6 1493.5,2085.6 1494.0,2085.6 1494.5,2085.7 1495.0,2085.7 1495.5,2085.7 1496.0,2085.7 1496.5,2085.7 1497.0,2085.7 1497.5,2085.7 1498.0,2085.7 1498.5,2085.7 1499.0,2085.7 1499.5,2085.7 1500.0,2085.7 1500.5,2085.7 1501.0,2085.7 1501.5,2085.7 1502.0,2085.7 1502.5,2085.7 1503.0,2085.7 1503.5,2085.7 1504.0,2085.7 1504.5,2085.7 1505.0,2085.7 1505.5,2085.6 1506.0,2085.6 1506.5,2085.6 1507.0,2085.6 1507.5,2085.5 1508.0,2085.5 1508.5,2085.5 1509.0,2085.4 1509.5,2085.3 1510.0,2085.2 1510.5,2085.0 1511.0,2084.8 1511.5,2084.5 1512.0,2084.0 1512.5,2083.5 1513.0,2082.8 1513.5,2082.1 1514.0,2081.4 1514.5,2080.8 1515.0,2080.5 1515.5,2080.6 1516.0,2081.0 1516.5,2081.6 1517.0,2082.3 1517.5,2082.9 1518.0,2083.4 1518.5,2083.8 1519.0,2084.0 1519.5,2084.2 1520.0,2084.2 1520.5,2084.0 1521.0,2083.8 1521.5,2083.3 1522.0,2082.5 1522.5,2081.4 1523.0,2079.8 1523.5,2077.8 1524.0,2075.3 1524.5,2072.5 1525.0,2069.5 1525.5,2066.9 1526.0,2065.2 1526.5,2064.9 1527.0,2066.2 1527.5,2068.5 1528.0,2071.4 1528.5,2074.3 1529.0,2077.0 1529.5,2079.2 1530.0,2081.0 1530.5,2082.3 1531.0,2083.2 1531.5,2083.9 1532.0,2084.3"/>
<g stroke="#00e0a0" stroke-width="2"><line x1="323.0" y1="2095.6" x2="323.0" y2="2085.9"/><line x1="467.3" y1="2095.6" x2="467.3" y2="2085.7"/><line x1="501.8" y1="2095.6" x2="501.8" y2="2085.2"/><line x1="625.4" y1="2095.6" x2="625.4" y2="2076.4"/><line x1="643.3" y1="2095.6" x2="643.3" y2="2050.0"/><line x1="701.9" y1="2095.6" x2="701.9" y2="1937.6"/><line x1="705.0" y1="2095.6" x2="705.0" y2="2037.6"/><line x1="788.7" y1="2095.6" x2="788.7" y2="1945.6"/><line x1="790.7" y1="2095.6" x2="790.7" y2="2035.6"/><line x1="853.0" y1="2095.6" x2="853.0" y2="2088.5"/><line x1="855.5" y1="2095.6" x2="855.5" y2="2088.1"/><line x1="882.3" y1="2095.6" x2="882.3" y2="2089.2"/><line x1="920.6" y1="2095.6" x2="920.6" y2="2085.3"/><line x1="923.1" y1="2095.6" x2="923.1" y2="2090.5"/><line x1="941.0" y1="2095.6" x2="941.0" y2="2086.7"/><line x1="970.3" y1="2095.6" x2="970.3" y2="2082.2"/><line x1="972.8" y1="2095.6" x2="972.8" y2="2082.1"/><line x1="970.0" y1="2095.6" x2="970.0" y2="2083.0"/><line x1="971.3" y1="2095.6" x2="971.3" y2="2079.9"/><line x1="972.6" y1="2095.6" x2="972.6" y2="2078.4"/><line x1="973.8" y1="2095.6" x2="973.8" y2="2083.1"/><line x1="978.9" y1="2095.6" x2="978.9" y2="2085.4"/><line x1="980.7" y1="2095.6" x2="980.7" y2="2086.5"/><line x1="1013.4" y1="2095.6" x2="1013.4" y2="2083.0"/><line x1="1014.6" y1="2095.6" x2="1014.6" y2="2085.1"/><line x1="1015.9" y1="2095.6" x2="1015.9" y2="2080.3"/><line x1="1017.2" y1="2095.6" x2="1017.2" y2="2088.1"/><line x1="1026.1" y1="2095.6" x2="1026.1" y2="2076.3"/><line x1="1027.4" y1="2095.6" x2="1027.4" y2="2072.2"/><line x1="1029.2" y1="2095.6" x2="1029.2" y2="2083.3"/><line x1="1066.9" y1="2095.6" x2="1066.9" y2="2074.3"/><line x1="1070.0" y1="2095.6" x2="1070.0" y2="2084.2"/><line x1="1183.8" y1="2095.6" x2="1183.8" y2="2077.0"/><line x1="1186.8" y1="2095.6" x2="1186.8" y2="2063.0"/><line x1="1198.3" y1="2095.6" x2="1198.3" y2="2087.7"/><line x1="1201.6" y1="2095.6" x2="1201.6" y2="2089.0"/><line x1="1230.2" y1="2095.6" x2="1230.2" y2="2083.9"/><line x1="1233.5" y1="2095.6" x2="1233.5" y2="2082.9"/><line x1="1246.8" y1="2095.6" x2="1246.8" y2="2089.7"/><line x1="1248.8" y1="2095.6" x2="1248.8" y2="2086.1"/><line x1="1272.3" y1="2095.6" x2="1272.3" y2="2087.9"/><line x1="1274.8" y1="2095.6" x2="1274.8" y2="2084.1"/><line x1="1279.4" y1="2095.6" x2="1279.4" y2="2081.5"/><line x1="1291.4" y1="2095.6" x2="1291.4" y2="2090.1"/><line x1="1294.5" y1="2095.6" x2="1294.5" y2="2085.7"/><line x1="1306.7" y1="2095.6" x2="1306.7" y2="2087.1"/><line x1="1309.3" y1="2095.6" x2="1309.3" y2="2087.0"/><line x1="1316.2" y1="2095.6" x2="1316.2" y2="2086.0"/><line x1="1319.5" y1="2095.6" x2="1319.5" y2="2088.8"/><line x1="1351.4" y1="2095.6" x2="1351.4" y2="2081.4"/><line x1="1353.9" y1="2095.6" x2="1353.9" y2="2080.6"/><line x1="1351.3" y1="2095.6" x2="1351.3" y2="2086.0"/><line x1="1354.0" y1="2095.6" x2="1354.0" y2="2080.8"/><line x1="1404.0" y1="2095.6" x2="1404.0" y2="2087.2"/><line x1="1407.9" y1="2095.6" x2="1407.9" y2="2088.3"/><line x1="1445.9" y1="2095.6" x2="1445.9" y2="2090.2"/><line x1="1449.3" y1="2095.6" x2="1449.3" y2="2086.4"/><line x1="1450.4" y1="2095.6" x2="1450.4" y2="2089.3"/><line x1="1451.3" y1="2095.6" x2="1451.3" y2="2085.4"/><line x1="1454.1" y1="2095.6" x2="1454.1" y2="2089.0"/><line x1="1463.7" y1="2095.6" x2="1463.7" y2="2080.8"/><line x1="1468.5" y1="2095.6" x2="1468.5" y2="2088.6"/><line x1="1519.2" y1="2095.6" x2="1519.2" y2="2086.8"/><line x1="1523.3" y1="2095.6" x2="1523.3" y2="2086.8"/></g>
<g stroke="#ff0000" stroke-width="2.4"><line x1="257.9" y1="2095.6" x2="257.9" y2="2092.6"/><line x1="317.3" y1="2095.6" x2="317.3" y2="2039.2"/><line x1="325.0" y1="2095.6" x2="325.0" y2="2080.2"/><line x1="400.5" y1="2095.6" x2="400.5" y2="2024.0"/><line x1="474.2" y1="2095.6" x2="474.2" y2="2066.2"/><line x1="489.0" y1="2095.6" x2="489.0" y2="2086.3"/><line x1="510.0" y1="2095.6" x2="510.0" y2="2076.5"/><line x1="514.5" y1="2095.6" x2="514.5" y2="2080.9"/><line x1="587.2" y1="2095.6" x2="587.2" y2="2009.2"/><line x1="620.0" y1="2095.6" x2="620.0" y2="2057.1"/><line x1="631.5" y1="2095.6" x2="631.5" y2="2064.0"/><line x1="647.9" y1="2095.6" x2="647.9" y2="1978.6"/><line x1="693.3" y1="2095.6" x2="693.3" y2="2071.6"/><line x1="711.4" y1="2095.6" x2="711.4" y2="1921.7"/><line x1="748.4" y1="2095.6" x2="748.4" y2="2071.1"/><line x1="750.4" y1="2095.6" x2="750.4" y2="2082.0"/><line x1="761.9" y1="2095.6" x2="761.9" y2="2074.3"/><line x1="766.2" y1="2095.6" x2="766.2" y2="2075.7"/><line x1="791.7" y1="2095.6" x2="791.7" y2="2076.6"/><line x1="800.7" y1="2095.6" x2="800.7" y2="1963.8"/><line x1="803.2" y1="2095.6" x2="803.2" y2="2080.4"/><line x1="817.2" y1="2095.6" x2="817.2" y2="2064.3"/><line x1="819.3" y1="2095.6" x2="819.3" y2="2083.4"/><line x1="842.2" y1="2095.6" x2="842.2" y2="2090.0"/><line x1="862.6" y1="2095.6" x2="862.6" y2="2086.7"/><line x1="865.2" y1="2095.6" x2="865.2" y2="2087.5"/><line x1="867.7" y1="2095.6" x2="867.7" y2="2090.7"/><line x1="890.2" y1="2095.6" x2="890.2" y2="2082.4"/><line x1="897.6" y1="2095.6" x2="897.6" y2="2085.1"/><line x1="900.1" y1="2095.6" x2="900.1" y2="2091.6"/><line x1="935.9" y1="2095.6" x2="935.9" y2="2081.9"/><line x1="937.7" y1="2095.6" x2="937.7" y2="2083.4"/><line x1="943.5" y1="2095.6" x2="943.5" y2="2089.7"/><line x1="946.1" y1="2095.6" x2="946.1" y2="2066.4"/><line x1="953.7" y1="2095.6" x2="953.7" y2="2061.8"/><line x1="956.8" y1="2095.6" x2="956.8" y2="2089.3"/><line x1="979.2" y1="2095.6" x2="979.2" y2="2086.9"/><line x1="978.9" y1="2095.6" x2="978.9" y2="2087.1"/><line x1="985.8" y1="2095.6" x2="985.8" y2="2091.6"/><line x1="989.1" y1="2095.6" x2="989.1" y2="2092.2"/><line x1="999.8" y1="2095.6" x2="999.8" y2="2091.5"/><line x1="1001.9" y1="2095.6" x2="1001.9" y2="2091.3"/><line x1="1021.8" y1="2095.6" x2="1021.8" y2="2061.3"/><line x1="1024.1" y1="2095.6" x2="1024.1" y2="2065.7"/><line x1="1028.2" y1="2095.6" x2="1028.2" y2="2072.3"/><line x1="1030.7" y1="2095.6" x2="1030.7" y2="2071.0"/><line x1="1039.4" y1="2095.6" x2="1039.4" y2="2081.8"/><line x1="1041.9" y1="2095.6" x2="1041.9" y2="2089.7"/><line x1="1060.6" y1="2095.6" x2="1060.6" y2="2064.2"/><line x1="1064.4" y1="2095.6" x2="1064.4" y2="2064.1"/><line x1="1068.5" y1="2095.6" x2="1068.5" y2="2059.2"/><line x1="1069.7" y1="2095.6" x2="1069.7" y2="2084.0"/><line x1="1071.0" y1="2095.6" x2="1071.0" y2="2085.1"/><line x1="1072.3" y1="2095.6" x2="1072.3" y2="2074.3"/><line x1="1081.7" y1="2095.6" x2="1081.7" y2="2070.9"/><line x1="1084.8" y1="2095.6" x2="1084.8" y2="2090.8"/><line x1="1109.0" y1="2095.6" x2="1109.0" y2="2086.1"/><line x1="1111.6" y1="2095.6" x2="1111.6" y2="2081.7"/><line x1="1117.2" y1="2095.6" x2="1117.2" y2="2074.4"/><line x1="1120.5" y1="2095.6" x2="1120.5" y2="2075.7"/><line x1="1123.1" y1="2095.6" x2="1123.1" y2="2088.5"/><line x1="1140.4" y1="2095.6" x2="1140.4" y2="2091.0"/><line x1="1142.4" y1="2095.6" x2="1142.4" y2="2091.1"/><line x1="1158.8" y1="2095.6" x2="1158.8" y2="2084.3"/><line x1="1160.8" y1="2095.6" x2="1160.8" y2="2089.9"/><line x1="1177.4" y1="2095.6" x2="1177.4" y2="2085.5"/><line x1="1180.5" y1="2095.6" x2="1180.5" y2="2081.2"/><line x1="1192.4" y1="2095.6" x2="1192.4" y2="2057.4"/><line x1="1194.0" y1="2095.6" x2="1194.0" y2="2058.7"/><line x1="1195.5" y1="2095.6" x2="1195.5" y2="2060.4"/><line x1="1197.0" y1="2095.6" x2="1197.0" y2="2084.4"/><line x1="1213.6" y1="2095.6" x2="1213.6" y2="2074.3"/><line x1="1216.9" y1="2095.6" x2="1216.9" y2="2077.2"/><line x1="1220.5" y1="2095.6" x2="1220.5" y2="2082.1"/><line x1="1222.0" y1="2095.6" x2="1222.0" y2="2081.1"/><line x1="1223.6" y1="2095.6" x2="1223.6" y2="2081.6"/><line x1="1231.5" y1="2095.6" x2="1231.5" y2="2084.7"/><line x1="1234.0" y1="2095.6" x2="1234.0" y2="2088.4"/><line x1="1250.6" y1="2095.6" x2="1250.6" y2="2089.9"/><line x1="1253.7" y1="2095.6" x2="1253.7" y2="2089.0"/><line x1="1257.0" y1="2095.6" x2="1257.0" y2="2087.3"/><line x1="1260.8" y1="2095.6" x2="1260.8" y2="2086.4"/><line x1="1265.2" y1="2095.6" x2="1265.2" y2="2085.8"/><line x1="1266.7" y1="2095.6" x2="1266.7" y2="2086.3"/><line x1="1268.2" y1="2095.6" x2="1268.2" y2="2083.4"/><line x1="1269.7" y1="2095.6" x2="1269.7" y2="2086.1"/><line x1="1271.3" y1="2095.6" x2="1271.3" y2="2086.5"/><line x1="1285.1" y1="2095.6" x2="1285.1" y2="2090.1"/><line x1="1287.6" y1="2095.6" x2="1287.6" y2="2091.6"/><line x1="1290.2" y1="2095.6" x2="1290.2" y2="2092.0"/><line x1="1292.7" y1="2095.6" x2="1292.7" y2="2091.4"/><line x1="1295.3" y1="2095.6" x2="1295.3" y2="2090.4"/><line x1="1302.1" y1="2095.6" x2="1302.1" y2="2091.2"/><line x1="1303.7" y1="2095.6" x2="1303.7" y2="2090.8"/><line x1="1305.2" y1="2095.6" x2="1305.2" y2="2090.6"/><line x1="1306.7" y1="2095.6" x2="1306.7" y2="2090.5"/><line x1="1319.5" y1="2095.6" x2="1319.5" y2="2091.1"/><line x1="1323.3" y1="2095.6" x2="1323.3" y2="2092.3"/><line x1="1326.4" y1="2095.6" x2="1326.4" y2="2091.8"/><line x1="1329.7" y1="2095.6" x2="1329.7" y2="2091.2"/><line x1="1334.8" y1="2095.6" x2="1334.8" y2="2092.3"/><line x1="1339.4" y1="2095.6" x2="1339.4" y2="2090.7"/><line x1="1335.1" y1="2095.6" x2="1335.1" y2="2092.1"/><line x1="1339.2" y1="2095.6" x2="1339.2" y2="2090.4"/><line x1="1360.4" y1="2095.6" x2="1360.4" y2="2075.5"/><line x1="1362.9" y1="2095.6" x2="1362.9" y2="2072.5"/><line x1="1369.8" y1="2095.6" x2="1369.8" y2="2084.5"/><line x1="1371.1" y1="2095.6" x2="1371.1" y2="2089.7"/><line x1="1373.9" y1="2095.6" x2="1373.9" y2="2090.8"/><line x1="1393.1" y1="2095.6" x2="1393.1" y2="2088.4"/><line x1="1394.4" y1="2095.6" x2="1394.4" y2="2087.3"/><line x1="1397.2" y1="2095.6" x2="1397.2" y2="2079.3"/><line x1="1398.6" y1="2095.6" x2="1398.6" y2="2080.8"/><line x1="1400.6" y1="2095.6" x2="1400.6" y2="2081.6"/><line x1="1402.0" y1="2095.6" x2="1402.0" y2="2079.1"/><line x1="1405.4" y1="2095.6" x2="1405.4" y2="2089.0"/><line x1="1419.8" y1="2095.6" x2="1419.8" y2="2091.4"/><line x1="1423.9" y1="2095.6" x2="1423.9" y2="2090.1"/><line x1="1426.7" y1="2095.6" x2="1426.7" y2="2091.0"/><line x1="1430.8" y1="2095.6" x2="1430.8" y2="2091.0"/><line x1="1437.4" y1="2095.6" x2="1437.4" y2="2091.8"/><line x1="1441.8" y1="2095.6" x2="1441.8" y2="2091.1"/><line x1="1453.4" y1="2095.6" x2="1453.4" y2="2090.7"/><line x1="1457.5" y1="2095.6" x2="1457.5" y2="2073.7"/><line x1="1467.1" y1="2095.6" x2="1467.1" y2="2089.1"/><line x1="1468.5" y1="2095.6" x2="1468.5" y2="2089.4"/><line x1="1469.9" y1="2095.6" x2="1469.9" y2="2091.8"/><line x1="1471.2" y1="2095.6" x2="1471.2" y2="2091.4"/><line x1="1472.6" y1="2095.6" x2="1472.6" y2="2090.8"/><line x1="1474.0" y1="2095.6" x2="1474.0" y2="2091.0"/><line x1="1484.9" y1="2095.6" x2="1484.9" y2="2090.6"/><line x1="1488.4" y1="2095.6" x2="1488.4" y2="2091.0"/><line x1="1491.1" y1="2095.6" x2="1491.1" y2="2090.9"/><line x1="1495.2" y1="2095.6" x2="1495.2" y2="2091.6"/><line x1="1500.7" y1="2095.6" x2="1500.7" y2="2091.9"/><line x1="1504.8" y1="2095.6" x2="1504.8" y2="2091.3"/><line x1="1522.0" y1="2095.6" x2="1522.0" y2="2084.1"/><line x1="1527.4" y1="2095.6" x2="1527.4" y2="2083.7"/><line x1="1528.8" y1="2095.6" x2="1528.8" y2="2082.0"/><line x1="1530.2" y1="2095.6" x2="1530.2" y2="2082.8"/><line x1="1531.6" y1="2095.6" x2="1531.6" y2="2085.8"/></g>
<g stroke="#0000ff" stroke-width="3"><line x1="256.4" y1="2095.6" x2="256.4" y2="2083.0"/><line x1="315.6" y1="2095.6" x2="315.6" y2="1990.0"/><line x1="399.2" y1="2095.6" x2="399.2" y2="1930.4"/><line x1="465.3" y1="2095.6" x2="465.3" y2="2063.1"/><line x1="471.7" y1="2095.6" x2="471.7" y2="2030.8"/><line x1="486.2" y1="2095.6" x2="486.2" y2="2069.0"/><line x1="512.0" y1="2095.6" x2="512.0" y2="2053.4"/><line x1="583.4" y1="2095.6" x2="583.4" y2="1908.5"/><line x1="617.5" y1="2095.6" x2="617.5" y2="2005.5"/><line x1="622.6" y1="2095.6" x2="622.6" y2="2074.4"/><line x1="628.0" y1="2095.6" x2="628.0" y2="2019.3"/><line x1="644.3" y1="2095.6" x2="644.3" y2="1849.4"/><line x1="690.2" y1="2095.6" x2="690.2" y2="2026.3"/><line x1="701.2" y1="2095.6" x2="701.2" y2="1832.0"/><line x1="707.6" y1="2095.6" x2="707.6" y2="1361.0"/><line x1="745.0" y1="2095.6" x2="745.0" y2="2014.4"/><line x1="762.4" y1="2095.6" x2="762.4" y2="2032.1"/><line x1="786.6" y1="2095.6" x2="786.6" y2="1857.0"/><line x1="797.3" y1="2095.6" x2="797.3" y2="1715.4"/><line x1="814.2" y1="2095.6" x2="814.2" y2="2001.6"/><line x1="862.4" y1="2095.6" x2="862.4" y2="2074.0"/><line x1="885.4" y1="2095.6" x2="885.4" y2="2076.3"/><line x1="893.3" y1="2095.6" x2="893.3" y2="2061.8"/><line x1="918.8" y1="2095.6" x2="918.8" y2="2076.8"/><line x1="930.8" y1="2095.6" x2="930.8" y2="2081.1"/><line x1="938.4" y1="2095.6" x2="938.4" y2="2059.0"/><line x1="949.9" y1="2095.6" x2="949.9" y2="1995.0"/><line x1="969.0" y1="2095.6" x2="969.0" y2="2078.1"/><line x1="974.5" y1="2095.6" x2="974.5" y2="2045.8"/><line x1="1012.1" y1="2095.6" x2="1012.1" y2="2045.0"/><line x1="1024.1" y1="2095.6" x2="1024.1" y2="2009.7"/><line x1="1034.3" y1="2095.6" x2="1034.3" y2="2014.7"/><line x1="1064.4" y1="2095.6" x2="1064.4" y2="1997.1"/><line x1="1077.1" y1="2095.6" x2="1077.1" y2="1954.4"/><line x1="1105.2" y1="2095.6" x2="1105.2" y2="2013.7"/><line x1="1117.2" y1="2095.6" x2="1117.2" y2="2036.3"/><line x1="1154.2" y1="2095.6" x2="1154.2" y2="2047.0"/><line x1="1173.3" y1="2095.6" x2="1173.3" y2="2080.3"/><line x1="1181.2" y1="2095.6" x2="1181.2" y2="1980.5"/><line x1="1188.4" y1="2095.6" x2="1188.4" y2="1933.2"/><line x1="1208.5" y1="2095.6" x2="1208.5" y2="2044.9"/><line x1="1220.8" y1="2095.6" x2="1220.8" y2="2074.4"/><line x1="1261.3" y1="2095.6" x2="1261.3" y2="2064.4"/><line x1="1267.2" y1="2095.6" x2="1267.2" y2="2060.8"/><line x1="1279.9" y1="2095.6" x2="1279.9" y2="2068.9"/><line x1="1347.4" y1="2095.6" x2="1347.4" y2="2042.5"/><line x1="1353.7" y1="2095.6" x2="1353.7" y2="2047.9"/><line x1="1365.0" y1="2095.6" x2="1365.0" y2="2038.3"/><line x1="1399.7" y1="2095.6" x2="1399.7" y2="2056.3"/><line x1="1460.3" y1="2095.6" x2="1460.3" y2="2054.1"/><line x1="1464.0" y1="2095.6" x2="1464.0" y2="2065.9"/><line x1="1526.4" y1="2095.6" x2="1526.4" y2="2061.1"/></g>
<line x1="125" y1="2095.7" x2="1533" y2="2095.7" stroke="#000" stroke-width="2.2"/>
<g stroke="#0000ff" stroke-width="2.8"><line x1="256.4" y1="2100" x2="256.4" y2="2118"/><line x1="315.6" y1="2100" x2="315.6" y2="2118"/><line x1="399.2" y1="2100" x2="399.2" y2="2118"/><line x1="465.3" y1="2100" x2="465.3" y2="2118"/><line x1="471.7" y1="2100" x2="471.7" y2="2118"/><line x1="486.2" y1="2100" x2="486.2" y2="2118"/><line x1="512.0" y1="2100" x2="512.0" y2="2118"/><line x1="583.4" y1="2100" x2="583.4" y2="2118"/><line x1="617.5" y1="2100" x2="617.5" y2="2118"/><line x1="622.6" y1="2100" x2="622.6" y2="2118"/><line x1="628.0" y1="2100" x2="628.0" y2="2118"/><line x1="644.3" y1="2100" x2="644.3" y2="2118"/><line x1="690.2" y1="2100" x2="690.2" y2="2118"/><line x1="701.2" y1="2100" x2="701.2" y2="2118"/><line x1="707.6" y1="2100" x2="707.6" y2="2118"/><line x1="745.0" y1="2100" x2="745.0" y2="2118"/><line x1="762.4" y1="2100" x2="762.4" y2="2118"/><line x1="786.6" y1="2100" x2="786.6" y2="2118"/><line x1="797.3" y1="2100" x2="797.3" y2="2118"/><line x1="814.2" y1="2100" x2="814.2" y2="2118"/><line x1="862.4" y1="2100" x2="862.4" y2="2118"/><line x1="885.4" y1="2100" x2="885.4" y2="2118"/><line x1="893.3" y1="2100" x2="893.3" y2="2118"/><line x1="918.8" y1="2100" x2="918.8" y2="2118"/><line x1="930.8" y1="2100" x2="930.8" y2="2118"/><line x1="938.4" y1="2100" x2="938.4" y2="2118"/><line x1="949.9" y1="2100" x2="949.9" y2="2118"/><line x1="969.0" y1="2100" x2="969.0" y2="2118"/><line x1="974.5" y1="2100" x2="974.5" y2="2118"/><line x1="1012.1" y1="2100" x2="1012.1" y2="2118"/><line x1="1024.1" y1="2100" x2="1024.1" y2="2118"/><line x1="1034.3" y1="2100" x2="1034.3" y2="2118"/><line x1="1064.4" y1="2100" x2="1064.4" y2="2118"/><line x1="1077.1" y1="2100" x2="1077.1" y2="2118"/><line x1="1105.2" y1="2100" x2="1105.2" y2="2118"/><line x1="1117.2" y1="2100" x2="1117.2" y2="2118"/><line x1="1154.2" y1="2100" x2="1154.2" y2="2118"/><line x1="1173.3" y1="2100" x2="1173.3" y2="2118"/><line x1="1181.2" y1="2100" x2="1181.2" y2="2118"/><line x1="1188.4" y1="2100" x2="1188.4" y2="2118"/><line x1="1208.5" y1="2100" x2="1208.5" y2="2118"/><line x1="1220.8" y1="2100" x2="1220.8" y2="2118"/><line x1="1261.3" y1="2100" x2="1261.3" y2="2118"/><line x1="1267.2" y1="2100" x2="1267.2" y2="2118"/><line x1="1279.9" y1="2100" x2="1279.9" y2="2118"/><line x1="1347.4" y1="2100" x2="1347.4" y2="2118"/><line x1="1353.7" y1="2100" x2="1353.7" y2="2118"/><line x1="1365.0" y1="2100" x2="1365.0" y2="2118"/><line x1="1399.7" y1="2100" x2="1399.7" y2="2118"/><line x1="1460.3" y1="2100" x2="1460.3" y2="2118"/><line x1="1464.0" y1="2100" x2="1464.0" y2="2118"/><line x1="1526.4" y1="2100" x2="1526.4" y2="2118"/></g>
<rect x="1528.5" y="2101.5" width="4.5" height="16" fill="#ff7050"/>
<g stroke="#ff0000" stroke-width="2.6"><line x1="317.3" y1="2126.6" x2="317.3" y2="2143.6"/><line x1="325.0" y1="2126.6" x2="325.0" y2="2143.6"/><line x1="400.5" y1="2126.6" x2="400.5" y2="2143.6"/><line x1="474.2" y1="2126.6" x2="474.2" y2="2143.6"/><line x1="489.0" y1="2126.6" x2="489.0" y2="2143.6"/><line x1="510.0" y1="2126.6" x2="510.0" y2="2143.6"/><line x1="514.5" y1="2126.6" x2="514.5" y2="2143.6"/><line x1="587.2" y1="2126.6" x2="587.2" y2="2143.6"/><line x1="620.0" y1="2126.6" x2="620.0" y2="2143.6"/><line x1="631.5" y1="2126.6" x2="631.5" y2="2143.6"/><line x1="647.9" y1="2126.6" x2="647.9" y2="2143.6"/><line x1="693.3" y1="2126.6" x2="693.3" y2="2143.6"/><line x1="711.4" y1="2126.6" x2="711.4" y2="2143.6"/><line x1="761.9" y1="2126.6" x2="761.9" y2="2143.6"/><line x1="766.2" y1="2126.6" x2="766.2" y2="2143.6"/><line x1="791.7" y1="2126.6" x2="791.7" y2="2143.6"/><line x1="842.2" y1="2126.6" x2="842.2" y2="2143.6"/><line x1="890.2" y1="2126.6" x2="890.2" y2="2143.6"/><line x1="979.2" y1="2126.6" x2="979.2" y2="2143.6"/><line x1="1068.5" y1="2126.6" x2="1068.5" y2="2143.6"/><line x1="1069.7" y1="2126.6" x2="1069.7" y2="2143.6"/><line x1="1071.0" y1="2126.6" x2="1071.0" y2="2143.6"/><line x1="1072.3" y1="2126.6" x2="1072.3" y2="2143.6"/><line x1="1192.4" y1="2126.6" x2="1192.4" y2="2143.6"/><line x1="1194.0" y1="2126.6" x2="1194.0" y2="2143.6"/><line x1="1195.5" y1="2126.6" x2="1195.5" y2="2143.6"/><line x1="1197.0" y1="2126.6" x2="1197.0" y2="2143.6"/><line x1="1213.6" y1="2126.6" x2="1213.6" y2="2143.6"/><line x1="1216.9" y1="2126.6" x2="1216.9" y2="2143.6"/><line x1="1220.5" y1="2126.6" x2="1220.5" y2="2143.6"/><line x1="1222.0" y1="2126.6" x2="1222.0" y2="2143.6"/><line x1="1223.6" y1="2126.6" x2="1223.6" y2="2143.6"/><line x1="1265.2" y1="2126.6" x2="1265.2" y2="2143.6"/><line x1="1266.7" y1="2126.6" x2="1266.7" y2="2143.6"/><line x1="1268.2" y1="2126.6" x2="1268.2" y2="2143.6"/><line x1="1269.7" y1="2126.6" x2="1269.7" y2="2143.6"/><line x1="1271.3" y1="2126.6" x2="1271.3" y2="2143.6"/><line x1="1302.1" y1="2126.6" x2="1302.1" y2="2143.6"/><line x1="1303.7" y1="2126.6" x2="1303.7" y2="2143.6"/><line x1="1305.2" y1="2126.6" x2="1305.2" y2="2143.6"/><line x1="1306.7" y1="2126.6" x2="1306.7" y2="2143.6"/><line x1="1360.4" y1="2126.6" x2="1360.4" y2="2143.6"/><line x1="1362.9" y1="2126.6" x2="1362.9" y2="2143.6"/><line x1="1369.8" y1="2126.6" x2="1369.8" y2="2143.6"/><line x1="1371.1" y1="2126.6" x2="1371.1" y2="2143.6"/><line x1="1373.9" y1="2126.6" x2="1373.9" y2="2143.6"/><line x1="1393.1" y1="2126.6" x2="1393.1" y2="2143.6"/><line x1="1394.4" y1="2126.6" x2="1394.4" y2="2143.6"/><line x1="1397.2" y1="2126.6" x2="1397.2" y2="2143.6"/><line x1="1398.6" y1="2126.6" x2="1398.6" y2="2143.6"/><line x1="1400.6" y1="2126.6" x2="1400.6" y2="2143.6"/><line x1="1402.0" y1="2126.6" x2="1402.0" y2="2143.6"/><line x1="1405.4" y1="2126.6" x2="1405.4" y2="2143.6"/><line x1="1423.9" y1="2126.6" x2="1423.9" y2="2143.6"/><line x1="1426.7" y1="2126.6" x2="1426.7" y2="2143.6"/><line x1="1430.8" y1="2126.6" x2="1430.8" y2="2143.6"/><line x1="1441.8" y1="2126.6" x2="1441.8" y2="2143.6"/><line x1="1467.1" y1="2126.6" x2="1467.1" y2="2143.6"/><line x1="1468.5" y1="2126.6" x2="1468.5" y2="2143.6"/><line x1="1469.9" y1="2126.6" x2="1469.9" y2="2143.6"/><line x1="1471.2" y1="2126.6" x2="1471.2" y2="2143.6"/><line x1="1472.6" y1="2126.6" x2="1472.6" y2="2143.6"/><line x1="1474.0" y1="2126.6" x2="1474.0" y2="2143.6"/><line x1="1484.9" y1="2126.6" x2="1484.9" y2="2143.6"/><line x1="1504.8" y1="2126.6" x2="1504.8" y2="2143.6"/><line x1="1522.0" y1="2126.6" x2="1522.0" y2="2143.6"/><line x1="1527.4" y1="2126.6" x2="1527.4" y2="2143.6"/><line x1="1528.8" y1="2126.6" x2="1528.8" y2="2143.6"/><line x1="1530.2" y1="2126.6" x2="1530.2" y2="2143.6"/><line x1="1531.6" y1="2126.6" x2="1531.6" y2="2143.6"/></g>
<g stroke="#ff1a1a" stroke-width="1.7"><line x1="257.9" y1="2126.6" x2="257.9" y2="2143.6"/><line x1="748.4" y1="2126.6" x2="748.4" y2="2143.6"/><line x1="750.4" y1="2126.6" x2="750.4" y2="2143.6"/><line x1="800.7" y1="2126.6" x2="800.7" y2="2143.6"/><line x1="803.2" y1="2126.6" x2="803.2" y2="2143.6"/><line x1="817.2" y1="2126.6" x2="817.2" y2="2143.6"/><line x1="819.3" y1="2126.6" x2="819.3" y2="2143.6"/><line x1="862.6" y1="2126.6" x2="862.6" y2="2143.6"/><line x1="865.2" y1="2126.6" x2="865.2" y2="2143.6"/><line x1="867.7" y1="2126.6" x2="867.7" y2="2143.6"/><line x1="897.6" y1="2126.6" x2="897.6" y2="2143.6"/><line x1="900.1" y1="2126.6" x2="900.1" y2="2143.6"/><line x1="935.9" y1="2126.6" x2="935.9" y2="2143.6"/><line x1="937.7" y1="2126.6" x2="937.7" y2="2143.6"/><line x1="943.5" y1="2126.6" x2="943.5" y2="2143.6"/><line x1="946.1" y1="2126.6" x2="946.1" y2="2143.6"/><line x1="953.7" y1="2126.6" x2="953.7" y2="2143.6"/><line x1="956.8" y1="2126.6" x2="956.8" y2="2143.6"/><line x1="978.9" y1="2126.6" x2="978.9" y2="2143.6"/><line x1="985.8" y1="2126.6" x2="985.8" y2="2143.6"/><line x1="989.1" y1="2126.6" x2="989.1" y2="2143.6"/><line x1="999.8" y1="2126.6" x2="999.8" y2="2143.6"/><line x1="1001.9" y1="2126.6" x2="1001.9" y2="2143.6"/><line x1="1021.8" y1="2126.6" x2="1021.8" y2="2143.6"/><line x1="1024.1" y1="2126.6" x2="1024.1" y2="2143.6"/><line x1="1028.2" y1="2126.6" x2="1028.2" y2="2143.6"/><line x1="1030.7" y1="2126.6" x2="1030.7" y2="2143.6"/><line x1="1039.4" y1="2126.6" x2="1039.4" y2="2143.6"/><line x1="1041.9" y1="2126.6" x2="1041.9" y2="2143.6"/><line x1="1060.6" y1="2126.6" x2="1060.6" y2="2143.6"/><line x1="1064.4" y1="2126.6" x2="1064.4" y2="2143.6"/><line x1="1081.7" y1="2126.6" x2="1081.7" y2="2143.6"/><line x1="1084.8" y1="2126.6" x2="1084.8" y2="2143.6"/><line x1="1109.0" y1="2126.6" x2="1109.0" y2="2143.6"/><line x1="1111.6" y1="2126.6" x2="1111.6" y2="2143.6"/><line x1="1117.2" y1="2126.6" x2="1117.2" y2="2143.6"/><line x1="1120.5" y1="2126.6" x2="1120.5" y2="2143.6"/><line x1="1123.1" y1="2126.6" x2="1123.1" y2="2143.6"/><line x1="1140.4" y1="2126.6" x2="1140.4" y2="2143.6"/><line x1="1142.4" y1="2126.6" x2="1142.4" y2="2143.6"/><line x1="1158.8" y1="2126.6" x2="1158.8" y2="2143.6"/><line x1="1160.8" y1="2126.6" x2="1160.8" y2="2143.6"/><line x1="1177.4" y1="2126.6" x2="1177.4" y2="2143.6"/><line x1="1180.5" y1="2126.6" x2="1180.5" y2="2143.6"/><line x1="1231.5" y1="2126.6" x2="1231.5" y2="2143.6"/><line x1="1234.0" y1="2126.6" x2="1234.0" y2="2143.6"/><line x1="1250.6" y1="2126.6" x2="1250.6" y2="2143.6"/><line x1="1253.7" y1="2126.6" x2="1253.7" y2="2143.6"/><line x1="1257.0" y1="2126.6" x2="1257.0" y2="2143.6"/><line x1="1260.8" y1="2126.6" x2="1260.8" y2="2143.6"/><line x1="1285.1" y1="2126.6" x2="1285.1" y2="2143.6"/><line x1="1287.6" y1="2126.6" x2="1287.6" y2="2143.6"/><line x1="1290.2" y1="2126.6" x2="1290.2" y2="2143.6"/><line x1="1292.7" y1="2126.6" x2="1292.7" y2="2143.6"/><line x1="1295.3" y1="2126.6" x2="1295.3" y2="2143.6"/><line x1="1319.5" y1="2126.6" x2="1319.5" y2="2143.6"/><line x1="1323.3" y1="2126.6" x2="1323.3" y2="2143.6"/><line x1="1326.4" y1="2126.6" x2="1326.4" y2="2143.6"/><line x1="1329.7" y1="2126.6" x2="1329.7" y2="2143.6"/><line x1="1334.8" y1="2126.6" x2="1334.8" y2="2143.6"/><line x1="1339.4" y1="2126.6" x2="1339.4" y2="2143.6"/><line x1="1335.1" y1="2126.6" x2="1335.1" y2="2143.6"/><line x1="1339.2" y1="2126.6" x2="1339.2" y2="2143.6"/><line x1="1419.8" y1="2126.6" x2="1419.8" y2="2143.6"/><line x1="1437.4" y1="2126.6" x2="1437.4" y2="2143.6"/><line x1="1453.4" y1="2126.6" x2="1453.4" y2="2143.6"/><line x1="1457.5" y1="2126.6" x2="1457.5" y2="2143.6"/><line x1="1488.4" y1="2126.6" x2="1488.4" y2="2143.6"/><line x1="1491.1" y1="2126.6" x2="1491.1" y2="2143.6"/><line x1="1495.2" y1="2126.6" x2="1495.2" y2="2143.6"/><line x1="1500.7" y1="2126.6" x2="1500.7" y2="2143.6"/></g>
<g stroke="#00dd99" stroke-width="2.4"><line x1="323.0" y1="2152.6" x2="323.0" y2="2170"/><line x1="467.3" y1="2152.6" x2="467.3" y2="2170"/><line x1="501.8" y1="2152.6" x2="501.8" y2="2170"/><line x1="625.4" y1="2152.6" x2="625.4" y2="2170"/><line x1="643.3" y1="2152.6" x2="643.3" y2="2170"/><line x1="701.9" y1="2152.6" x2="701.9" y2="2170"/><line x1="705.0" y1="2152.6" x2="705.0" y2="2170"/><line x1="788.7" y1="2152.6" x2="788.7" y2="2170"/><line x1="790.7" y1="2152.6" x2="790.7" y2="2170"/><line x1="853.0" y1="2152.6" x2="853.0" y2="2170"/><line x1="855.5" y1="2152.6" x2="855.5" y2="2170"/><line x1="882.3" y1="2152.6" x2="882.3" y2="2170"/><line x1="920.6" y1="2152.6" x2="920.6" y2="2170"/><line x1="923.1" y1="2152.6" x2="923.1" y2="2170"/><line x1="941.0" y1="2152.6" x2="941.0" y2="2170"/><line x1="970.3" y1="2152.6" x2="970.3" y2="2170"/><line x1="972.8" y1="2152.6" x2="972.8" y2="2170"/><line x1="970.0" y1="2152.6" x2="970.0" y2="2170"/><line x1="971.3" y1="2152.6" x2="971.3" y2="2170"/><line x1="972.6" y1="2152.6" x2="972.6" y2="2170"/><line x1="973.8" y1="2152.6" x2="973.8" y2="2170"/><line x1="978.9" y1="2152.6" x2="978.9" y2="2170"/><line x1="980.7" y1="2152.6" x2="980.7" y2="2170"/><line x1="1013.4" y1="2152.6" x2="1013.4" y2="2170"/><line x1="1014.6" y1="2152.6" x2="1014.6" y2="2170"/><line x1="1015.9" y1="2152.6" x2="1015.9" y2="2170"/><line x1="1017.2" y1="2152.6" x2="1017.2" y2="2170"/><line x1="1026.1" y1="2152.6" x2="1026.1" y2="2170"/><line x1="1027.4" y1="2152.6" x2="1027.4" y2="2170"/><line x1="1029.2" y1="2152.6" x2="1029.2" y2="2170"/><line x1="1066.9" y1="2152.6" x2="1066.9" y2="2170"/><line x1="1070.0" y1="2152.6" x2="1070.0" y2="2170"/><line x1="1183.8" y1="2152.6" x2="1183.8" y2="2170"/><line x1="1186.8" y1="2152.6" x2="1186.8" y2="2170"/><line x1="1198.3" y1="2152.6" x2="1198.3" y2="2170"/><line x1="1201.6" y1="2152.6" x2="1201.6" y2="2170"/><line x1="1230.2" y1="2152.6" x2="1230.2" y2="2170"/><line x1="1233.5" y1="2152.6" x2="1233.5" y2="2170"/><line x1="1246.8" y1="2152.6" x2="1246.8" y2="2170"/><line x1="1248.8" y1="2152.6" x2="1248.8" y2="2170"/><line x1="1272.3" y1="2152.6" x2="1272.3" y2="2170"/><line x1="1274.8" y1="2152.6" x2="1274.8" y2="2170"/><line x1="1279.4" y1="2152.6" x2="1279.4" y2="2170"/><line x1="1291.4" y1="2152.6" x2="1291.4" y2="2170"/><line x1="1294.5" y1="2152.6" x2="1294.5" y2="2170"/><line x1="1306.7" y1="2152.6" x2="1306.7" y2="2170"/><line x1="1309.3" y1="2152.6" x2="1309.3" y2="2170"/><line x1="1316.2" y1="2152.6" x2="1316.2" y2="2170"/><line x1="1319.5" y1="2152.6" x2="1319.5" y2="2170"/><line x1="1351.4" y1="2152.6" x2="1351.4" y2="2170"/><line x1="1353.9" y1="2152.6" x2="1353.9" y2="2170"/><line x1="1351.3" y1="2152.6" x2="1351.3" y2="2170"/><line x1="1354.0" y1="2152.6" x2="1354.0" y2="2170"/><line x1="1404.0" y1="2152.6" x2="1404.0" y2="2170"/><line x1="1407.9" y1="2152.6" x2="1407.9" y2="2170"/><line x1="1445.9" y1="2152.6" x2="1445.9" y2="2170"/><line x1="1449.3" y1="2152.6" x2="1449.3" y2="2170"/><line x1="1450.4" y1="2152.6" x2="1450.4" y2="2170"/><line x1="1451.3" y1="2152.6" x2="1451.3" y2="2170"/><line x1="1454.1" y1="2152.6" x2="1454.1" y2="2170"/><line x1="1463.7" y1="2152.6" x2="1463.7" y2="2170"/><line x1="1468.5" y1="2152.6" x2="1468.5" y2="2170"/><line x1="1519.2" y1="2152.6" x2="1519.2" y2="2170"/><line x1="1523.3" y1="2152.6" x2="1523.3" y2="2170"/></g>
<polyline fill="none" stroke="#00aa00" stroke-width="1.7" stroke-linejoin="round" points="127.0,2244.3 127.5,2242.2 128.0,2242.0 128.5,2245.3 129.0,2244.3 129.5,2241.7 130.0,2244.3 130.5,2243.7 131.0,2243.9 131.5,2244.8 132.0,2243.3 132.5,2244.0 133.0,2243.0 133.5,2244.8 134.0,2244.0 134.5,2244.6 135.0,2243.9 135.5,2242.3 136.0,2243.4 136.5,2243.4 137.0,2243.7 137.5,2242.7 138.0,2242.9 138.5,2242.9 139.0,2242.4 139.5,2243.7 140.0,2242.8 140.5,2244.6 141.0,2243.0 141.5,2241.9 142.0,2243.5 142.5,2244.5 143.0,2244.5 143.5,2242.8 144.0,2243.1 144.5,2243.1 145.0,2243.8 145.5,2243.0 146.0,2241.1 146.5,2244.3 147.0,2243.9 147.5,2242.5 148.0,2243.3 148.5,2243.0 149.0,2242.6 149.5,2243.6 150.0,2242.4 150.5,2243.3 151.0,2244.0 151.5,2244.1 152.0,2245.0 152.5,2243.5 153.0,2243.9 153.5,2243.9 154.0,2242.9 154.5,2241.8 155.0,2242.6 155.5,2241.9 156.0,2243.5 156.5,2244.7 157.0,2244.0 157.5,2245.3 158.0,2243.7 158.5,2245.6 159.0,2245.0 159.5,2244.1 160.0,2244.9 160.5,2243.1 161.0,2242.5 161.5,2243.9 162.0,2244.7 162.5,2244.1 163.0,2244.1 163.5,2243.6 164.0,2243.0 164.5,2244.0 165.0,2244.1 165.5,2243.1 166.0,2244.5 166.5,2244.9 167.0,2241.9 167.5,2243.8 168.0,2242.4 168.5,2243.2 169.0,2243.6 169.5,2244.0 170.0,2243.9 170.5,2244.1 171.0,2243.7 171.5,2242.9 172.0,2243.8 172.5,2243.2 173.0,2244.0 173.5,2243.4 174.0,2243.6 174.5,2242.2 175.0,2243.8 175.5,2243.1 176.0,2243.7 176.5,2243.2 177.0,2244.9 177.5,2244.5 178.0,2245.1 178.5,2243.1 179.0,2243.9 179.5,2243.4 180.0,2243.0 180.5,2243.9 181.0,2242.9 181.5,2245.2 182.0,2243.4 182.5,2244.0 183.0,2243.2 183.5,2243.4 184.0,2243.2 184.5,2244.5 185.0,2244.3 185.5,2243.9 186.0,2243.1 186.5,2243.6 187.0,2244.0 187.5,2242.9 188.0,2243.8 188.5,2242.2 189.0,2243.1 189.5,2243.1 190.0,2243.3 190.5,2244.8 191.0,2242.5 191.5,2243.6 192.0,2243.1 192.5,2242.7 193.0,2243.0 193.5,2242.5 194.0,2243.7 194.5,2243.8 195.0,2242.6 195.5,2243.6 196.0,2243.5 196.5,2241.6 197.0,2243.3 197.5,2243.0 198.0,2242.8 198.5,2242.6 199.0,2242.0 199.5,2242.7 200.0,2241.9 200.5,2243.9 201.0,2242.8 201.5,2244.0 202.0,2243.2 202.5,2243.6 203.0,2243.1 203.5,2243.2 204.0,2243.5 204.5,2243.2 205.0,2243.8 205.5,2242.7 206.0,2243.0 206.5,2242.7 207.0,2244.3 207.5,2244.3 208.0,2243.5 208.5,2243.7 209.0,2243.3 209.5,2243.3 210.0,2244.5 210.5,2243.6 211.0,2243.5 211.5,2243.3 212.0,2243.7 212.5,2243.8 213.0,2243.2 213.5,2243.4 214.0,2243.8 214.5,2243.5 215.0,2243.3 215.5,2243.6 216.0,2243.5 216.5,2243.4 217.0,2243.3 217.5,2243.6 218.0,2243.3 218.5,2243.0 219.0,2243.2 219.5,2243.4 220.0,2243.2 220.5,2243.0 221.0,2243.8 221.5,2243.0 222.0,2243.2 222.5,2243.8 223.0,2243.3 223.5,2243.3 224.0,2243.0 224.5,2243.5 225.0,2242.9 225.5,2243.7 226.0,2243.3 226.5,2243.6 227.0,2243.3 227.5,2243.1 228.0,2243.3 228.5,2243.9 229.0,2243.5 229.5,2243.4 230.0,2243.8 230.5,2243.1 231.0,2243.4 231.5,2243.7 232.0,2243.3 232.5,2243.6 233.0,2243.4 233.5,2243.8 234.0,2243.6 234.5,2243.5 235.0,2243.4 235.5,2243.4 236.0,2243.2 236.5,2243.3 237.0,2243.1 237.5,2243.5 238.0,2243.6 238.5,2243.9 239.0,2243.6 239.5,2243.7 240.0,2243.3 240.5,2243.4 241.0,2243.5 241.5,2243.4 242.0,2243.6 242.5,2243.6 243.0,2243.5 243.5,2243.4 244.0,2243.5 244.5,2243.4 245.0,2243.7 245.5,2243.5 246.0,2243.7 246.5,2243.4 247.0,2243.7 247.5,2243.4 248.0,2243.5 248.5,2243.6 249.0,2243.6 249.5,2243.7 250.0,2243.5 250.5,2243.4 251.0,2243.7 251.5,2243.5 252.0,2243.4 252.5,2243.3 253.0,2243.4 253.5,2243.2 254.0,2243.5 254.5,2243.4 255.0,2243.7 255.5,2243.6 256.0,2243.5 256.5,2243.2 257.0,2243.4 257.5,2243.4 258.0,2243.6 258.5,2243.3 259.0,2243.5 259.5,2243.3 260.0,2243.7 260.5,2243.4 261.0,2243.4 261.5,2243.5 262.0,2243.4 262.5,2243.4 263.0,2243.5 263.5,2243.4 264.0,2243.4 264.5,2243.7 265.0,2243.5 265.5,2243.4 266.0,2243.7 266.5,2243.6 267.0,2243.7 267.5,2243.4 268.0,2243.5 268.5,2243.6 269.0,2243.6 269.5,2243.4 270.0,2243.7 270.5,2243.4 271.0,2243.6 271.5,2243.5 272.0,2243.5 272.5,2243.5 273.0,2243.8 273.5,2243.4 274.0,2243.3 274.5,2243.6 275.0,2243.5 275.5,2243.5 276.0,2243.6 276.5,2243.7 277.0,2243.4 277.5,2243.5 278.0,2243.6 278.5,2243.5 279.0,2243.5 279.5,2243.3 280.0,2243.4 280.5,2243.6 281.0,2243.1 281.5,2243.5 282.0,2243.2 282.5,2243.8 283.0,2243.6 283.5,2243.7 284.0,2243.7 284.5,2243.4 285.0,2243.5 285.5,2243.4 286.0,2243.6 286.5,2243.5 287.0,2243.6 287.5,2243.4 288.0,2243.5 288.5,2243.4 289.0,2243.4 289.5,2243.4 290.0,2243.5 290.5,2243.6 291.0,2243.6 291.5,2243.4 292.0,2243.6 292.5,2243.4 293.0,2243.7 293.5,2243.5 294.0,2243.4 294.5,2243.5 295.0,2243.6 295.5,2243.5 296.0,2243.6 296.5,2243.5 297.0,2243.8 297.5,2243.6 298.0,2243.5 298.5,2243.5 299.0,2243.8 299.5,2243.5 300.0,2243.5 300.5,2243.4 301.0,2243.6 301.5,2243.4 302.0,2243.5 302.5,2243.8 303.0,2243.4 303.5,2243.6 304.0,2243.4 304.5,2243.3 305.0,2243.4 305.5,2243.4 306.0,2243.5 306.5,2243.5 307.0,2243.4 307.5,2243.5 308.0,2243.6 308.5,2243.6 309.0,2243.4 309.5,2243.5 310.0,2243.4 310.5,2243.6 311.0,2243.3 311.5,2243.6 312.0,2243.6 312.5,2243.5 313.0,2243.4 313.5,2243.6 314.0,2243.4 314.5,2243.7 315.0,2244.3 315.5,2245.7 316.0,2247.1 316.5,2248.3 317.0,2247.7 317.5,2245.7 318.0,2242.7 318.5,2240.4 319.0,2240.6 319.5,2241.5 320.0,2242.7 320.5,2243.6 321.0,2243.5 321.5,2243.3 322.0,2243.6 322.5,2243.6 323.0,2243.5 323.5,2243.6 324.0,2243.6 324.5,2243.6 325.0,2243.5 325.5,2243.6 326.0,2243.5 326.5,2243.5 327.0,2243.5 327.5,2243.5 328.0,2243.5 328.5,2243.6 329.0,2243.5 329.5,2243.5 330.0,2243.7 330.5,2243.7 331.0,2243.5 331.5,2243.4 332.0,2243.7 332.5,2243.3 333.0,2243.7 333.5,2243.7 334.0,2243.4 334.5,2243.5 335.0,2243.4 335.5,2243.5 336.0,2243.4 336.5,2243.3 337.0,2243.5 337.5,2243.4 338.0,2243.5 338.5,2243.5 339.0,2243.4 339.5,2243.5 340.0,2243.4 340.5,2243.6 341.0,2243.4 341.5,2243.6 342.0,2243.4 342.5,2243.6 343.0,2243.6 343.5,2243.5 344.0,2243.3 344.5,2243.6 345.0,2243.3 345.5,2243.5 346.0,2243.3 346.5,2243.4 347.0,2243.5 347.5,2243.4 348.0,2243.5 348.5,2243.6 349.0,2243.5 349.5,2243.5 350.0,2243.7 350.5,2243.6 351.0,2243.5 351.5,2243.4 352.0,2243.4 352.5,2243.4 353.0,2243.6 353.5,2243.5 354.0,2243.6 354.5,2243.3 355.0,2243.3 355.5,2243.5 356.0,2243.2 356.5,2243.5 357.0,2243.3 357.5,2243.5 358.0,2243.5 358.5,2243.3 359.0,2243.6 359.5,2243.5 360.0,2243.5 360.5,2243.4 361.0,2243.4 361.5,2243.5 362.0,2243.6 362.5,2243.5 363.0,2243.3 363.5,2243.3 364.0,2243.5 364.5,2243.5 365.0,2243.6 365.5,2243.6 366.0,2243.6 366.5,2243.6 367.0,2243.6 367.5,2243.5 368.0,2243.3 368.5,2243.6 369.0,2243.6 369.5,2243.6 370.0,2243.3 370.5,2243.5 371.0,2243.6 371.5,2243.5 372.0,2243.5 372.5,2243.2 373.0,2243.4 373.5,2243.7 374.0,2243.5 374.5,2243.6 375.0,2243.5 375.5,2243.4 376.0,2243.7 376.5,2243.6 377.0,2243.6 377.5,2243.5 378.0,2243.4 378.5,2243.7 379.0,2243.5 379.5,2243.5 380.0,2243.5 380.5,2243.6 381.0,2243.6 381.5,2243.7 382.0,2243.5 382.5,2243.6 383.0,2243.7 383.5,2243.5 384.0,2243.4 384.5,2243.5 385.0,2243.7 385.5,2243.5 386.0,2243.6 386.5,2243.5 387.0,2243.3 387.5,2243.4 388.0,2243.3 388.5,2243.3 389.0,2243.5 389.5,2243.6 390.0,2243.6 390.5,2243.5 391.0,2243.6 391.5,2243.5 392.0,2243.7 392.5,2243.6 393.0,2243.6 393.5,2243.2 394.0,2243.6 394.5,2243.6 395.0,2243.5 395.5,2243.2 396.0,2243.3 396.5,2242.4 397.0,2241.2 397.5,2240.6 398.0,2241.9 398.5,2244.6 399.0,2247.6 399.5,2248.5 400.0,2246.8 400.5,2244.7 401.0,2243.8 401.5,2243.5 402.0,2243.5 402.5,2243.5 403.0,2243.5 403.5,2243.5 404.0,2243.5 404.5,2243.3 405.0,2243.5 405.5,2243.6 406.0,2243.5 406.5,2243.5 407.0,2243.8 407.5,2243.5 408.0,2243.7 408.5,2243.4 409.0,2243.4 409.5,2243.3 410.0,2243.4 410.5,2243.4 411.0,2243.5 411.5,2243.5 412.0,2243.5 412.5,2243.5 413.0,2243.4 413.5,2243.4 414.0,2243.4 414.5,2243.4 415.0,2243.6 415.5,2243.2 416.0,2243.6 416.5,2243.6 417.0,2243.4 417.5,2243.6 418.0,2243.7 418.5,2243.4 419.0,2243.5 419.5,2243.4 420.0,2243.5 420.5,2243.5 421.0,2243.5 421.5,2243.4 422.0,2243.4 422.5,2243.6 423.0,2243.7 423.5,2243.5 424.0,2243.6 424.5,2243.5 425.0,2243.4 425.5,2243.5 426.0,2243.6 426.5,2243.5 427.0,2243.3 427.5,2243.6 428.0,2243.8 428.5,2243.5 429.0,2243.3 429.5,2243.5 430.0,2243.7 430.5,2243.5 431.0,2243.5 431.5,2243.5 432.0,2243.6 432.5,2243.2 433.0,2243.4 433.5,2243.5 434.0,2243.6 434.5,2243.5 435.0,2243.4 435.5,2243.5 436.0,2243.3 436.5,2243.4 437.0,2243.4 437.5,2243.5 438.0,2243.7 438.5,2243.5 439.0,2243.4 439.5,2243.5 440.0,2243.2 440.5,2243.6 441.0,2243.6 441.5,2243.4 442.0,2243.4 442.5,2243.7 443.0,2243.5 443.5,2243.4 444.0,2243.4 444.5,2243.7 445.0,2243.5 445.5,2243.4 446.0,2243.5 446.5,2243.7 447.0,2243.4 447.5,2243.3 448.0,2243.7 448.5,2243.5 449.0,2243.6 449.5,2243.6 450.0,2243.3 450.5,2243.3 451.0,2243.6 451.5,2243.4 452.0,2243.5 452.5,2243.4 453.0,2243.6 453.5,2243.4 454.0,2243.4 454.5,2243.6 455.0,2243.6 455.5,2243.5 456.0,2243.6 456.5,2243.3 457.0,2243.6 457.5,2243.7 458.0,2243.6 458.5,2243.5 459.0,2243.4 459.5,2243.5 460.0,2243.4 460.5,2243.5 461.0,2243.5 461.5,2243.5 462.0,2243.5 462.5,2243.4 463.0,2243.5 463.5,2243.5 464.0,2243.3 464.5,2243.7 465.0,2243.5 465.5,2243.5 466.0,2243.6 466.5,2243.6 467.0,2243.3 467.5,2243.7 468.0,2243.7 468.5,2243.4 469.0,2243.6 469.5,2243.6 470.0,2243.4 470.5,2243.5 471.0,2243.5 471.5,2243.7 472.0,2243.2 472.5,2243.5 473.0,2243.4 473.5,2243.7 474.0,2243.4 474.5,2243.4 475.0,2243.4 475.5,2243.5 476.0,2243.5 476.5,2243.5 477.0,2243.5 477.5,2243.5 478.0,2243.4 478.5,2243.4 479.0,2243.4 479.5,2243.4 480.0,2243.7 480.5,2243.5 481.0,2243.5 481.5,2243.5 482.0,2243.5 482.5,2243.7 483.0,2243.7 483.5,2243.4 484.0,2243.5 484.5,2243.7 485.0,2243.4 485.5,2243.5 486.0,2243.6 486.5,2243.4 487.0,2243.6 487.5,2243.3 488.0,2243.6 488.5,2243.7 489.0,2243.4 489.5,2243.6 490.0,2243.7 490.5,2243.4 491.0,2243.5 491.5,2243.5 492.0,2243.3 492.5,2243.5 493.0,2243.7 493.5,2243.5 494.0,2243.7 494.5,2243.1 495.0,2243.5 495.5,2243.2 496.0,2243.4 496.5,2243.5 497.0,2243.7 497.5,2243.4 498.0,2243.7 498.5,2243.5 499.0,2243.5 499.5,2243.3 500.0,2243.3 500.5,2243.4 501.0,2243.5 501.5,2243.7 502.0,2243.7 502.5,2243.6 503.0,2243.5 503.5,2243.4 504.0,2243.2 504.5,2242.3 505.0,2241.5 505.5,2240.6 506.0,2239.6 506.5,2239.7 507.0,2240.0 507.5,2241.0 508.0,2241.9 508.5,2242.6 509.0,2243.2 509.5,2243.3 510.0,2243.4 510.5,2243.5 511.0,2243.7 511.5,2243.4 512.0,2243.6 512.5,2243.6 513.0,2243.5 513.5,2243.4 514.0,2243.6 514.5,2243.4 515.0,2243.3 515.5,2243.7 516.0,2243.3 516.5,2243.4 517.0,2243.4 517.5,2243.5 518.0,2243.6 518.5,2243.4 519.0,2243.5 519.5,2243.5 520.0,2243.4 520.5,2243.6 521.0,2243.6 521.5,2243.6 522.0,2243.7 522.5,2243.6 523.0,2243.6 523.5,2243.2 524.0,2243.4 524.5,2243.6 525.0,2243.3 525.5,2243.5 526.0,2243.6 526.5,2243.6 527.0,2243.5 527.5,2243.5 528.0,2243.5 528.5,2243.3 529.0,2243.5 529.5,2243.4 530.0,2243.5 530.5,2243.3 531.0,2243.3 531.5,2243.5 532.0,2243.6 532.5,2243.5 533.0,2243.3 533.5,2243.4 534.0,2243.4 534.5,2243.5 535.0,2243.6 535.5,2243.6 536.0,2243.6 536.5,2243.7 537.0,2243.5 537.5,2243.5 538.0,2243.6 538.5,2243.3 539.0,2243.3 539.5,2243.5 540.0,2243.7 540.5,2243.4 541.0,2243.5 541.5,2243.4 542.0,2243.6 542.5,2243.5 543.0,2243.5 543.5,2243.4 544.0,2243.5 544.5,2243.3 545.0,2243.4 545.5,2243.6 546.0,2243.2 546.5,2243.7 547.0,2243.4 547.5,2243.5 548.0,2243.7 548.5,2243.2 549.0,2243.3 549.5,2243.4 550.0,2243.5 550.5,2243.6 551.0,2243.7 551.5,2243.4 552.0,2243.7 552.5,2243.5 553.0,2243.5 553.5,2243.6 554.0,2243.4 554.5,2243.3 555.0,2243.6 555.5,2243.5 556.0,2243.5 556.5,2243.5 557.0,2243.3 557.5,2243.6 558.0,2243.7 558.5,2243.5 559.0,2243.6 559.5,2243.5 560.0,2243.6 560.5,2243.6 561.0,2243.2 561.5,2243.6 562.0,2243.6 562.5,2243.3 563.0,2243.5 563.5,2243.6 564.0,2243.7 564.5,2243.4 565.0,2243.8 565.5,2243.6 566.0,2243.5 566.5,2243.6 567.0,2243.6 567.5,2243.6 568.0,2243.4 568.5,2243.6 569.0,2243.6 569.5,2243.9 570.0,2243.6 570.5,2243.5 571.0,2243.4 571.5,2243.5 572.0,2243.5 572.5,2243.3 573.0,2243.4 573.5,2243.5 574.0,2243.5 574.5,2243.7 575.0,2243.6 575.5,2243.5 576.0,2243.6 576.5,2243.5 577.0,2243.4 577.5,2243.3 578.0,2243.5 578.5,2243.6 579.0,2243.6 579.5,2243.2 580.0,2243.4 580.5,2243.4 581.0,2242.7 581.5,2240.5 582.0,2237.4 582.5,2235.5 583.0,2237.5 583.5,2241.6 584.0,2246.6 584.5,2250.2 585.0,2251.5 585.5,2248.8 586.0,2245.8 586.5,2244.0 587.0,2243.4 587.5,2243.7 588.0,2243.5 588.5,2243.6 589.0,2243.4 589.5,2243.4 590.0,2243.5 590.5,2243.7 591.0,2243.4 591.5,2243.8 592.0,2243.5 592.5,2243.7 593.0,2243.3 593.5,2243.5 594.0,2243.6 594.5,2243.7 595.0,2243.5 595.5,2243.8 596.0,2243.4 596.5,2243.5 597.0,2243.7 597.5,2243.6 598.0,2243.5 598.5,2243.6 599.0,2243.4 599.5,2243.6 600.0,2243.3 600.5,2243.4 601.0,2243.6 601.5,2243.6 602.0,2243.5 602.5,2243.4 603.0,2243.5 603.5,2243.4 604.0,2243.7 604.5,2243.8 605.0,2243.4 605.5,2243.6 606.0,2243.6 606.5,2243.6 607.0,2243.6 607.5,2243.6 608.0,2243.2 608.5,2243.4 609.0,2243.4 609.5,2243.5 610.0,2243.4 610.5,2243.4 611.0,2243.5 611.5,2243.6 612.0,2243.5 612.5,2243.4 613.0,2243.4 613.5,2243.3 614.0,2243.4 614.5,2243.4 615.0,2243.4 615.5,2243.6 616.0,2243.5 616.5,2243.6 617.0,2243.5 617.5,2243.6 618.0,2243.6 618.5,2243.6 619.0,2243.8 619.5,2243.5 620.0,2243.4 620.5,2243.3 621.0,2243.6 621.5,2243.7 622.0,2243.5 622.5,2243.5 623.0,2243.4 623.5,2243.5 624.0,2243.2 624.5,2243.6 625.0,2243.4 625.5,2243.6 626.0,2243.7 626.5,2243.3 627.0,2243.5 627.5,2243.4 628.0,2243.4 628.5,2243.6 629.0,2243.6 629.5,2243.6 630.0,2243.6 630.5,2243.5 631.0,2243.5 631.5,2243.6 632.0,2243.6 632.5,2243.5 633.0,2243.6 633.5,2243.4 634.0,2243.3 634.5,2243.7 635.0,2243.5 635.5,2243.5 636.0,2243.4 636.5,2243.5 637.0,2243.4 637.5,2243.6 638.0,2243.7 638.5,2243.4 639.0,2243.4 639.5,2243.5 640.0,2243.5 640.5,2243.5 641.0,2243.3 641.5,2243.3 642.0,2242.2 642.5,2239.2 643.0,2235.0 643.5,2233.6 644.0,2236.8 644.5,2242.2 645.0,2247.8 645.5,2251.8 646.0,2252.0 646.5,2248.4 647.0,2244.4 647.5,2240.1 648.0,2237.6 648.5,2238.6 649.0,2241.9 649.5,2243.2 650.0,2243.5 650.5,2243.5 651.0,2243.5 651.5,2243.5 652.0,2243.5 652.5,2243.3 653.0,2243.4 653.5,2243.5 654.0,2243.6 654.5,2243.5 655.0,2243.4 655.5,2243.5 656.0,2243.4 656.5,2243.6 657.0,2243.3 657.5,2243.4 658.0,2243.6 658.5,2243.5 659.0,2243.8 659.5,2243.4 660.0,2243.7 660.5,2243.5 661.0,2243.7 661.5,2243.7 662.0,2243.4 662.5,2243.4 663.0,2243.4 663.5,2243.8 664.0,2243.6 664.5,2243.4 665.0,2243.3 665.5,2243.6 666.0,2243.5 666.5,2243.4 667.0,2243.5 667.5,2243.3 668.0,2243.5 668.5,2243.5 669.0,2243.6 669.5,2243.4 670.0,2243.5 670.5,2243.5 671.0,2243.2 671.5,2243.2 672.0,2243.6 672.5,2243.4 673.0,2243.6 673.5,2243.4 674.0,2243.6 674.5,2243.7 675.0,2243.8 675.5,2243.5 676.0,2243.7 676.5,2243.6 677.0,2243.1 677.5,2243.2 678.0,2243.6 678.5,2243.7 679.0,2243.5 679.5,2243.5 680.0,2243.4 680.5,2243.4 681.0,2243.6 681.5,2243.5 682.0,2243.4 682.5,2243.6 683.0,2243.4 683.5,2243.5 684.0,2243.4 684.5,2243.5 685.0,2243.5 685.5,2243.3 686.0,2243.6 686.5,2243.6 687.0,2243.5 687.5,2243.4 688.0,2243.7 688.5,2243.4 689.0,2243.5 689.5,2243.6 690.0,2243.6 690.5,2243.5 691.0,2243.5 691.5,2243.7 692.0,2243.4 692.5,2243.3 693.0,2243.3 693.5,2243.5 694.0,2243.4 694.5,2243.6 695.0,2243.6 695.5,2243.3 696.0,2243.3 696.5,2243.5 697.0,2243.5 697.5,2243.3 698.0,2243.4 698.5,2242.1 699.0,2235.2 699.5,2224.3 700.0,2229.2 700.5,2240.4 701.0,2247.0 701.5,2262.1 702.0,2273.5 702.5,2259.1 703.0,2246.2 703.5,2243.2 704.0,2238.4 704.5,2214.4 705.0,2191.6 705.5,2215.6 706.0,2265.8 706.5,2296.5 707.0,2253.2 707.5,2206.6 708.0,2196.3 708.5,2247.3 709.0,2279.2 709.5,2277.0 710.0,2253.2 710.5,2241.2 711.0,2231.8 711.5,2229.5 712.0,2238.2 712.5,2242.8 713.0,2243.6 713.5,2243.6 714.0,2243.2 714.5,2243.3 715.0,2243.5 715.5,2243.5 716.0,2243.6 716.5,2243.5 717.0,2243.5 717.5,2243.7 718.0,2243.3 718.5,2243.4 719.0,2243.4 719.5,2243.5 720.0,2243.5 720.5,2243.5 721.0,2243.6 721.5,2243.5 722.0,2243.7 722.5,2243.4 723.0,2243.4 723.5,2243.6 724.0,2243.5 724.5,2243.6 725.0,2243.5 725.5,2243.3 726.0,2243.5 726.5,2243.4 727.0,2243.6 727.5,2243.5 728.0,2243.5 728.5,2243.4 729.0,2243.6 729.5,2243.5 730.0,2243.3 730.5,2243.6 731.0,2243.7 731.5,2243.6 732.0,2243.5 732.5,2243.4 733.0,2243.5 733.5,2243.6 734.0,2243.6 734.5,2243.5 735.0,2243.6 735.5,2243.7 736.0,2243.5 736.5,2243.6 737.0,2243.6 737.5,2243.6 738.0,2243.7 738.5,2243.4 739.0,2243.4 739.5,2243.5 740.0,2243.4 740.5,2243.4 741.0,2243.6 741.5,2243.6 742.0,2243.4 742.5,2243.2 743.0,2243.2 743.5,2243.3 744.0,2242.6 744.5,2240.7 745.0,2238.9 745.5,2238.8 746.0,2240.5 746.5,2242.4 747.0,2243.0 747.5,2243.5 748.0,2243.4 748.5,2243.5 749.0,2243.3 749.5,2243.4 750.0,2243.4 750.5,2243.4 751.0,2243.5 751.5,2243.5 752.0,2243.5 752.5,2243.6 753.0,2243.6 753.5,2243.5 754.0,2243.6 754.5,2243.5 755.0,2243.6 755.5,2243.5 756.0,2243.1 756.5,2242.1 757.0,2239.9 757.5,2237.7 758.0,2238.0 758.5,2240.4 759.0,2242.4 759.5,2243.3 760.0,2243.5 760.5,2243.6 761.0,2243.7 761.5,2243.6 762.0,2243.6 762.5,2243.6 763.0,2243.3 763.5,2243.4 764.0,2243.6 764.5,2243.5 765.0,2243.4 765.5,2243.6 766.0,2243.4 766.5,2243.4 767.0,2243.5 767.5,2243.5 768.0,2243.6 768.5,2243.8 769.0,2243.4 769.5,2243.6 770.0,2243.4 770.5,2243.5 771.0,2243.5 771.5,2243.7 772.0,2243.5 772.5,2243.3 773.0,2243.2 773.5,2243.7 774.0,2243.5 774.5,2243.6 775.0,2243.5 775.5,2243.4 776.0,2243.4 776.5,2243.6 777.0,2243.4 777.5,2243.6 778.0,2243.6 778.5,2243.3 779.0,2243.7 779.5,2243.5 780.0,2243.5 780.5,2243.5 781.0,2243.6 781.5,2243.5 782.0,2243.7 782.5,2244.3 783.0,2247.8 783.5,2254.9 784.0,2258.5 784.5,2252.7 785.0,2244.4 785.5,2235.6 786.0,2225.6 786.5,2225.0 787.0,2234.5 787.5,2243.7 788.0,2262.3 788.5,2287.3 789.0,2275.7 789.5,2251.0 790.0,2244.2 790.5,2243.4 791.0,2243.4 791.5,2243.4 792.0,2243.4 792.5,2243.5 793.0,2243.5 793.5,2243.5 794.0,2243.6 794.5,2242.2 795.0,2233.7 795.5,2219.5 796.0,2225.7 796.5,2248.7 797.0,2276.7 797.5,2279.3 798.0,2254.0 798.5,2232.0 799.0,2211.2 799.5,2217.4 800.0,2237.8 800.5,2248.2 801.0,2259.0 801.5,2265.5 802.0,2258.7 802.5,2248.5 803.0,2244.2 803.5,2243.5 804.0,2243.4 804.5,2243.5 805.0,2243.5 805.5,2243.4 806.0,2243.7 806.5,2243.5 807.0,2243.6 807.5,2243.7 808.0,2243.4 808.5,2243.7 809.0,2243.6 809.5,2243.4 810.0,2243.5 810.5,2243.2 811.0,2243.4 811.5,2243.5 812.0,2243.3 812.5,2242.7 813.0,2240.9 813.5,2238.4 814.0,2237.5 814.5,2239.2 815.0,2241.7 815.5,2243.1 816.0,2243.7 816.5,2243.4 817.0,2243.5 817.5,2243.5 818.0,2243.4 818.5,2243.5 819.0,2243.5 819.5,2243.7 820.0,2243.6 820.5,2243.4 821.0,2243.3 821.5,2243.5 822.0,2243.6 822.5,2243.6 823.0,2243.5 823.5,2243.5 824.0,2243.5 824.5,2243.5 825.0,2243.5 825.5,2243.6 826.0,2243.5 826.5,2243.3 827.0,2243.5 827.5,2243.4 828.0,2243.5 828.5,2243.5 829.0,2243.3 829.5,2243.5 830.0,2243.5 830.5,2243.6 831.0,2243.6 831.5,2243.5 832.0,2243.5 832.5,2243.6 833.0,2243.4 833.5,2243.7 834.0,2243.7 834.5,2243.5 835.0,2243.4 835.5,2243.7 836.0,2243.5 836.5,2243.5 837.0,2243.5 837.5,2243.5 838.0,2243.5 838.5,2243.6 839.0,2243.5 839.5,2243.5 840.0,2243.6 840.5,2243.6 841.0,2243.5 841.5,2243.5 842.0,2243.6 842.5,2243.3 843.0,2243.5 843.5,2243.5 844.0,2243.4 844.5,2243.5 845.0,2243.7 845.5,2243.6 846.0,2243.4 846.5,2243.5 847.0,2243.5 847.5,2243.4 848.0,2243.4 848.5,2243.5 849.0,2243.5 849.5,2243.7 850.0,2243.7 850.5,2243.5 851.0,2243.5 851.5,2243.3 852.0,2243.4 852.5,2243.4 853.0,2243.5 853.5,2243.7 854.0,2243.5 854.5,2243.7 855.0,2243.5 855.5,2243.5 856.0,2243.5 856.5,2243.2 857.0,2243.4 857.5,2243.5 858.0,2243.6 858.5,2243.4 859.0,2243.5 859.5,2243.4 860.0,2243.5 860.5,2243.4 861.0,2243.6 861.5,2243.4 862.0,2243.4 862.5,2243.5 863.0,2243.6 863.5,2243.5 864.0,2243.5 864.5,2243.6 865.0,2243.5 865.5,2243.6 866.0,2243.6 866.5,2243.5 867.0,2243.3 867.5,2243.5 868.0,2243.6 868.5,2243.6 869.0,2243.4 869.5,2243.4 870.0,2243.5 870.5,2243.5 871.0,2243.5 871.5,2243.4 872.0,2243.5 872.5,2243.5 873.0,2243.2 873.5,2243.6 874.0,2243.4 874.5,2243.3 875.0,2243.3 875.5,2243.5 876.0,2243.3 876.5,2243.5 877.0,2243.4 877.5,2243.4 878.0,2243.4 878.5,2243.7 879.0,2243.5 879.5,2243.7 880.0,2243.3 880.5,2243.5 881.0,2243.4 881.5,2243.6 882.0,2243.7 882.5,2243.5 883.0,2243.3 883.5,2243.5 884.0,2243.6 884.5,2243.7 885.0,2243.5 885.5,2243.5 886.0,2243.4 886.5,2243.3 887.0,2243.4 887.5,2243.6 888.0,2243.4 888.5,2243.6 889.0,2243.5 889.5,2243.4 890.0,2243.4 890.5,2243.3 891.0,2243.5 891.5,2243.6 892.0,2243.6 892.5,2243.5 893.0,2243.5 893.5,2243.3 894.0,2243.3 894.5,2243.4 895.0,2243.4 895.5,2243.3 896.0,2243.4 896.5,2243.5 897.0,2243.5 897.5,2243.5 898.0,2243.3 898.5,2243.4 899.0,2243.6 899.5,2243.4 900.0,2243.5 900.5,2243.7 901.0,2243.7 901.5,2243.3 902.0,2243.5 902.5,2243.4 903.0,2243.4 903.5,2243.6 904.0,2243.5 904.5,2243.6 905.0,2243.3 905.5,2243.2 906.0,2243.5 906.5,2243.5 907.0,2243.6 907.5,2243.4 908.0,2243.6 908.5,2243.6 909.0,2243.2 909.5,2243.5 910.0,2243.4 910.5,2243.4 911.0,2243.4 911.5,2243.5 912.0,2243.7 912.5,2243.4 913.0,2243.4 913.5,2243.6 914.0,2243.8 914.5,2243.3 915.0,2243.6 915.5,2243.4 916.0,2243.7 916.5,2243.6 917.0,2243.5 917.5,2243.6 918.0,2243.5 918.5,2243.5 919.0,2243.5 919.5,2243.3 920.0,2243.5 920.5,2243.6 921.0,2243.2 921.5,2243.3 922.0,2243.6 922.5,2243.6 923.0,2243.5 923.5,2243.6 924.0,2243.5 924.5,2243.7 925.0,2243.4 925.5,2243.7 926.0,2243.5 926.5,2243.4 927.0,2243.6 927.5,2243.4 928.0,2243.7 928.5,2243.4 929.0,2243.3 929.5,2243.3 930.0,2243.5 930.5,2243.8 931.0,2243.6 931.5,2243.5 932.0,2243.2 932.5,2243.3 933.0,2243.5 933.5,2243.4 934.0,2243.5 934.5,2243.5 935.0,2243.6 935.5,2243.4 936.0,2243.6 936.5,2243.6 937.0,2243.5 937.5,2243.6 938.0,2243.5 938.5,2243.4 939.0,2243.5 939.5,2243.5 940.0,2243.4 940.5,2243.5 941.0,2243.5 941.5,2243.6 942.0,2243.6 942.5,2243.3 943.0,2243.3 943.5,2243.4 944.0,2243.6 944.5,2243.3 945.0,2243.4 945.5,2243.3 946.0,2243.4 946.5,2243.5 947.0,2243.6 947.5,2243.7 948.0,2243.4 948.5,2242.5 949.0,2239.1 949.5,2234.4 950.0,2234.5 950.5,2239.6 951.0,2245.7 951.5,2251.0 952.0,2252.0 952.5,2248.3 953.0,2244.8 953.5,2243.7 954.0,2243.6 954.5,2243.7 955.0,2243.6 955.5,2243.8 956.0,2243.5 956.5,2243.4 957.0,2243.3 957.5,2243.6 958.0,2243.7 958.5,2243.4 959.0,2243.5 959.5,2243.3 960.0,2243.7 960.5,2243.5 961.0,2243.6 961.5,2243.4 962.0,2243.5 962.5,2243.6 963.0,2243.5 963.5,2243.3 964.0,2243.4 964.5,2243.5 965.0,2243.6 965.5,2243.5 966.0,2243.6 966.5,2243.5 967.0,2243.3 967.5,2243.6 968.0,2243.5 968.5,2243.3 969.0,2243.5 969.5,2243.4 970.0,2243.8 970.5,2243.5 971.0,2243.5 971.5,2243.6 972.0,2243.3 972.5,2243.6 973.0,2243.5 973.5,2243.6 974.0,2243.3 974.5,2243.6 975.0,2243.3 975.5,2243.5 976.0,2243.5 976.5,2243.6 977.0,2243.6 977.5,2243.3 978.0,2243.7 978.5,2243.5 979.0,2243.5 979.5,2243.6 980.0,2243.7 980.5,2243.4 981.0,2243.5 981.5,2243.5 982.0,2243.7 982.5,2243.5 983.0,2243.8 983.5,2243.6 984.0,2243.4 984.5,2243.4 985.0,2243.5 985.5,2243.5 986.0,2243.4 986.5,2243.5 987.0,2243.6 987.5,2243.5 988.0,2243.6 988.5,2243.6 989.0,2243.6 989.5,2243.7 990.0,2243.7 990.5,2243.4 991.0,2243.5 991.5,2243.6 992.0,2243.4 992.5,2243.3 993.0,2243.5 993.5,2243.4 994.0,2243.5 994.5,2243.4 995.0,2243.6 995.5,2243.4 996.0,2243.3 996.5,2243.5 997.0,2243.5 997.5,2243.4 998.0,2243.5 998.5,2243.4 999.0,2243.7 999.5,2243.6 1000.0,2243.6 1000.5,2243.5 1001.0,2243.5 1001.5,2243.3 1002.0,2243.5 1002.5,2243.6 1003.0,2243.4 1003.5,2243.5 1004.0,2243.4 1004.5,2243.6 1005.0,2243.5 1005.5,2243.7 1006.0,2243.6 1006.5,2243.4 1007.0,2243.5 1007.5,2243.7 1008.0,2243.6 1008.5,2242.8 1009.0,2241.3 1009.5,2239.3 1010.0,2238.4 1010.5,2239.8 1011.0,2242.3 1011.5,2243.1 1012.0,2243.6 1012.5,2243.4 1013.0,2243.8 1013.5,2244.7 1014.0,2246.0 1014.5,2247.4 1015.0,2246.8 1015.5,2245.2 1016.0,2244.0 1016.5,2243.7 1017.0,2243.6 1017.5,2243.4 1018.0,2243.4 1018.5,2243.7 1019.0,2243.5 1019.5,2243.5 1020.0,2243.7 1020.5,2243.5 1021.0,2243.3 1021.5,2243.6 1022.0,2243.3 1022.5,2242.6 1023.0,2241.0 1023.5,2237.9 1024.0,2236.4 1024.5,2238.2 1025.0,2241.2 1025.5,2242.6 1026.0,2243.6 1026.5,2244.8 1027.0,2247.1 1027.5,2248.5 1028.0,2246.9 1028.5,2244.7 1029.0,2243.5 1029.5,2243.7 1030.0,2243.4 1030.5,2243.3 1031.0,2243.5 1031.5,2243.6 1032.0,2243.6 1032.5,2243.3 1033.0,2243.4 1033.5,2241.8 1034.0,2238.1 1034.5,2235.5 1035.0,2237.9 1035.5,2242.0 1036.0,2245.2 1036.5,2248.4 1037.0,2249.4 1037.5,2246.9 1038.0,2244.4 1038.5,2243.6 1039.0,2243.7 1039.5,2243.4 1040.0,2243.3 1040.5,2243.4 1041.0,2243.5 1041.5,2243.4 1042.0,2243.5 1042.5,2243.6 1043.0,2243.5 1043.5,2243.6 1044.0,2243.6 1044.5,2243.6 1045.0,2243.4 1045.5,2243.4 1046.0,2243.5 1046.5,2243.4 1047.0,2243.4 1047.5,2243.4 1048.0,2243.4 1048.5,2243.3 1049.0,2243.3 1049.5,2243.7 1050.0,2243.3 1050.5,2243.5 1051.0,2243.6 1051.5,2243.6 1052.0,2243.4 1052.5,2243.5 1053.0,2243.5 1053.5,2243.5 1054.0,2243.5 1054.5,2243.6 1055.0,2243.5 1055.5,2243.4 1056.0,2243.4 1056.5,2243.4 1057.0,2243.5 1057.5,2243.6 1058.0,2243.5 1058.5,2243.6 1059.0,2243.6 1059.5,2243.4 1060.0,2243.6 1060.5,2243.5 1061.0,2243.2 1061.5,2241.8 1062.0,2237.9 1062.5,2233.7 1063.0,2235.4 1063.5,2240.3 1064.0,2245.0 1064.5,2249.4 1065.0,2251.3 1065.5,2248.7 1066.0,2245.4 1066.5,2243.9 1067.0,2243.5 1067.5,2243.5 1068.0,2243.5 1068.5,2243.6 1069.0,2243.5 1069.5,2243.6 1070.0,2243.4 1070.5,2243.3 1071.0,2243.5 1071.5,2243.4 1072.0,2243.6 1072.5,2243.5 1073.0,2243.6 1073.5,2243.3 1074.0,2243.5 1074.5,2242.1 1075.0,2237.0 1075.5,2231.5 1076.0,2236.8 1076.5,2244.4 1077.0,2252.1 1077.5,2255.0 1078.0,2247.5 1078.5,2238.9 1079.0,2233.6 1079.5,2237.6 1080.0,2242.2 1080.5,2243.3 1081.0,2243.5 1081.5,2243.7 1082.0,2243.4 1082.5,2243.5 1083.0,2243.6 1083.5,2243.5 1084.0,2243.2 1084.5,2243.6 1085.0,2243.3 1085.5,2243.5 1086.0,2243.3 1086.5,2243.4 1087.0,2243.6 1087.5,2243.2 1088.0,2243.3 1088.5,2243.4 1089.0,2243.4 1089.5,2243.5 1090.0,2243.5 1090.5,2243.5 1091.0,2243.5 1091.5,2243.5 1092.0,2243.7 1092.5,2243.4 1093.0,2243.5 1093.5,2243.5 1094.0,2243.6 1094.5,2243.2 1095.0,2243.4 1095.5,2243.5 1096.0,2243.5 1096.5,2243.6 1097.0,2243.3 1097.5,2243.8 1098.0,2243.5 1098.5,2243.4 1099.0,2243.4 1099.5,2243.1 1100.0,2242.2 1100.5,2240.2 1101.0,2237.8 1101.5,2237.9 1102.0,2239.9 1102.5,2242.3 1103.0,2243.3 1103.5,2244.4 1104.0,2246.1 1104.5,2248.2 1105.0,2248.3 1105.5,2246.5 1106.0,2244.8 1106.5,2243.8 1107.0,2243.4 1107.5,2243.5 1108.0,2243.4 1108.5,2243.6 1109.0,2243.7 1109.5,2243.7 1110.0,2243.5 1110.5,2243.5 1111.0,2243.6 1111.5,2243.6 1112.0,2243.2 1112.5,2243.4 1113.0,2243.4 1113.5,2243.2 1114.0,2242.5 1114.5,2240.5 1115.0,2238.0 1115.5,2237.8 1116.0,2240.0 1116.5,2243.4 1117.0,2246.6 1117.5,2248.3 1118.0,2247.7 1118.5,2245.9 1119.0,2244.3 1119.5,2243.6 1120.0,2243.5 1120.5,2243.4 1121.0,2243.6 1121.5,2243.7 1122.0,2243.6 1122.5,2243.4 1123.0,2243.5 1123.5,2243.6 1124.0,2243.4 1124.5,2243.5 1125.0,2243.4 1125.5,2243.7 1126.0,2243.6 1126.5,2243.5 1127.0,2243.3 1127.5,2243.6 1128.0,2243.4 1128.5,2243.6 1129.0,2243.6 1129.5,2243.6 1130.0,2243.5 1130.5,2243.4 1131.0,2243.5 1131.5,2243.5 1132.0,2243.1 1132.5,2243.4 1133.0,2243.6 1133.5,2243.5 1134.0,2243.7 1134.5,2243.5 1135.0,2243.6 1135.5,2243.6 1136.0,2243.6 1136.5,2243.7 1137.0,2243.5 1137.5,2243.4 1138.0,2243.3 1138.5,2243.5 1139.0,2243.4 1139.5,2243.4 1140.0,2243.5 1140.5,2243.5 1141.0,2243.5 1141.5,2243.7 1142.0,2243.5 1142.5,2243.4 1143.0,2243.5 1143.5,2243.4 1144.0,2243.5 1144.5,2243.6 1145.0,2243.7 1145.5,2243.6 1146.0,2243.5 1146.5,2243.5 1147.0,2243.5 1147.5,2243.5 1148.0,2243.3 1148.5,2243.4 1149.0,2243.6 1149.5,2243.6 1150.0,2243.5 1150.5,2243.5 1151.0,2243.3 1151.5,2242.9 1152.0,2241.8 1152.5,2241.0 1153.0,2240.6 1153.5,2241.7 1154.0,2242.9 1154.5,2243.2 1155.0,2243.3 1155.5,2243.4 1156.0,2243.5 1156.5,2243.6 1157.0,2243.4 1157.5,2243.4 1158.0,2243.4 1158.5,2243.5 1159.0,2243.5 1159.5,2243.6 1160.0,2243.6 1160.5,2243.6 1161.0,2243.5 1161.5,2243.4 1162.0,2243.5 1162.5,2243.5 1163.0,2243.5 1163.5,2243.6 1164.0,2243.4 1164.5,2243.6 1165.0,2243.5 1165.5,2243.3 1166.0,2243.6 1166.5,2243.5 1167.0,2243.4 1167.5,2243.6 1168.0,2243.6 1168.5,2243.4 1169.0,2243.5 1169.5,2243.3 1170.0,2243.5 1170.5,2243.5 1171.0,2243.5 1171.5,2243.5 1172.0,2243.7 1172.5,2243.6 1173.0,2243.5 1173.5,2243.5 1174.0,2243.5 1174.5,2243.4 1175.0,2243.4 1175.5,2243.5 1176.0,2243.6 1176.5,2243.4 1177.0,2243.3 1177.5,2243.6 1178.0,2243.4 1178.5,2242.7 1179.0,2239.8 1179.5,2236.0 1180.0,2236.2 1180.5,2240.1 1181.0,2243.5 1181.5,2250.3 1182.0,2257.3 1182.5,2252.7 1183.0,2245.3 1183.5,2243.6 1184.0,2243.6 1184.5,2242.8 1185.0,2237.5 1185.5,2230.9 1186.0,2234.8 1186.5,2241.6 1187.0,2245.9 1187.5,2254.7 1188.0,2260.4 1188.5,2251.6 1189.0,2244.4 1189.5,2240.4 1190.0,2233.4 1190.5,2232.8 1191.0,2239.9 1191.5,2243.3 1192.0,2243.5 1192.5,2243.7 1193.0,2243.3 1193.5,2243.5 1194.0,2243.5 1194.5,2243.4 1195.0,2243.7 1195.5,2243.5 1196.0,2243.3 1196.5,2243.6 1197.0,2243.3 1197.5,2243.5 1198.0,2243.6 1198.5,2243.8 1199.0,2243.5 1199.5,2243.5 1200.0,2243.5 1200.5,2243.4 1201.0,2243.6 1201.5,2243.7 1202.0,2243.7 1202.5,2243.3 1203.0,2243.7 1203.5,2243.6 1204.0,2243.5 1204.5,2243.6 1205.0,2243.5 1205.5,2243.9 1206.0,2243.9 1206.5,2244.0 1207.0,2244.0 1207.5,2244.1 1208.0,2244.4 1208.5,2244.7 1209.0,2245.0 1209.5,2245.8 1210.0,2247.4 1210.5,2249.7 1211.0,2251.4 1211.5,2252.0 1212.0,2251.1 1212.5,2249.7 1213.0,2248.5 1213.5,2248.2 1214.0,2248.3 1214.5,2248.6 1215.0,2249.2 1215.5,2249.8 1216.0,2249.9 1216.5,2250.6 1217.0,2250.7 1217.5,2251.3 1218.0,2251.4 1218.5,2252.0 1219.0,2252.2 1219.5,2252.1 1220.0,2252.4 1220.5,2252.3 1221.0,2252.7 1221.5,2252.6 1222.0,2252.3 1222.5,2251.9 1223.0,2251.8 1223.5,2251.4 1224.0,2251.1 1224.5,2250.7 1225.0,2250.1 1225.5,2249.5 1226.0,2248.7 1226.5,2248.0 1227.0,2247.5 1227.5,2246.6 1228.0,2245.8 1228.5,2244.9 1229.0,2244.2 1229.5,2243.5 1230.0,2242.8 1230.5,2242.1 1231.0,2241.7 1231.5,2241.2 1232.0,2241.0 1232.5,2240.7 1233.0,2240.6 1233.5,2240.4 1234.0,2240.7 1234.5,2240.6 1235.0,2240.8 1235.5,2241.2 1236.0,2241.3 1236.5,2242.0 1237.0,2242.0 1237.5,2242.3 1238.0,2242.6 1238.5,2242.5 1239.0,2243.0 1239.5,2242.9 1240.0,2243.1 1240.5,2243.0 1241.0,2243.4 1241.5,2243.4 1242.0,2243.2 1242.5,2243.4 1243.0,2243.6 1243.5,2243.4 1244.0,2243.5 1244.5,2243.4 1245.0,2243.4 1245.5,2243.6 1246.0,2243.2 1246.5,2242.7 1247.0,2242.1 1247.5,2240.6 1248.0,2239.6 1248.5,2238.8 1249.0,2238.4 1249.5,2239.4 1250.0,2240.8 1250.5,2241.9 1251.0,2242.5 1251.5,2243.2 1252.0,2243.3 1252.5,2243.4 1253.0,2243.7 1253.5,2243.5 1254.0,2243.5 1254.5,2243.5 1255.0,2243.4 1255.5,2243.3 1256.0,2243.5 1256.5,2243.5 1257.0,2243.5 1257.5,2243.7 1258.0,2243.6 1258.5,2243.4 1259.0,2243.5 1259.5,2243.7 1260.0,2243.7 1260.5,2243.6 1261.0,2243.4 1261.5,2243.4 1262.0,2243.4 1262.5,2243.5 1263.0,2243.3 1263.5,2242.8 1264.0,2241.5 1264.5,2240.5 1265.0,2239.7 1265.5,2239.8 1266.0,2240.7 1266.5,2241.9 1267.0,2242.8 1267.5,2243.2 1268.0,2243.4 1268.5,2243.6 1269.0,2243.5 1269.5,2243.7 1270.0,2243.5 1270.5,2243.4 1271.0,2243.6 1271.5,2243.4 1272.0,2243.5 1272.5,2243.3 1273.0,2243.5 1273.5,2243.4 1274.0,2243.4 1274.5,2243.4 1275.0,2243.6 1275.5,2243.9 1276.0,2244.5 1276.5,2245.5 1277.0,2246.1 1277.5,2247.2 1278.0,2247.4 1278.5,2247.3 1279.0,2246.4 1279.5,2245.5 1280.0,2244.6 1280.5,2243.9 1281.0,2243.6 1281.5,2243.5 1282.0,2243.5 1282.5,2243.6 1283.0,2243.3 1283.5,2243.7 1284.0,2243.6 1284.5,2243.4 1285.0,2243.6 1285.5,2243.6 1286.0,2243.4 1286.5,2243.4 1287.0,2243.5 1287.5,2243.4 1288.0,2243.5 1288.5,2243.4 1289.0,2243.7 1289.5,2243.3 1290.0,2243.7 1290.5,2243.4 1291.0,2243.5 1291.5,2243.7 1292.0,2243.4 1292.5,2243.4 1293.0,2243.4 1293.5,2243.2 1294.0,2243.4 1294.5,2243.8 1295.0,2243.4 1295.5,2243.5 1296.0,2243.6 1296.5,2243.6 1297.0,2243.2 1297.5,2243.6 1298.0,2243.7 1298.5,2243.7 1299.0,2243.3 1299.5,2243.5 1300.0,2243.7 1300.5,2243.6 1301.0,2243.4 1301.5,2243.5 1302.0,2243.6 1302.5,2243.4 1303.0,2243.5 1303.5,2243.5 1304.0,2243.4 1304.5,2243.5 1305.0,2243.4 1305.5,2243.7 1306.0,2243.5 1306.5,2243.6 1307.0,2243.5 1307.5,2243.6 1308.0,2243.4 1308.5,2243.5 1309.0,2243.4 1309.5,2243.5 1310.0,2243.5 1310.5,2243.3 1311.0,2243.3 1311.5,2243.4 1312.0,2243.6 1312.5,2243.4 1313.0,2243.4 1313.5,2243.2 1314.0,2243.9 1314.5,2243.5 1315.0,2243.3 1315.5,2243.3 1316.0,2243.6 1316.5,2243.5 1317.0,2243.5 1317.5,2243.5 1318.0,2243.5 1318.5,2243.6 1319.0,2243.8 1319.5,2243.4 1320.0,2243.5 1320.5,2243.6 1321.0,2243.5 1321.5,2243.7 1322.0,2243.5 1322.5,2243.5 1323.0,2243.6 1323.5,2243.3 1324.0,2243.5 1324.5,2243.5 1325.0,2243.7 1325.5,2243.4 1326.0,2243.5 1326.5,2243.5 1327.0,2243.3 1327.5,2243.5 1328.0,2243.5 1328.5,2243.4 1329.0,2243.5 1329.5,2243.7 1330.0,2243.4 1330.5,2243.6 1331.0,2243.5 1331.5,2243.5 1332.0,2243.6 1332.5,2243.7 1333.0,2243.6 1333.5,2243.5 1334.0,2243.6 1334.5,2243.4 1335.0,2243.6 1335.5,2243.5 1336.0,2243.5 1336.5,2243.4 1337.0,2243.5 1337.5,2243.4 1338.0,2243.4 1338.5,2243.3 1339.0,2243.7 1339.5,2243.7 1340.0,2243.6 1340.5,2243.4 1341.0,2243.5 1341.5,2243.6 1342.0,2243.4 1342.5,2243.1 1343.0,2242.6 1343.5,2241.7 1344.0,2240.5 1344.5,2239.7 1345.0,2239.5 1345.5,2240.1 1346.0,2241.2 1346.5,2242.2 1347.0,2242.8 1347.5,2243.2 1348.0,2243.5 1348.5,2243.7 1349.0,2243.5 1349.5,2243.1 1350.0,2242.8 1350.5,2241.8 1351.0,2240.4 1351.5,2238.8 1352.0,2238.5 1352.5,2239.4 1353.0,2241.3 1353.5,2242.4 1354.0,2243.2 1354.5,2243.5 1355.0,2243.5 1355.5,2243.3 1356.0,2243.7 1356.5,2243.3 1357.0,2243.5 1357.5,2243.6 1358.0,2243.5 1358.5,2243.5 1359.0,2243.5 1359.5,2243.5 1360.0,2243.6 1360.5,2243.3 1361.0,2243.3 1361.5,2243.5 1362.0,2242.8 1362.5,2241.4 1363.0,2238.7 1363.5,2236.6 1364.0,2237.5 1364.5,2240.6 1365.0,2242.6 1365.5,2243.3 1366.0,2243.6 1366.5,2243.4 1367.0,2243.5 1367.5,2243.7 1368.0,2243.5 1368.5,2243.6 1369.0,2243.7 1369.5,2243.6 1370.0,2243.5 1370.5,2243.2 1371.0,2243.3 1371.5,2243.6 1372.0,2243.5 1372.5,2243.5 1373.0,2243.9 1373.5,2243.6 1374.0,2243.4 1374.5,2243.7 1375.0,2243.7 1375.5,2243.5 1376.0,2243.6 1376.5,2243.5 1377.0,2243.5 1377.5,2243.4 1378.0,2243.7 1378.5,2243.6 1379.0,2243.4 1379.5,2243.6 1380.0,2243.4 1380.5,2243.4 1381.0,2243.6 1381.5,2243.5 1382.0,2243.5 1382.5,2243.5 1383.0,2243.6 1383.5,2243.6 1384.0,2243.4 1384.5,2243.5 1385.0,2243.6 1385.5,2243.4 1386.0,2243.5 1386.5,2243.4 1387.0,2243.5 1387.5,2243.6 1388.0,2243.5 1388.5,2243.5 1389.0,2243.5 1389.5,2243.4 1390.0,2243.6 1390.5,2243.4 1391.0,2243.3 1391.5,2243.5 1392.0,2243.4 1392.5,2243.6 1393.0,2243.5 1393.5,2243.4 1394.0,2243.4 1394.5,2243.4 1395.0,2243.3 1395.5,2243.4 1396.0,2243.4 1396.5,2242.7 1397.0,2242.0 1397.5,2241.1 1398.0,2240.1 1398.5,2239.6 1399.0,2239.8 1399.5,2240.3 1400.0,2241.3 1400.5,2242.3 1401.0,2242.8 1401.5,2243.1 1402.0,2243.2 1402.5,2243.4 1403.0,2243.4 1403.5,2243.5 1404.0,2243.6 1404.5,2243.2 1405.0,2243.6 1405.5,2243.7 1406.0,2243.5 1406.5,2243.5 1407.0,2243.7 1407.5,2243.6 1408.0,2243.6 1408.5,2243.4 1409.0,2243.4 1409.5,2243.6 1410.0,2243.6 1410.5,2243.5 1411.0,2243.7 1411.5,2243.7 1412.0,2243.3 1412.5,2243.5 1413.0,2243.4 1413.5,2243.5 1414.0,2243.8 1414.5,2243.4 1415.0,2243.3 1415.5,2243.4 1416.0,2243.1 1416.5,2242.9 1417.0,2242.8 1417.5,2242.4 1418.0,2241.9 1418.5,2241.3 1419.0,2240.8 1419.5,2240.5 1420.0,2240.7 1420.5,2240.7 1421.0,2241.2 1421.5,2241.6 1422.0,2242.3 1422.5,2242.7 1423.0,2242.8 1423.5,2243.1 1424.0,2243.3 1424.5,2243.5 1425.0,2243.4 1425.5,2243.2 1426.0,2243.5 1426.5,2243.5 1427.0,2243.4 1427.5,2243.7 1428.0,2243.6 1428.5,2243.3 1429.0,2243.5 1429.5,2243.2 1430.0,2243.4 1430.5,2243.3 1431.0,2243.5 1431.5,2243.5 1432.0,2243.5 1432.5,2243.4 1433.0,2243.4 1433.5,2243.6 1434.0,2243.4 1434.5,2243.7 1435.0,2243.5 1435.5,2243.5 1436.0,2243.6 1436.5,2243.5 1437.0,2243.6 1437.5,2243.6 1438.0,2243.5 1438.5,2243.4 1439.0,2243.5 1439.5,2243.5 1440.0,2243.5 1440.5,2243.5 1441.0,2243.3 1441.5,2243.2 1442.0,2243.0 1442.5,2242.5 1443.0,2242.1 1443.5,2241.4 1444.0,2240.8 1444.5,2240.0 1445.0,2239.9 1445.5,2239.6 1446.0,2239.7 1446.5,2240.0 1447.0,2240.7 1447.5,2241.3 1448.0,2242.1 1448.5,2242.5 1449.0,2242.9 1449.5,2242.9 1450.0,2243.2 1450.5,2243.5 1451.0,2243.3 1451.5,2243.5 1452.0,2243.6 1452.5,2243.7 1453.0,2243.4 1453.5,2243.1 1454.0,2243.5 1454.5,2243.6 1455.0,2243.3 1455.5,2243.6 1456.0,2243.4 1456.5,2243.5 1457.0,2243.1 1457.5,2242.5 1458.0,2241.4 1458.5,2240.4 1459.0,2239.1 1459.5,2238.4 1460.0,2238.9 1460.5,2239.7 1461.0,2241.3 1461.5,2242.2 1462.0,2242.9 1462.5,2243.2 1463.0,2243.6 1463.5,2243.5 1464.0,2243.6 1464.5,2243.4 1465.0,2243.6 1465.5,2243.5 1466.0,2243.4 1466.5,2243.4 1467.0,2243.6 1467.5,2243.5 1468.0,2243.6 1468.5,2243.6 1469.0,2243.7 1469.5,2243.7 1470.0,2243.4 1470.5,2243.5 1471.0,2243.3 1471.5,2243.5 1472.0,2243.5 1472.5,2243.3 1473.0,2243.5 1473.5,2243.5 1474.0,2243.5 1474.5,2243.5 1475.0,2243.4 1475.5,2243.5 1476.0,2243.8 1476.5,2243.5 1477.0,2243.4 1477.5,2243.5 1478.0,2243.7 1478.5,2243.3 1479.0,2243.7 1479.5,2243.4 1480.0,2243.6 1480.5,2243.6 1481.0,2243.4 1481.5,2243.5 1482.0,2243.6 1482.5,2243.5 1483.0,2243.3 1483.5,2243.6 1484.0,2243.4 1484.5,2243.6 1485.0,2243.5 1485.5,2243.3 1486.0,2243.6 1486.5,2243.5 1487.0,2243.6 1487.5,2243.5 1488.0,2243.4 1488.5,2243.3 1489.0,2243.5 1489.5,2243.4 1490.0,2243.4 1490.5,2243.2 1491.0,2243.3 1491.5,2243.5 1492.0,2243.5 1492.5,2243.7 1493.0,2243.7 1493.5,2243.4 1494.0,2243.6 1494.5,2243.5 1495.0,2243.3 1495.5,2243.6 1496.0,2243.4 1496.5,2243.4 1497.0,2243.4 1497.5,2243.5 1498.0,2243.4 1498.5,2243.4 1499.0,2243.5 1499.5,2243.6 1500.0,2243.4 1500.5,2243.4 1501.0,2243.5 1501.5,2243.5 1502.0,2243.6 1502.5,2243.7 1503.0,2243.2 1503.5,2243.6 1504.0,2243.5 1504.5,2243.6 1505.0,2243.4 1505.5,2243.5 1506.0,2243.7 1506.5,2243.7 1507.0,2243.6 1507.5,2243.5 1508.0,2243.4 1508.5,2243.5 1509.0,2243.3 1509.5,2243.4 1510.0,2243.3 1510.5,2243.4 1511.0,2243.4 1511.5,2243.4 1512.0,2243.3 1512.5,2243.0 1513.0,2242.7 1513.5,2242.3 1514.0,2241.9 1514.5,2241.2 1515.0,2240.7 1515.5,2240.4 1516.0,2240.5 1516.5,2240.8 1517.0,2241.3 1517.5,2241.6 1518.0,2242.2 1518.5,2242.5 1519.0,2243.0 1519.5,2243.0 1520.0,2243.4 1520.5,2243.5 1521.0,2243.2 1521.5,2243.4 1522.0,2243.3 1522.5,2243.2 1523.0,2242.8 1523.5,2242.1 1524.0,2241.2 1524.5,2240.1 1525.0,2239.6 1525.5,2239.6 1526.0,2240.5 1526.5,2241.2 1527.0,2242.4 1527.5,2242.9 1528.0,2243.2 1528.5,2243.5 1529.0,2243.5 1529.5,2243.6 1530.0,2243.4 1530.5,2243.5 1531.0,2243.4 1531.5,2243.3 1532.0,2243.7"/>
<rect x="125.6" y="1361.2" width="1407.2" height="953.8" fill="none" stroke="#000" stroke-width="3"/>
<line x1="124" y1="2315" x2="1534" y2="2315" stroke="#000" stroke-width="3.4"/>
<line x1="128" y1="2293" x2="128" y2="2315" stroke="#000" stroke-width="3.5"/>
<line x1="121.5" y1="1361.2" x2="126" y2="1361.2" stroke="#000" stroke-width="2.6"/>
<g stroke="#000" stroke-width="2.6"><line x1="121.5" y1="1399.2" x2="125" y2="1399.2"/><line x1="121.5" y1="1435.9" x2="125" y2="1435.9"/><line x1="121.5" y1="1472.7" x2="125" y2="1472.7"/><line x1="121.5" y1="1509.4" x2="125" y2="1509.4"/><line x1="121.5" y1="1546.1" x2="125" y2="1546.1"/><line x1="121.5" y1="1582.8" x2="125" y2="1582.8"/><line x1="121.5" y1="1619.5" x2="125" y2="1619.5"/><line x1="121.5" y1="1656.3" x2="125" y2="1656.3"/><line x1="121.5" y1="1693.0" x2="125" y2="1693.0"/><line x1="121.5" y1="1729.7" x2="125" y2="1729.7"/><line x1="121.5" y1="1766.4" x2="125" y2="1766.4"/><line x1="121.5" y1="1803.1" x2="125" y2="1803.1"/><line x1="121.5" y1="1839.9" x2="125" y2="1839.9"/><line x1="121.5" y1="1876.6" x2="125" y2="1876.6"/><line x1="121.5" y1="1913.3" x2="125" y2="1913.3"/><line x1="121.5" y1="1950.0" x2="125" y2="1950.0"/><line x1="121.5" y1="1986.7" x2="125" y2="1986.7"/><line x1="121.5" y1="2023.5" x2="125" y2="2023.5"/><line x1="121.5" y1="2060.2" x2="125" y2="2060.2"/></g>
<line x1="121.5" y1="2096" x2="125" y2="2096" stroke="#ff0000" stroke-width="2.6"/>
<g stroke="#00aa00" stroke-width="2.4"><line x1="121.5" y1="2207" x2="125" y2="2207"/><line x1="121.5" y1="2243.5" x2="125" y2="2243.5"/><line x1="121.5" y1="2280" x2="125" y2="2280"/></g>
<g stroke="#000" stroke-width="3.6"><line x1="244.0" y1="2315" x2="244.0" y2="2340"/><line x1="478.5" y1="2315" x2="478.5" y2="2340"/><line x1="713.0" y1="2315" x2="713.0" y2="2340"/><line x1="947.5" y1="2315" x2="947.5" y2="2340"/><line x1="1182.0" y1="2315" x2="1182.0" y2="2340"/><line x1="1416.6" y1="2315" x2="1416.6" y2="2340"/></g>
<g stroke="#999" stroke-width="1.5"><line x1="244.0" y1="2311.5" x2="244.0" y2="2313.5"/><line x1="361.2" y1="2311.5" x2="361.2" y2="2313.5"/><line x1="478.5" y1="2311.5" x2="478.5" y2="2313.5"/><line x1="595.7" y1="2311.5" x2="595.7" y2="2313.5"/><line x1="713.0" y1="2311.5" x2="713.0" y2="2313.5"/><line x1="830.3" y1="2311.5" x2="830.3" y2="2313.5"/><line x1="947.5" y1="2311.5" x2="947.5" y2="2313.5"/><line x1="1064.8" y1="2311.5" x2="1064.8" y2="2313.5"/><line x1="1182.0" y1="2311.5" x2="1182.0" y2="2313.5"/><line x1="1299.3" y1="2311.5" x2="1299.3" y2="2313.5"/><line x1="1416.6" y1="2311.5" x2="1416.6" y2="2313.5"/></g>
<g font-family="'Liberation Sans', Arial, sans-serif" font-weight="bold" font-size="64.5" text-anchor="middle" fill="#000"><text x="244.5" y="2408.7">10</text><text x="479.0" y="2408.7">20</text><text x="713.5" y="2408.7">30</text><text x="948.0" y="2408.7">40</text><text x="1182.5" y="2408.7">50</text><text x="1417.1" y="2408.7">60</text></g>
<text x="662.6" y="2526.6" font-family="'Liberation Sans', Arial, sans-serif" font-weight="bold" font-size="71.5" fill="#000">2theta, deg.</text>
<text transform="translate(86.8,2065.6) rotate(-90)" font-family="'Liberation Sans', Arial, sans-serif" font-weight="bold" font-size="71.5" fill="#000">Intensity, a.u.</text>
<text x="1570.2" y="1487" font-family="'Liberation Sans', Arial, sans-serif" font-weight="bold" font-size="96" fill="#000">(b)</text>
<text x="788.2" y="1482.6" font-family="'Liberation Sans', Arial, sans-serif" font-weight="bold" font-size="48" fill="#ff0000">96-400-2454 Sr<tspan font-size="28" dy="16">9.3</tspan><tspan dy="-16">Ni</tspan><tspan font-size="28" dy="16">1.2</tspan><tspan dy="-16">(PO</tspan><tspan font-size="28" dy="16">4</tspan><tspan dy="-16">)</tspan><tspan font-size="28" dy="16">7</tspan><tspan dy="-16"> (82%)</tspan></text>
<text x="788.2" y="1548.3" font-family="'Liberation Sans', Arial, sans-serif" font-weight="bold" font-size="48" fill="#00ab80">96-810-3717 Sr<tspan font-size="28" dy="16">3</tspan><tspan dy="-16">(PO</tspan><tspan font-size="28" dy="16">4</tspan><tspan dy="-16">)</tspan><tspan font-size="28" dy="16">2</tspan><tspan dy="-16"> (18%)</tspan></text>
</svg>
</body></html>
